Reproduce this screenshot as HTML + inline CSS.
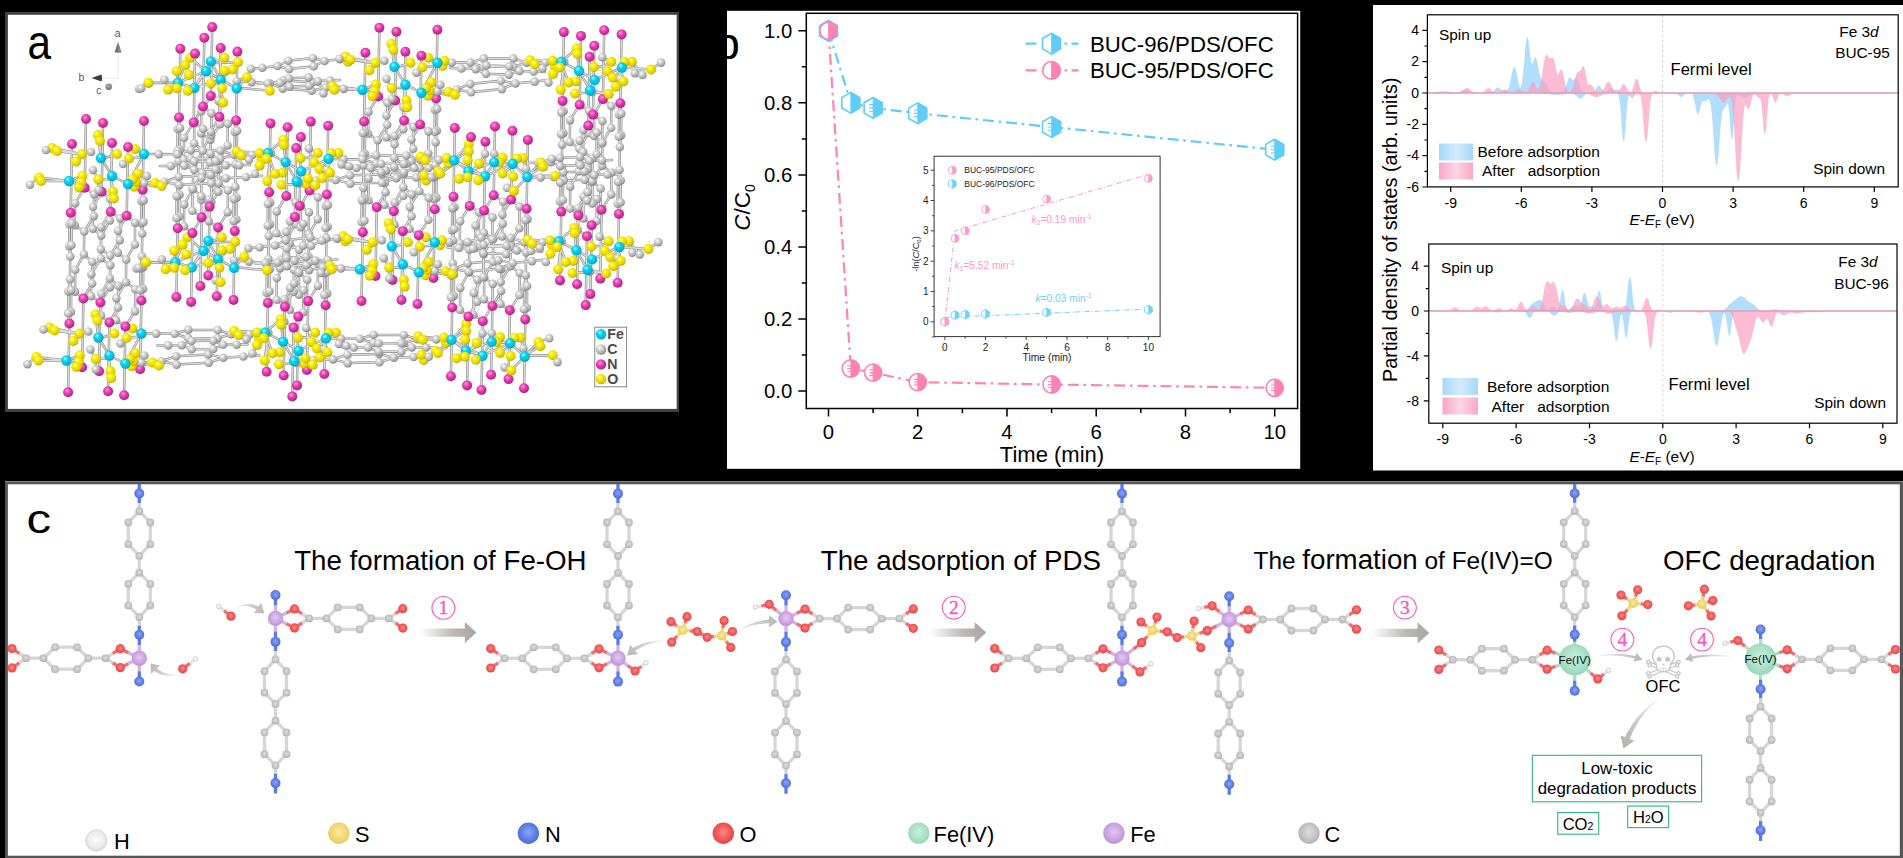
<!DOCTYPE html>
<html><head><meta charset="utf-8"><title>Figure</title>
<style>
html,body{margin:0;padding:0;background:#000;}
body{width:1903px;height:858px;overflow:hidden;position:relative;font-family:"Liberation Sans",sans-serif;}
svg text{font-family:"Liberation Sans",sans-serif;}
</style></head><body>
<svg width="1903" height="858" viewBox="0 0 1903 858" style="position:absolute;left:0;top:0;display:block" font-family="Liberation Sans, sans-serif">
<defs>
<radialGradient id="gC" cx="0.38" cy="0.33" r="0.72"><stop offset="0" stop-color="#ffffff"/><stop offset="0.35" stop-color="#d2d2d2"/><stop offset="0.75" stop-color="#a8a8a8"/><stop offset="1" stop-color="#787878"/></radialGradient>
<radialGradient id="gO" cx="0.38" cy="0.33" r="0.72"><stop offset="0" stop-color="#ffffa0"/><stop offset="0.35" stop-color="#f8ea00"/><stop offset="0.75" stop-color="#e0cf00"/><stop offset="1" stop-color="#a89a00"/></radialGradient>
<radialGradient id="gN" cx="0.4" cy="0.35" r="0.7"><stop offset="0" stop-color="#ff9be0"/><stop offset="0.4" stop-color="#ea3eb4"/><stop offset="1" stop-color="#a81c7c"/></radialGradient>
<radialGradient id="gF" cx="0.38" cy="0.33" r="0.72"><stop offset="0" stop-color="#aaf8ff"/><stop offset="0.35" stop-color="#08d2f0"/><stop offset="0.75" stop-color="#00bcdc"/><stop offset="1" stop-color="#0090ac"/></radialGradient>
<radialGradient id="mC" cx="0.5" cy="0.45" r="0.55"><stop offset="0" stop-color="#dedede"/><stop offset="0.7" stop-color="#c0c0c0"/><stop offset="1" stop-color="#b4b4b4"/></radialGradient>
<radialGradient id="mO" cx="0.5" cy="0.45" r="0.55"><stop offset="0" stop-color="#fa8888"/><stop offset="0.7" stop-color="#f05252"/><stop offset="1" stop-color="#e84646"/></radialGradient>
<radialGradient id="mN" cx="0.5" cy="0.45" r="0.55"><stop offset="0" stop-color="#8ca5f3"/><stop offset="0.7" stop-color="#5a7ae6"/><stop offset="1" stop-color="#4e6fdc"/></radialGradient>
<radialGradient id="mFe" cx="0.5" cy="0.45" r="0.55"><stop offset="0" stop-color="#e6c6f4"/><stop offset="0.7" stop-color="#c9a2e0"/><stop offset="1" stop-color="#bb93d4"/></radialGradient>
<radialGradient id="mS" cx="0.5" cy="0.45" r="0.55"><stop offset="0" stop-color="#f9e9a4"/><stop offset="0.7" stop-color="#f0d670"/><stop offset="1" stop-color="#e6c95c"/></radialGradient>
<radialGradient id="mH" cx="0.5" cy="0.45" r="0.55"><stop offset="0" stop-color="#fbfbfb"/><stop offset="0.7" stop-color="#ececec"/><stop offset="1" stop-color="#d6d6d6"/></radialGradient>
<radialGradient id="mF4" cx="0.5" cy="0.45" r="0.55"><stop offset="0" stop-color="#c9f0de"/><stop offset="0.7" stop-color="#a6dfc4"/><stop offset="1" stop-color="#98d6b8"/></radialGradient>
<linearGradient id="arr" x1="0" y1="0" x2="1" y2="0"><stop offset="0" stop-color="#aaa6a4" stop-opacity="0"/><stop offset="0.6" stop-color="#aaa6a4" stop-opacity="0.8"/><stop offset="1" stop-color="#a9a5a3" stop-opacity="1"/></linearGradient>
<linearGradient id="legB" x1="0" y1="0" x2="1" y2="0"><stop offset="0" stop-color="#a6d8f8"/><stop offset="0.5" stop-color="#d3ecfc"/><stop offset="1" stop-color="#a6d8f8"/></linearGradient>
<linearGradient id="legP" x1="0" y1="0" x2="1" y2="0"><stop offset="0" stop-color="#f9a6c6"/><stop offset="0.5" stop-color="#fdd6e5"/><stop offset="1" stop-color="#f9a6c6"/></linearGradient>
</defs>
<rect x="5" y="12" width="674" height="400" fill="#424242"/><rect x="7.900" y="14.800" width="668.800" height="394.100" fill="#fff"/><clipPath id="clipa"><rect x="7.900" y="14.800" width="668.800" height="394.100"/></clipPath><g clip-path="url(#clipa)"><path d="M86.0 119.0L84.7 187.8M84.7 187.8L94.1 194.2M84.7 187.8L75.1 203.2M94.1 194.2L93.8 216.1M75.1 203.2L74.8 225.1M93.8 216.1L84.2 231.5M74.8 225.1L84.2 231.5M84.2 231.5L83.9 254.3M83.9 254.3L75.2 269.8M83.9 254.3L92.3 261.7M75.2 269.8L75.0 291.6M92.3 261.7L92.1 283.5M75.0 291.6L83.4 298.5M92.1 283.5L83.4 298.5M103.0 123.0L101.7 191.8M101.7 191.8L110.1 198.7M101.7 191.8L93.0 206.8M110.1 198.7L109.9 220.5M93.0 206.8L92.8 228.6M109.9 220.5L101.2 235.5M92.8 228.6L101.2 235.5M101.2 235.5L100.9 258.3M100.9 258.3L110.3 265.2M100.9 258.3L91.3 274.2M110.3 265.2L110.0 287.1M91.3 274.2L91.0 296.1M110.0 287.1L100.4 302.5M91.0 296.1L100.4 302.5M144.0 121.0L142.7 189.8M142.7 189.8L143.7 200.2M142.7 189.8L141.4 201.3M143.7 200.2L143.5 222.0M141.4 201.3L141.2 223.1M143.5 222.0L142.2 233.5M141.2 223.1L142.2 233.5M142.2 233.5L141.9 256.3M141.9 256.3L143.2 267.1M141.9 256.3L140.4 268.4M143.2 267.1L143.0 288.9M140.4 268.4L140.1 290.3M143.0 288.9L141.4 300.5M140.1 290.3L141.4 300.5M72.0 144.0L70.7 212.8M70.7 212.8L71.7 223.2M70.7 212.8L69.4 224.3M71.7 223.2L71.5 245.0M69.4 224.3L69.2 246.1M71.5 245.0L70.2 256.5M69.2 246.1L70.2 256.5M70.2 256.5L69.9 279.3M69.9 279.3L71.2 290.1M69.9 279.3L68.4 291.4M71.2 290.1L71.0 311.9M68.4 291.4L68.1 313.3M71.0 311.9L69.4 323.5M68.1 313.3L69.4 323.5M112.0 143.0L110.7 211.8M110.7 211.8L120.1 218.2M110.7 211.8L101.1 227.2M120.1 218.2L119.8 240.1M101.1 227.2L100.8 249.1M119.8 240.1L110.2 255.5M100.8 249.1L110.2 255.5M110.2 255.5L109.9 278.3M109.9 278.3L101.2 293.8M109.9 278.3L118.3 285.7M101.2 293.8L101.0 315.6M118.3 285.7L118.1 307.5M101.0 315.6L109.4 322.5M118.1 307.5L109.4 322.5M128.0 147.0L126.7 215.8M126.7 215.8L135.1 222.7M126.7 215.8L118.0 230.8M135.1 222.7L134.9 244.5M118.0 230.8L117.8 252.6M134.9 244.5L126.2 259.5M117.8 252.6L126.2 259.5M126.2 259.5L125.9 282.3M125.9 282.3L135.3 289.2M125.9 282.3L116.3 298.2M135.3 289.2L135.0 311.1M116.3 298.2L116.0 320.1M135.0 311.1L125.4 326.5M116.0 320.1L125.4 326.5M52.0 148.0L85.4 155.0M57.0 151.0L85.4 155.0M98.0 135.0L101.0 158.0M100.0 141.0L101.0 158.0M82.0 154.0L85.4 155.0M76.0 161.5L85.4 155.0M117.0 154.0L102.4 159.0M135.0 149.0L144.0 154.0M129.0 158.5L143.4 157.0M138.0 173.7L127.4 183.0M39.0 177.4L69.0 181.0M41.0 181.0L69.0 181.0M82.4 175.7L71.4 180.0M81.2 182.5L71.4 180.0M79.0 187.4L71.4 180.0M98.3 179.4L111.4 179.0M113.0 191.6L111.4 179.0M113.8 198.4L111.4 179.0M155.0 183.0L128.0 184.0M161.5 186.0L128.0 184.0M132.6 179.4L127.4 183.0M46.0 150.0L52.0 148.0M30.0 184.7L39.0 177.4M98.3 190.0L98.3 179.4M91.0 152.0L82.0 154.0M123.0 164.0L129.0 158.5M93.0 170.0L98.3 179.4M147.0 176.0L138.0 173.7M128.0 184.0L144.0 154.0M128.0 184.0L112.0 176.0M101.0 158.0L112.0 176.0M379.4 27.7L378.1 96.5M378.1 96.5L387.5 102.9M378.1 96.5L368.5 111.9M387.5 102.9L387.2 124.8M368.5 111.9L368.2 133.8M387.2 124.8L377.6 140.2M368.2 133.8L377.6 140.2M377.6 140.2L377.3 163.0M377.3 163.0L368.6 178.5M377.3 163.0L385.7 170.4M368.6 178.5L368.4 200.3M385.7 170.4L385.5 192.2M368.4 200.3L376.8 207.2M385.5 192.2L376.8 207.2M396.4 31.7L395.1 100.5M395.1 100.5L403.5 107.4M395.1 100.5L386.4 115.5M403.5 107.4L403.3 129.2M386.4 115.5L386.2 137.3M403.3 129.2L394.6 144.2M386.2 137.3L394.6 144.2M394.6 144.2L394.3 167.0M394.3 167.0L403.7 173.9M394.3 167.0L384.7 182.9M403.7 173.9L403.4 195.8M384.7 182.9L384.4 204.8M403.4 195.8L393.8 211.2M384.4 204.8L393.8 211.2M437.4 29.7L436.1 98.5M436.1 98.5L437.1 108.9M436.1 98.5L434.8 110.0M437.1 108.9L436.9 130.7M434.8 110.0L434.6 131.8M436.9 130.7L435.6 142.2M434.6 131.8L435.6 142.2M435.6 142.2L435.3 165.0M435.3 165.0L436.6 175.8M435.3 165.0L433.8 177.1M436.6 175.8L436.4 197.6M433.8 177.1L433.5 199.0M436.4 197.6L434.8 209.2M433.5 199.0L434.8 209.2M365.4 52.7L364.1 121.5M364.1 121.5L365.1 131.9M364.1 121.5L362.8 133.0M365.1 131.9L364.9 153.7M362.8 133.0L362.6 154.8M364.9 153.7L363.6 165.2M362.6 154.8L363.6 165.2M363.6 165.2L363.3 188.0M363.3 188.0L364.6 198.8M363.3 188.0L361.8 200.1M364.6 198.8L364.4 220.6M361.8 200.1L361.5 222.0M364.4 220.6L362.8 232.2M361.5 222.0L362.8 232.2M405.4 51.7L404.1 120.5M404.1 120.5L413.5 126.9M404.1 120.5L394.5 135.9M413.5 126.9L413.2 148.8M394.5 135.9L394.2 157.8M413.2 148.8L403.6 164.2M394.2 157.8L403.6 164.2M403.6 164.2L403.3 187.0M403.3 187.0L394.6 202.5M403.3 187.0L411.7 194.4M394.6 202.5L394.4 224.3M411.7 194.4L411.5 216.2M394.4 224.3L402.8 231.2M411.5 216.2L402.8 231.2M421.4 55.7L420.1 124.5M420.1 124.5L428.5 131.4M420.1 124.5L411.4 139.5M428.5 131.4L428.3 153.2M411.4 139.5L411.2 161.3M428.3 153.2L419.6 168.2M411.2 161.3L419.6 168.2M419.6 168.2L419.3 191.0M419.3 191.0L428.7 197.9M419.3 191.0L409.7 206.9M428.7 197.9L428.4 219.8M409.7 206.9L409.4 228.8M428.4 219.8L418.8 235.2M409.4 228.8L418.8 235.2M345.4 56.7L378.8 63.7M350.4 59.7L378.8 63.7M391.4 43.7L394.4 66.7M393.4 49.7L394.4 66.7M375.4 62.7L378.8 63.7M369.4 70.2L378.8 63.7M410.4 62.7L395.8 67.7M428.4 57.7L437.4 62.7M422.4 67.2L436.8 65.7M431.4 82.4L420.8 91.7M332.4 86.1L362.4 89.7M334.4 89.7L362.4 89.7M375.8 84.4L364.8 88.7M374.6 91.2L364.8 88.7M372.4 96.1L364.8 88.7M391.7 88.1L404.8 87.7M406.4 100.3L404.8 87.7M407.2 107.1L404.8 87.7M448.4 91.7L421.4 92.7M454.9 94.7L421.4 92.7M426.0 88.1L420.8 91.7M339.4 58.7L345.4 56.7M323.4 93.4L332.4 86.1M391.7 98.7L391.7 88.1M384.4 60.7L375.4 62.7M416.4 72.7L422.4 67.2M386.4 78.7L391.7 88.1M440.4 84.7L431.4 82.4M421.4 92.7L437.4 62.7M421.4 92.7L405.4 84.7M394.4 66.7L405.4 84.7M83.4 298.5L82.1 367.3M100.4 302.5L99.1 371.3M141.4 300.5L140.1 369.3M69.4 323.5L68.1 392.3M109.4 322.5L108.1 391.3M125.4 326.5L124.1 395.3M49.4 327.5L82.8 334.5M54.4 330.5L82.8 334.5M95.4 314.5L98.4 337.5M97.4 320.5L98.4 337.5M79.4 333.5L82.8 334.5M73.4 341.0L82.8 334.5M114.4 333.5L99.8 338.5M132.4 328.5L141.4 333.5M126.4 338.0L140.8 336.5M135.4 353.2L124.8 362.5M36.4 356.9L66.4 360.5M38.4 360.5L66.4 360.5M79.8 355.2L68.8 359.5M78.6 362.0L68.8 359.5M76.4 366.9L68.8 359.5M95.7 358.9L108.8 358.5M110.4 371.1L108.8 358.5M111.2 377.9L108.8 358.5M152.4 362.5L125.4 363.5M158.9 365.5L125.4 363.5M130.0 358.9L124.8 362.5M43.4 329.5L49.4 327.5M27.4 364.2L36.4 356.9M95.7 369.5L95.7 358.9M88.4 331.5L79.4 333.5M120.4 343.5L126.4 338.0M90.4 349.5L95.7 358.9M144.4 355.5L135.4 353.2M125.4 363.5L141.4 333.5M125.4 363.5L109.4 355.5M98.4 337.5L109.4 355.5M376.8 207.2L375.5 276.0M393.8 211.2L392.5 280.0M434.8 209.2L433.5 278.0M362.8 232.2L361.5 301.0M402.8 231.2L401.5 300.0M418.8 235.2L417.5 304.0M342.8 236.2L376.2 243.2M347.8 239.2L376.2 243.2M388.8 223.2L391.8 246.2M390.8 229.2L391.8 246.2M372.8 242.2L376.2 243.2M366.8 249.7L376.2 243.2M407.8 242.2L393.2 247.2M425.8 237.2L434.8 242.2M419.8 246.7L434.2 245.2M428.8 261.9L418.2 271.2M329.8 265.6L359.8 269.2M331.8 269.2L359.8 269.2M373.2 263.9L362.2 268.2M372.0 270.7L362.2 268.2M369.8 275.6L362.2 268.2M389.1 267.6L402.2 267.2M403.8 279.8L402.2 267.2M404.6 286.6L402.2 267.2M445.8 271.2L418.8 272.2M452.3 274.2L418.8 272.2M423.4 267.6L418.2 271.2M336.8 238.2L342.8 236.2M320.8 272.9L329.8 265.6M389.1 278.2L389.1 267.6M381.8 240.2L372.8 242.2M413.8 252.2L419.8 246.7M383.8 258.2L389.1 267.6M437.8 264.2L428.8 261.9M418.8 272.2L434.8 242.2M418.8 272.2L402.8 264.2M391.8 246.2L402.8 264.2M270.5 123.4L269.2 192.2M269.2 192.2L270.2 202.6M269.2 192.2L267.9 203.7M270.2 202.6L270.0 224.4M267.9 203.7L267.7 225.5M270.0 224.4L268.7 235.9M267.7 225.5L268.7 235.9M268.7 235.9L268.4 258.7M268.4 258.7L269.7 269.5M268.4 258.7L266.9 270.8M269.7 269.5L269.5 291.3M266.9 270.8L266.6 292.7M269.5 291.3L267.9 302.9M266.6 292.7L267.9 302.9M287.6 127.2L286.3 196.0M286.3 196.0L295.7 202.4M286.3 196.0L276.7 211.4M295.7 202.4L295.4 224.3M276.7 211.4L276.4 233.3M295.4 224.3L285.8 239.7M276.4 233.3L285.8 239.7M285.8 239.7L285.5 262.5M285.5 262.5L276.8 278.0M285.5 262.5L293.9 269.9M276.8 278.0L276.6 299.8M293.9 269.9L293.7 291.7M276.6 299.8L285.0 306.7M293.7 291.7L285.0 306.7M310.8 121.6L309.5 190.4M309.5 190.4L317.9 197.3M309.5 190.4L300.8 205.4M317.9 197.3L317.7 219.1M300.8 205.4L300.6 227.2M317.7 219.1L309.0 234.1M300.6 227.2L309.0 234.1M309.0 234.1L308.7 256.9M308.7 256.9L318.1 263.8M308.7 256.9L299.1 272.8M318.1 263.8L317.8 285.7M299.1 272.8L298.8 294.7M317.8 285.7L308.2 301.1M298.8 294.7L308.2 301.1M328.2 125.7L326.9 194.5M326.9 194.5L327.9 204.9M326.9 194.5L325.6 206.0M327.9 204.9L327.7 226.7M325.6 206.0L325.4 227.8M327.7 226.7L326.4 238.2M325.4 227.8L326.4 238.2M326.4 238.2L326.1 261.0M326.1 261.0L327.4 271.8M326.1 261.0L324.6 273.1M327.4 271.8L327.2 293.6M324.6 273.1L324.3 295.0M327.2 293.6L325.6 305.2M324.3 295.0L325.6 305.2M300.9 137.1L299.6 205.9M299.6 205.9L309.0 212.3M299.6 205.9L290.0 221.3M309.0 212.3L308.7 234.2M290.0 221.3L289.7 243.2M308.7 234.2L299.1 249.6M289.7 243.2L299.1 249.6M299.1 249.6L298.8 272.4M298.8 272.4L290.1 287.9M298.8 272.4L307.2 279.8M290.1 287.9L289.9 309.7M307.2 279.8L307.0 301.6M289.9 309.7L298.3 316.6M307.0 301.6L298.3 316.6M296.2 148.1L294.9 216.9M294.9 216.9L303.3 223.8M294.9 216.9L286.2 231.9M303.3 223.8L303.1 245.6M286.2 231.9L286.0 253.7M303.1 245.6L294.4 260.6M286.0 253.7L294.4 260.6M294.4 260.6L294.1 283.4M294.1 283.4L303.5 290.3M294.1 283.4L284.5 299.3M303.5 290.3L303.2 312.2M284.5 299.3L284.2 321.2M303.2 312.2L293.6 327.6M284.2 321.2L293.6 327.6M241.4 155.6L267.9 153.0M236.8 151.5L267.9 153.0M283.4 139.7L267.9 153.0M283.8 145.1L285.6 162.1M266.4 158.8L269.9 159.4M259.6 165.6L269.9 159.4M275.0 173.8L269.9 159.4M282.3 172.7L287.0 163.2M267.4 181.0L269.9 159.4M281.5 184.8L295.6 184.1M300.5 158.3L310.2 157.6M314.1 162.5L310.2 157.6M317.9 153.0L310.2 157.6M331.2 153.3L328.5 158.8M338.4 153.0L328.5 158.8M322.4 178.0L327.6 161.7M315.3 185.3L296.7 181.5M330.0 172.7L327.6 161.7M319.4 168.9L327.6 161.7M270.9 153.0L266.4 158.8M255.0 173.8L259.6 165.6M299.0 183.3L315.3 185.3M327.0 170.0L330.0 172.7M249.0 159.8L241.4 155.6M308.8 148.4L317.9 153.0M349.0 166.2L338.4 153.0M341.4 164.4L338.4 153.0M285.6 162.1L301.2 171.2M285.6 162.1L296.7 181.5M285.6 162.1L267.9 153.0M328.5 158.8L301.2 171.2M301.2 171.2L296.7 181.5M563.9 32.1L562.6 100.9M562.6 100.9L563.6 111.3M562.6 100.9L561.3 112.4M563.6 111.3L563.4 133.1M561.3 112.4L561.1 134.2M563.4 133.1L562.1 144.6M561.1 134.2L562.1 144.6M562.1 144.6L561.8 167.4M561.8 167.4L563.1 178.2M561.8 167.4L560.3 179.5M563.1 178.2L562.9 200.0M560.3 179.5L560.0 201.4M562.9 200.0L561.3 211.6M560.0 201.4L561.3 211.6M581.0 35.9L579.7 104.7M579.7 104.7L589.1 111.1M579.7 104.7L570.1 120.1M589.1 111.1L588.8 133.0M570.1 120.1L569.8 142.0M588.8 133.0L579.2 148.4M569.8 142.0L579.2 148.4M579.2 148.4L578.9 171.2M578.9 171.2L570.2 186.7M578.9 171.2L587.3 178.6M570.2 186.7L570.0 208.5M587.3 178.6L587.1 200.4M570.0 208.5L578.4 215.4M587.1 200.4L578.4 215.4M604.2 30.3L602.9 99.1M602.9 99.1L611.3 106.0M602.9 99.1L594.2 114.1M611.3 106.0L611.1 127.8M594.2 114.1L594.0 135.9M611.1 127.8L602.4 142.8M594.0 135.9L602.4 142.8M602.4 142.8L602.1 165.6M602.1 165.6L611.5 172.5M602.1 165.6L592.5 181.5M611.5 172.5L611.2 194.4M592.5 181.5L592.2 203.4M611.2 194.4L601.6 209.8M592.2 203.4L601.6 209.8M621.6 34.4L620.3 103.2M620.3 103.2L621.3 113.6M620.3 103.2L619.0 114.7M621.3 113.6L621.1 135.4M619.0 114.7L618.8 136.5M621.1 135.4L619.8 146.9M618.8 136.5L619.8 146.9M619.8 146.9L619.5 169.7M619.5 169.7L620.8 180.5M619.5 169.7L618.0 181.8M620.8 180.5L620.6 202.3M618.0 181.8L617.7 203.7M620.6 202.3L619.0 213.9M617.7 203.7L619.0 213.9M594.3 45.8L593.0 114.6M593.0 114.6L602.4 121.0M593.0 114.6L583.4 130.0M602.4 121.0L602.1 142.9M583.4 130.0L583.1 151.9M602.1 142.9L592.5 158.3M583.1 151.9L592.5 158.3M592.5 158.3L592.2 181.1M592.2 181.1L583.5 196.6M592.2 181.1L600.6 188.5M583.5 196.6L583.3 218.4M600.6 188.5L600.4 210.3M583.3 218.4L591.7 225.3M600.4 210.3L591.7 225.3M589.6 56.8L588.3 125.6M588.3 125.6L596.7 132.5M588.3 125.6L579.6 140.6M596.7 132.5L596.5 154.3M579.6 140.6L579.4 162.4M596.5 154.3L587.8 169.3M579.4 162.4L587.8 169.3M587.8 169.3L587.5 192.1M587.5 192.1L596.9 199.0M587.5 192.1L577.9 208.0M596.9 199.0L596.6 220.9M577.9 208.0L577.6 229.9M596.6 220.9L587.0 236.3M577.6 229.9L587.0 236.3M534.8 64.3L561.3 61.7M530.2 60.2L561.3 61.7M576.8 48.4L561.3 61.7M577.2 53.8L579.0 70.8M559.8 67.5L563.3 68.1M553.0 74.3L563.3 68.1M568.4 82.5L563.3 68.1M575.7 81.4L580.4 71.9M560.8 89.7L563.3 68.1M574.9 93.5L589.0 92.8M593.9 67.0L603.6 66.3M607.5 71.2L603.6 66.3M611.3 61.7L603.6 66.3M624.6 62.0L621.9 67.5M631.8 61.7L621.9 67.5M615.8 86.7L621.0 70.4M608.7 94.0L590.1 90.2M623.4 81.4L621.0 70.4M612.8 77.6L621.0 70.4M564.3 61.7L559.8 67.5M548.4 82.5L553.0 74.3M592.4 92.0L608.7 94.0M620.4 78.7L623.4 81.4M542.4 68.5L534.8 64.3M602.2 57.1L611.3 61.7M642.4 74.9L631.8 61.7M634.8 73.1L631.8 61.7M579.0 70.8L594.6 79.9M579.0 70.8L590.1 90.2M579.0 70.8L561.3 61.7M621.9 67.5L594.6 79.9M594.6 79.9L590.1 90.2M267.9 302.9L266.6 371.7M285.0 306.7L283.7 375.5M308.2 301.1L306.9 369.9M325.6 305.2L324.3 374.0M298.3 316.6L297.0 385.4M293.6 327.6L292.3 396.4M238.8 335.1L265.3 332.5M234.2 331.0L265.3 332.5M280.8 319.2L265.3 332.5M281.2 324.6L283.0 341.6M263.8 338.3L267.3 338.9M257.0 345.1L267.3 338.9M272.4 353.3L267.3 338.9M279.7 352.2L284.4 342.7M264.8 360.5L267.3 338.9M278.9 364.3L293.0 363.6M297.9 337.8L307.6 337.1M311.5 342.0L307.6 337.1M315.3 332.5L307.6 337.1M328.6 332.8L325.9 338.3M335.8 332.5L325.9 338.3M319.8 357.5L325.0 341.2M312.7 364.8L294.1 361.0M327.4 352.2L325.0 341.2M316.8 348.4L325.0 341.2M268.3 332.5L263.8 338.3M252.4 353.3L257.0 345.1M296.4 362.8L312.7 364.8M324.4 349.5L327.4 352.2M246.4 339.3L238.8 335.1M306.2 327.9L315.3 332.5M346.4 345.7L335.8 332.5M338.8 343.9L335.8 332.5M283.0 341.6L298.6 350.7M283.0 341.6L294.1 361.0M283.0 341.6L265.3 332.5M325.9 338.3L298.6 350.7M298.6 350.7L294.1 361.0M561.3 211.6L560.0 280.4M578.4 215.4L577.1 284.2M601.6 209.8L600.3 278.6M619.0 213.9L617.7 282.7M591.7 225.3L590.4 294.1M587.0 236.3L585.7 305.1M532.2 243.8L558.7 241.2M527.6 239.7L558.7 241.2M574.2 227.9L558.7 241.2M574.6 233.3L576.4 250.3M557.2 247.0L560.7 247.6M550.4 253.8L560.7 247.6M565.8 262.0L560.7 247.6M573.1 260.9L577.8 251.4M558.2 269.2L560.7 247.6M572.3 273.0L586.4 272.3M591.3 246.5L601.0 245.8M604.9 250.7L601.0 245.8M608.7 241.2L601.0 245.8M622.0 241.5L619.3 247.0M629.2 241.2L619.3 247.0M613.2 266.2L618.4 249.9M606.1 273.5L587.5 269.7M620.8 260.9L618.4 249.9M610.2 257.1L618.4 249.9M561.7 241.2L557.2 247.0M545.8 262.0L550.4 253.8M589.8 271.5L606.1 273.5M617.8 258.2L620.8 260.9M539.8 248.0L532.2 243.8M599.6 236.6L608.7 241.2M639.8 254.4L629.2 241.2M632.2 252.6L629.2 241.2M576.4 250.3L592.0 259.4M576.4 250.3L587.5 269.7M576.4 250.3L558.7 241.2M619.3 247.0L592.0 259.4M592.0 259.4L587.5 269.7M212.2 27.1L210.9 95.9M210.9 95.9L220.3 102.3M210.9 95.9L201.3 111.3M220.3 102.3L220.0 124.2M201.3 111.3L201.0 133.2M220.0 124.2L210.4 139.6M201.0 133.2L210.4 139.6M210.4 139.6L210.1 162.4M210.1 162.4L201.4 177.9M210.1 162.4L218.5 169.8M201.4 177.9L201.2 199.7M218.5 169.8L218.3 191.6M201.2 199.7L209.6 206.6M218.3 191.6L209.6 206.6M204.3 37.7L203.0 106.5M203.0 106.5L211.4 113.4M203.0 106.5L194.3 121.5M211.4 113.4L211.2 135.2M194.3 121.5L194.1 143.3M211.2 135.2L202.5 150.2M194.1 143.3L202.5 150.2M202.5 150.2L202.2 173.0M202.2 173.0L211.6 179.9M202.2 173.0L192.6 188.9M211.6 179.9L211.3 201.8M192.6 188.9L192.3 210.8M211.3 201.8L201.7 217.2M192.3 210.8L201.7 217.2M180.3 48.7L179.0 117.5M179.0 117.5L180.0 127.9M179.0 117.5L177.7 129.0M180.0 127.9L179.8 149.7M177.7 129.0L177.5 150.8M179.8 149.7L178.5 161.2M177.5 150.8L178.5 161.2M178.5 161.2L178.2 184.0M178.2 184.0L179.5 194.8M178.2 184.0L176.7 196.1M179.5 194.8L179.3 216.6M176.7 196.1L176.4 218.0M179.3 216.6L177.7 228.2M176.4 218.0L177.7 228.2M195.0 53.6L193.7 122.4M193.7 122.4L203.1 128.8M193.7 122.4L184.1 137.8M203.1 128.8L202.8 150.7M184.1 137.8L183.8 159.7M202.8 150.7L193.2 166.1M183.8 159.7L193.2 166.1M193.2 166.1L192.9 188.9M192.9 188.9L184.2 204.4M192.9 188.9L201.3 196.3M184.2 204.4L184.0 226.2M201.3 196.3L201.1 218.1M184.0 226.2L192.4 233.1M201.1 218.1L192.4 233.1M220.7 48.0L219.4 116.8M219.4 116.8L227.8 123.7M219.4 116.8L210.7 131.8M227.8 123.7L227.6 145.5M210.7 131.8L210.5 153.6M227.6 145.5L218.9 160.5M210.5 153.6L218.9 160.5M218.9 160.5L218.6 183.3M218.6 183.3L228.0 190.2M218.6 183.3L209.0 199.2M228.0 190.2L227.7 212.1M209.0 199.2L208.7 221.1M227.7 212.1L218.1 227.5M208.7 221.1L218.1 227.5M237.4 51.6L236.1 120.4M236.1 120.4L237.1 130.8M236.1 120.4L234.8 131.9M237.1 130.8L236.9 152.6M234.8 131.9L234.6 153.7M236.9 152.6L235.6 164.1M234.6 153.7L235.6 164.1M235.6 164.1L235.3 186.9M235.3 186.9L236.6 197.7M235.3 186.9L233.8 199.0M236.6 197.7L236.4 219.5M233.8 199.0L233.5 220.9M236.4 219.5L234.8 231.1M233.5 220.9L234.8 231.1M148.5 83.0L177.9 82.7M168.1 89.6L177.9 82.7M176.7 71.2L177.9 82.7M185.2 65.1L177.9 82.7M188.9 74.9L179.7 84.7M190.1 57.7L206.1 71.2M224.4 57.7L211.6 63.1M237.9 62.2L211.6 63.1M224.4 70.7L220.7 79.8M232.5 69.5L220.7 79.8M246.9 77.3L236.8 87.6M210.9 83.4L220.1 84.0M222.0 88.3L220.1 84.0M223.2 102.5L220.1 84.0M176.7 88.3L179.7 84.7M187.7 90.8L194.4 89.6M269.7 90.8L236.8 87.6M164.4 79.8L168.1 89.6M250.9 68.8L246.9 77.3M236.7 81.0L246.9 77.3M218.3 100.6L223.2 102.5M141.2 88.3L148.5 83.0M194.3 87.9L206.1 71.2M194.3 87.9L210.9 61.4M194.3 87.9L177.9 82.7M194.3 87.9L220.7 79.8M236.7 88.3L206.1 71.2M236.7 88.3L220.7 79.8M206.1 71.2L210.9 61.4M206.1 71.2L177.9 82.7M206.1 71.2L220.7 79.8M210.9 61.4L220.7 79.8M209.6 206.6L208.3 275.4M201.7 217.2L200.4 286.0M177.7 228.2L176.4 297.0M192.4 233.1L191.1 301.9M218.1 227.5L216.8 296.3M234.8 231.1L233.5 299.9M145.9 262.5L175.3 262.2M165.5 269.1L175.3 262.2M174.1 250.7L175.3 262.2M182.6 244.6L175.3 262.2M186.3 254.4L177.1 264.2M187.5 237.2L203.5 250.7M221.8 237.2L209.0 242.6M235.3 241.7L209.0 242.6M221.8 250.2L218.1 259.3M229.9 249.0L218.1 259.3M244.3 256.8L234.2 267.1M208.3 262.9L217.5 263.5M219.4 267.8L217.5 263.5M220.6 282.0L217.5 263.5M174.1 267.8L177.1 264.2M185.1 270.3L191.8 269.1M267.1 270.3L234.2 267.1M161.8 259.3L165.5 269.1M248.3 248.3L244.3 256.8M234.1 260.5L244.3 256.8M215.7 280.1L220.6 282.0M138.6 267.8L145.9 262.5M191.7 267.4L203.5 250.7M191.7 267.4L208.3 240.9M191.7 267.4L175.3 262.2M191.7 267.4L218.1 259.3M234.1 267.8L203.5 250.7M234.1 267.8L218.1 259.3M203.5 250.7L208.3 240.9M203.5 250.7L175.3 262.2M203.5 250.7L218.1 259.3M208.3 240.9L218.1 259.3M454.8 128.0L453.5 196.8M453.5 196.8L454.5 207.2M453.5 196.8L452.2 208.3M454.5 207.2L454.3 229.0M452.2 208.3L452.0 230.1M454.3 229.0L453.0 240.5M452.0 230.1L453.0 240.5M453.0 240.5L452.7 263.3M452.7 263.3L454.0 274.1M452.7 263.3L451.2 275.4M454.0 274.1L453.8 295.9M451.2 275.4L450.9 297.3M453.8 295.9L452.2 307.5M450.9 297.3L452.2 307.5M471.0 137.1L469.7 205.9M469.7 205.9L479.1 212.3M469.7 205.9L460.1 221.3M479.1 212.3L478.8 234.2M460.1 221.3L459.8 243.2M478.8 234.2L469.2 249.6M459.8 243.2L469.2 249.6M469.2 249.6L468.9 272.4M468.9 272.4L460.2 287.9M468.9 272.4L477.3 279.8M460.2 287.9L460.0 309.7M477.3 279.8L477.1 301.6M460.0 309.7L468.4 316.6M477.1 301.6L468.4 316.6M485.4 141.7L484.1 210.5M484.1 210.5L492.5 217.4M484.1 210.5L475.4 225.5M492.5 217.4L492.3 239.2M475.4 225.5L475.2 247.3M492.3 239.2L483.6 254.2M475.2 247.3L483.6 254.2M483.6 254.2L483.3 277.0M483.3 277.0L492.7 283.9M483.3 277.0L473.7 292.9M492.7 283.9L492.4 305.8M473.7 292.9L473.4 314.8M492.4 305.8L482.8 321.2M473.4 314.8L482.8 321.2M495.0 126.5L493.7 195.3M493.7 195.3L503.1 201.7M493.7 195.3L484.1 210.7M503.1 201.7L502.8 223.6M484.1 210.7L483.8 232.6M502.8 223.6L493.2 239.0M483.8 232.6L493.2 239.0M493.2 239.0L492.9 261.8M492.9 261.8L484.2 277.3M492.9 261.8L501.3 269.2M484.2 277.3L484.0 299.1M501.3 269.2L501.1 291.0M484.0 299.1L492.4 306.0M501.1 291.0L492.4 306.0M512.4 130.8L511.1 199.6M511.1 199.6L519.5 206.5M511.1 199.6L502.4 214.6M519.5 206.5L519.3 228.3M502.4 214.6L502.2 236.4M519.3 228.3L510.6 243.3M502.2 236.4L510.6 243.3M510.6 243.3L510.3 266.1M510.3 266.1L519.7 273.0M510.3 266.1L500.7 282.0M519.7 273.0L519.4 294.9M500.7 282.0L500.4 303.9M519.4 294.9L509.8 310.3M500.4 303.9L509.8 310.3M527.9 139.9L526.6 208.7M526.6 208.7L527.6 219.1M526.6 208.7L525.3 220.2M527.6 219.1L527.4 240.9M525.3 220.2L525.1 242.0M527.4 240.9L526.1 252.4M525.1 242.0L526.1 252.4M526.1 252.4L525.8 275.2M525.8 275.2L527.1 286.0M525.8 275.2L524.3 287.3M527.1 286.0L526.9 307.8M524.3 287.3L524.0 309.2M526.9 307.8L525.3 319.4M524.0 309.2L525.3 319.4M425.3 160.3L454.1 160.3M420.7 156.8L454.1 160.3M438.2 171.2L454.2 164.0M440.4 173.5L454.2 164.0M468.8 144.0L454.1 160.3M468.8 151.2L454.1 160.3M467.7 160.3L468.5 171.2M479.1 163.4L470.4 173.1M502.6 157.6L494.2 162.1M499.2 162.6L494.4 162.5M517.0 158.4L512.7 163.7M523.0 158.0L512.7 163.7M541.2 162.6L527.3 175.9M543.0 166.7L527.3 175.9M459.1 178.8L468.5 171.2M467.4 177.3L470.4 173.1M478.3 180.3L484.8 177.7M502.6 173.5L511.8 166.8M513.2 176.5L511.8 166.8M513.9 190.9L527.3 177.0M555.3 175.8L527.3 175.9M485.1 153.8L479.1 163.4M494.2 153.8L502.6 157.6M551.8 158.8L541.2 162.6M526.0 169.0L523.0 158.0M507.1 187.9L513.9 190.9M431.4 177.3L438.2 171.2M560.1 182.6L555.3 175.8M454.1 160.3L485.1 176.2M454.1 160.3L468.5 171.2M512.7 163.7L485.1 176.2M512.7 163.7L527.3 177.0M512.7 163.7L494.2 162.1M485.1 176.2L468.5 171.2M485.1 176.2L494.2 162.1M468.5 171.2L494.2 162.1M452.2 307.5L450.9 376.3M468.4 316.6L467.1 385.4M482.8 321.2L481.5 390.0M492.4 306.0L491.1 374.8M509.8 310.3L508.5 379.1M525.3 319.4L524.0 388.2M422.7 339.8L451.5 339.8M418.1 336.3L451.5 339.8M435.6 350.7L451.6 343.5M437.8 353.0L451.6 343.5M466.2 323.5L451.5 339.8M466.2 330.7L451.5 339.8M465.1 339.8L465.9 350.7M476.5 342.9L467.8 352.6M500.0 337.1L491.6 341.6M496.6 342.1L491.8 342.0M514.4 337.9L510.1 343.2M520.4 337.5L510.1 343.2M538.6 342.1L524.7 355.4M540.4 346.2L524.7 355.4M456.5 358.3L465.9 350.7M464.8 356.8L467.8 352.6M475.7 359.8L482.2 357.2M500.0 353.0L509.2 346.3M510.6 356.0L509.2 346.3M511.3 370.4L524.7 356.5M552.7 355.3L524.7 355.4M482.5 333.3L476.5 342.9M491.6 333.3L500.0 337.1M549.2 338.3L538.6 342.1M523.4 348.5L520.4 337.5M504.5 367.4L511.3 370.4M428.8 356.8L435.6 350.7M557.5 362.1L552.7 355.3M451.5 339.8L482.5 355.7M451.5 339.8L465.9 350.7M510.1 343.2L482.5 355.7M510.1 343.2L524.7 356.5M510.1 343.2L491.6 341.6M482.5 355.7L465.9 350.7M482.5 355.7L491.6 341.6M465.9 350.7L491.6 341.6M250.0 69.0L262.2 67.7M262.2 67.7L277.5 66.0M277.5 66.0L289.2 69.0M277.5 66.0L288.3 60.7M289.2 69.0L313.7 66.3M288.3 60.7L312.8 58.0M313.7 66.3L324.5 61.0M312.8 58.0L324.5 61.0M324.5 61.0L339.8 59.3M339.8 59.3L352.0 58.0M247.4 248.5L259.6 247.2M259.6 247.2L274.9 245.5M274.9 245.5L286.6 248.5M274.9 245.5L285.7 240.2M286.6 248.5L311.1 245.8M285.7 240.2L310.2 237.5M311.1 245.8L321.9 240.5M310.2 237.5L321.9 240.5M321.9 240.5L337.2 238.8M337.2 238.8L349.4 237.5M237.0 81.0L251.5 82.1M251.5 82.1L269.7 83.4M269.7 83.4L282.7 88.6M269.7 83.4L283.3 80.3M282.7 88.6L311.7 90.7M283.3 80.3L312.3 82.4M311.7 90.7L325.3 87.6M312.3 82.4L325.3 87.6M325.3 87.6L343.5 88.9M343.5 88.9L358.0 90.0M234.4 260.5L248.9 261.6M248.9 261.6L267.1 262.9M267.1 262.9L280.1 268.1M267.1 262.9L280.7 259.8M280.1 268.1L309.1 270.2M280.7 259.8L309.7 261.9M309.1 270.2L322.7 267.1M309.7 261.9L322.7 267.1M322.7 267.1L340.9 268.4M340.9 268.4L355.4 269.5M258.0 84.0L267.8 83.5M267.8 83.5L280.1 82.9M280.1 82.9L289.4 86.6M280.1 82.9L289.0 78.3M289.4 86.6L309.0 85.7M289.0 78.3L308.6 77.4M309.0 85.7L317.9 81.1M308.6 77.4L317.9 81.1M317.9 81.1L330.2 80.5M330.2 80.5L340.0 80.0M255.4 263.5L265.2 263.0M265.2 263.0L277.5 262.4M277.5 262.4L286.8 266.1M277.5 262.4L286.4 257.8M286.8 266.1L306.4 265.2M286.4 257.8L306.0 256.9M306.4 265.2L315.3 260.6M306.0 256.9L315.3 260.6M315.3 260.6L327.6 260.0M327.6 260.0L337.4 259.5M437.0 62.6L451.8 62.6M451.8 62.6L470.2 62.6M470.2 62.6L483.7 66.8M470.2 62.6L483.7 58.4M483.7 66.8L513.3 66.8M483.7 58.4L513.3 58.4M513.3 66.8L526.8 62.6M513.3 58.4L526.8 62.6M526.8 62.6L545.2 62.6M545.2 62.6L560.0 62.6M434.4 242.1L449.2 242.1M449.2 242.1L467.6 242.1M467.6 242.1L481.1 246.3M467.6 242.1L481.1 237.9M481.1 246.3L510.7 246.3M481.1 237.9L510.7 237.9M510.7 246.3L524.2 242.1M510.7 237.9L524.2 242.1M524.2 242.1L542.6 242.1M542.6 242.1L557.4 242.1M422.0 93.0L437.4 91.4M437.4 91.4L456.6 89.5M456.6 89.5L471.1 92.2M456.6 89.5L470.2 83.9M471.1 92.2L501.8 89.1M470.2 83.9L500.9 80.8M501.8 89.1L515.4 83.5M500.9 80.8L515.4 83.5M515.4 83.5L534.6 81.6M534.6 81.6L550.0 80.0M419.4 272.5L434.8 270.9M434.8 270.9L454.0 269.0M454.0 269.0L468.5 271.7M454.0 269.0L467.6 263.4M468.5 271.7L499.2 268.6M467.6 263.4L498.3 260.3M499.2 268.6L512.8 263.0M498.3 260.3L512.8 263.0M512.8 263.0L532.0 261.1M532.0 261.1L547.4 259.5M450.0 68.0L461.4 68.5M461.4 68.5L475.6 69.1M475.6 69.1L485.9 73.7M475.6 69.1L486.3 65.4M485.9 73.7L508.7 74.6M486.3 65.4L509.1 66.3M508.7 74.6L519.4 70.9M509.1 66.3L519.4 70.9M519.4 70.9L533.6 71.5M533.6 71.5L545.0 72.0M447.4 247.5L458.8 248.0M458.8 248.0L473.0 248.6M473.0 248.6L483.3 253.2M473.0 248.6L483.7 244.9M483.3 253.2L506.1 254.1M483.7 244.9L506.5 245.8M506.1 254.1L516.8 250.4M506.5 245.8L516.8 250.4M516.8 250.4L531.0 251.0M531.0 251.0L542.4 251.5M144.0 154.0L158.8 154.1M158.8 154.1L177.2 154.3M177.2 154.3L190.7 158.5M177.2 154.3L190.8 150.2M190.7 158.5L220.2 158.8M190.8 150.2L220.3 150.5M220.2 158.8L233.8 154.7M220.3 150.5L233.8 154.7M233.8 154.7L252.2 154.9M252.2 154.9L267.0 155.0M141.4 333.5L156.2 333.6M156.2 333.6L174.6 333.8M174.6 333.8L188.1 338.0M174.6 333.8L188.2 329.7M188.1 338.0L217.6 338.3M188.2 329.7L217.7 330.0M217.6 338.3L231.2 334.2M217.7 330.0L231.2 334.2M231.2 334.2L249.6 334.4M249.6 334.4L264.4 334.5M128.0 184.0L144.1 183.0M144.1 183.0L164.2 181.8M164.2 181.8L179.2 185.1M164.2 181.8L178.7 176.8M179.2 185.1L211.3 183.2M178.7 176.8L210.8 174.9M211.3 183.2L225.8 178.2M210.8 174.9L225.8 178.2M225.8 178.2L245.9 177.0M245.9 177.0L262.0 176.0M125.4 363.5L141.5 362.5M141.5 362.5L161.6 361.3M161.6 361.3L176.6 364.6M161.6 361.3L176.1 356.3M176.6 364.6L208.7 362.7M176.1 356.3L208.2 354.4M208.7 362.7L223.2 357.7M208.2 354.4L223.2 357.7M223.2 357.7L243.3 356.5M243.3 356.5L259.4 355.5M160.0 166.0L170.8 165.9M170.8 165.9L184.3 165.7M184.3 165.7L194.2 169.8M184.3 165.7L194.2 161.5M194.2 169.8L215.8 169.5M194.2 161.5L215.8 161.2M215.8 169.5L225.7 165.3M215.8 161.2L225.7 165.3M225.7 165.3L239.2 165.1M239.2 165.1L250.0 165.0M157.4 345.5L168.2 345.4M168.2 345.4L181.7 345.2M181.7 345.2L191.6 349.3M181.7 345.2L191.6 341.0M191.6 349.3L213.2 349.0M191.6 341.0L213.2 340.7M213.2 349.0L223.1 344.8M213.2 340.7L223.1 344.8M223.1 344.8L236.6 344.6M236.6 344.6L247.4 344.5M328.5 159.0L343.6 159.1M343.6 159.1L362.4 159.3M362.4 159.3L376.2 163.5M362.4 159.3L376.2 155.2M376.2 163.5L406.3 163.8M376.2 155.2L406.3 155.5M406.3 163.8L420.1 159.7M406.3 155.5L420.1 159.7M420.1 159.7L438.9 159.9M438.9 159.9L454.0 160.0M325.9 338.5L341.0 338.6M341.0 338.6L359.8 338.8M359.8 338.8L373.6 343.0M359.8 338.8L373.6 334.7M373.6 343.0L403.7 343.3M373.6 334.7L403.7 335.0M403.7 343.3L417.5 339.2M403.7 335.0L417.5 339.2M417.5 339.2L436.3 339.4M436.3 339.4L451.4 339.5M300.0 181.0L315.8 180.5M315.8 180.5L335.6 179.9M335.6 179.9L350.3 183.6M335.6 179.9L350.0 175.3M350.3 183.6L382.0 182.7M350.0 175.3L381.7 174.4M382.0 182.7L396.4 178.1M381.7 174.4L396.4 178.1M396.4 178.1L416.2 177.5M416.2 177.5L432.0 177.0M297.4 360.5L313.2 360.0M313.2 360.0L333.0 359.4M333.0 359.4L347.7 363.1M333.0 359.4L347.4 354.8M347.7 363.1L379.4 362.2M347.4 354.8L379.1 353.9M379.4 362.2L393.8 357.6M379.1 353.9L393.8 357.6M393.8 357.6L413.6 357.0M413.6 357.0L429.4 356.5M345.0 168.0L356.4 168.0M356.4 168.0L370.6 168.0M370.6 168.0L381.1 172.2M370.6 168.0L381.1 163.8M381.1 172.2L403.9 172.2M381.1 163.8L403.9 163.8M403.9 172.2L414.4 168.0M403.9 163.8L414.4 168.0M414.4 168.0L428.6 168.0M428.6 168.0L440.0 168.0M342.4 347.5L353.8 347.5M353.8 347.5L368.0 347.5M368.0 347.5L378.5 351.7M368.0 347.5L378.5 343.3M378.5 351.7L401.3 351.7M378.5 343.3L401.3 343.3M401.3 351.7L411.8 347.5M401.3 343.3L411.8 347.5M411.8 347.5L426.0 347.5M426.0 347.5L437.4 347.5M530.0 178.0L540.6 177.5M540.6 177.5L553.8 176.9M553.8 176.9L563.6 180.6M553.8 176.9L563.3 172.3M563.6 180.6L584.7 179.7M563.3 172.3L584.4 171.4M584.7 179.7L594.2 175.1M584.4 171.4L594.2 175.1M594.2 175.1L607.4 174.5M607.4 174.5L618.0 174.0M528.0 163.0L538.1 162.6M538.1 162.6L550.7 162.2M550.7 162.2L560.1 166.0M550.7 162.2L559.8 157.7M560.1 166.0L580.2 165.3M559.8 157.7L579.9 157.0M580.2 165.3L589.3 160.8M579.9 157.0L589.3 160.8M589.3 160.8L601.9 160.4M601.9 160.4L612.0 160.0M622.0 67.5L651.0 69.5M651.0 69.5L661.0 62.6M178.0 82.7L148.4 82.8M148.4 82.8L139.0 89.0M619.4 247.0L648.4 249.0M648.4 249.0L658.4 242.1M175.4 262.2L145.8 262.3M145.8 262.3L136.4 268.5" stroke="#8a8a8a" stroke-width="2.5" fill="none" stroke-linecap="round"/><path d="M86.0 119.0L84.7 187.8M84.7 187.8L94.1 194.2M84.7 187.8L75.1 203.2M94.1 194.2L93.8 216.1M75.1 203.2L74.8 225.1M93.8 216.1L84.2 231.5M74.8 225.1L84.2 231.5M84.2 231.5L83.9 254.3M83.9 254.3L75.2 269.8M83.9 254.3L92.3 261.7M75.2 269.8L75.0 291.6M92.3 261.7L92.1 283.5M75.0 291.6L83.4 298.5M92.1 283.5L83.4 298.5M103.0 123.0L101.7 191.8M101.7 191.8L110.1 198.7M101.7 191.8L93.0 206.8M110.1 198.7L109.9 220.5M93.0 206.8L92.8 228.6M109.9 220.5L101.2 235.5M92.8 228.6L101.2 235.5M101.2 235.5L100.9 258.3M100.9 258.3L110.3 265.2M100.9 258.3L91.3 274.2M110.3 265.2L110.0 287.1M91.3 274.2L91.0 296.1M110.0 287.1L100.4 302.5M91.0 296.1L100.4 302.5M144.0 121.0L142.7 189.8M142.7 189.8L143.7 200.2M142.7 189.8L141.4 201.3M143.7 200.2L143.5 222.0M141.4 201.3L141.2 223.1M143.5 222.0L142.2 233.5M141.2 223.1L142.2 233.5M142.2 233.5L141.9 256.3M141.9 256.3L143.2 267.1M141.9 256.3L140.4 268.4M143.2 267.1L143.0 288.9M140.4 268.4L140.1 290.3M143.0 288.9L141.4 300.5M140.1 290.3L141.4 300.5M72.0 144.0L70.7 212.8M70.7 212.8L71.7 223.2M70.7 212.8L69.4 224.3M71.7 223.2L71.5 245.0M69.4 224.3L69.2 246.1M71.5 245.0L70.2 256.5M69.2 246.1L70.2 256.5M70.2 256.5L69.9 279.3M69.9 279.3L71.2 290.1M69.9 279.3L68.4 291.4M71.2 290.1L71.0 311.9M68.4 291.4L68.1 313.3M71.0 311.9L69.4 323.5M68.1 313.3L69.4 323.5M112.0 143.0L110.7 211.8M110.7 211.8L120.1 218.2M110.7 211.8L101.1 227.2M120.1 218.2L119.8 240.1M101.1 227.2L100.8 249.1M119.8 240.1L110.2 255.5M100.8 249.1L110.2 255.5M110.2 255.5L109.9 278.3M109.9 278.3L101.2 293.8M109.9 278.3L118.3 285.7M101.2 293.8L101.0 315.6M118.3 285.7L118.1 307.5M101.0 315.6L109.4 322.5M118.1 307.5L109.4 322.5M128.0 147.0L126.7 215.8M126.7 215.8L135.1 222.7M126.7 215.8L118.0 230.8M135.1 222.7L134.9 244.5M118.0 230.8L117.8 252.6M134.9 244.5L126.2 259.5M117.8 252.6L126.2 259.5M126.2 259.5L125.9 282.3M125.9 282.3L135.3 289.2M125.9 282.3L116.3 298.2M135.3 289.2L135.0 311.1M116.3 298.2L116.0 320.1M135.0 311.1L125.4 326.5M116.0 320.1L125.4 326.5M52.0 148.0L85.4 155.0M57.0 151.0L85.4 155.0M98.0 135.0L101.0 158.0M100.0 141.0L101.0 158.0M82.0 154.0L85.4 155.0M76.0 161.5L85.4 155.0M117.0 154.0L102.4 159.0M135.0 149.0L144.0 154.0M129.0 158.5L143.4 157.0M138.0 173.7L127.4 183.0M39.0 177.4L69.0 181.0M41.0 181.0L69.0 181.0M82.4 175.7L71.4 180.0M81.2 182.5L71.4 180.0M79.0 187.4L71.4 180.0M98.3 179.4L111.4 179.0M113.0 191.6L111.4 179.0M113.8 198.4L111.4 179.0M155.0 183.0L128.0 184.0M161.5 186.0L128.0 184.0M132.6 179.4L127.4 183.0M46.0 150.0L52.0 148.0M30.0 184.7L39.0 177.4M98.3 190.0L98.3 179.4M91.0 152.0L82.0 154.0M123.0 164.0L129.0 158.5M93.0 170.0L98.3 179.4M147.0 176.0L138.0 173.7M128.0 184.0L144.0 154.0M128.0 184.0L112.0 176.0M101.0 158.0L112.0 176.0M379.4 27.7L378.1 96.5M378.1 96.5L387.5 102.9M378.1 96.5L368.5 111.9M387.5 102.9L387.2 124.8M368.5 111.9L368.2 133.8M387.2 124.8L377.6 140.2M368.2 133.8L377.6 140.2M377.6 140.2L377.3 163.0M377.3 163.0L368.6 178.5M377.3 163.0L385.7 170.4M368.6 178.5L368.4 200.3M385.7 170.4L385.5 192.2M368.4 200.3L376.8 207.2M385.5 192.2L376.8 207.2M396.4 31.7L395.1 100.5M395.1 100.5L403.5 107.4M395.1 100.5L386.4 115.5M403.5 107.4L403.3 129.2M386.4 115.5L386.2 137.3M403.3 129.2L394.6 144.2M386.2 137.3L394.6 144.2M394.6 144.2L394.3 167.0M394.3 167.0L403.7 173.9M394.3 167.0L384.7 182.9M403.7 173.9L403.4 195.8M384.7 182.9L384.4 204.8M403.4 195.8L393.8 211.2M384.4 204.8L393.8 211.2M437.4 29.7L436.1 98.5M436.1 98.5L437.1 108.9M436.1 98.5L434.8 110.0M437.1 108.9L436.9 130.7M434.8 110.0L434.6 131.8M436.9 130.7L435.6 142.2M434.6 131.8L435.6 142.2M435.6 142.2L435.3 165.0M435.3 165.0L436.6 175.8M435.3 165.0L433.8 177.1M436.6 175.8L436.4 197.6M433.8 177.1L433.5 199.0M436.4 197.6L434.8 209.2M433.5 199.0L434.8 209.2M365.4 52.7L364.1 121.5M364.1 121.5L365.1 131.9M364.1 121.5L362.8 133.0M365.1 131.9L364.9 153.7M362.8 133.0L362.6 154.8M364.9 153.7L363.6 165.2M362.6 154.8L363.6 165.2M363.6 165.2L363.3 188.0M363.3 188.0L364.6 198.8M363.3 188.0L361.8 200.1M364.6 198.8L364.4 220.6M361.8 200.1L361.5 222.0M364.4 220.6L362.8 232.2M361.5 222.0L362.8 232.2M405.4 51.7L404.1 120.5M404.1 120.5L413.5 126.9M404.1 120.5L394.5 135.9M413.5 126.9L413.2 148.8M394.5 135.9L394.2 157.8M413.2 148.8L403.6 164.2M394.2 157.8L403.6 164.2M403.6 164.2L403.3 187.0M403.3 187.0L394.6 202.5M403.3 187.0L411.7 194.4M394.6 202.5L394.4 224.3M411.7 194.4L411.5 216.2M394.4 224.3L402.8 231.2M411.5 216.2L402.8 231.2M421.4 55.7L420.1 124.5M420.1 124.5L428.5 131.4M420.1 124.5L411.4 139.5M428.5 131.4L428.3 153.2M411.4 139.5L411.2 161.3M428.3 153.2L419.6 168.2M411.2 161.3L419.6 168.2M419.6 168.2L419.3 191.0M419.3 191.0L428.7 197.9M419.3 191.0L409.7 206.9M428.7 197.9L428.4 219.8M409.7 206.9L409.4 228.8M428.4 219.8L418.8 235.2M409.4 228.8L418.8 235.2M345.4 56.7L378.8 63.7M350.4 59.7L378.8 63.7M391.4 43.7L394.4 66.7M393.4 49.7L394.4 66.7M375.4 62.7L378.8 63.7M369.4 70.2L378.8 63.7M410.4 62.7L395.8 67.7M428.4 57.7L437.4 62.7M422.4 67.2L436.8 65.7M431.4 82.4L420.8 91.7M332.4 86.1L362.4 89.7M334.4 89.7L362.4 89.7M375.8 84.4L364.8 88.7M374.6 91.2L364.8 88.7M372.4 96.1L364.8 88.7M391.7 88.1L404.8 87.7M406.4 100.3L404.8 87.7M407.2 107.1L404.8 87.7M448.4 91.7L421.4 92.7M454.9 94.7L421.4 92.7M426.0 88.1L420.8 91.7M339.4 58.7L345.4 56.7M323.4 93.4L332.4 86.1M391.7 98.7L391.7 88.1M384.4 60.7L375.4 62.7M416.4 72.7L422.4 67.2M386.4 78.7L391.7 88.1M440.4 84.7L431.4 82.4M421.4 92.7L437.4 62.7M421.4 92.7L405.4 84.7M394.4 66.7L405.4 84.7M83.4 298.5L82.1 367.3M100.4 302.5L99.1 371.3M141.4 300.5L140.1 369.3M69.4 323.5L68.1 392.3M109.4 322.5L108.1 391.3M125.4 326.5L124.1 395.3M49.4 327.5L82.8 334.5M54.4 330.5L82.8 334.5M95.4 314.5L98.4 337.5M97.4 320.5L98.4 337.5M79.4 333.5L82.8 334.5M73.4 341.0L82.8 334.5M114.4 333.5L99.8 338.5M132.4 328.5L141.4 333.5M126.4 338.0L140.8 336.5M135.4 353.2L124.8 362.5M36.4 356.9L66.4 360.5M38.4 360.5L66.4 360.5M79.8 355.2L68.8 359.5M78.6 362.0L68.8 359.5M76.4 366.9L68.8 359.5M95.7 358.9L108.8 358.5M110.4 371.1L108.8 358.5M111.2 377.9L108.8 358.5M152.4 362.5L125.4 363.5M158.9 365.5L125.4 363.5M130.0 358.9L124.8 362.5M43.4 329.5L49.4 327.5M27.4 364.2L36.4 356.9M95.7 369.5L95.7 358.9M88.4 331.5L79.4 333.5M120.4 343.5L126.4 338.0M90.4 349.5L95.7 358.9M144.4 355.5L135.4 353.2M125.4 363.5L141.4 333.5M125.4 363.5L109.4 355.5M98.4 337.5L109.4 355.5M376.8 207.2L375.5 276.0M393.8 211.2L392.5 280.0M434.8 209.2L433.5 278.0M362.8 232.2L361.5 301.0M402.8 231.2L401.5 300.0M418.8 235.2L417.5 304.0M342.8 236.2L376.2 243.2M347.8 239.2L376.2 243.2M388.8 223.2L391.8 246.2M390.8 229.2L391.8 246.2M372.8 242.2L376.2 243.2M366.8 249.7L376.2 243.2M407.8 242.2L393.2 247.2M425.8 237.2L434.8 242.2M419.8 246.7L434.2 245.2M428.8 261.9L418.2 271.2M329.8 265.6L359.8 269.2M331.8 269.2L359.8 269.2M373.2 263.9L362.2 268.2M372.0 270.7L362.2 268.2M369.8 275.6L362.2 268.2M389.1 267.6L402.2 267.2M403.8 279.8L402.2 267.2M404.6 286.6L402.2 267.2M445.8 271.2L418.8 272.2M452.3 274.2L418.8 272.2M423.4 267.6L418.2 271.2M336.8 238.2L342.8 236.2M320.8 272.9L329.8 265.6M389.1 278.2L389.1 267.6M381.8 240.2L372.8 242.2M413.8 252.2L419.8 246.7M383.8 258.2L389.1 267.6M437.8 264.2L428.8 261.9M418.8 272.2L434.8 242.2M418.8 272.2L402.8 264.2M391.8 246.2L402.8 264.2M270.5 123.4L269.2 192.2M269.2 192.2L270.2 202.6M269.2 192.2L267.9 203.7M270.2 202.6L270.0 224.4M267.9 203.7L267.7 225.5M270.0 224.4L268.7 235.9M267.7 225.5L268.7 235.9M268.7 235.9L268.4 258.7M268.4 258.7L269.7 269.5M268.4 258.7L266.9 270.8M269.7 269.5L269.5 291.3M266.9 270.8L266.6 292.7M269.5 291.3L267.9 302.9M266.6 292.7L267.9 302.9M287.6 127.2L286.3 196.0M286.3 196.0L295.7 202.4M286.3 196.0L276.7 211.4M295.7 202.4L295.4 224.3M276.7 211.4L276.4 233.3M295.4 224.3L285.8 239.7M276.4 233.3L285.8 239.7M285.8 239.7L285.5 262.5M285.5 262.5L276.8 278.0M285.5 262.5L293.9 269.9M276.8 278.0L276.6 299.8M293.9 269.9L293.7 291.7M276.6 299.8L285.0 306.7M293.7 291.7L285.0 306.7M310.8 121.6L309.5 190.4M309.5 190.4L317.9 197.3M309.5 190.4L300.8 205.4M317.9 197.3L317.7 219.1M300.8 205.4L300.6 227.2M317.7 219.1L309.0 234.1M300.6 227.2L309.0 234.1M309.0 234.1L308.7 256.9M308.7 256.9L318.1 263.8M308.7 256.9L299.1 272.8M318.1 263.8L317.8 285.7M299.1 272.8L298.8 294.7M317.8 285.7L308.2 301.1M298.8 294.7L308.2 301.1M328.2 125.7L326.9 194.5M326.9 194.5L327.9 204.9M326.9 194.5L325.6 206.0M327.9 204.9L327.7 226.7M325.6 206.0L325.4 227.8M327.7 226.7L326.4 238.2M325.4 227.8L326.4 238.2M326.4 238.2L326.1 261.0M326.1 261.0L327.4 271.8M326.1 261.0L324.6 273.1M327.4 271.8L327.2 293.6M324.6 273.1L324.3 295.0M327.2 293.6L325.6 305.2M324.3 295.0L325.6 305.2M300.9 137.1L299.6 205.9M299.6 205.9L309.0 212.3M299.6 205.9L290.0 221.3M309.0 212.3L308.7 234.2M290.0 221.3L289.7 243.2M308.7 234.2L299.1 249.6M289.7 243.2L299.1 249.6M299.1 249.6L298.8 272.4M298.8 272.4L290.1 287.9M298.8 272.4L307.2 279.8M290.1 287.9L289.9 309.7M307.2 279.8L307.0 301.6M289.9 309.7L298.3 316.6M307.0 301.6L298.3 316.6M296.2 148.1L294.9 216.9M294.9 216.9L303.3 223.8M294.9 216.9L286.2 231.9M303.3 223.8L303.1 245.6M286.2 231.9L286.0 253.7M303.1 245.6L294.4 260.6M286.0 253.7L294.4 260.6M294.4 260.6L294.1 283.4M294.1 283.4L303.5 290.3M294.1 283.4L284.5 299.3M303.5 290.3L303.2 312.2M284.5 299.3L284.2 321.2M303.2 312.2L293.6 327.6M284.2 321.2L293.6 327.6M241.4 155.6L267.9 153.0M236.8 151.5L267.9 153.0M283.4 139.7L267.9 153.0M283.8 145.1L285.6 162.1M266.4 158.8L269.9 159.4M259.6 165.6L269.9 159.4M275.0 173.8L269.9 159.4M282.3 172.7L287.0 163.2M267.4 181.0L269.9 159.4M281.5 184.8L295.6 184.1M300.5 158.3L310.2 157.6M314.1 162.5L310.2 157.6M317.9 153.0L310.2 157.6M331.2 153.3L328.5 158.8M338.4 153.0L328.5 158.8M322.4 178.0L327.6 161.7M315.3 185.3L296.7 181.5M330.0 172.7L327.6 161.7M319.4 168.9L327.6 161.7M270.9 153.0L266.4 158.8M255.0 173.8L259.6 165.6M299.0 183.3L315.3 185.3M327.0 170.0L330.0 172.7M249.0 159.8L241.4 155.6M308.8 148.4L317.9 153.0M349.0 166.2L338.4 153.0M341.4 164.4L338.4 153.0M285.6 162.1L301.2 171.2M285.6 162.1L296.7 181.5M285.6 162.1L267.9 153.0M328.5 158.8L301.2 171.2M301.2 171.2L296.7 181.5M563.9 32.1L562.6 100.9M562.6 100.9L563.6 111.3M562.6 100.9L561.3 112.4M563.6 111.3L563.4 133.1M561.3 112.4L561.1 134.2M563.4 133.1L562.1 144.6M561.1 134.2L562.1 144.6M562.1 144.6L561.8 167.4M561.8 167.4L563.1 178.2M561.8 167.4L560.3 179.5M563.1 178.2L562.9 200.0M560.3 179.5L560.0 201.4M562.9 200.0L561.3 211.6M560.0 201.4L561.3 211.6M581.0 35.9L579.7 104.7M579.7 104.7L589.1 111.1M579.7 104.7L570.1 120.1M589.1 111.1L588.8 133.0M570.1 120.1L569.8 142.0M588.8 133.0L579.2 148.4M569.8 142.0L579.2 148.4M579.2 148.4L578.9 171.2M578.9 171.2L570.2 186.7M578.9 171.2L587.3 178.6M570.2 186.7L570.0 208.5M587.3 178.6L587.1 200.4M570.0 208.5L578.4 215.4M587.1 200.4L578.4 215.4M604.2 30.3L602.9 99.1M602.9 99.1L611.3 106.0M602.9 99.1L594.2 114.1M611.3 106.0L611.1 127.8M594.2 114.1L594.0 135.9M611.1 127.8L602.4 142.8M594.0 135.9L602.4 142.8M602.4 142.8L602.1 165.6M602.1 165.6L611.5 172.5M602.1 165.6L592.5 181.5M611.5 172.5L611.2 194.4M592.5 181.5L592.2 203.4M611.2 194.4L601.6 209.8M592.2 203.4L601.6 209.8M621.6 34.4L620.3 103.2M620.3 103.2L621.3 113.6M620.3 103.2L619.0 114.7M621.3 113.6L621.1 135.4M619.0 114.7L618.8 136.5M621.1 135.4L619.8 146.9M618.8 136.5L619.8 146.9M619.8 146.9L619.5 169.7M619.5 169.7L620.8 180.5M619.5 169.7L618.0 181.8M620.8 180.5L620.6 202.3M618.0 181.8L617.7 203.7M620.6 202.3L619.0 213.9M617.7 203.7L619.0 213.9M594.3 45.8L593.0 114.6M593.0 114.6L602.4 121.0M593.0 114.6L583.4 130.0M602.4 121.0L602.1 142.9M583.4 130.0L583.1 151.9M602.1 142.9L592.5 158.3M583.1 151.9L592.5 158.3M592.5 158.3L592.2 181.1M592.2 181.1L583.5 196.6M592.2 181.1L600.6 188.5M583.5 196.6L583.3 218.4M600.6 188.5L600.4 210.3M583.3 218.4L591.7 225.3M600.4 210.3L591.7 225.3M589.6 56.8L588.3 125.6M588.3 125.6L596.7 132.5M588.3 125.6L579.6 140.6M596.7 132.5L596.5 154.3M579.6 140.6L579.4 162.4M596.5 154.3L587.8 169.3M579.4 162.4L587.8 169.3M587.8 169.3L587.5 192.1M587.5 192.1L596.9 199.0M587.5 192.1L577.9 208.0M596.9 199.0L596.6 220.9M577.9 208.0L577.6 229.9M596.6 220.9L587.0 236.3M577.6 229.9L587.0 236.3M534.8 64.3L561.3 61.7M530.2 60.2L561.3 61.7M576.8 48.4L561.3 61.7M577.2 53.8L579.0 70.8M559.8 67.5L563.3 68.1M553.0 74.3L563.3 68.1M568.4 82.5L563.3 68.1M575.7 81.4L580.4 71.9M560.8 89.7L563.3 68.1M574.9 93.5L589.0 92.8M593.9 67.0L603.6 66.3M607.5 71.2L603.6 66.3M611.3 61.7L603.6 66.3M624.6 62.0L621.9 67.5M631.8 61.7L621.9 67.5M615.8 86.7L621.0 70.4M608.7 94.0L590.1 90.2M623.4 81.4L621.0 70.4M612.8 77.6L621.0 70.4M564.3 61.7L559.8 67.5M548.4 82.5L553.0 74.3M592.4 92.0L608.7 94.0M620.4 78.7L623.4 81.4M542.4 68.5L534.8 64.3M602.2 57.1L611.3 61.7M642.4 74.9L631.8 61.7M634.8 73.1L631.8 61.7M579.0 70.8L594.6 79.9M579.0 70.8L590.1 90.2M579.0 70.8L561.3 61.7M621.9 67.5L594.6 79.9M594.6 79.9L590.1 90.2M267.9 302.9L266.6 371.7M285.0 306.7L283.7 375.5M308.2 301.1L306.9 369.9M325.6 305.2L324.3 374.0M298.3 316.6L297.0 385.4M293.6 327.6L292.3 396.4M238.8 335.1L265.3 332.5M234.2 331.0L265.3 332.5M280.8 319.2L265.3 332.5M281.2 324.6L283.0 341.6M263.8 338.3L267.3 338.9M257.0 345.1L267.3 338.9M272.4 353.3L267.3 338.9M279.7 352.2L284.4 342.7M264.8 360.5L267.3 338.9M278.9 364.3L293.0 363.6M297.9 337.8L307.6 337.1M311.5 342.0L307.6 337.1M315.3 332.5L307.6 337.1M328.6 332.8L325.9 338.3M335.8 332.5L325.9 338.3M319.8 357.5L325.0 341.2M312.7 364.8L294.1 361.0M327.4 352.2L325.0 341.2M316.8 348.4L325.0 341.2M268.3 332.5L263.8 338.3M252.4 353.3L257.0 345.1M296.4 362.8L312.7 364.8M324.4 349.5L327.4 352.2M246.4 339.3L238.8 335.1M306.2 327.9L315.3 332.5M346.4 345.7L335.8 332.5M338.8 343.9L335.8 332.5M283.0 341.6L298.6 350.7M283.0 341.6L294.1 361.0M283.0 341.6L265.3 332.5M325.9 338.3L298.6 350.7M298.6 350.7L294.1 361.0M561.3 211.6L560.0 280.4M578.4 215.4L577.1 284.2M601.6 209.8L600.3 278.6M619.0 213.9L617.7 282.7M591.7 225.3L590.4 294.1M587.0 236.3L585.7 305.1M532.2 243.8L558.7 241.2M527.6 239.7L558.7 241.2M574.2 227.9L558.7 241.2M574.6 233.3L576.4 250.3M557.2 247.0L560.7 247.6M550.4 253.8L560.7 247.6M565.8 262.0L560.7 247.6M573.1 260.9L577.8 251.4M558.2 269.2L560.7 247.6M572.3 273.0L586.4 272.3M591.3 246.5L601.0 245.8M604.9 250.7L601.0 245.8M608.7 241.2L601.0 245.8M622.0 241.5L619.3 247.0M629.2 241.2L619.3 247.0M613.2 266.2L618.4 249.9M606.1 273.5L587.5 269.7M620.8 260.9L618.4 249.9M610.2 257.1L618.4 249.9M561.7 241.2L557.2 247.0M545.8 262.0L550.4 253.8M589.8 271.5L606.1 273.5M617.8 258.2L620.8 260.9M539.8 248.0L532.2 243.8M599.6 236.6L608.7 241.2M639.8 254.4L629.2 241.2M632.2 252.6L629.2 241.2M576.4 250.3L592.0 259.4M576.4 250.3L587.5 269.7M576.4 250.3L558.7 241.2M619.3 247.0L592.0 259.4M592.0 259.4L587.5 269.7M212.2 27.1L210.9 95.9M210.9 95.9L220.3 102.3M210.9 95.9L201.3 111.3M220.3 102.3L220.0 124.2M201.3 111.3L201.0 133.2M220.0 124.2L210.4 139.6M201.0 133.2L210.4 139.6M210.4 139.6L210.1 162.4M210.1 162.4L201.4 177.9M210.1 162.4L218.5 169.8M201.4 177.9L201.2 199.7M218.5 169.8L218.3 191.6M201.2 199.7L209.6 206.6M218.3 191.6L209.6 206.6M204.3 37.7L203.0 106.5M203.0 106.5L211.4 113.4M203.0 106.5L194.3 121.5M211.4 113.4L211.2 135.2M194.3 121.5L194.1 143.3M211.2 135.2L202.5 150.2M194.1 143.3L202.5 150.2M202.5 150.2L202.2 173.0M202.2 173.0L211.6 179.9M202.2 173.0L192.6 188.9M211.6 179.9L211.3 201.8M192.6 188.9L192.3 210.8M211.3 201.8L201.7 217.2M192.3 210.8L201.7 217.2M180.3 48.7L179.0 117.5M179.0 117.5L180.0 127.9M179.0 117.5L177.7 129.0M180.0 127.9L179.8 149.7M177.7 129.0L177.5 150.8M179.8 149.7L178.5 161.2M177.5 150.8L178.5 161.2M178.5 161.2L178.2 184.0M178.2 184.0L179.5 194.8M178.2 184.0L176.7 196.1M179.5 194.8L179.3 216.6M176.7 196.1L176.4 218.0M179.3 216.6L177.7 228.2M176.4 218.0L177.7 228.2M195.0 53.6L193.7 122.4M193.7 122.4L203.1 128.8M193.7 122.4L184.1 137.8M203.1 128.8L202.8 150.7M184.1 137.8L183.8 159.7M202.8 150.7L193.2 166.1M183.8 159.7L193.2 166.1M193.2 166.1L192.9 188.9M192.9 188.9L184.2 204.4M192.9 188.9L201.3 196.3M184.2 204.4L184.0 226.2M201.3 196.3L201.1 218.1M184.0 226.2L192.4 233.1M201.1 218.1L192.4 233.1M220.7 48.0L219.4 116.8M219.4 116.8L227.8 123.7M219.4 116.8L210.7 131.8M227.8 123.7L227.6 145.5M210.7 131.8L210.5 153.6M227.6 145.5L218.9 160.5M210.5 153.6L218.9 160.5M218.9 160.5L218.6 183.3M218.6 183.3L228.0 190.2M218.6 183.3L209.0 199.2M228.0 190.2L227.7 212.1M209.0 199.2L208.7 221.1M227.7 212.1L218.1 227.5M208.7 221.1L218.1 227.5M237.4 51.6L236.1 120.4M236.1 120.4L237.1 130.8M236.1 120.4L234.8 131.9M237.1 130.8L236.9 152.6M234.8 131.9L234.6 153.7M236.9 152.6L235.6 164.1M234.6 153.7L235.6 164.1M235.6 164.1L235.3 186.9M235.3 186.9L236.6 197.7M235.3 186.9L233.8 199.0M236.6 197.7L236.4 219.5M233.8 199.0L233.5 220.9M236.4 219.5L234.8 231.1M233.5 220.9L234.8 231.1M148.5 83.0L177.9 82.7M168.1 89.6L177.9 82.7M176.7 71.2L177.9 82.7M185.2 65.1L177.9 82.7M188.9 74.9L179.7 84.7M190.1 57.7L206.1 71.2M224.4 57.7L211.6 63.1M237.9 62.2L211.6 63.1M224.4 70.7L220.7 79.8M232.5 69.5L220.7 79.8M246.9 77.3L236.8 87.6M210.9 83.4L220.1 84.0M222.0 88.3L220.1 84.0M223.2 102.5L220.1 84.0M176.7 88.3L179.7 84.7M187.7 90.8L194.4 89.6M269.7 90.8L236.8 87.6M164.4 79.8L168.1 89.6M250.9 68.8L246.9 77.3M236.7 81.0L246.9 77.3M218.3 100.6L223.2 102.5M141.2 88.3L148.5 83.0M194.3 87.9L206.1 71.2M194.3 87.9L210.9 61.4M194.3 87.9L177.9 82.7M194.3 87.9L220.7 79.8M236.7 88.3L206.1 71.2M236.7 88.3L220.7 79.8M206.1 71.2L210.9 61.4M206.1 71.2L177.9 82.7M206.1 71.2L220.7 79.8M210.9 61.4L220.7 79.8M209.6 206.6L208.3 275.4M201.7 217.2L200.4 286.0M177.7 228.2L176.4 297.0M192.4 233.1L191.1 301.9M218.1 227.5L216.8 296.3M234.8 231.1L233.5 299.9M145.9 262.5L175.3 262.2M165.5 269.1L175.3 262.2M174.1 250.7L175.3 262.2M182.6 244.6L175.3 262.2M186.3 254.4L177.1 264.2M187.5 237.2L203.5 250.7M221.8 237.2L209.0 242.6M235.3 241.7L209.0 242.6M221.8 250.2L218.1 259.3M229.9 249.0L218.1 259.3M244.3 256.8L234.2 267.1M208.3 262.9L217.5 263.5M219.4 267.8L217.5 263.5M220.6 282.0L217.5 263.5M174.1 267.8L177.1 264.2M185.1 270.3L191.8 269.1M267.1 270.3L234.2 267.1M161.8 259.3L165.5 269.1M248.3 248.3L244.3 256.8M234.1 260.5L244.3 256.8M215.7 280.1L220.6 282.0M138.6 267.8L145.9 262.5M191.7 267.4L203.5 250.7M191.7 267.4L208.3 240.9M191.7 267.4L175.3 262.2M191.7 267.4L218.1 259.3M234.1 267.8L203.5 250.7M234.1 267.8L218.1 259.3M203.5 250.7L208.3 240.9M203.5 250.7L175.3 262.2M203.5 250.7L218.1 259.3M208.3 240.9L218.1 259.3M454.8 128.0L453.5 196.8M453.5 196.8L454.5 207.2M453.5 196.8L452.2 208.3M454.5 207.2L454.3 229.0M452.2 208.3L452.0 230.1M454.3 229.0L453.0 240.5M452.0 230.1L453.0 240.5M453.0 240.5L452.7 263.3M452.7 263.3L454.0 274.1M452.7 263.3L451.2 275.4M454.0 274.1L453.8 295.9M451.2 275.4L450.9 297.3M453.8 295.9L452.2 307.5M450.9 297.3L452.2 307.5M471.0 137.1L469.7 205.9M469.7 205.9L479.1 212.3M469.7 205.9L460.1 221.3M479.1 212.3L478.8 234.2M460.1 221.3L459.8 243.2M478.8 234.2L469.2 249.6M459.8 243.2L469.2 249.6M469.2 249.6L468.9 272.4M468.9 272.4L460.2 287.9M468.9 272.4L477.3 279.8M460.2 287.9L460.0 309.7M477.3 279.8L477.1 301.6M460.0 309.7L468.4 316.6M477.1 301.6L468.4 316.6M485.4 141.7L484.1 210.5M484.1 210.5L492.5 217.4M484.1 210.5L475.4 225.5M492.5 217.4L492.3 239.2M475.4 225.5L475.2 247.3M492.3 239.2L483.6 254.2M475.2 247.3L483.6 254.2M483.6 254.2L483.3 277.0M483.3 277.0L492.7 283.9M483.3 277.0L473.7 292.9M492.7 283.9L492.4 305.8M473.7 292.9L473.4 314.8M492.4 305.8L482.8 321.2M473.4 314.8L482.8 321.2M495.0 126.5L493.7 195.3M493.7 195.3L503.1 201.7M493.7 195.3L484.1 210.7M503.1 201.7L502.8 223.6M484.1 210.7L483.8 232.6M502.8 223.6L493.2 239.0M483.8 232.6L493.2 239.0M493.2 239.0L492.9 261.8M492.9 261.8L484.2 277.3M492.9 261.8L501.3 269.2M484.2 277.3L484.0 299.1M501.3 269.2L501.1 291.0M484.0 299.1L492.4 306.0M501.1 291.0L492.4 306.0M512.4 130.8L511.1 199.6M511.1 199.6L519.5 206.5M511.1 199.6L502.4 214.6M519.5 206.5L519.3 228.3M502.4 214.6L502.2 236.4M519.3 228.3L510.6 243.3M502.2 236.4L510.6 243.3M510.6 243.3L510.3 266.1M510.3 266.1L519.7 273.0M510.3 266.1L500.7 282.0M519.7 273.0L519.4 294.9M500.7 282.0L500.4 303.9M519.4 294.9L509.8 310.3M500.4 303.9L509.8 310.3M527.9 139.9L526.6 208.7M526.6 208.7L527.6 219.1M526.6 208.7L525.3 220.2M527.6 219.1L527.4 240.9M525.3 220.2L525.1 242.0M527.4 240.9L526.1 252.4M525.1 242.0L526.1 252.4M526.1 252.4L525.8 275.2M525.8 275.2L527.1 286.0M525.8 275.2L524.3 287.3M527.1 286.0L526.9 307.8M524.3 287.3L524.0 309.2M526.9 307.8L525.3 319.4M524.0 309.2L525.3 319.4M425.3 160.3L454.1 160.3M420.7 156.8L454.1 160.3M438.2 171.2L454.2 164.0M440.4 173.5L454.2 164.0M468.8 144.0L454.1 160.3M468.8 151.2L454.1 160.3M467.7 160.3L468.5 171.2M479.1 163.4L470.4 173.1M502.6 157.6L494.2 162.1M499.2 162.6L494.4 162.5M517.0 158.4L512.7 163.7M523.0 158.0L512.7 163.7M541.2 162.6L527.3 175.9M543.0 166.7L527.3 175.9M459.1 178.8L468.5 171.2M467.4 177.3L470.4 173.1M478.3 180.3L484.8 177.7M502.6 173.5L511.8 166.8M513.2 176.5L511.8 166.8M513.9 190.9L527.3 177.0M555.3 175.8L527.3 175.9M485.1 153.8L479.1 163.4M494.2 153.8L502.6 157.6M551.8 158.8L541.2 162.6M526.0 169.0L523.0 158.0M507.1 187.9L513.9 190.9M431.4 177.3L438.2 171.2M560.1 182.6L555.3 175.8M454.1 160.3L485.1 176.2M454.1 160.3L468.5 171.2M512.7 163.7L485.1 176.2M512.7 163.7L527.3 177.0M512.7 163.7L494.2 162.1M485.1 176.2L468.5 171.2M485.1 176.2L494.2 162.1M468.5 171.2L494.2 162.1M452.2 307.5L450.9 376.3M468.4 316.6L467.1 385.4M482.8 321.2L481.5 390.0M492.4 306.0L491.1 374.8M509.8 310.3L508.5 379.1M525.3 319.4L524.0 388.2M422.7 339.8L451.5 339.8M418.1 336.3L451.5 339.8M435.6 350.7L451.6 343.5M437.8 353.0L451.6 343.5M466.2 323.5L451.5 339.8M466.2 330.7L451.5 339.8M465.1 339.8L465.9 350.7M476.5 342.9L467.8 352.6M500.0 337.1L491.6 341.6M496.6 342.1L491.8 342.0M514.4 337.9L510.1 343.2M520.4 337.5L510.1 343.2M538.6 342.1L524.7 355.4M540.4 346.2L524.7 355.4M456.5 358.3L465.9 350.7M464.8 356.8L467.8 352.6M475.7 359.8L482.2 357.2M500.0 353.0L509.2 346.3M510.6 356.0L509.2 346.3M511.3 370.4L524.7 356.5M552.7 355.3L524.7 355.4M482.5 333.3L476.5 342.9M491.6 333.3L500.0 337.1M549.2 338.3L538.6 342.1M523.4 348.5L520.4 337.5M504.5 367.4L511.3 370.4M428.8 356.8L435.6 350.7M557.5 362.1L552.7 355.3M451.5 339.8L482.5 355.7M451.5 339.8L465.9 350.7M510.1 343.2L482.5 355.7M510.1 343.2L524.7 356.5M510.1 343.2L491.6 341.6M482.5 355.7L465.9 350.7M482.5 355.7L491.6 341.6M465.9 350.7L491.6 341.6M250.0 69.0L262.2 67.7M262.2 67.7L277.5 66.0M277.5 66.0L289.2 69.0M277.5 66.0L288.3 60.7M289.2 69.0L313.7 66.3M288.3 60.7L312.8 58.0M313.7 66.3L324.5 61.0M312.8 58.0L324.5 61.0M324.5 61.0L339.8 59.3M339.8 59.3L352.0 58.0M247.4 248.5L259.6 247.2M259.6 247.2L274.9 245.5M274.9 245.5L286.6 248.5M274.9 245.5L285.7 240.2M286.6 248.5L311.1 245.8M285.7 240.2L310.2 237.5M311.1 245.8L321.9 240.5M310.2 237.5L321.9 240.5M321.9 240.5L337.2 238.8M337.2 238.8L349.4 237.5M237.0 81.0L251.5 82.1M251.5 82.1L269.7 83.4M269.7 83.4L282.7 88.6M269.7 83.4L283.3 80.3M282.7 88.6L311.7 90.7M283.3 80.3L312.3 82.4M311.7 90.7L325.3 87.6M312.3 82.4L325.3 87.6M325.3 87.6L343.5 88.9M343.5 88.9L358.0 90.0M234.4 260.5L248.9 261.6M248.9 261.6L267.1 262.9M267.1 262.9L280.1 268.1M267.1 262.9L280.7 259.8M280.1 268.1L309.1 270.2M280.7 259.8L309.7 261.9M309.1 270.2L322.7 267.1M309.7 261.9L322.7 267.1M322.7 267.1L340.9 268.4M340.9 268.4L355.4 269.5M258.0 84.0L267.8 83.5M267.8 83.5L280.1 82.9M280.1 82.9L289.4 86.6M280.1 82.9L289.0 78.3M289.4 86.6L309.0 85.7M289.0 78.3L308.6 77.4M309.0 85.7L317.9 81.1M308.6 77.4L317.9 81.1M317.9 81.1L330.2 80.5M330.2 80.5L340.0 80.0M255.4 263.5L265.2 263.0M265.2 263.0L277.5 262.4M277.5 262.4L286.8 266.1M277.5 262.4L286.4 257.8M286.8 266.1L306.4 265.2M286.4 257.8L306.0 256.9M306.4 265.2L315.3 260.6M306.0 256.9L315.3 260.6M315.3 260.6L327.6 260.0M327.6 260.0L337.4 259.5M437.0 62.6L451.8 62.6M451.8 62.6L470.2 62.6M470.2 62.6L483.7 66.8M470.2 62.6L483.7 58.4M483.7 66.8L513.3 66.8M483.7 58.4L513.3 58.4M513.3 66.8L526.8 62.6M513.3 58.4L526.8 62.6M526.8 62.6L545.2 62.6M545.2 62.6L560.0 62.6M434.4 242.1L449.2 242.1M449.2 242.1L467.6 242.1M467.6 242.1L481.1 246.3M467.6 242.1L481.1 237.9M481.1 246.3L510.7 246.3M481.1 237.9L510.7 237.9M510.7 246.3L524.2 242.1M510.7 237.9L524.2 242.1M524.2 242.1L542.6 242.1M542.6 242.1L557.4 242.1M422.0 93.0L437.4 91.4M437.4 91.4L456.6 89.5M456.6 89.5L471.1 92.2M456.6 89.5L470.2 83.9M471.1 92.2L501.8 89.1M470.2 83.9L500.9 80.8M501.8 89.1L515.4 83.5M500.9 80.8L515.4 83.5M515.4 83.5L534.6 81.6M534.6 81.6L550.0 80.0M419.4 272.5L434.8 270.9M434.8 270.9L454.0 269.0M454.0 269.0L468.5 271.7M454.0 269.0L467.6 263.4M468.5 271.7L499.2 268.6M467.6 263.4L498.3 260.3M499.2 268.6L512.8 263.0M498.3 260.3L512.8 263.0M512.8 263.0L532.0 261.1M532.0 261.1L547.4 259.5M450.0 68.0L461.4 68.5M461.4 68.5L475.6 69.1M475.6 69.1L485.9 73.7M475.6 69.1L486.3 65.4M485.9 73.7L508.7 74.6M486.3 65.4L509.1 66.3M508.7 74.6L519.4 70.9M509.1 66.3L519.4 70.9M519.4 70.9L533.6 71.5M533.6 71.5L545.0 72.0M447.4 247.5L458.8 248.0M458.8 248.0L473.0 248.6M473.0 248.6L483.3 253.2M473.0 248.6L483.7 244.9M483.3 253.2L506.1 254.1M483.7 244.9L506.5 245.8M506.1 254.1L516.8 250.4M506.5 245.8L516.8 250.4M516.8 250.4L531.0 251.0M531.0 251.0L542.4 251.5M144.0 154.0L158.8 154.1M158.8 154.1L177.2 154.3M177.2 154.3L190.7 158.5M177.2 154.3L190.8 150.2M190.7 158.5L220.2 158.8M190.8 150.2L220.3 150.5M220.2 158.8L233.8 154.7M220.3 150.5L233.8 154.7M233.8 154.7L252.2 154.9M252.2 154.9L267.0 155.0M141.4 333.5L156.2 333.6M156.2 333.6L174.6 333.8M174.6 333.8L188.1 338.0M174.6 333.8L188.2 329.7M188.1 338.0L217.6 338.3M188.2 329.7L217.7 330.0M217.6 338.3L231.2 334.2M217.7 330.0L231.2 334.2M231.2 334.2L249.6 334.4M249.6 334.4L264.4 334.5M128.0 184.0L144.1 183.0M144.1 183.0L164.2 181.8M164.2 181.8L179.2 185.1M164.2 181.8L178.7 176.8M179.2 185.1L211.3 183.2M178.7 176.8L210.8 174.9M211.3 183.2L225.8 178.2M210.8 174.9L225.8 178.2M225.8 178.2L245.9 177.0M245.9 177.0L262.0 176.0M125.4 363.5L141.5 362.5M141.5 362.5L161.6 361.3M161.6 361.3L176.6 364.6M161.6 361.3L176.1 356.3M176.6 364.6L208.7 362.7M176.1 356.3L208.2 354.4M208.7 362.7L223.2 357.7M208.2 354.4L223.2 357.7M223.2 357.7L243.3 356.5M243.3 356.5L259.4 355.5M160.0 166.0L170.8 165.9M170.8 165.9L184.3 165.7M184.3 165.7L194.2 169.8M184.3 165.7L194.2 161.5M194.2 169.8L215.8 169.5M194.2 161.5L215.8 161.2M215.8 169.5L225.7 165.3M215.8 161.2L225.7 165.3M225.7 165.3L239.2 165.1M239.2 165.1L250.0 165.0M157.4 345.5L168.2 345.4M168.2 345.4L181.7 345.2M181.7 345.2L191.6 349.3M181.7 345.2L191.6 341.0M191.6 349.3L213.2 349.0M191.6 341.0L213.2 340.7M213.2 349.0L223.1 344.8M213.2 340.7L223.1 344.8M223.1 344.8L236.6 344.6M236.6 344.6L247.4 344.5M328.5 159.0L343.6 159.1M343.6 159.1L362.4 159.3M362.4 159.3L376.2 163.5M362.4 159.3L376.2 155.2M376.2 163.5L406.3 163.8M376.2 155.2L406.3 155.5M406.3 163.8L420.1 159.7M406.3 155.5L420.1 159.7M420.1 159.7L438.9 159.9M438.9 159.9L454.0 160.0M325.9 338.5L341.0 338.6M341.0 338.6L359.8 338.8M359.8 338.8L373.6 343.0M359.8 338.8L373.6 334.7M373.6 343.0L403.7 343.3M373.6 334.7L403.7 335.0M403.7 343.3L417.5 339.2M403.7 335.0L417.5 339.2M417.5 339.2L436.3 339.4M436.3 339.4L451.4 339.5M300.0 181.0L315.8 180.5M315.8 180.5L335.6 179.9M335.6 179.9L350.3 183.6M335.6 179.9L350.0 175.3M350.3 183.6L382.0 182.7M350.0 175.3L381.7 174.4M382.0 182.7L396.4 178.1M381.7 174.4L396.4 178.1M396.4 178.1L416.2 177.5M416.2 177.5L432.0 177.0M297.4 360.5L313.2 360.0M313.2 360.0L333.0 359.4M333.0 359.4L347.7 363.1M333.0 359.4L347.4 354.8M347.7 363.1L379.4 362.2M347.4 354.8L379.1 353.9M379.4 362.2L393.8 357.6M379.1 353.9L393.8 357.6M393.8 357.6L413.6 357.0M413.6 357.0L429.4 356.5M345.0 168.0L356.4 168.0M356.4 168.0L370.6 168.0M370.6 168.0L381.1 172.2M370.6 168.0L381.1 163.8M381.1 172.2L403.9 172.2M381.1 163.8L403.9 163.8M403.9 172.2L414.4 168.0M403.9 163.8L414.4 168.0M414.4 168.0L428.6 168.0M428.6 168.0L440.0 168.0M342.4 347.5L353.8 347.5M353.8 347.5L368.0 347.5M368.0 347.5L378.5 351.7M368.0 347.5L378.5 343.3M378.5 351.7L401.3 351.7M378.5 343.3L401.3 343.3M401.3 351.7L411.8 347.5M401.3 343.3L411.8 347.5M411.8 347.5L426.0 347.5M426.0 347.5L437.4 347.5M530.0 178.0L540.6 177.5M540.6 177.5L553.8 176.9M553.8 176.9L563.6 180.6M553.8 176.9L563.3 172.3M563.6 180.6L584.7 179.7M563.3 172.3L584.4 171.4M584.7 179.7L594.2 175.1M584.4 171.4L594.2 175.1M594.2 175.1L607.4 174.5M607.4 174.5L618.0 174.0M528.0 163.0L538.1 162.6M538.1 162.6L550.7 162.2M550.7 162.2L560.1 166.0M550.7 162.2L559.8 157.7M560.1 166.0L580.2 165.3M559.8 157.7L579.9 157.0M580.2 165.3L589.3 160.8M579.9 157.0L589.3 160.8M589.3 160.8L601.9 160.4M601.9 160.4L612.0 160.0M622.0 67.5L651.0 69.5M651.0 69.5L661.0 62.6M178.0 82.7L148.4 82.8M148.4 82.8L139.0 89.0M619.4 247.0L648.4 249.0M648.4 249.0L658.4 242.1M175.4 262.2L145.8 262.3M145.8 262.3L136.4 268.5" stroke="#dcdcdc" stroke-width="1.3" fill="none" stroke-linecap="round"/><circle cx="220.0" cy="124.2" r="4.3" fill="url(#gC)"/><circle cx="75.0" cy="291.6" r="4.3" fill="url(#gC)"/><circle cx="75.2" cy="269.8" r="4.3" fill="url(#gC)"/><circle cx="74.8" cy="225.1" r="4.3" fill="url(#gC)"/><circle cx="141.4" cy="201.3" r="4.3" fill="url(#gC)"/><circle cx="436.9" cy="130.7" r="4.3" fill="url(#gC)"/><circle cx="403.4" cy="195.8" r="4.3" fill="url(#gC)"/><circle cx="211.6" cy="179.9" r="4.3" fill="url(#gC)"/><circle cx="436.4" cy="197.6" r="4.3" fill="url(#gC)"/><circle cx="194.1" cy="143.3" r="4.3" fill="url(#gC)"/><circle cx="403.5" cy="107.4" r="4.3" fill="url(#gC)"/><circle cx="110.1" cy="198.7" r="4.3" fill="url(#gC)"/><circle cx="75.1" cy="203.2" r="4.3" fill="url(#gC)"/><circle cx="434.8" cy="110.0" r="4.3" fill="url(#gC)"/><circle cx="141.9" cy="256.3" r="4.3" fill="url(#gC)"/><circle cx="220.3" cy="102.3" r="4.3" fill="url(#gC)"/><circle cx="435.6" cy="142.2" r="4.3" fill="url(#gC)"/><circle cx="93.0" cy="206.8" r="4.3" fill="url(#gC)"/><circle cx="142.2" cy="233.5" r="4.3" fill="url(#gC)"/><circle cx="502.8" cy="223.6" r="4.3" fill="url(#gC)"/><circle cx="101.2" cy="235.5" r="4.3" fill="url(#gC)"/><circle cx="563.6" cy="111.3" r="4.3" fill="url(#gC)"/><circle cx="437.1" cy="108.9" r="4.3" fill="url(#gC)"/><circle cx="143.0" cy="288.9" r="4.3" fill="url(#gC)"/><circle cx="611.3" cy="106.0" r="4.3" fill="url(#gC)"/><circle cx="318.1" cy="263.8" r="4.3" fill="url(#gC)"/><circle cx="266.6" cy="292.7" r="4.3" fill="url(#gC)"/><circle cx="268.7" cy="235.9" r="4.3" fill="url(#gC)"/><circle cx="299.1" cy="272.8" r="4.3" fill="url(#gC)"/><circle cx="268.4" cy="258.7" r="4.3" fill="url(#gC)"/><circle cx="327.7" cy="226.7" r="4.3" fill="url(#gC)"/><circle cx="324.6" cy="273.1" r="4.3" fill="url(#gC)"/><circle cx="503.1" cy="201.7" r="4.3" fill="url(#gC)"/><circle cx="295.7" cy="202.4" r="4.3" fill="url(#gC)"/><circle cx="210.4" cy="139.6" r="4.3" fill="url(#gC)"/><circle cx="300.8" cy="205.4" r="4.3" fill="url(#gC)"/><circle cx="492.9" cy="261.8" r="4.3" fill="url(#gC)"/><circle cx="285.8" cy="239.7" r="4.3" fill="url(#gC)"/><circle cx="270.0" cy="224.4" r="4.3" fill="url(#gC)"/><circle cx="211.3" cy="201.8" r="4.3" fill="url(#gC)"/><circle cx="435.3" cy="165.0" r="4.3" fill="url(#gC)"/><circle cx="510.3" cy="266.1" r="4.3" fill="url(#gC)"/><circle cx="202.2" cy="173.0" r="4.3" fill="url(#gC)"/><circle cx="100.9" cy="258.3" r="4.3" fill="url(#gC)"/><circle cx="519.4" cy="294.9" r="4.3" fill="url(#gC)"/><circle cx="368.5" cy="111.9" r="4.3" fill="url(#gC)"/><circle cx="611.5" cy="172.5" r="4.3" fill="url(#gC)"/><circle cx="452.0" cy="230.1" r="4.3" fill="url(#gC)"/><circle cx="201.3" cy="111.3" r="4.3" fill="url(#gC)"/><circle cx="510.6" cy="243.3" r="4.3" fill="url(#gC)"/><circle cx="201.2" cy="199.7" r="4.3" fill="url(#gC)"/><circle cx="94.1" cy="194.2" r="4.3" fill="url(#gC)"/><circle cx="141.2" cy="223.1" r="4.3" fill="url(#gC)"/><circle cx="454.5" cy="207.2" r="4.3" fill="url(#gC)"/><circle cx="266.9" cy="270.8" r="4.3" fill="url(#gC)"/><circle cx="143.2" cy="267.1" r="4.3" fill="url(#gC)"/><circle cx="620.8" cy="180.5" r="4.3" fill="url(#gC)"/><circle cx="295.4" cy="224.3" r="4.3" fill="url(#gC)"/><circle cx="210.1" cy="162.4" r="4.3" fill="url(#gC)"/><circle cx="394.3" cy="167.0" r="4.3" fill="url(#gC)"/><circle cx="83.9" cy="254.3" r="4.3" fill="url(#gC)"/><circle cx="326.1" cy="261.0" r="4.3" fill="url(#gC)"/><circle cx="618.0" cy="181.8" r="4.3" fill="url(#gC)"/><circle cx="477.1" cy="301.6" r="4.3" fill="url(#gC)"/><circle cx="519.5" cy="206.5" r="4.3" fill="url(#gC)"/><circle cx="325.6" cy="206.0" r="4.3" fill="url(#gC)"/><circle cx="269.7" cy="269.5" r="4.3" fill="url(#gC)"/><circle cx="619.5" cy="169.7" r="4.3" fill="url(#gC)"/><circle cx="454.0" cy="274.1" r="4.3" fill="url(#gC)"/><circle cx="293.9" cy="269.9" r="4.3" fill="url(#gC)"/><circle cx="276.7" cy="211.4" r="4.3" fill="url(#gC)"/><circle cx="501.1" cy="291.0" r="4.3" fill="url(#gC)"/><circle cx="298.8" cy="294.7" r="4.3" fill="url(#gC)"/><circle cx="484.1" cy="210.7" r="4.3" fill="url(#gC)"/><circle cx="493.2" cy="239.0" r="4.3" fill="url(#gC)"/><circle cx="436.6" cy="175.8" r="4.3" fill="url(#gC)"/><circle cx="92.1" cy="283.5" r="4.3" fill="url(#gC)"/><circle cx="563.4" cy="133.1" r="4.3" fill="url(#gC)"/><circle cx="179.5" cy="194.8" r="4.3" fill="url(#gC)"/><circle cx="588.8" cy="133.0" r="4.3" fill="url(#gC)"/><circle cx="561.3" cy="112.4" r="4.3" fill="url(#gC)"/><circle cx="377.3" cy="163.0" r="4.3" fill="url(#gC)"/><circle cx="569.8" cy="142.0" r="4.3" fill="url(#gC)"/><circle cx="600.6" cy="188.5" r="4.3" fill="url(#gC)"/><circle cx="235.6" cy="164.1" r="4.3" fill="url(#gC)"/><circle cx="236.6" cy="197.7" r="4.3" fill="url(#gC)"/><circle cx="403.7" cy="173.9" r="4.3" fill="url(#gC)"/><circle cx="492.3" cy="239.2" r="4.3" fill="url(#gC)"/><circle cx="589.1" cy="111.1" r="4.3" fill="url(#gC)"/><circle cx="611.2" cy="194.4" r="4.3" fill="url(#gC)"/><circle cx="368.4" cy="200.3" r="4.3" fill="url(#gC)"/><circle cx="91.0" cy="296.1" r="4.3" fill="url(#gC)"/><circle cx="570.1" cy="120.1" r="4.3" fill="url(#gC)"/><circle cx="526.1" cy="252.4" r="4.3" fill="url(#gC)"/><circle cx="317.8" cy="285.7" r="4.3" fill="url(#gC)"/><circle cx="394.6" cy="202.5" r="4.3" fill="url(#gC)"/><circle cx="201.4" cy="177.9" r="4.3" fill="url(#gC)"/><circle cx="433.5" cy="199.0" r="4.3" fill="url(#gC)"/><circle cx="527.4" cy="240.9" r="4.3" fill="url(#gC)"/><circle cx="317.9" cy="197.3" r="4.3" fill="url(#gC)"/><circle cx="276.6" cy="299.8" r="4.3" fill="url(#gC)"/><circle cx="109.9" cy="220.5" r="4.3" fill="url(#gC)"/><circle cx="92.3" cy="261.7" r="4.3" fill="url(#gC)"/><circle cx="236.9" cy="152.6" r="4.3" fill="url(#gC)"/><circle cx="492.7" cy="283.9" r="4.3" fill="url(#gC)"/><circle cx="269.5" cy="291.3" r="4.3" fill="url(#gC)"/><circle cx="478.8" cy="234.2" r="4.3" fill="url(#gC)"/><circle cx="234.8" cy="131.9" r="4.3" fill="url(#gC)"/><circle cx="84.2" cy="231.5" r="4.3" fill="url(#gC)"/><circle cx="560.0" cy="201.4" r="4.3" fill="url(#gC)"/><circle cx="384.4" cy="204.8" r="4.3" fill="url(#gC)"/><circle cx="460.2" cy="287.9" r="4.3" fill="url(#gC)"/><circle cx="202.5" cy="150.2" r="4.3" fill="url(#gC)"/><circle cx="70.2" cy="256.5" r="4.3" fill="url(#gC)"/><circle cx="69.2" cy="246.1" r="4.3" fill="url(#gC)"/><circle cx="484.2" cy="277.3" r="4.3" fill="url(#gC)"/><circle cx="270.2" cy="202.6" r="4.3" fill="url(#gC)"/><circle cx="453.8" cy="295.9" r="4.3" fill="url(#gC)"/><circle cx="267.9" cy="203.7" r="4.3" fill="url(#gC)"/><circle cx="209.0" cy="199.2" r="4.3" fill="url(#gC)"/><circle cx="377.6" cy="140.2" r="4.3" fill="url(#gC)"/><circle cx="583.5" cy="196.6" r="4.3" fill="url(#gC)"/><circle cx="179.3" cy="216.6" r="4.3" fill="url(#gC)"/><circle cx="192.3" cy="210.8" r="4.3" fill="url(#gC)"/><circle cx="368.2" cy="133.8" r="4.3" fill="url(#gC)"/><circle cx="602.4" cy="121.0" r="4.3" fill="url(#gC)"/><circle cx="135.3" cy="289.2" r="4.3" fill="url(#gC)"/><circle cx="293.7" cy="291.7" r="4.3" fill="url(#gC)"/><circle cx="309.0" cy="234.1" r="4.3" fill="url(#gC)"/><circle cx="176.4" cy="218.0" r="4.3" fill="url(#gC)"/><circle cx="419.3" cy="191.0" r="4.3" fill="url(#gC)"/><circle cx="276.4" cy="233.3" r="4.3" fill="url(#gC)"/><circle cx="211.4" cy="113.4" r="4.3" fill="url(#gC)"/><circle cx="299.1" cy="249.6" r="4.3" fill="url(#gC)"/><circle cx="619.0" cy="114.7" r="4.3" fill="url(#gC)"/><circle cx="602.1" cy="165.6" r="4.3" fill="url(#gC)"/><circle cx="140.1" cy="290.3" r="4.3" fill="url(#gC)"/><circle cx="561.8" cy="167.4" r="4.3" fill="url(#gC)"/><circle cx="621.1" cy="135.4" r="4.3" fill="url(#gC)"/><circle cx="308.7" cy="256.9" r="4.3" fill="url(#gC)"/><circle cx="235.3" cy="186.9" r="4.3" fill="url(#gC)"/><circle cx="211.2" cy="135.2" r="4.3" fill="url(#gC)"/><circle cx="194.3" cy="121.5" r="4.3" fill="url(#gC)"/><circle cx="361.5" cy="222.0" r="4.3" fill="url(#gC)"/><circle cx="93.8" cy="216.1" r="4.3" fill="url(#gC)"/><circle cx="413.5" cy="126.9" r="4.3" fill="url(#gC)"/><circle cx="110.0" cy="287.1" r="4.3" fill="url(#gC)"/><circle cx="500.7" cy="282.0" r="4.3" fill="url(#gC)"/><circle cx="179.8" cy="149.7" r="4.3" fill="url(#gC)"/><circle cx="450.9" cy="297.3" r="4.3" fill="url(#gC)"/><circle cx="385.5" cy="192.2" r="4.3" fill="url(#gC)"/><circle cx="307.0" cy="301.6" r="4.3" fill="url(#gC)"/><circle cx="477.3" cy="279.8" r="4.3" fill="url(#gC)"/><circle cx="118.0" cy="230.8" r="4.3" fill="url(#gC)"/><circle cx="387.2" cy="124.8" r="4.3" fill="url(#gC)"/><circle cx="468.9" cy="272.4" r="4.3" fill="url(#gC)"/><circle cx="284.2" cy="321.2" r="4.3" fill="url(#gC)"/><circle cx="69.9" cy="279.3" r="4.3" fill="url(#gC)"/><circle cx="110.3" cy="265.2" r="4.3" fill="url(#gC)"/><circle cx="308.7" cy="234.2" r="4.3" fill="url(#gC)"/><circle cx="394.5" cy="135.9" r="4.3" fill="url(#gC)"/><circle cx="126.2" cy="259.5" r="4.3" fill="url(#gC)"/><circle cx="413.2" cy="148.8" r="4.3" fill="url(#gC)"/><circle cx="110.2" cy="255.5" r="4.3" fill="url(#gC)"/><circle cx="403.3" cy="129.2" r="4.3" fill="url(#gC)"/><circle cx="587.3" cy="178.6" r="4.3" fill="url(#gC)"/><circle cx="403.3" cy="187.0" r="4.3" fill="url(#gC)"/><circle cx="384.7" cy="182.9" r="4.3" fill="url(#gC)"/><circle cx="327.2" cy="293.6" r="4.3" fill="url(#gC)"/><circle cx="326.4" cy="238.2" r="4.3" fill="url(#gC)"/><circle cx="524.3" cy="287.3" r="4.3" fill="url(#gC)"/><circle cx="327.4" cy="271.8" r="4.3" fill="url(#gC)"/><circle cx="118.1" cy="307.5" r="4.3" fill="url(#gC)"/><circle cx="227.8" cy="123.7" r="4.3" fill="url(#gC)"/><circle cx="363.6" cy="165.2" r="4.3" fill="url(#gC)"/><circle cx="289.9" cy="309.7" r="4.3" fill="url(#gC)"/><circle cx="101.1" cy="227.2" r="4.3" fill="url(#gC)"/><circle cx="386.4" cy="115.5" r="4.3" fill="url(#gC)"/><circle cx="475.2" cy="247.3" r="4.3" fill="url(#gC)"/><circle cx="459.8" cy="243.2" r="4.3" fill="url(#gC)"/><circle cx="227.6" cy="145.5" r="4.3" fill="url(#gC)"/><circle cx="592.5" cy="158.3" r="4.3" fill="url(#gC)"/><circle cx="594.2" cy="114.1" r="4.3" fill="url(#gC)"/><circle cx="519.3" cy="228.3" r="4.3" fill="url(#gC)"/><circle cx="218.5" cy="169.8" r="4.3" fill="url(#gC)"/><circle cx="434.6" cy="131.8" r="4.3" fill="url(#gC)"/><circle cx="267.7" cy="225.5" r="4.3" fill="url(#gC)"/><circle cx="201.0" cy="133.2" r="4.3" fill="url(#gC)"/><circle cx="71.0" cy="311.9" r="4.3" fill="url(#gC)"/><circle cx="289.7" cy="243.2" r="4.3" fill="url(#gC)"/><circle cx="218.3" cy="191.6" r="4.3" fill="url(#gC)"/><circle cx="234.6" cy="153.7" r="4.3" fill="url(#gC)"/><circle cx="454.3" cy="229.0" r="4.3" fill="url(#gC)"/><circle cx="368.6" cy="178.5" r="4.3" fill="url(#gC)"/><circle cx="394.4" cy="224.3" r="4.3" fill="url(#gC)"/><circle cx="177.5" cy="150.8" r="4.3" fill="url(#gC)"/><circle cx="210.7" cy="131.8" r="4.3" fill="url(#gC)"/><circle cx="140.4" cy="268.4" r="4.3" fill="url(#gC)"/><circle cx="364.6" cy="198.8" r="4.3" fill="url(#gC)"/><circle cx="276.8" cy="278.0" r="4.3" fill="url(#gC)"/><circle cx="527.1" cy="286.0" r="4.3" fill="url(#gC)"/><circle cx="561.1" cy="134.2" r="4.3" fill="url(#gC)"/><circle cx="69.4" cy="224.3" r="4.3" fill="url(#gC)"/><circle cx="469.2" cy="249.6" r="4.3" fill="url(#gC)"/><circle cx="192.9" cy="188.9" r="4.3" fill="url(#gC)"/><circle cx="387.5" cy="102.9" r="4.3" fill="url(#gC)"/><circle cx="579.2" cy="148.4" r="4.3" fill="url(#gC)"/><circle cx="227.7" cy="212.1" r="4.3" fill="url(#gC)"/><circle cx="587.5" cy="192.1" r="4.3" fill="url(#gC)"/><circle cx="178.5" cy="161.2" r="4.3" fill="url(#gC)"/><circle cx="602.4" cy="142.8" r="4.3" fill="url(#gC)"/><circle cx="475.4" cy="225.5" r="4.3" fill="url(#gC)"/><circle cx="177.7" cy="129.0" r="4.3" fill="url(#gC)"/><circle cx="452.2" cy="208.3" r="4.3" fill="url(#gC)"/><circle cx="176.7" cy="196.1" r="4.3" fill="url(#gC)"/><circle cx="303.5" cy="290.3" r="4.3" fill="url(#gC)"/><circle cx="143.5" cy="222.0" r="4.3" fill="url(#gC)"/><circle cx="411.7" cy="194.4" r="4.3" fill="url(#gC)"/><circle cx="394.6" cy="144.2" r="4.3" fill="url(#gC)"/><circle cx="210.9" cy="95.9" r="5.0" fill="url(#gN)"/><circle cx="208.3" cy="275.4" r="5.0" fill="url(#gN)"/><circle cx="570.0" cy="208.5" r="4.3" fill="url(#gC)"/><circle cx="92.8" cy="228.6" r="4.3" fill="url(#gC)"/><circle cx="596.6" cy="220.9" r="4.3" fill="url(#gC)"/><circle cx="433.8" cy="177.1" r="4.3" fill="url(#gC)"/><circle cx="192.6" cy="188.9" r="4.3" fill="url(#gC)"/><circle cx="363.3" cy="188.0" r="4.3" fill="url(#gC)"/><circle cx="519.7" cy="273.0" r="4.3" fill="url(#gC)"/><circle cx="596.9" cy="199.0" r="4.3" fill="url(#gC)"/><circle cx="594.0" cy="135.9" r="4.3" fill="url(#gC)"/><circle cx="483.8" cy="232.6" r="4.3" fill="url(#gC)"/><circle cx="68.4" cy="291.4" r="4.3" fill="url(#gC)"/><circle cx="592.5" cy="181.5" r="4.3" fill="url(#gC)"/><circle cx="502.2" cy="236.4" r="4.3" fill="url(#gC)"/><circle cx="120.1" cy="218.2" r="4.3" fill="url(#gC)"/><circle cx="201.3" cy="196.3" r="4.3" fill="url(#gC)"/><circle cx="184.1" cy="137.8" r="4.3" fill="url(#gC)"/><circle cx="592.2" cy="203.4" r="4.3" fill="url(#gC)"/><circle cx="184.0" cy="226.2" r="4.3" fill="url(#gC)"/><circle cx="385.7" cy="170.4" r="4.3" fill="url(#gC)"/><circle cx="619.8" cy="146.9" r="4.3" fill="url(#gC)"/><circle cx="483.3" cy="277.0" r="4.3" fill="url(#gC)"/><circle cx="577.9" cy="208.0" r="4.3" fill="url(#gC)"/><circle cx="394.2" cy="157.8" r="4.3" fill="url(#gC)"/><circle cx="484.0" cy="299.1" r="4.3" fill="url(#gC)"/><circle cx="526.9" cy="307.8" r="4.3" fill="url(#gC)"/><circle cx="134.9" cy="244.5" r="4.3" fill="url(#gC)"/><circle cx="290.1" cy="287.9" r="4.3" fill="url(#gC)"/><circle cx="317.7" cy="219.1" r="4.3" fill="url(#gC)"/><circle cx="202.8" cy="150.7" r="4.3" fill="url(#gC)"/><circle cx="592.2" cy="181.1" r="4.3" fill="url(#gC)"/><circle cx="84.7" cy="187.8" r="5.0" fill="url(#gN)"/><circle cx="378.1" cy="96.5" r="5.0" fill="url(#gN)"/><circle cx="82.1" cy="367.3" r="5.0" fill="url(#gN)"/><circle cx="375.5" cy="276.0" r="5.0" fill="url(#gN)"/><circle cx="492.5" cy="217.4" r="4.3" fill="url(#gC)"/><circle cx="101.2" cy="293.8" r="4.3" fill="url(#gC)"/><circle cx="143.7" cy="200.2" r="4.3" fill="url(#gC)"/><circle cx="218.9" cy="160.5" r="4.3" fill="url(#gC)"/><circle cx="303.2" cy="312.2" r="4.3" fill="url(#gC)"/><circle cx="91.3" cy="274.2" r="4.3" fill="url(#gC)"/><circle cx="617.7" cy="203.7" r="4.3" fill="url(#gC)"/><circle cx="142.7" cy="189.8" r="5.0" fill="url(#gN)"/><circle cx="436.1" cy="98.5" r="5.0" fill="url(#gN)"/><circle cx="140.1" cy="369.3" r="5.0" fill="url(#gN)"/><circle cx="433.5" cy="278.0" r="5.0" fill="url(#gN)"/><circle cx="184.2" cy="204.4" r="4.3" fill="url(#gC)"/><circle cx="411.5" cy="216.2" r="4.3" fill="url(#gC)"/><circle cx="71.5" cy="245.0" r="4.3" fill="url(#gC)"/><circle cx="527.6" cy="219.1" r="4.3" fill="url(#gC)"/><circle cx="125.9" cy="282.3" r="4.3" fill="url(#gC)"/><circle cx="365.1" cy="131.9" r="4.3" fill="url(#gC)"/><circle cx="611.1" cy="127.8" r="4.3" fill="url(#gC)"/><circle cx="327.9" cy="204.9" r="4.3" fill="url(#gC)"/><circle cx="587.1" cy="200.4" r="4.3" fill="url(#gC)"/><circle cx="109.9" cy="278.3" r="4.3" fill="url(#gC)"/><circle cx="501.3" cy="269.2" r="4.3" fill="url(#gC)"/><circle cx="453.0" cy="240.5" r="4.3" fill="url(#gC)"/><circle cx="180.0" cy="127.9" r="4.3" fill="url(#gC)"/><circle cx="233.8" cy="199.0" r="4.3" fill="url(#gC)"/><circle cx="403.6" cy="164.2" r="4.3" fill="url(#gC)"/><circle cx="386.2" cy="137.3" r="4.3" fill="url(#gC)"/><circle cx="483.6" cy="254.2" r="4.3" fill="url(#gC)"/><circle cx="428.3" cy="153.2" r="4.3" fill="url(#gC)"/><circle cx="101.7" cy="191.8" r="5.0" fill="url(#gN)"/><circle cx="395.1" cy="100.5" r="5.0" fill="url(#gN)"/><circle cx="99.1" cy="371.3" r="5.0" fill="url(#gN)"/><circle cx="392.5" cy="280.0" r="5.0" fill="url(#gN)"/><circle cx="460.0" cy="309.7" r="4.3" fill="url(#gC)"/><circle cx="68.1" cy="313.3" r="4.3" fill="url(#gC)"/><circle cx="570.2" cy="186.7" r="4.3" fill="url(#gC)"/><circle cx="600.4" cy="210.3" r="4.3" fill="url(#gC)"/><circle cx="596.5" cy="154.3" r="4.3" fill="url(#gC)"/><circle cx="583.1" cy="151.9" r="4.3" fill="url(#gC)"/><circle cx="563.1" cy="178.2" r="4.3" fill="url(#gC)"/><circle cx="203.0" cy="106.5" r="5.0" fill="url(#gN)"/><circle cx="200.4" cy="286.0" r="5.0" fill="url(#gN)"/><circle cx="178.2" cy="184.0" r="4.3" fill="url(#gC)"/><circle cx="201.1" cy="218.1" r="4.3" fill="url(#gC)"/><circle cx="285.5" cy="262.5" r="4.3" fill="url(#gC)"/><circle cx="620.6" cy="202.3" r="4.3" fill="url(#gC)"/><circle cx="451.2" cy="275.4" r="4.3" fill="url(#gC)"/><circle cx="562.9" cy="200.0" r="4.3" fill="url(#gC)"/><circle cx="562.1" cy="144.6" r="4.3" fill="url(#gC)"/><circle cx="116.0" cy="320.1" r="4.3" fill="url(#gC)"/><circle cx="300.6" cy="227.2" r="4.3" fill="url(#gC)"/><circle cx="71.7" cy="223.2" r="4.3" fill="url(#gC)"/><circle cx="309.5" cy="190.4" r="5.0" fill="url(#gN)"/><circle cx="602.9" cy="99.1" r="5.0" fill="url(#gN)"/><circle cx="306.9" cy="369.9" r="5.0" fill="url(#gN)"/><circle cx="600.3" cy="278.6" r="5.0" fill="url(#gN)"/><circle cx="452.7" cy="263.3" r="4.3" fill="url(#gC)"/><circle cx="493.7" cy="195.3" r="5.0" fill="url(#gN)"/><circle cx="491.1" cy="374.8" r="5.0" fill="url(#gN)"/><circle cx="290.0" cy="221.3" r="4.3" fill="url(#gC)"/><circle cx="502.4" cy="214.6" r="4.3" fill="url(#gC)"/><circle cx="578.9" cy="171.2" r="4.3" fill="url(#gC)"/><circle cx="560.3" cy="179.5" r="4.3" fill="url(#gC)"/><circle cx="618.8" cy="136.5" r="4.3" fill="url(#gC)"/><circle cx="500.4" cy="303.9" r="4.3" fill="url(#gC)"/><circle cx="325.4" cy="227.8" r="4.3" fill="url(#gC)"/><circle cx="236.4" cy="219.5" r="4.3" fill="url(#gC)"/><circle cx="269.2" cy="192.2" r="5.0" fill="url(#gN)"/><circle cx="562.6" cy="100.9" r="5.0" fill="url(#gN)"/><circle cx="266.6" cy="371.7" r="5.0" fill="url(#gN)"/><circle cx="560.0" cy="280.4" r="5.0" fill="url(#gN)"/><circle cx="453.5" cy="196.8" r="5.0" fill="url(#gN)"/><circle cx="450.9" cy="376.3" r="5.0" fill="url(#gN)"/><circle cx="411.2" cy="161.3" r="4.3" fill="url(#gC)"/><circle cx="100.8" cy="249.1" r="4.3" fill="url(#gC)"/><circle cx="71.2" cy="290.1" r="4.3" fill="url(#gC)"/><circle cx="284.5" cy="299.3" r="4.3" fill="url(#gC)"/><circle cx="460.1" cy="221.3" r="4.3" fill="url(#gC)"/><circle cx="183.8" cy="159.7" r="4.3" fill="url(#gC)"/><circle cx="621.3" cy="113.6" r="4.3" fill="url(#gC)"/><circle cx="218.6" cy="183.3" r="4.3" fill="url(#gC)"/><circle cx="596.7" cy="132.5" r="4.3" fill="url(#gC)"/><circle cx="324.3" cy="295.0" r="4.3" fill="url(#gC)"/><circle cx="203.1" cy="128.8" r="4.3" fill="url(#gC)"/><circle cx="101.0" cy="315.6" r="4.3" fill="url(#gC)"/><circle cx="525.3" cy="220.2" r="4.3" fill="url(#gC)"/><circle cx="298.8" cy="272.4" r="4.3" fill="url(#gC)"/><circle cx="326.9" cy="194.5" r="5.0" fill="url(#gN)"/><circle cx="620.3" cy="103.2" r="5.0" fill="url(#gN)"/><circle cx="324.3" cy="374.0" r="5.0" fill="url(#gN)"/><circle cx="617.7" cy="282.7" r="5.0" fill="url(#gN)"/><circle cx="116.3" cy="298.2" r="4.3" fill="url(#gC)"/><circle cx="307.2" cy="279.8" r="4.3" fill="url(#gC)"/><circle cx="237.1" cy="130.8" r="4.3" fill="url(#gC)"/><circle cx="511.1" cy="199.6" r="5.0" fill="url(#gN)"/><circle cx="508.5" cy="379.1" r="5.0" fill="url(#gN)"/><circle cx="419.6" cy="168.2" r="4.3" fill="url(#gC)"/><circle cx="492.4" cy="305.8" r="4.3" fill="url(#gC)"/><circle cx="411.4" cy="139.5" r="4.3" fill="url(#gC)"/><circle cx="286.3" cy="196.0" r="5.0" fill="url(#gN)"/><circle cx="579.7" cy="104.7" r="5.0" fill="url(#gN)"/><circle cx="283.7" cy="375.5" r="5.0" fill="url(#gN)"/><circle cx="577.1" cy="284.2" r="5.0" fill="url(#gN)"/><circle cx="577.6" cy="229.9" r="4.3" fill="url(#gC)"/><circle cx="210.5" cy="153.6" r="4.3" fill="url(#gC)"/><circle cx="228.0" cy="190.2" r="4.3" fill="url(#gC)"/><circle cx="208.7" cy="221.1" r="4.3" fill="url(#gC)"/><circle cx="525.1" cy="242.0" r="4.3" fill="url(#gC)"/><circle cx="119.8" cy="240.1" r="4.3" fill="url(#gC)"/><circle cx="583.4" cy="130.0" r="4.3" fill="url(#gC)"/><circle cx="525.8" cy="275.2" r="4.3" fill="url(#gC)"/><circle cx="233.5" cy="220.9" r="4.3" fill="url(#gC)"/><circle cx="309.0" cy="212.3" r="4.3" fill="url(#gC)"/><circle cx="117.8" cy="252.6" r="4.3" fill="url(#gC)"/><circle cx="364.9" cy="153.7" r="4.3" fill="url(#gC)"/><circle cx="219.4" cy="116.8" r="5.0" fill="url(#gN)"/><circle cx="216.8" cy="296.3" r="5.0" fill="url(#gN)"/><circle cx="135.0" cy="311.1" r="4.3" fill="url(#gC)"/><circle cx="179.0" cy="117.5" r="5.0" fill="url(#gN)"/><circle cx="176.4" cy="297.0" r="5.0" fill="url(#gN)"/><circle cx="409.7" cy="206.9" r="4.3" fill="url(#gC)"/><circle cx="524.0" cy="309.2" r="4.3" fill="url(#gC)"/><circle cx="193.2" cy="166.1" r="4.3" fill="url(#gC)"/><circle cx="479.1" cy="212.3" r="4.3" fill="url(#gC)"/><circle cx="118.3" cy="285.7" r="4.3" fill="url(#gC)"/><circle cx="409.4" cy="228.8" r="4.3" fill="url(#gC)"/><circle cx="469.7" cy="205.9" r="5.0" fill="url(#gN)"/><circle cx="467.1" cy="385.4" r="5.0" fill="url(#gN)"/><circle cx="362.6" cy="154.8" r="4.3" fill="url(#gC)"/><circle cx="362.8" cy="133.0" r="4.3" fill="url(#gC)"/><circle cx="361.8" cy="200.1" r="4.3" fill="url(#gC)"/><circle cx="236.1" cy="120.4" r="5.0" fill="url(#gN)"/><circle cx="233.5" cy="299.9" r="5.0" fill="url(#gN)"/><circle cx="294.1" cy="283.4" r="4.3" fill="url(#gC)"/><circle cx="526.6" cy="208.7" r="5.0" fill="url(#gN)"/><circle cx="524.0" cy="388.2" r="5.0" fill="url(#gN)"/><circle cx="583.3" cy="218.4" r="4.3" fill="url(#gC)"/><circle cx="473.4" cy="314.8" r="4.3" fill="url(#gC)"/><circle cx="602.1" cy="142.9" r="4.3" fill="url(#gC)"/><circle cx="193.7" cy="122.4" r="5.0" fill="url(#gN)"/><circle cx="191.1" cy="301.9" r="5.0" fill="url(#gN)"/><circle cx="428.4" cy="219.8" r="4.3" fill="url(#gC)"/><circle cx="473.7" cy="292.9" r="4.3" fill="url(#gC)"/><circle cx="299.6" cy="205.9" r="5.0" fill="url(#gN)"/><circle cx="593.0" cy="114.6" r="5.0" fill="url(#gN)"/><circle cx="297.0" cy="385.4" r="5.0" fill="url(#gN)"/><circle cx="590.4" cy="294.1" r="5.0" fill="url(#gN)"/><circle cx="484.1" cy="210.5" r="5.0" fill="url(#gN)"/><circle cx="481.5" cy="390.0" r="5.0" fill="url(#gN)"/><circle cx="364.4" cy="220.6" r="4.3" fill="url(#gC)"/><circle cx="428.7" cy="197.9" r="4.3" fill="url(#gC)"/><circle cx="286.0" cy="253.7" r="4.3" fill="url(#gC)"/><circle cx="110.7" cy="211.8" r="5.0" fill="url(#gN)"/><circle cx="404.1" cy="120.5" r="5.0" fill="url(#gN)"/><circle cx="108.1" cy="391.3" r="5.0" fill="url(#gN)"/><circle cx="401.5" cy="300.0" r="5.0" fill="url(#gN)"/><circle cx="303.3" cy="223.8" r="4.3" fill="url(#gC)"/><circle cx="294.4" cy="260.6" r="4.3" fill="url(#gC)"/><circle cx="587.8" cy="169.3" r="4.3" fill="url(#gC)"/><circle cx="70.7" cy="212.8" r="5.0" fill="url(#gN)"/><circle cx="364.1" cy="121.5" r="5.0" fill="url(#gN)"/><circle cx="68.1" cy="392.3" r="5.0" fill="url(#gN)"/><circle cx="361.5" cy="301.0" r="5.0" fill="url(#gN)"/><circle cx="428.5" cy="131.4" r="4.3" fill="url(#gC)"/><circle cx="303.1" cy="245.6" r="4.3" fill="url(#gC)"/><circle cx="135.1" cy="222.7" r="4.3" fill="url(#gC)"/><circle cx="579.4" cy="162.4" r="4.3" fill="url(#gC)"/><circle cx="126.7" cy="215.8" r="5.0" fill="url(#gN)"/><circle cx="420.1" cy="124.5" r="5.0" fill="url(#gN)"/><circle cx="124.1" cy="395.3" r="5.0" fill="url(#gN)"/><circle cx="417.5" cy="304.0" r="5.0" fill="url(#gN)"/><circle cx="579.6" cy="140.6" r="4.3" fill="url(#gC)"/><circle cx="286.2" cy="231.9" r="4.3" fill="url(#gC)"/><circle cx="294.9" cy="216.9" r="5.0" fill="url(#gN)"/><circle cx="588.3" cy="125.6" r="5.0" fill="url(#gN)"/><circle cx="292.3" cy="396.4" r="5.0" fill="url(#gN)"/><circle cx="585.7" cy="305.1" r="5.0" fill="url(#gN)"/><circle cx="262.2" cy="67.7" r="4.3" fill="url(#gC)"/><circle cx="277.5" cy="66.0" r="4.3" fill="url(#gC)"/><circle cx="289.2" cy="69.0" r="4.3" fill="url(#gC)"/><circle cx="288.3" cy="60.7" r="4.3" fill="url(#gC)"/><circle cx="313.7" cy="66.3" r="4.3" fill="url(#gC)"/><circle cx="312.8" cy="58.0" r="4.3" fill="url(#gC)"/><circle cx="324.5" cy="61.0" r="4.3" fill="url(#gC)"/><circle cx="339.8" cy="59.3" r="4.3" fill="url(#gC)"/><circle cx="259.6" cy="247.2" r="4.3" fill="url(#gC)"/><circle cx="274.9" cy="245.5" r="4.3" fill="url(#gC)"/><circle cx="286.6" cy="248.5" r="4.3" fill="url(#gC)"/><circle cx="285.7" cy="240.2" r="4.3" fill="url(#gC)"/><circle cx="311.1" cy="245.8" r="4.3" fill="url(#gC)"/><circle cx="310.2" cy="237.5" r="4.3" fill="url(#gC)"/><circle cx="321.9" cy="240.5" r="4.3" fill="url(#gC)"/><circle cx="337.2" cy="238.8" r="4.3" fill="url(#gC)"/><circle cx="251.5" cy="82.1" r="4.3" fill="url(#gC)"/><circle cx="269.7" cy="83.4" r="4.3" fill="url(#gC)"/><circle cx="282.7" cy="88.6" r="4.3" fill="url(#gC)"/><circle cx="283.3" cy="80.3" r="4.3" fill="url(#gC)"/><circle cx="311.7" cy="90.7" r="4.3" fill="url(#gC)"/><circle cx="312.3" cy="82.4" r="4.3" fill="url(#gC)"/><circle cx="325.3" cy="87.6" r="4.3" fill="url(#gC)"/><circle cx="343.5" cy="88.9" r="4.3" fill="url(#gC)"/><circle cx="248.9" cy="261.6" r="4.3" fill="url(#gC)"/><circle cx="267.1" cy="262.9" r="4.3" fill="url(#gC)"/><circle cx="280.1" cy="268.1" r="4.3" fill="url(#gC)"/><circle cx="280.7" cy="259.8" r="4.3" fill="url(#gC)"/><circle cx="309.1" cy="270.2" r="4.3" fill="url(#gC)"/><circle cx="309.7" cy="261.9" r="4.3" fill="url(#gC)"/><circle cx="322.7" cy="267.1" r="4.3" fill="url(#gC)"/><circle cx="340.9" cy="268.4" r="4.3" fill="url(#gC)"/><circle cx="267.8" cy="83.5" r="4.3" fill="url(#gC)"/><circle cx="280.1" cy="82.9" r="4.3" fill="url(#gC)"/><circle cx="289.4" cy="86.6" r="4.3" fill="url(#gC)"/><circle cx="289.0" cy="78.3" r="4.3" fill="url(#gC)"/><circle cx="309.0" cy="85.7" r="4.3" fill="url(#gC)"/><circle cx="308.6" cy="77.4" r="4.3" fill="url(#gC)"/><circle cx="317.9" cy="81.1" r="4.3" fill="url(#gC)"/><circle cx="330.2" cy="80.5" r="4.3" fill="url(#gC)"/><circle cx="265.2" cy="263.0" r="4.3" fill="url(#gC)"/><circle cx="277.5" cy="262.4" r="4.3" fill="url(#gC)"/><circle cx="286.8" cy="266.1" r="4.3" fill="url(#gC)"/><circle cx="286.4" cy="257.8" r="4.3" fill="url(#gC)"/><circle cx="306.4" cy="265.2" r="4.3" fill="url(#gC)"/><circle cx="306.0" cy="256.9" r="4.3" fill="url(#gC)"/><circle cx="315.3" cy="260.6" r="4.3" fill="url(#gC)"/><circle cx="327.6" cy="260.0" r="4.3" fill="url(#gC)"/><circle cx="451.8" cy="62.6" r="4.3" fill="url(#gC)"/><circle cx="470.2" cy="62.6" r="4.3" fill="url(#gC)"/><circle cx="483.7" cy="66.8" r="4.3" fill="url(#gC)"/><circle cx="483.7" cy="58.4" r="4.3" fill="url(#gC)"/><circle cx="513.3" cy="66.8" r="4.3" fill="url(#gC)"/><circle cx="513.3" cy="58.4" r="4.3" fill="url(#gC)"/><circle cx="526.8" cy="62.6" r="4.3" fill="url(#gC)"/><circle cx="545.2" cy="62.6" r="4.3" fill="url(#gC)"/><circle cx="449.2" cy="242.1" r="4.3" fill="url(#gC)"/><circle cx="467.6" cy="242.1" r="4.3" fill="url(#gC)"/><circle cx="481.1" cy="246.3" r="4.3" fill="url(#gC)"/><circle cx="481.1" cy="237.9" r="4.3" fill="url(#gC)"/><circle cx="510.7" cy="246.3" r="4.3" fill="url(#gC)"/><circle cx="510.7" cy="237.9" r="4.3" fill="url(#gC)"/><circle cx="524.2" cy="242.1" r="4.3" fill="url(#gC)"/><circle cx="542.6" cy="242.1" r="4.3" fill="url(#gC)"/><circle cx="437.4" cy="91.4" r="4.3" fill="url(#gC)"/><circle cx="456.6" cy="89.5" r="4.3" fill="url(#gC)"/><circle cx="471.1" cy="92.2" r="4.3" fill="url(#gC)"/><circle cx="470.2" cy="83.9" r="4.3" fill="url(#gC)"/><circle cx="501.8" cy="89.1" r="4.3" fill="url(#gC)"/><circle cx="500.9" cy="80.8" r="4.3" fill="url(#gC)"/><circle cx="515.4" cy="83.5" r="4.3" fill="url(#gC)"/><circle cx="534.6" cy="81.6" r="4.3" fill="url(#gC)"/><circle cx="434.8" cy="270.9" r="4.3" fill="url(#gC)"/><circle cx="454.0" cy="269.0" r="4.3" fill="url(#gC)"/><circle cx="468.5" cy="271.7" r="4.3" fill="url(#gC)"/><circle cx="467.6" cy="263.4" r="4.3" fill="url(#gC)"/><circle cx="499.2" cy="268.6" r="4.3" fill="url(#gC)"/><circle cx="498.3" cy="260.3" r="4.3" fill="url(#gC)"/><circle cx="512.8" cy="263.0" r="4.3" fill="url(#gC)"/><circle cx="532.0" cy="261.1" r="4.3" fill="url(#gC)"/><circle cx="461.4" cy="68.5" r="4.3" fill="url(#gC)"/><circle cx="475.6" cy="69.1" r="4.3" fill="url(#gC)"/><circle cx="485.9" cy="73.7" r="4.3" fill="url(#gC)"/><circle cx="486.3" cy="65.4" r="4.3" fill="url(#gC)"/><circle cx="508.7" cy="74.6" r="4.3" fill="url(#gC)"/><circle cx="509.1" cy="66.3" r="4.3" fill="url(#gC)"/><circle cx="519.4" cy="70.9" r="4.3" fill="url(#gC)"/><circle cx="533.6" cy="71.5" r="4.3" fill="url(#gC)"/><circle cx="458.8" cy="248.0" r="4.3" fill="url(#gC)"/><circle cx="473.0" cy="248.6" r="4.3" fill="url(#gC)"/><circle cx="483.3" cy="253.2" r="4.3" fill="url(#gC)"/><circle cx="483.7" cy="244.9" r="4.3" fill="url(#gC)"/><circle cx="506.1" cy="254.1" r="4.3" fill="url(#gC)"/><circle cx="506.5" cy="245.8" r="4.3" fill="url(#gC)"/><circle cx="516.8" cy="250.4" r="4.3" fill="url(#gC)"/><circle cx="531.0" cy="251.0" r="4.3" fill="url(#gC)"/><circle cx="158.8" cy="154.1" r="4.3" fill="url(#gC)"/><circle cx="177.2" cy="154.3" r="4.3" fill="url(#gC)"/><circle cx="190.7" cy="158.5" r="4.3" fill="url(#gC)"/><circle cx="190.8" cy="150.2" r="4.3" fill="url(#gC)"/><circle cx="220.2" cy="158.8" r="4.3" fill="url(#gC)"/><circle cx="220.3" cy="150.5" r="4.3" fill="url(#gC)"/><circle cx="233.8" cy="154.7" r="4.3" fill="url(#gC)"/><circle cx="252.2" cy="154.9" r="4.3" fill="url(#gC)"/><circle cx="156.2" cy="333.6" r="4.3" fill="url(#gC)"/><circle cx="174.6" cy="333.8" r="4.3" fill="url(#gC)"/><circle cx="188.1" cy="338.0" r="4.3" fill="url(#gC)"/><circle cx="188.2" cy="329.7" r="4.3" fill="url(#gC)"/><circle cx="217.6" cy="338.3" r="4.3" fill="url(#gC)"/><circle cx="217.7" cy="330.0" r="4.3" fill="url(#gC)"/><circle cx="231.2" cy="334.2" r="4.3" fill="url(#gC)"/><circle cx="249.6" cy="334.4" r="4.3" fill="url(#gC)"/><circle cx="144.1" cy="183.0" r="4.3" fill="url(#gC)"/><circle cx="164.2" cy="181.8" r="4.3" fill="url(#gC)"/><circle cx="179.2" cy="185.1" r="4.3" fill="url(#gC)"/><circle cx="178.7" cy="176.8" r="4.3" fill="url(#gC)"/><circle cx="211.3" cy="183.2" r="4.3" fill="url(#gC)"/><circle cx="210.8" cy="174.9" r="4.3" fill="url(#gC)"/><circle cx="225.8" cy="178.2" r="4.3" fill="url(#gC)"/><circle cx="245.9" cy="177.0" r="4.3" fill="url(#gC)"/><circle cx="141.5" cy="362.5" r="4.3" fill="url(#gC)"/><circle cx="161.6" cy="361.3" r="4.3" fill="url(#gC)"/><circle cx="176.6" cy="364.6" r="4.3" fill="url(#gC)"/><circle cx="176.1" cy="356.3" r="4.3" fill="url(#gC)"/><circle cx="208.7" cy="362.7" r="4.3" fill="url(#gC)"/><circle cx="208.2" cy="354.4" r="4.3" fill="url(#gC)"/><circle cx="223.2" cy="357.7" r="4.3" fill="url(#gC)"/><circle cx="243.3" cy="356.5" r="4.3" fill="url(#gC)"/><circle cx="170.8" cy="165.9" r="4.3" fill="url(#gC)"/><circle cx="184.3" cy="165.7" r="4.3" fill="url(#gC)"/><circle cx="194.2" cy="169.8" r="4.3" fill="url(#gC)"/><circle cx="194.2" cy="161.5" r="4.3" fill="url(#gC)"/><circle cx="215.8" cy="169.5" r="4.3" fill="url(#gC)"/><circle cx="215.8" cy="161.2" r="4.3" fill="url(#gC)"/><circle cx="225.7" cy="165.3" r="4.3" fill="url(#gC)"/><circle cx="239.2" cy="165.1" r="4.3" fill="url(#gC)"/><circle cx="168.2" cy="345.4" r="4.3" fill="url(#gC)"/><circle cx="181.7" cy="345.2" r="4.3" fill="url(#gC)"/><circle cx="191.6" cy="349.3" r="4.3" fill="url(#gC)"/><circle cx="191.6" cy="341.0" r="4.3" fill="url(#gC)"/><circle cx="213.2" cy="349.0" r="4.3" fill="url(#gC)"/><circle cx="213.2" cy="340.7" r="4.3" fill="url(#gC)"/><circle cx="223.1" cy="344.8" r="4.3" fill="url(#gC)"/><circle cx="236.6" cy="344.6" r="4.3" fill="url(#gC)"/><circle cx="343.6" cy="159.1" r="4.3" fill="url(#gC)"/><circle cx="362.4" cy="159.3" r="4.3" fill="url(#gC)"/><circle cx="376.2" cy="163.5" r="4.3" fill="url(#gC)"/><circle cx="376.2" cy="155.2" r="4.3" fill="url(#gC)"/><circle cx="406.3" cy="163.8" r="4.3" fill="url(#gC)"/><circle cx="406.3" cy="155.5" r="4.3" fill="url(#gC)"/><circle cx="420.1" cy="159.7" r="4.3" fill="url(#gC)"/><circle cx="438.9" cy="159.9" r="4.3" fill="url(#gC)"/><circle cx="341.0" cy="338.6" r="4.3" fill="url(#gC)"/><circle cx="359.8" cy="338.8" r="4.3" fill="url(#gC)"/><circle cx="373.6" cy="343.0" r="4.3" fill="url(#gC)"/><circle cx="373.6" cy="334.7" r="4.3" fill="url(#gC)"/><circle cx="403.7" cy="343.3" r="4.3" fill="url(#gC)"/><circle cx="403.7" cy="335.0" r="4.3" fill="url(#gC)"/><circle cx="417.5" cy="339.2" r="4.3" fill="url(#gC)"/><circle cx="436.3" cy="339.4" r="4.3" fill="url(#gC)"/><circle cx="315.8" cy="180.5" r="4.3" fill="url(#gC)"/><circle cx="335.6" cy="179.9" r="4.3" fill="url(#gC)"/><circle cx="350.3" cy="183.6" r="4.3" fill="url(#gC)"/><circle cx="350.0" cy="175.3" r="4.3" fill="url(#gC)"/><circle cx="382.0" cy="182.7" r="4.3" fill="url(#gC)"/><circle cx="381.7" cy="174.4" r="4.3" fill="url(#gC)"/><circle cx="396.4" cy="178.1" r="4.3" fill="url(#gC)"/><circle cx="416.2" cy="177.5" r="4.3" fill="url(#gC)"/><circle cx="313.2" cy="360.0" r="4.3" fill="url(#gC)"/><circle cx="333.0" cy="359.4" r="4.3" fill="url(#gC)"/><circle cx="347.7" cy="363.1" r="4.3" fill="url(#gC)"/><circle cx="347.4" cy="354.8" r="4.3" fill="url(#gC)"/><circle cx="379.4" cy="362.2" r="4.3" fill="url(#gC)"/><circle cx="379.1" cy="353.9" r="4.3" fill="url(#gC)"/><circle cx="393.8" cy="357.6" r="4.3" fill="url(#gC)"/><circle cx="413.6" cy="357.0" r="4.3" fill="url(#gC)"/><circle cx="356.4" cy="168.0" r="4.3" fill="url(#gC)"/><circle cx="370.6" cy="168.0" r="4.3" fill="url(#gC)"/><circle cx="381.1" cy="172.2" r="4.3" fill="url(#gC)"/><circle cx="381.1" cy="163.8" r="4.3" fill="url(#gC)"/><circle cx="403.9" cy="172.2" r="4.3" fill="url(#gC)"/><circle cx="403.9" cy="163.8" r="4.3" fill="url(#gC)"/><circle cx="414.4" cy="168.0" r="4.3" fill="url(#gC)"/><circle cx="428.6" cy="168.0" r="4.3" fill="url(#gC)"/><circle cx="353.8" cy="347.5" r="4.3" fill="url(#gC)"/><circle cx="368.0" cy="347.5" r="4.3" fill="url(#gC)"/><circle cx="378.5" cy="351.7" r="4.3" fill="url(#gC)"/><circle cx="378.5" cy="343.3" r="4.3" fill="url(#gC)"/><circle cx="401.3" cy="351.7" r="4.3" fill="url(#gC)"/><circle cx="401.3" cy="343.3" r="4.3" fill="url(#gC)"/><circle cx="411.8" cy="347.5" r="4.3" fill="url(#gC)"/><circle cx="426.0" cy="347.5" r="4.3" fill="url(#gC)"/><circle cx="540.6" cy="177.5" r="4.3" fill="url(#gC)"/><circle cx="553.8" cy="176.9" r="4.3" fill="url(#gC)"/><circle cx="563.6" cy="180.6" r="4.3" fill="url(#gC)"/><circle cx="563.3" cy="172.3" r="4.3" fill="url(#gC)"/><circle cx="584.7" cy="179.7" r="4.3" fill="url(#gC)"/><circle cx="584.4" cy="171.4" r="4.3" fill="url(#gC)"/><circle cx="594.2" cy="175.1" r="4.3" fill="url(#gC)"/><circle cx="607.4" cy="174.5" r="4.3" fill="url(#gC)"/><circle cx="538.1" cy="162.6" r="4.3" fill="url(#gC)"/><circle cx="550.7" cy="162.2" r="4.3" fill="url(#gC)"/><circle cx="560.1" cy="166.0" r="4.3" fill="url(#gC)"/><circle cx="559.8" cy="157.7" r="4.3" fill="url(#gC)"/><circle cx="580.2" cy="165.3" r="4.3" fill="url(#gC)"/><circle cx="579.9" cy="157.0" r="4.3" fill="url(#gC)"/><circle cx="589.3" cy="160.8" r="4.3" fill="url(#gC)"/><circle cx="601.9" cy="160.4" r="4.3" fill="url(#gC)"/><circle cx="347.8" cy="61.7" r="5.0" fill="url(#gO)"/><circle cx="345.7" cy="56.8" r="5.0" fill="url(#gO)"/><circle cx="345.2" cy="241.2" r="5.0" fill="url(#gO)"/><circle cx="343.1" cy="236.3" r="5.0" fill="url(#gO)"/><circle cx="442.5" cy="65.8" r="5.0" fill="url(#gO)"/><circle cx="444.4" cy="60.7" r="5.0" fill="url(#gO)"/><circle cx="554.5" cy="65.8" r="5.0" fill="url(#gO)"/><circle cx="552.6" cy="60.7" r="5.0" fill="url(#gO)"/><circle cx="439.9" cy="245.3" r="5.0" fill="url(#gO)"/><circle cx="441.8" cy="240.2" r="5.0" fill="url(#gO)"/><circle cx="551.9" cy="245.3" r="5.0" fill="url(#gO)"/><circle cx="550.0" cy="240.2" r="5.0" fill="url(#gO)"/><circle cx="428.1" cy="95.6" r="5.0" fill="url(#gO)"/><circle cx="429.5" cy="90.3" r="5.0" fill="url(#gO)"/><circle cx="425.5" cy="275.1" r="5.0" fill="url(#gO)"/><circle cx="426.9" cy="269.8" r="5.0" fill="url(#gO)"/><circle cx="261.4" cy="158.2" r="5.0" fill="url(#gO)"/><circle cx="259.6" cy="153.0" r="5.0" fill="url(#gO)"/><circle cx="258.8" cy="337.7" r="5.0" fill="url(#gO)"/><circle cx="257.0" cy="332.5" r="5.0" fill="url(#gO)"/><circle cx="134.2" cy="186.8" r="5.0" fill="url(#gO)"/><circle cx="135.9" cy="181.6" r="5.0" fill="url(#gO)"/><circle cx="131.6" cy="366.3" r="5.0" fill="url(#gO)"/><circle cx="133.3" cy="361.1" r="5.0" fill="url(#gO)"/><circle cx="448.3" cy="163.2" r="5.0" fill="url(#gO)"/><circle cx="446.5" cy="158.0" r="5.0" fill="url(#gO)"/><circle cx="445.7" cy="342.7" r="5.0" fill="url(#gO)"/><circle cx="443.9" cy="337.5" r="5.0" fill="url(#gO)"/><circle cx="306.0" cy="184.0" r="5.0" fill="url(#gO)"/><circle cx="307.9" cy="178.8" r="5.0" fill="url(#gO)"/><circle cx="426.2" cy="180.4" r="5.0" fill="url(#gO)"/><circle cx="424.0" cy="175.3" r="5.0" fill="url(#gO)"/><circle cx="303.4" cy="363.5" r="5.0" fill="url(#gO)"/><circle cx="305.3" cy="358.3" r="5.0" fill="url(#gO)"/><circle cx="423.6" cy="359.9" r="5.0" fill="url(#gO)"/><circle cx="421.4" cy="354.8" r="5.0" fill="url(#gO)"/><circle cx="98.0" cy="135.0" r="5.0" fill="url(#gO)"/><circle cx="391.4" cy="43.7" r="5.0" fill="url(#gO)"/><circle cx="95.4" cy="314.5" r="5.0" fill="url(#gO)"/><circle cx="388.8" cy="223.2" r="5.0" fill="url(#gO)"/><circle cx="100.0" cy="141.0" r="5.0" fill="url(#gO)"/><circle cx="393.4" cy="49.7" r="5.0" fill="url(#gO)"/><circle cx="97.4" cy="320.5" r="5.0" fill="url(#gO)"/><circle cx="390.8" cy="229.2" r="5.0" fill="url(#gO)"/><circle cx="468.8" cy="144.0" r="5.0" fill="url(#gO)"/><circle cx="466.2" cy="323.5" r="5.0" fill="url(#gO)"/><circle cx="283.4" cy="139.7" r="5.0" fill="url(#gO)"/><circle cx="576.8" cy="48.4" r="5.0" fill="url(#gO)"/><circle cx="280.8" cy="319.2" r="5.0" fill="url(#gO)"/><circle cx="574.2" cy="227.9" r="5.0" fill="url(#gO)"/><circle cx="190.1" cy="57.7" r="5.0" fill="url(#gO)"/><circle cx="224.4" cy="57.7" r="5.0" fill="url(#gO)"/><circle cx="187.5" cy="237.2" r="5.0" fill="url(#gO)"/><circle cx="221.8" cy="237.2" r="5.0" fill="url(#gO)"/><circle cx="52.0" cy="148.0" r="5.0" fill="url(#gO)"/><circle cx="345.4" cy="56.7" r="5.0" fill="url(#gO)"/><circle cx="49.4" cy="327.5" r="5.0" fill="url(#gO)"/><circle cx="342.8" cy="236.2" r="5.0" fill="url(#gO)"/><circle cx="135.0" cy="149.0" r="5.0" fill="url(#gO)"/><circle cx="46.0" cy="150.0" r="4.3" fill="url(#gC)"/><circle cx="428.4" cy="57.7" r="5.0" fill="url(#gO)"/><circle cx="339.4" cy="58.7" r="4.3" fill="url(#gC)"/><circle cx="132.4" cy="328.5" r="5.0" fill="url(#gO)"/><circle cx="43.4" cy="329.5" r="4.3" fill="url(#gC)"/><circle cx="425.8" cy="237.2" r="5.0" fill="url(#gO)"/><circle cx="336.8" cy="238.2" r="4.3" fill="url(#gC)"/><circle cx="237.9" cy="62.2" r="5.0" fill="url(#gO)"/><circle cx="235.3" cy="241.7" r="5.0" fill="url(#gO)"/><circle cx="283.8" cy="145.1" r="5.0" fill="url(#gO)"/><circle cx="577.2" cy="53.8" r="5.0" fill="url(#gO)"/><circle cx="281.2" cy="324.6" r="5.0" fill="url(#gO)"/><circle cx="574.6" cy="233.3" r="5.0" fill="url(#gO)"/><circle cx="210.9" cy="61.4" r="5.2" fill="url(#gF)"/><circle cx="208.3" cy="240.9" r="5.2" fill="url(#gF)"/><circle cx="57.0" cy="151.0" r="5.0" fill="url(#gO)"/><circle cx="91.0" cy="152.0" r="4.3" fill="url(#gC)"/><circle cx="350.4" cy="59.7" r="5.0" fill="url(#gO)"/><circle cx="384.4" cy="60.7" r="4.3" fill="url(#gC)"/><circle cx="54.4" cy="330.5" r="5.0" fill="url(#gO)"/><circle cx="88.4" cy="331.5" r="4.3" fill="url(#gC)"/><circle cx="347.8" cy="239.2" r="5.0" fill="url(#gO)"/><circle cx="381.8" cy="240.2" r="4.3" fill="url(#gC)"/><circle cx="468.8" cy="151.2" r="5.0" fill="url(#gO)"/><circle cx="466.2" cy="330.7" r="5.0" fill="url(#gO)"/><circle cx="308.8" cy="148.4" r="4.3" fill="url(#gC)"/><circle cx="602.2" cy="57.1" r="4.3" fill="url(#gC)"/><circle cx="306.2" cy="327.9" r="4.3" fill="url(#gC)"/><circle cx="599.6" cy="236.6" r="4.3" fill="url(#gC)"/><circle cx="185.2" cy="65.1" r="5.0" fill="url(#gO)"/><circle cx="182.6" cy="244.6" r="5.0" fill="url(#gO)"/><circle cx="485.1" cy="153.8" r="4.3" fill="url(#gC)"/><circle cx="494.2" cy="153.8" r="4.3" fill="url(#gC)"/><circle cx="482.5" cy="333.3" r="4.3" fill="url(#gC)"/><circle cx="491.6" cy="333.3" r="4.3" fill="url(#gC)"/><circle cx="82.0" cy="154.0" r="5.0" fill="url(#gO)"/><circle cx="117.0" cy="154.0" r="5.0" fill="url(#gO)"/><circle cx="375.4" cy="62.7" r="5.0" fill="url(#gO)"/><circle cx="410.4" cy="62.7" r="5.0" fill="url(#gO)"/><circle cx="79.4" cy="333.5" r="5.0" fill="url(#gO)"/><circle cx="114.4" cy="333.5" r="5.0" fill="url(#gO)"/><circle cx="372.8" cy="242.2" r="5.0" fill="url(#gO)"/><circle cx="407.8" cy="242.2" r="5.0" fill="url(#gO)"/><circle cx="250.9" cy="68.8" r="4.3" fill="url(#gC)"/><circle cx="248.3" cy="248.3" r="4.3" fill="url(#gC)"/><circle cx="236.8" cy="151.5" r="5.0" fill="url(#gO)"/><circle cx="530.2" cy="60.2" r="5.0" fill="url(#gO)"/><circle cx="234.2" cy="331.0" r="5.0" fill="url(#gO)"/><circle cx="527.6" cy="239.7" r="5.0" fill="url(#gO)"/><circle cx="144.0" cy="154.0" r="5.2" fill="url(#gF)"/><circle cx="437.4" cy="62.7" r="5.2" fill="url(#gF)"/><circle cx="141.4" cy="333.5" r="5.2" fill="url(#gF)"/><circle cx="434.8" cy="242.2" r="5.2" fill="url(#gF)"/><circle cx="270.9" cy="153.0" r="4.3" fill="url(#gC)"/><circle cx="564.3" cy="61.7" r="4.3" fill="url(#gC)"/><circle cx="268.3" cy="332.5" r="4.3" fill="url(#gC)"/><circle cx="561.7" cy="241.2" r="4.3" fill="url(#gC)"/><circle cx="232.5" cy="69.5" r="5.0" fill="url(#gO)"/><circle cx="229.9" cy="249.0" r="5.0" fill="url(#gO)"/><circle cx="420.7" cy="156.8" r="5.0" fill="url(#gO)"/><circle cx="418.1" cy="336.3" r="5.0" fill="url(#gO)"/><circle cx="317.9" cy="153.0" r="5.0" fill="url(#gO)"/><circle cx="338.4" cy="153.0" r="5.0" fill="url(#gO)"/><circle cx="611.3" cy="61.7" r="5.0" fill="url(#gO)"/><circle cx="631.8" cy="61.7" r="5.0" fill="url(#gO)"/><circle cx="315.3" cy="332.5" r="5.0" fill="url(#gO)"/><circle cx="335.8" cy="332.5" r="5.0" fill="url(#gO)"/><circle cx="608.7" cy="241.2" r="5.0" fill="url(#gO)"/><circle cx="629.2" cy="241.2" r="5.0" fill="url(#gO)"/><circle cx="502.6" cy="157.6" r="5.0" fill="url(#gO)"/><circle cx="500.0" cy="337.1" r="5.0" fill="url(#gO)"/><circle cx="551.8" cy="158.8" r="4.3" fill="url(#gC)"/><circle cx="549.2" cy="338.3" r="4.3" fill="url(#gC)"/><circle cx="331.2" cy="153.3" r="5.0" fill="url(#gO)"/><circle cx="624.6" cy="62.0" r="5.0" fill="url(#gO)"/><circle cx="328.6" cy="332.8" r="5.0" fill="url(#gO)"/><circle cx="622.0" cy="241.5" r="5.0" fill="url(#gO)"/><circle cx="224.4" cy="70.7" r="5.0" fill="url(#gO)"/><circle cx="221.8" cy="250.2" r="5.0" fill="url(#gO)"/><circle cx="523.0" cy="158.0" r="5.0" fill="url(#gO)"/><circle cx="520.4" cy="337.5" r="5.0" fill="url(#gO)"/><circle cx="176.7" cy="71.2" r="5.0" fill="url(#gO)"/><circle cx="174.1" cy="250.7" r="5.0" fill="url(#gO)"/><circle cx="517.0" cy="158.4" r="5.0" fill="url(#gO)"/><circle cx="514.4" cy="337.9" r="5.0" fill="url(#gO)"/><circle cx="129.0" cy="158.5" r="5.0" fill="url(#gO)"/><circle cx="422.4" cy="67.2" r="5.0" fill="url(#gO)"/><circle cx="126.4" cy="338.0" r="5.0" fill="url(#gO)"/><circle cx="419.8" cy="246.7" r="5.0" fill="url(#gO)"/><circle cx="267.9" cy="153.0" r="5.2" fill="url(#gF)"/><circle cx="561.3" cy="61.7" r="5.2" fill="url(#gF)"/><circle cx="265.3" cy="332.5" r="5.2" fill="url(#gF)"/><circle cx="558.7" cy="241.2" r="5.2" fill="url(#gF)"/><circle cx="101.0" cy="158.0" r="5.2" fill="url(#gF)"/><circle cx="394.4" cy="66.7" r="5.2" fill="url(#gF)"/><circle cx="98.4" cy="337.5" r="5.2" fill="url(#gF)"/><circle cx="391.8" cy="246.2" r="5.2" fill="url(#gF)"/><circle cx="241.4" cy="155.6" r="5.0" fill="url(#gO)"/><circle cx="534.8" cy="64.3" r="5.0" fill="url(#gO)"/><circle cx="238.8" cy="335.1" r="5.0" fill="url(#gO)"/><circle cx="532.2" cy="243.8" r="5.0" fill="url(#gO)"/><circle cx="425.3" cy="160.3" r="5.0" fill="url(#gO)"/><circle cx="467.7" cy="160.3" r="5.0" fill="url(#gO)"/><circle cx="422.7" cy="339.8" r="5.0" fill="url(#gO)"/><circle cx="465.1" cy="339.8" r="5.0" fill="url(#gO)"/><circle cx="206.1" cy="71.2" r="5.2" fill="url(#gF)"/><circle cx="203.5" cy="250.7" r="5.2" fill="url(#gF)"/><circle cx="76.0" cy="161.5" r="5.0" fill="url(#gO)"/><circle cx="369.4" cy="70.2" r="5.0" fill="url(#gO)"/><circle cx="73.4" cy="341.0" r="5.0" fill="url(#gO)"/><circle cx="366.8" cy="249.7" r="5.0" fill="url(#gO)"/><circle cx="188.9" cy="74.9" r="5.0" fill="url(#gO)"/><circle cx="186.3" cy="254.4" r="5.0" fill="url(#gO)"/><circle cx="454.1" cy="160.3" r="5.2" fill="url(#gF)"/><circle cx="451.5" cy="339.8" r="5.2" fill="url(#gF)"/><circle cx="499.2" cy="162.6" r="5.0" fill="url(#gO)"/><circle cx="541.2" cy="162.6" r="5.0" fill="url(#gO)"/><circle cx="496.6" cy="342.1" r="5.0" fill="url(#gO)"/><circle cx="538.6" cy="342.1" r="5.0" fill="url(#gO)"/><circle cx="300.5" cy="158.3" r="5.0" fill="url(#gO)"/><circle cx="593.9" cy="67.0" r="5.0" fill="url(#gO)"/><circle cx="297.9" cy="337.8" r="5.0" fill="url(#gO)"/><circle cx="591.3" cy="246.5" r="5.0" fill="url(#gO)"/><circle cx="123.0" cy="164.0" r="4.3" fill="url(#gC)"/><circle cx="416.4" cy="72.7" r="4.3" fill="url(#gC)"/><circle cx="120.4" cy="343.5" r="4.3" fill="url(#gC)"/><circle cx="413.8" cy="252.2" r="4.3" fill="url(#gC)"/><circle cx="266.4" cy="158.8" r="5.0" fill="url(#gO)"/><circle cx="249.0" cy="159.8" r="4.3" fill="url(#gC)"/><circle cx="559.8" cy="67.5" r="5.0" fill="url(#gO)"/><circle cx="542.4" cy="68.5" r="4.3" fill="url(#gC)"/><circle cx="263.8" cy="338.3" r="5.0" fill="url(#gO)"/><circle cx="246.4" cy="339.3" r="4.3" fill="url(#gC)"/><circle cx="557.2" cy="247.0" r="5.0" fill="url(#gO)"/><circle cx="539.8" cy="248.0" r="4.3" fill="url(#gC)"/><circle cx="479.1" cy="163.4" r="5.0" fill="url(#gO)"/><circle cx="476.5" cy="342.9" r="5.0" fill="url(#gO)"/><circle cx="494.2" cy="162.1" r="5.2" fill="url(#gF)"/><circle cx="491.6" cy="341.6" r="5.2" fill="url(#gF)"/><circle cx="246.9" cy="77.3" r="5.0" fill="url(#gO)"/><circle cx="244.3" cy="256.8" r="5.0" fill="url(#gO)"/><circle cx="328.5" cy="158.8" r="5.2" fill="url(#gF)"/><circle cx="621.9" cy="67.5" r="5.2" fill="url(#gF)"/><circle cx="325.9" cy="338.3" r="5.2" fill="url(#gF)"/><circle cx="619.3" cy="247.0" r="5.2" fill="url(#gF)"/><circle cx="512.7" cy="163.7" r="5.2" fill="url(#gF)"/><circle cx="510.1" cy="343.2" r="5.2" fill="url(#gF)"/><circle cx="164.4" cy="79.8" r="4.3" fill="url(#gC)"/><circle cx="161.8" cy="259.3" r="4.3" fill="url(#gC)"/><circle cx="543.0" cy="166.7" r="5.0" fill="url(#gO)"/><circle cx="540.4" cy="346.2" r="5.0" fill="url(#gO)"/><circle cx="314.1" cy="162.5" r="5.0" fill="url(#gO)"/><circle cx="607.5" cy="71.2" r="5.0" fill="url(#gO)"/><circle cx="311.5" cy="342.0" r="5.0" fill="url(#gO)"/><circle cx="604.9" cy="250.7" r="5.0" fill="url(#gO)"/><circle cx="236.7" cy="81.0" r="4.3" fill="url(#gC)"/><circle cx="234.1" cy="260.5" r="4.3" fill="url(#gC)"/><circle cx="341.4" cy="164.4" r="4.3" fill="url(#gC)"/><circle cx="634.8" cy="73.1" r="4.3" fill="url(#gC)"/><circle cx="338.8" cy="343.9" r="4.3" fill="url(#gC)"/><circle cx="632.2" cy="252.6" r="4.3" fill="url(#gC)"/><circle cx="526.0" cy="169.0" r="4.3" fill="url(#gC)"/><circle cx="523.4" cy="348.5" r="4.3" fill="url(#gC)"/><circle cx="285.6" cy="162.1" r="5.2" fill="url(#gF)"/><circle cx="579.0" cy="70.8" r="5.2" fill="url(#gF)"/><circle cx="283.0" cy="341.6" r="5.2" fill="url(#gF)"/><circle cx="576.4" cy="250.3" r="5.2" fill="url(#gF)"/><circle cx="220.7" cy="79.8" r="5.2" fill="url(#gF)"/><circle cx="218.1" cy="259.3" r="5.2" fill="url(#gF)"/><circle cx="93.0" cy="170.0" r="4.3" fill="url(#gC)"/><circle cx="386.4" cy="78.7" r="4.3" fill="url(#gC)"/><circle cx="90.4" cy="349.5" r="4.3" fill="url(#gC)"/><circle cx="383.8" cy="258.2" r="4.3" fill="url(#gC)"/><circle cx="349.0" cy="166.2" r="4.3" fill="url(#gC)"/><circle cx="642.4" cy="74.9" r="4.3" fill="url(#gC)"/><circle cx="346.4" cy="345.7" r="4.3" fill="url(#gC)"/><circle cx="639.8" cy="254.4" r="4.3" fill="url(#gC)"/><circle cx="259.6" cy="165.6" r="5.0" fill="url(#gO)"/><circle cx="553.0" cy="74.3" r="5.0" fill="url(#gO)"/><circle cx="257.0" cy="345.1" r="5.0" fill="url(#gO)"/><circle cx="550.4" cy="253.8" r="5.0" fill="url(#gO)"/><circle cx="148.5" cy="83.0" r="5.0" fill="url(#gO)"/><circle cx="145.9" cy="262.5" r="5.0" fill="url(#gO)"/><circle cx="651.0" cy="69.5" r="5.0" fill="url(#gO)"/><circle cx="661.0" cy="62.6" r="4.3" fill="url(#gC)"/><circle cx="148.4" cy="82.8" r="5.0" fill="url(#gO)"/><circle cx="139.0" cy="89.0" r="4.3" fill="url(#gC)"/><circle cx="648.4" cy="249.0" r="5.0" fill="url(#gO)"/><circle cx="658.4" cy="242.1" r="4.3" fill="url(#gC)"/><circle cx="145.8" cy="262.3" r="5.0" fill="url(#gO)"/><circle cx="136.4" cy="268.5" r="4.3" fill="url(#gC)"/><circle cx="210.9" cy="83.4" r="5.0" fill="url(#gO)"/><circle cx="208.3" cy="262.9" r="5.0" fill="url(#gO)"/><circle cx="438.2" cy="171.2" r="5.0" fill="url(#gO)"/><circle cx="435.6" cy="350.7" r="5.0" fill="url(#gO)"/><circle cx="177.9" cy="82.7" r="5.2" fill="url(#gF)"/><circle cx="175.3" cy="262.2" r="5.2" fill="url(#gF)"/><circle cx="468.5" cy="171.2" r="5.2" fill="url(#gF)"/><circle cx="465.9" cy="350.7" r="5.2" fill="url(#gF)"/><circle cx="319.4" cy="168.9" r="5.0" fill="url(#gO)"/><circle cx="612.8" cy="77.6" r="5.0" fill="url(#gO)"/><circle cx="316.8" cy="348.4" r="5.0" fill="url(#gO)"/><circle cx="610.2" cy="257.1" r="5.0" fill="url(#gO)"/><circle cx="440.4" cy="173.5" r="5.0" fill="url(#gO)"/><circle cx="502.6" cy="173.5" r="5.0" fill="url(#gO)"/><circle cx="437.8" cy="353.0" r="5.0" fill="url(#gO)"/><circle cx="500.0" cy="353.0" r="5.0" fill="url(#gO)"/><circle cx="327.0" cy="170.0" r="4.3" fill="url(#gC)"/><circle cx="620.4" cy="78.7" r="4.3" fill="url(#gC)"/><circle cx="324.4" cy="349.5" r="4.3" fill="url(#gC)"/><circle cx="617.8" cy="258.2" r="4.3" fill="url(#gC)"/><circle cx="138.0" cy="173.7" r="5.0" fill="url(#gO)"/><circle cx="431.4" cy="82.4" r="5.0" fill="url(#gO)"/><circle cx="135.4" cy="353.2" r="5.0" fill="url(#gO)"/><circle cx="428.8" cy="261.9" r="5.0" fill="url(#gO)"/><circle cx="141.2" cy="88.3" r="4.3" fill="url(#gC)"/><circle cx="138.6" cy="267.8" r="4.3" fill="url(#gC)"/><circle cx="147.0" cy="176.0" r="4.3" fill="url(#gC)"/><circle cx="440.4" cy="84.7" r="4.3" fill="url(#gC)"/><circle cx="144.4" cy="355.5" r="4.3" fill="url(#gC)"/><circle cx="437.8" cy="264.2" r="4.3" fill="url(#gC)"/><circle cx="222.0" cy="88.3" r="5.0" fill="url(#gO)"/><circle cx="176.7" cy="88.3" r="5.0" fill="url(#gO)"/><circle cx="219.4" cy="267.8" r="5.0" fill="url(#gO)"/><circle cx="174.1" cy="267.8" r="5.0" fill="url(#gO)"/><circle cx="555.3" cy="175.8" r="5.0" fill="url(#gO)"/><circle cx="552.7" cy="355.3" r="5.0" fill="url(#gO)"/><circle cx="82.4" cy="175.7" r="5.0" fill="url(#gO)"/><circle cx="375.8" cy="84.4" r="5.0" fill="url(#gO)"/><circle cx="79.8" cy="355.2" r="5.0" fill="url(#gO)"/><circle cx="373.2" cy="263.9" r="5.0" fill="url(#gO)"/><circle cx="431.4" cy="177.3" r="4.3" fill="url(#gC)"/><circle cx="428.8" cy="356.8" r="4.3" fill="url(#gC)"/><circle cx="513.2" cy="176.5" r="5.0" fill="url(#gO)"/><circle cx="510.6" cy="356.0" r="5.0" fill="url(#gO)"/><circle cx="168.1" cy="89.6" r="5.0" fill="url(#gO)"/><circle cx="165.5" cy="269.1" r="5.0" fill="url(#gO)"/><circle cx="194.3" cy="87.9" r="5.2" fill="url(#gF)"/><circle cx="191.7" cy="267.4" r="5.2" fill="url(#gF)"/><circle cx="282.3" cy="172.7" r="5.0" fill="url(#gO)"/><circle cx="330.0" cy="172.7" r="5.0" fill="url(#gO)"/><circle cx="575.7" cy="81.4" r="5.0" fill="url(#gO)"/><circle cx="623.4" cy="81.4" r="5.0" fill="url(#gO)"/><circle cx="279.7" cy="352.2" r="5.0" fill="url(#gO)"/><circle cx="327.4" cy="352.2" r="5.0" fill="url(#gO)"/><circle cx="573.1" cy="260.9" r="5.0" fill="url(#gO)"/><circle cx="620.8" cy="260.9" r="5.0" fill="url(#gO)"/><circle cx="467.4" cy="177.3" r="5.0" fill="url(#gO)"/><circle cx="464.8" cy="356.8" r="5.0" fill="url(#gO)"/><circle cx="255.0" cy="173.8" r="4.3" fill="url(#gC)"/><circle cx="548.4" cy="82.5" r="4.3" fill="url(#gC)"/><circle cx="252.4" cy="353.3" r="4.3" fill="url(#gC)"/><circle cx="545.8" cy="262.0" r="4.3" fill="url(#gC)"/><circle cx="236.7" cy="88.3" r="5.2" fill="url(#gF)"/><circle cx="234.1" cy="267.8" r="5.2" fill="url(#gF)"/><circle cx="39.0" cy="177.4" r="5.0" fill="url(#gO)"/><circle cx="332.4" cy="86.1" r="5.0" fill="url(#gO)"/><circle cx="36.4" cy="356.9" r="5.0" fill="url(#gO)"/><circle cx="329.8" cy="265.6" r="5.0" fill="url(#gO)"/><circle cx="301.2" cy="171.2" r="5.2" fill="url(#gF)"/><circle cx="594.6" cy="79.9" r="5.2" fill="url(#gF)"/><circle cx="298.6" cy="350.7" r="5.2" fill="url(#gF)"/><circle cx="592.0" cy="259.4" r="5.2" fill="url(#gF)"/><circle cx="187.7" cy="90.8" r="5.0" fill="url(#gO)"/><circle cx="269.7" cy="90.8" r="5.0" fill="url(#gO)"/><circle cx="185.1" cy="270.3" r="5.0" fill="url(#gO)"/><circle cx="267.1" cy="270.3" r="5.0" fill="url(#gO)"/><circle cx="112.0" cy="176.0" r="5.2" fill="url(#gF)"/><circle cx="405.4" cy="84.7" r="5.2" fill="url(#gF)"/><circle cx="109.4" cy="355.5" r="5.2" fill="url(#gF)"/><circle cx="402.8" cy="264.2" r="5.2" fill="url(#gF)"/><circle cx="485.1" cy="176.2" r="5.2" fill="url(#gF)"/><circle cx="482.5" cy="355.7" r="5.2" fill="url(#gF)"/><circle cx="275.0" cy="173.8" r="5.0" fill="url(#gO)"/><circle cx="568.4" cy="82.5" r="5.0" fill="url(#gO)"/><circle cx="272.4" cy="353.3" r="5.0" fill="url(#gO)"/><circle cx="565.8" cy="262.0" r="5.0" fill="url(#gO)"/><circle cx="459.1" cy="178.8" r="5.0" fill="url(#gO)"/><circle cx="456.5" cy="358.3" r="5.0" fill="url(#gO)"/><circle cx="527.3" cy="177.0" r="5.2" fill="url(#gF)"/><circle cx="524.7" cy="356.5" r="5.2" fill="url(#gF)"/><circle cx="98.3" cy="179.4" r="5.0" fill="url(#gO)"/><circle cx="132.6" cy="179.4" r="5.0" fill="url(#gO)"/><circle cx="391.7" cy="88.1" r="5.0" fill="url(#gO)"/><circle cx="426.0" cy="88.1" r="5.0" fill="url(#gO)"/><circle cx="95.7" cy="358.9" r="5.0" fill="url(#gO)"/><circle cx="130.0" cy="358.9" r="5.0" fill="url(#gO)"/><circle cx="389.1" cy="267.6" r="5.0" fill="url(#gO)"/><circle cx="423.4" cy="267.6" r="5.0" fill="url(#gO)"/><circle cx="478.3" cy="180.3" r="5.0" fill="url(#gO)"/><circle cx="475.7" cy="359.8" r="5.0" fill="url(#gO)"/><circle cx="41.0" cy="181.0" r="5.0" fill="url(#gO)"/><circle cx="334.4" cy="89.7" r="5.0" fill="url(#gO)"/><circle cx="38.4" cy="360.5" r="5.0" fill="url(#gO)"/><circle cx="331.8" cy="269.2" r="5.0" fill="url(#gO)"/><circle cx="560.1" cy="182.6" r="4.3" fill="url(#gC)"/><circle cx="557.5" cy="362.1" r="4.3" fill="url(#gC)"/><circle cx="322.4" cy="178.0" r="5.0" fill="url(#gO)"/><circle cx="615.8" cy="86.7" r="5.0" fill="url(#gO)"/><circle cx="319.8" cy="357.5" r="5.0" fill="url(#gO)"/><circle cx="613.2" cy="266.2" r="5.0" fill="url(#gO)"/><circle cx="81.2" cy="182.5" r="5.0" fill="url(#gO)"/><circle cx="374.6" cy="91.2" r="5.0" fill="url(#gO)"/><circle cx="78.6" cy="362.0" r="5.0" fill="url(#gO)"/><circle cx="372.0" cy="270.7" r="5.0" fill="url(#gO)"/><circle cx="69.0" cy="181.0" r="5.2" fill="url(#gF)"/><circle cx="155.0" cy="183.0" r="5.0" fill="url(#gO)"/><circle cx="362.4" cy="89.7" r="5.2" fill="url(#gF)"/><circle cx="448.4" cy="91.7" r="5.0" fill="url(#gO)"/><circle cx="66.4" cy="360.5" r="5.2" fill="url(#gF)"/><circle cx="152.4" cy="362.5" r="5.0" fill="url(#gO)"/><circle cx="359.8" cy="269.2" r="5.2" fill="url(#gF)"/><circle cx="445.8" cy="271.2" r="5.0" fill="url(#gO)"/><circle cx="30.0" cy="184.7" r="4.3" fill="url(#gC)"/><circle cx="323.4" cy="93.4" r="4.3" fill="url(#gC)"/><circle cx="27.4" cy="364.2" r="4.3" fill="url(#gC)"/><circle cx="320.8" cy="272.9" r="4.3" fill="url(#gC)"/><circle cx="267.4" cy="181.0" r="5.0" fill="url(#gO)"/><circle cx="560.8" cy="89.7" r="5.0" fill="url(#gO)"/><circle cx="264.8" cy="360.5" r="5.0" fill="url(#gO)"/><circle cx="558.2" cy="269.2" r="5.0" fill="url(#gO)"/><circle cx="128.0" cy="184.0" r="5.2" fill="url(#gF)"/><circle cx="161.5" cy="186.0" r="5.0" fill="url(#gO)"/><circle cx="421.4" cy="92.7" r="5.2" fill="url(#gF)"/><circle cx="454.9" cy="94.7" r="5.0" fill="url(#gO)"/><circle cx="125.4" cy="363.5" r="5.2" fill="url(#gF)"/><circle cx="158.9" cy="365.5" r="5.0" fill="url(#gO)"/><circle cx="418.8" cy="272.2" r="5.2" fill="url(#gF)"/><circle cx="452.3" cy="274.2" r="5.0" fill="url(#gO)"/><circle cx="218.3" cy="100.6" r="4.3" fill="url(#gC)"/><circle cx="215.7" cy="280.1" r="4.3" fill="url(#gC)"/><circle cx="299.0" cy="183.3" r="4.3" fill="url(#gC)"/><circle cx="592.4" cy="92.0" r="4.3" fill="url(#gC)"/><circle cx="296.4" cy="362.8" r="4.3" fill="url(#gC)"/><circle cx="589.8" cy="271.5" r="4.3" fill="url(#gC)"/><circle cx="507.1" cy="187.9" r="4.3" fill="url(#gC)"/><circle cx="504.5" cy="367.4" r="4.3" fill="url(#gC)"/><circle cx="79.0" cy="187.4" r="5.0" fill="url(#gO)"/><circle cx="372.4" cy="96.1" r="5.0" fill="url(#gO)"/><circle cx="76.4" cy="366.9" r="5.0" fill="url(#gO)"/><circle cx="369.8" cy="275.6" r="5.0" fill="url(#gO)"/><circle cx="296.7" cy="181.5" r="5.2" fill="url(#gF)"/><circle cx="590.1" cy="90.2" r="5.2" fill="url(#gF)"/><circle cx="294.1" cy="361.0" r="5.2" fill="url(#gF)"/><circle cx="587.5" cy="269.7" r="5.2" fill="url(#gF)"/><circle cx="98.3" cy="190.0" r="4.3" fill="url(#gC)"/><circle cx="391.7" cy="98.7" r="4.3" fill="url(#gC)"/><circle cx="95.7" cy="369.5" r="4.3" fill="url(#gC)"/><circle cx="389.1" cy="278.2" r="4.3" fill="url(#gC)"/><circle cx="281.5" cy="184.8" r="5.0" fill="url(#gO)"/><circle cx="574.9" cy="93.5" r="5.0" fill="url(#gO)"/><circle cx="278.9" cy="364.3" r="5.0" fill="url(#gO)"/><circle cx="572.3" cy="273.0" r="5.0" fill="url(#gO)"/><circle cx="223.2" cy="102.5" r="5.0" fill="url(#gO)"/><circle cx="220.6" cy="282.0" r="5.0" fill="url(#gO)"/><circle cx="315.3" cy="185.3" r="5.0" fill="url(#gO)"/><circle cx="608.7" cy="94.0" r="5.0" fill="url(#gO)"/><circle cx="312.7" cy="364.8" r="5.0" fill="url(#gO)"/><circle cx="606.1" cy="273.5" r="5.0" fill="url(#gO)"/><circle cx="513.9" cy="190.9" r="5.0" fill="url(#gO)"/><circle cx="511.3" cy="370.4" r="5.0" fill="url(#gO)"/><circle cx="113.0" cy="191.6" r="5.0" fill="url(#gO)"/><circle cx="406.4" cy="100.3" r="5.0" fill="url(#gO)"/><circle cx="110.4" cy="371.1" r="5.0" fill="url(#gO)"/><circle cx="403.8" cy="279.8" r="5.0" fill="url(#gO)"/><circle cx="113.8" cy="198.4" r="5.0" fill="url(#gO)"/><circle cx="407.2" cy="107.1" r="5.0" fill="url(#gO)"/><circle cx="111.2" cy="377.9" r="5.0" fill="url(#gO)"/><circle cx="404.6" cy="286.6" r="5.0" fill="url(#gO)"/><circle cx="212.2" cy="27.1" r="5.0" fill="url(#gN)"/><circle cx="209.6" cy="206.6" r="5.0" fill="url(#gN)"/><circle cx="86.0" cy="119.0" r="5.0" fill="url(#gN)"/><circle cx="379.4" cy="27.7" r="5.0" fill="url(#gN)"/><circle cx="83.4" cy="298.5" r="5.0" fill="url(#gN)"/><circle cx="376.8" cy="207.2" r="5.0" fill="url(#gN)"/><circle cx="144.0" cy="121.0" r="5.0" fill="url(#gN)"/><circle cx="437.4" cy="29.7" r="5.0" fill="url(#gN)"/><circle cx="141.4" cy="300.5" r="5.0" fill="url(#gN)"/><circle cx="434.8" cy="209.2" r="5.0" fill="url(#gN)"/><circle cx="103.0" cy="123.0" r="5.0" fill="url(#gN)"/><circle cx="396.4" cy="31.7" r="5.0" fill="url(#gN)"/><circle cx="100.4" cy="302.5" r="5.0" fill="url(#gN)"/><circle cx="393.8" cy="211.2" r="5.0" fill="url(#gN)"/><circle cx="204.3" cy="37.7" r="5.0" fill="url(#gN)"/><circle cx="201.7" cy="217.2" r="5.0" fill="url(#gN)"/><circle cx="310.8" cy="121.6" r="5.0" fill="url(#gN)"/><circle cx="604.2" cy="30.3" r="5.0" fill="url(#gN)"/><circle cx="308.2" cy="301.1" r="5.0" fill="url(#gN)"/><circle cx="601.6" cy="209.8" r="5.0" fill="url(#gN)"/><circle cx="495.0" cy="126.5" r="5.0" fill="url(#gN)"/><circle cx="492.4" cy="306.0" r="5.0" fill="url(#gN)"/><circle cx="270.5" cy="123.4" r="5.0" fill="url(#gN)"/><circle cx="563.9" cy="32.1" r="5.0" fill="url(#gN)"/><circle cx="267.9" cy="302.9" r="5.0" fill="url(#gN)"/><circle cx="561.3" cy="211.6" r="5.0" fill="url(#gN)"/><circle cx="454.8" cy="128.0" r="5.0" fill="url(#gN)"/><circle cx="452.2" cy="307.5" r="5.0" fill="url(#gN)"/><circle cx="328.2" cy="125.7" r="5.0" fill="url(#gN)"/><circle cx="621.6" cy="34.4" r="5.0" fill="url(#gN)"/><circle cx="325.6" cy="305.2" r="5.0" fill="url(#gN)"/><circle cx="619.0" cy="213.9" r="5.0" fill="url(#gN)"/><circle cx="512.4" cy="130.8" r="5.0" fill="url(#gN)"/><circle cx="509.8" cy="310.3" r="5.0" fill="url(#gN)"/><circle cx="287.6" cy="127.2" r="5.0" fill="url(#gN)"/><circle cx="581.0" cy="35.9" r="5.0" fill="url(#gN)"/><circle cx="285.0" cy="306.7" r="5.0" fill="url(#gN)"/><circle cx="578.4" cy="215.4" r="5.0" fill="url(#gN)"/><circle cx="220.7" cy="48.0" r="5.0" fill="url(#gN)"/><circle cx="218.1" cy="227.5" r="5.0" fill="url(#gN)"/><circle cx="180.3" cy="48.7" r="5.0" fill="url(#gN)"/><circle cx="177.7" cy="228.2" r="5.0" fill="url(#gN)"/><circle cx="471.0" cy="137.1" r="5.0" fill="url(#gN)"/><circle cx="468.4" cy="316.6" r="5.0" fill="url(#gN)"/><circle cx="237.4" cy="51.6" r="5.0" fill="url(#gN)"/><circle cx="234.8" cy="231.1" r="5.0" fill="url(#gN)"/><circle cx="527.9" cy="139.9" r="5.0" fill="url(#gN)"/><circle cx="525.3" cy="319.4" r="5.0" fill="url(#gN)"/><circle cx="195.0" cy="53.6" r="5.0" fill="url(#gN)"/><circle cx="192.4" cy="233.1" r="5.0" fill="url(#gN)"/><circle cx="300.9" cy="137.1" r="5.0" fill="url(#gN)"/><circle cx="594.3" cy="45.8" r="5.0" fill="url(#gN)"/><circle cx="298.3" cy="316.6" r="5.0" fill="url(#gN)"/><circle cx="591.7" cy="225.3" r="5.0" fill="url(#gN)"/><circle cx="485.4" cy="141.7" r="5.0" fill="url(#gN)"/><circle cx="482.8" cy="321.2" r="5.0" fill="url(#gN)"/><circle cx="112.0" cy="143.0" r="5.0" fill="url(#gN)"/><circle cx="405.4" cy="51.7" r="5.0" fill="url(#gN)"/><circle cx="109.4" cy="322.5" r="5.0" fill="url(#gN)"/><circle cx="402.8" cy="231.2" r="5.0" fill="url(#gN)"/><circle cx="72.0" cy="144.0" r="5.0" fill="url(#gN)"/><circle cx="365.4" cy="52.7" r="5.0" fill="url(#gN)"/><circle cx="69.4" cy="323.5" r="5.0" fill="url(#gN)"/><circle cx="362.8" cy="232.2" r="5.0" fill="url(#gN)"/><circle cx="128.0" cy="147.0" r="5.0" fill="url(#gN)"/><circle cx="421.4" cy="55.7" r="5.0" fill="url(#gN)"/><circle cx="125.4" cy="326.5" r="5.0" fill="url(#gN)"/><circle cx="418.8" cy="235.2" r="5.0" fill="url(#gN)"/><circle cx="296.2" cy="148.1" r="5.0" fill="url(#gN)"/><circle cx="589.6" cy="56.8" r="5.0" fill="url(#gN)"/><circle cx="293.6" cy="327.6" r="5.0" fill="url(#gN)"/><circle cx="587.0" cy="236.3" r="5.0" fill="url(#gN)"/></g><text transform="translate(27.6,59.3) scale(0.89,1)" font-size="47.5" fill="#000">a</text><path d="M118 78V50" stroke="#e2e2e2" stroke-width="0.9"/><path d="M118 42l-3.400 10.500h6.800z" fill="#6a6a6a"/><path d="M118 42l0 10.500h3.400z" fill="#8a8a8a"/><path d="M118 78H101" stroke="#e8e8e8" stroke-width="0.9"/><path d="M91.500 78l10 -3.600q1.500 3.600 0 7.200z" fill="#3c3c3c"/><path d="M118 78l-7 7" stroke="#ececec" stroke-width="0.8"/><circle cx="108.600" cy="86.800" r="3.200" fill="url(#gC)"/><circle cx="108.600" cy="86.800" r="3.200" fill="#555" fill-opacity="0.45"/><text x="114.700" y="36.500" font-size="10.5" fill="#555">a</text><text x="78.500" y="81" font-size="10.5" fill="#555">b</text><text x="96.200" y="94" font-size="10.5" fill="#555">c</text><rect x="594.800" y="327.200" width="31.800" height="59.600" fill="#fff" stroke="#7a7a7a" stroke-width="0.9"/><circle cx="601" cy="334.3" r="5.200" fill="url(#gF)"/><text x="607.300" y="339.2" font-size="14.2" font-weight="bold" fill="#4a4a4a">Fe</text><circle cx="601" cy="349.5" r="5.200" fill="url(#gC)"/><text x="607.300" y="354.4" font-size="14.2" font-weight="bold" fill="#4a4a4a">C</text><circle cx="601" cy="364.4" r="5.200" fill="url(#gN)"/><text x="607.300" y="369.3" font-size="14.2" font-weight="bold" fill="#4a4a4a">N</text><circle cx="601" cy="379.0" r="5.200" fill="url(#gO)"/><text x="607.300" y="383.9" font-size="14.2" font-weight="bold" fill="#4a4a4a">O</text><rect x="727.0" y="10.8" width="573.2" height="458.0" fill="#fff"/><clipPath id="clipb"><rect x="727.0" y="10.8" width="573.2" height="458.0"/></clipPath><g clip-path="url(#clipb)"><text x="714.8" y="58.8" font-size="45" fill="#000">b</text></g><rect x="806.3" y="13.3" width="491.3" height="395.2" fill="none" stroke="#000" stroke-width="1.5"/><text x="792.3" y="398.2" font-size="20.3" text-anchor="end" fill="#000">0.0</text><text x="792.3" y="326.2" font-size="20.3" text-anchor="end" fill="#000">0.2</text><text x="792.3" y="254.1" font-size="20.3" text-anchor="end" fill="#000">0.4</text><text x="792.3" y="182.1" font-size="20.3" text-anchor="end" fill="#000">0.6</text><text x="792.3" y="110.0" font-size="20.3" text-anchor="end" fill="#000">0.8</text><text x="792.3" y="38.0" font-size="20.3" text-anchor="end" fill="#000">1.0</text><text x="828.5" y="438.5" font-size="20.3" text-anchor="middle" fill="#000">0</text><text x="917.7" y="438.5" font-size="20.3" text-anchor="middle" fill="#000">2</text><text x="1007.0" y="438.5" font-size="20.3" text-anchor="middle" fill="#000">4</text><text x="1096.2" y="438.5" font-size="20.3" text-anchor="middle" fill="#000">6</text><text x="1185.5" y="438.5" font-size="20.3" text-anchor="middle" fill="#000">8</text><text x="1274.7" y="438.5" font-size="20.3" text-anchor="middle" fill="#000">10</text><path d="M806.3 391.0h-8M806.3 319.0h-8M806.3 246.9h-8M806.3 174.9h-8M806.3 102.8h-8M806.3 30.8h-8M806.3 355.0h-4.5M806.3 282.9h-4.5M806.3 210.9h-4.5M806.3 138.9h-4.5M806.3 66.8h-4.5M828.5 408.5v8M917.7 408.5v8M1007.0 408.5v8M1096.2 408.5v8M1185.5 408.5v8M1274.7 408.5v8M873.1 408.5v4.5M962.4 408.5v4.5M1051.6 408.5v4.5M1140.8 408.5v4.5M1230.1 408.5v4.5" stroke="#000" stroke-width="1.5" fill="none"/><text x="1052" y="461.7" font-size="22" text-anchor="middle" fill="#000">Time (min)</text><text transform="translate(750.3,207.5) rotate(-90)" font-size="22.5" text-anchor="middle" fill="#000"><tspan font-style="italic">C</tspan>/C<tspan font-size="14" dy="5">0</tspan></text><polyline points="828.5,30.8 850.8,102.8 873.1,107.9 917.7,113.3 1051.6,127.0 1274.7,149.7" fill="none" stroke="#5fcdf8" stroke-width="2.2" stroke-dasharray="11 4.7 2.6 4.9"/><polyline points="828.5,30.8 850.8,368.5 873.1,372.6 917.7,382.1 1051.6,384.5 1274.7,387.8" fill="none" stroke="#ff82b4" stroke-width="2.2" stroke-dasharray="11 4.7 2.6 4.9"/><polygon points="1274.7,139.3 1265.7,144.5 1265.7,154.9 1274.7,160.1 1283.7,154.9 1283.7,144.5" fill="#fff" stroke="#5fcdf8" stroke-width="1.60"/><polygon points="1274.7,139.3 1283.7,144.5 1283.7,154.9 1274.7,160.1" fill="#5fcdf8" stroke="#5fcdf8" stroke-width="0.80"/><path d="M1270.7 146.3h4.0M1270.7 153.0h4.0M1270.7 149.7h4.0" stroke="#5fcdf8" stroke-width="1.12" fill="none"/><polygon points="1051.6,116.6 1042.6,121.8 1042.6,132.2 1051.6,137.4 1060.6,132.2 1060.6,121.8" fill="#fff" stroke="#5fcdf8" stroke-width="1.60"/><polygon points="1051.6,116.6 1060.6,121.8 1060.6,132.2 1051.6,137.4" fill="#5fcdf8" stroke="#5fcdf8" stroke-width="0.80"/><path d="M1047.6 123.6h4.0M1047.6 130.3h4.0M1047.6 127.0h4.0" stroke="#5fcdf8" stroke-width="1.12" fill="none"/><polygon points="917.7,102.9 908.7,108.1 908.7,118.5 917.7,123.7 926.7,118.5 926.7,108.1" fill="#fff" stroke="#5fcdf8" stroke-width="1.60"/><polygon points="917.7,102.9 926.7,108.1 926.7,118.5 917.7,123.7" fill="#5fcdf8" stroke="#5fcdf8" stroke-width="0.80"/><path d="M913.7 110.0h4.0M913.7 116.6h4.0M913.7 113.3h4.0" stroke="#5fcdf8" stroke-width="1.12" fill="none"/><polygon points="873.1,97.5 864.1,102.7 864.1,113.1 873.1,118.3 882.1,113.1 882.1,102.7" fill="#fff" stroke="#5fcdf8" stroke-width="1.60"/><polygon points="873.1,97.5 882.1,102.7 882.1,113.1 873.1,118.3" fill="#5fcdf8" stroke="#5fcdf8" stroke-width="0.80"/><path d="M869.1 104.6h4.0M869.1 111.2h4.0M869.1 107.9h4.0" stroke="#5fcdf8" stroke-width="1.12" fill="none"/><polygon points="850.8,92.4 841.8,97.6 841.8,108.0 850.8,113.2 859.8,108.0 859.8,97.6" fill="#fff" stroke="#5fcdf8" stroke-width="1.60"/><polygon points="850.8,92.4 859.8,97.6 859.8,108.0 850.8,113.2" fill="#5fcdf8" stroke="#5fcdf8" stroke-width="0.80"/><polygon points="828.5,20.4 819.5,25.6 819.5,36.0 828.5,41.2 837.5,36.0 837.5,25.6" fill="#fff" stroke="#5fcdf8" stroke-width="1.60"/><polygon points="828.5,20.4 837.5,25.6 837.5,36.0 828.5,41.2" fill="#5fcdf8" stroke="#5fcdf8" stroke-width="0.80"/><path d="M824.5 27.5h4.0M824.5 34.1h4.0M824.5 30.8h4.0" stroke="#5fcdf8" stroke-width="1.12" fill="none"/><circle cx="1274.7" cy="387.8" r="8.6" fill="#fff" stroke="#ff82b4" stroke-width="1.60"/><path d="M1274.7 379.2A8.6 8.6 0 0 1 1274.7 396.4Z" fill="#ff82b4" stroke="#ff82b4" stroke-width="0.80"/><path d="M1271.1 385.0h3.6M1271.1 390.5h3.6M1271.1 387.8h3.6" stroke="#ff82b4" stroke-width="1.12" fill="none"/><circle cx="1051.6" cy="384.5" r="8.6" fill="#fff" stroke="#ff82b4" stroke-width="1.60"/><path d="M1051.6 375.9A8.6 8.6 0 0 1 1051.6 393.1Z" fill="#ff82b4" stroke="#ff82b4" stroke-width="0.80"/><path d="M1048.0 381.8h3.6M1048.0 387.3h3.6M1048.0 384.5h3.6" stroke="#ff82b4" stroke-width="1.12" fill="none"/><circle cx="917.7" cy="382.1" r="8.6" fill="#fff" stroke="#ff82b4" stroke-width="1.60"/><path d="M917.7 373.5A8.6 8.6 0 0 1 917.7 390.7Z" fill="#ff82b4" stroke="#ff82b4" stroke-width="0.80"/><path d="M914.2 379.4h3.6M914.2 384.9h3.6M914.2 382.1h3.6" stroke="#ff82b4" stroke-width="1.12" fill="none"/><circle cx="873.1" cy="372.6" r="8.6" fill="#fff" stroke="#ff82b4" stroke-width="1.60"/><path d="M873.1 364.0A8.6 8.6 0 0 1 873.1 381.2Z" fill="#ff82b4" stroke="#ff82b4" stroke-width="0.80"/><path d="M869.5 369.9h3.6M869.5 375.4h3.6M869.5 372.6h3.6" stroke="#ff82b4" stroke-width="1.12" fill="none"/><circle cx="850.8" cy="368.5" r="8.6" fill="#fff" stroke="#ff82b4" stroke-width="1.60"/><path d="M850.8 359.9A8.6 8.6 0 0 1 850.8 377.1Z" fill="#ff82b4" stroke="#ff82b4" stroke-width="0.80"/><path d="M847.2 365.7h3.6M847.2 371.2h3.6M847.2 368.5h3.6" stroke="#ff82b4" stroke-width="1.12" fill="none"/><circle cx="828.5" cy="30.8" r="8.6" fill="#fff" stroke="#ff82b4" stroke-width="1.60"/><path d="M828.5 22.2A8.6 8.6 0 0 1 828.5 39.4Z" fill="#ff82b4" stroke="#ff82b4" stroke-width="0.80"/><path d="M1025.5 43.7h11M1064.5 43.7h2.5M1071.5 43.7h7" stroke="#5fcdf8" stroke-width="2.2" fill="none"/><polygon points="1051.5,33.3 1042.5,38.5 1042.5,48.9 1051.5,54.1 1060.5,48.9 1060.5,38.5" fill="#fff" stroke="#5fcdf8" stroke-width="1.60"/><polygon points="1051.5,33.3 1060.5,38.5 1060.5,48.9 1051.5,54.1" fill="#5fcdf8" stroke="#5fcdf8" stroke-width="0.80"/><text x="1090" y="51.7" font-size="22.2" fill="#000">BUC-96/PDS/OFC</text><path d="M1025.5 70.4h11M1064.5 70.4h2.5M1071.5 70.4h7" stroke="#ff82b4" stroke-width="2.2" fill="none"/><circle cx="1051.5" cy="70.4" r="8.8" fill="#fff" stroke="#ff82b4" stroke-width="1.60"/><path d="M1051.5 61.6A8.8 8.8 0 0 1 1051.5 79.2Z" fill="#ff82b4" stroke="#ff82b4" stroke-width="0.80"/><text x="1090" y="78.4" font-size="22.2" fill="#000">BUC-95/PDS/OFC</text><rect x="934.1" y="156.2" width="226.0" height="180.4" fill="#fff" stroke="#333" stroke-width="1"/><text x="928.5" y="325.4" font-size="10" text-anchor="end" fill="#222">0</text><text x="928.5" y="295.1" font-size="10" text-anchor="end" fill="#222">1</text><text x="928.5" y="264.8" font-size="10" text-anchor="end" fill="#222">2</text><text x="928.5" y="234.4" font-size="10" text-anchor="end" fill="#222">3</text><text x="928.5" y="204.1" font-size="10" text-anchor="end" fill="#222">4</text><text x="928.5" y="173.8" font-size="10" text-anchor="end" fill="#222">5</text><text x="944.8" y="351.3" font-size="10" text-anchor="middle" fill="#222">0</text><text x="985.5" y="351.3" font-size="10" text-anchor="middle" fill="#222">2</text><text x="1026.2" y="351.3" font-size="10" text-anchor="middle" fill="#222">4</text><text x="1067.0" y="351.3" font-size="10" text-anchor="middle" fill="#222">6</text><text x="1107.7" y="351.3" font-size="10" text-anchor="middle" fill="#222">8</text><text x="1148.4" y="351.3" font-size="10" text-anchor="middle" fill="#222">10</text><path d="M934.1 321.8h-3.5M934.1 291.5h-3.5M934.1 261.2h-3.5M934.1 230.8h-3.5M934.1 200.5h-3.5M934.1 170.2h-3.5M934.1 306.6h-2M934.1 276.3h-2M934.1 246.0h-2M934.1 215.7h-2M934.1 185.4h-2M934.1 337.0h-2M944.8 336.6v3.5M985.5 336.6v3.5M1026.2 336.6v3.5M1067.0 336.6v3.5M1107.7 336.6v3.5M1148.4 336.6v3.5M965.2 336.6v2M1005.9 336.6v2M1046.6 336.6v2M1087.3 336.6v2M1128.0 336.6v2" stroke="#333" stroke-width="0.9" fill="none"/><text x="1047" y="361.3" font-size="10.3" text-anchor="middle" fill="#222">Time (min)</text><text transform="translate(918.5,254) rotate(-90)" font-size="9.2" text-anchor="middle" fill="#222">-ln(<tspan font-style="italic">C</tspan>/C<tspan font-size="6" dy="2">0</tspan><tspan dy="-2">)</tspan></text><path d="M944.8 321.8L955.0 230.8L1148.4 174.4" stroke="#ff9ac6" stroke-width="1" fill="none" stroke-dasharray="5 2 1 2"/><path d="M944.8 317.3L1148.4 309.1" stroke="#6fd2f8" stroke-width="1" fill="none" stroke-dasharray="5 2 1 2"/><polygon points="944.8,317.4 941.0,319.6 941.0,324.0 944.8,326.2 948.6,324.0 948.6,319.6" fill="#fff" stroke="#6fd2f8" stroke-width="0.90"/><polygon points="944.8,317.4 948.6,319.6 948.6,324.0 944.8,326.2" fill="#6fd2f8" stroke="#6fd2f8" stroke-width="0.45"/><polygon points="955.0,310.7 951.2,312.9 951.2,317.3 955.0,319.5 958.8,317.3 958.8,312.9" fill="#fff" stroke="#6fd2f8" stroke-width="0.90"/><polygon points="955.0,310.7 958.8,312.9 958.8,317.3 955.0,319.5" fill="#6fd2f8" stroke="#6fd2f8" stroke-width="0.45"/><polygon points="965.2,310.1 961.3,312.3 961.3,316.7 965.2,318.9 969.0,316.7 969.0,312.3" fill="#fff" stroke="#6fd2f8" stroke-width="0.90"/><polygon points="965.2,310.1 969.0,312.3 969.0,316.7 965.2,318.9" fill="#6fd2f8" stroke="#6fd2f8" stroke-width="0.45"/><polygon points="985.5,309.5 981.7,311.7 981.7,316.1 985.5,318.3 989.3,316.1 989.3,311.7" fill="#fff" stroke="#6fd2f8" stroke-width="0.90"/><polygon points="985.5,309.5 989.3,311.7 989.3,316.1 985.5,318.3" fill="#6fd2f8" stroke="#6fd2f8" stroke-width="0.45"/><polygon points="1046.6,308.0 1042.8,310.2 1042.8,314.6 1046.6,316.8 1050.4,314.6 1050.4,310.2" fill="#fff" stroke="#6fd2f8" stroke-width="0.90"/><polygon points="1046.6,308.0 1050.4,310.2 1050.4,314.6 1046.6,316.8" fill="#6fd2f8" stroke="#6fd2f8" stroke-width="0.45"/><polygon points="1148.4,305.3 1144.6,307.5 1144.6,311.9 1148.4,314.1 1152.2,311.9 1152.2,307.5" fill="#fff" stroke="#6fd2f8" stroke-width="0.90"/><polygon points="1148.4,305.3 1152.2,307.5 1152.2,311.9 1148.4,314.1" fill="#6fd2f8" stroke="#6fd2f8" stroke-width="0.45"/><circle cx="944.8" cy="321.8" r="3.9" fill="#fff" stroke="#ff9ac6" stroke-width="0.90"/><path d="M944.8 317.9A3.9 3.9 0 0 1 944.8 325.7Z" fill="#ff9ac6" stroke="#ff9ac6" stroke-width="0.45"/><circle cx="955.0" cy="238.4" r="3.9" fill="#fff" stroke="#ff9ac6" stroke-width="0.90"/><path d="M955.0 234.5A3.9 3.9 0 0 1 955.0 242.3Z" fill="#ff9ac6" stroke="#ff9ac6" stroke-width="0.45"/><circle cx="965.2" cy="230.8" r="3.9" fill="#fff" stroke="#ff9ac6" stroke-width="0.90"/><path d="M965.2 226.9A3.9 3.9 0 0 1 965.2 234.7Z" fill="#ff9ac6" stroke="#ff9ac6" stroke-width="0.45"/><circle cx="985.5" cy="209.6" r="3.9" fill="#fff" stroke="#ff9ac6" stroke-width="0.90"/><path d="M985.5 205.7A3.9 3.9 0 0 1 985.5 213.5Z" fill="#ff9ac6" stroke="#ff9ac6" stroke-width="0.45"/><circle cx="1046.6" cy="199.0" r="3.9" fill="#fff" stroke="#ff9ac6" stroke-width="0.90"/><path d="M1046.6 195.1A3.9 3.9 0 0 1 1046.6 202.9Z" fill="#ff9ac6" stroke="#ff9ac6" stroke-width="0.45"/><circle cx="1148.4" cy="178.4" r="3.9" fill="#fff" stroke="#ff9ac6" stroke-width="0.90"/><path d="M1148.4 174.5A3.9 3.9 0 0 1 1148.4 182.3Z" fill="#ff9ac6" stroke="#ff9ac6" stroke-width="0.45"/><circle cx="952.3" cy="170.2" r="3.9" fill="#fff" stroke="#ff9ac6" stroke-width="0.90"/><path d="M952.3 166.3A3.9 3.9 0 0 1 952.3 174.1Z" fill="#ff9ac6" stroke="#ff9ac6" stroke-width="0.45"/><polygon points="952.3,179.5 948.5,181.7 948.5,186.1 952.3,188.3 956.1,186.1 956.1,181.7" fill="#fff" stroke="#6fd2f8" stroke-width="0.90"/><polygon points="952.3,179.5 956.1,181.7 956.1,186.1 952.3,188.3" fill="#6fd2f8" stroke="#6fd2f8" stroke-width="0.45"/><text x="964.3" y="173" font-size="8.5" fill="#222">BUC-95/PDS/OFC</text><text x="964.3" y="186.8" font-size="8.5" fill="#222">BUC-96/PDS/OFC</text><text x="1031.5" y="222.5" font-size="10.2" fill="#ff9ac6"><tspan font-style="italic">k</tspan><tspan font-size="6.8" dy="2">2</tspan><tspan dy="-2">=0.19 min</tspan><tspan font-size="6.8" dy="-4">-1</tspan></text><text x="954.5" y="268.5" font-size="10.2" fill="#ff9ac6"><tspan font-style="italic">k</tspan><tspan font-size="6.8" dy="2">1</tspan><tspan dy="-2">=5.52 min</tspan><tspan font-size="6.8" dy="-4">-1</tspan></text><text x="1035.5" y="301.5" font-size="10.2" fill="#6fd2f8"><tspan font-style="italic">k</tspan>=0.03 min<tspan font-size="6.8" dy="-4">-1</tspan></text><rect x="1373" y="5" width="530" height="465.5" fill="#fff"/><text transform="translate(1396.5,229.8) rotate(-90)" font-size="19.8" text-anchor="middle" fill="#000">Partial density of states (arb. units)</text><path d="M1427.2 93.0L1427.2 92.9L1428.0 92.9L1428.8 92.9L1429.6 92.8L1430.3 92.8L1431.1 92.7L1431.9 92.7L1432.7 92.6L1433.5 92.5L1434.3 92.4L1435.1 92.3L1435.8 92.2L1436.6 92.1L1437.4 92.0L1438.2 91.9L1439.0 91.8L1439.8 91.7L1440.6 91.6L1441.3 91.5L1442.1 91.5L1442.9 91.4L1443.7 91.4L1444.5 91.4L1445.3 91.5L1446.1 91.5L1446.8 91.6L1447.6 91.7L1448.4 91.8L1449.2 91.9L1450.0 92.0L1450.8 92.1L1451.6 92.2L1452.3 92.3L1453.1 92.4L1453.9 92.5L1454.7 92.6L1455.5 92.6L1456.3 92.6L1457.1 92.6L1457.8 92.5L1458.6 92.3L1459.4 92.0L1460.2 91.7L1461.0 91.3L1461.8 90.9L1462.6 90.5L1463.3 90.1L1464.1 89.9L1464.9 89.9L1465.7 90.0L1466.5 90.2L1467.3 90.6L1468.1 91.0L1468.8 91.4L1469.6 91.9L1470.4 92.2L1471.2 92.5L1472.0 92.7L1472.8 92.8L1473.6 92.9L1474.3 92.9L1475.1 93.0L1475.9 93.0L1476.7 93.0L1477.5 93.0L1478.3 93.0L1479.1 93.0L1479.8 93.0L1480.6 93.0L1481.4 93.0L1482.2 93.0L1483.0 93.0L1483.8 93.0L1484.6 93.0L1485.3 93.0L1486.1 93.0L1486.9 93.0L1487.7 93.0L1488.5 93.0L1489.3 93.0L1490.1 92.9L1490.8 92.8L1491.6 92.6L1492.4 92.3L1493.2 91.7L1494.0 91.0L1494.8 90.1L1495.6 89.1L1496.3 88.3L1497.1 87.7L1497.9 87.5L1498.7 87.8L1499.5 88.4L1500.3 89.1L1501.1 89.8L1501.8 90.3L1502.6 90.5L1503.4 90.4L1504.2 90.4L1505.0 90.3L1505.8 90.4L1506.5 90.4L1507.3 90.2L1508.1 89.3L1508.9 87.7L1509.7 85.2L1510.5 81.7L1511.3 77.7L1512.0 73.6L1512.8 70.0L1513.6 67.8L1514.4 67.2L1515.2 68.4L1516.0 71.2L1516.8 75.1L1517.5 79.2L1518.3 83.0L1519.1 85.9L1519.9 87.6L1520.7 87.7L1521.5 86.0L1522.3 82.2L1523.0 76.0L1523.8 67.7L1524.6 58.3L1525.4 49.0L1526.2 41.6L1527.0 37.8L1527.8 38.2L1528.5 42.4L1529.3 49.0L1530.1 55.9L1530.9 61.3L1531.7 64.1L1532.5 64.3L1533.3 62.4L1534.0 59.9L1534.8 57.9L1535.6 57.5L1536.4 59.1L1537.2 62.4L1538.0 66.7L1538.8 71.2L1539.5 75.0L1540.3 77.8L1541.1 79.6L1541.9 80.5L1542.7 80.9L1543.5 81.3L1544.3 81.8L1545.0 82.8L1545.8 84.0L1546.6 85.5L1547.4 87.0L1548.2 88.5L1549.0 89.8L1549.8 90.9L1550.5 91.6L1551.3 92.2L1552.1 92.5L1552.9 92.7L1553.7 92.9L1554.5 92.9L1555.3 93.0L1556.0 93.0L1556.8 93.0L1557.6 93.0L1558.4 93.0L1559.2 93.0L1560.0 93.0L1560.8 92.9L1561.5 92.8L1562.3 92.6L1563.1 92.1L1563.9 91.4L1564.7 90.1L1565.5 88.3L1566.3 85.9L1567.0 83.3L1567.8 80.8L1568.6 78.8L1569.4 77.7L1570.2 77.6L1571.0 78.4L1571.8 79.4L1572.5 80.2L1573.3 80.3L1574.1 79.8L1574.9 78.8L1575.7 77.9L1576.5 77.6L1577.3 78.3L1578.0 80.0L1578.8 82.3L1579.6 85.0L1580.4 87.4L1581.2 89.5L1582.0 90.9L1582.8 91.9L1583.5 92.5L1584.3 92.8L1585.1 92.9L1585.9 93.0L1586.7 93.0L1587.5 93.0L1588.3 93.0L1589.0 93.0L1589.8 93.0L1590.6 92.9L1591.4 92.9L1592.2 92.7L1593.0 92.4L1593.8 91.9L1594.5 91.2L1595.3 90.2L1596.1 89.0L1596.9 87.7L1597.7 86.7L1598.5 86.1L1599.3 86.0L1600.0 86.5L1600.8 87.4L1601.6 88.6L1602.4 89.8L1603.2 90.8L1604.0 91.5L1604.8 91.9L1605.5 91.9L1606.3 91.6L1607.1 91.0L1607.9 90.3L1608.7 89.5L1609.5 88.8L1610.3 88.4L1611.0 88.3L1611.8 88.6L1612.6 89.1L1613.4 89.7L1614.2 90.1L1615.0 90.2L1615.8 90.1L1616.5 89.9L1617.3 89.7L1618.1 89.8L1618.9 90.2L1619.7 90.8L1620.5 91.5L1621.3 92.0L1622.0 92.5L1622.8 92.7L1623.6 92.9L1624.4 93.0L1625.2 93.0L1626.0 93.0L1626.8 93.0L1627.5 93.0L1628.3 93.0L1629.1 93.0L1629.9 93.0L1630.7 93.0L1631.5 93.0L1632.3 93.0L1633.0 93.0L1633.8 93.0L1634.6 93.0L1635.4 93.0L1636.2 93.0L1637.0 93.0L1637.8 93.0L1638.5 93.0L1639.3 93.0L1640.1 93.0L1640.9 93.0L1641.7 93.0L1642.5 93.0L1643.3 93.0L1644.0 93.0L1644.8 93.0L1645.6 93.0L1646.4 93.0L1647.2 93.0L1648.0 93.0L1648.8 93.0L1649.5 93.0L1650.3 93.0L1651.1 93.0L1651.9 93.0L1652.7 93.0L1653.5 93.0L1654.3 93.0L1655.0 93.0L1655.8 93.0L1656.6 93.0L1657.4 93.0L1658.2 93.0L1659.0 93.0L1659.8 93.0L1660.5 93.0L1661.3 93.0L1662.1 93.0L1662.9 93.0L1663.7 93.0L1664.5 93.0L1665.2 93.0L1666.0 93.0L1666.8 93.0L1667.6 93.0L1668.4 93.0L1669.2 93.0L1670.0 93.0L1670.7 93.0L1671.5 93.0L1672.3 93.0L1673.1 93.0L1673.9 93.0L1674.7 93.0L1675.5 93.0L1676.2 93.0L1677.0 93.0L1677.8 93.0L1678.6 93.0L1679.4 93.0L1680.2 93.0L1681.0 93.0L1681.7 93.0L1682.5 93.0L1683.3 93.0L1684.1 93.0L1684.9 93.0L1685.7 93.0L1686.5 93.0L1687.2 93.0L1688.0 93.0L1688.8 93.0L1689.6 93.0L1690.4 93.0L1691.2 93.0L1692.0 93.0L1692.7 93.0L1693.5 93.0L1694.3 93.0L1695.1 93.0L1695.9 93.0L1696.7 93.0L1697.5 93.0L1698.2 93.0L1699.0 93.0L1699.8 93.0L1700.6 93.0L1701.4 93.0L1702.2 93.0L1703.0 93.0L1703.7 93.0L1704.5 93.0L1705.3 93.0L1706.1 93.0L1706.9 93.0L1707.7 93.0L1708.5 93.0L1709.2 93.0L1710.0 93.0L1710.8 93.0L1711.6 93.0L1712.4 93.0L1713.2 93.0L1714.0 93.0L1714.7 93.0L1715.5 93.0L1716.3 93.0L1717.1 93.0L1717.9 93.0L1718.7 93.0L1719.5 93.0L1720.2 93.0L1721.0 93.0L1721.8 93.0L1722.6 93.0L1723.4 93.0L1724.2 93.0L1725.0 93.0L1725.7 93.0L1726.5 93.0L1727.3 93.0L1728.1 93.0L1728.9 93.0L1729.7 93.0L1730.5 93.0L1731.2 93.0L1732.0 93.0L1732.8 93.0L1733.6 93.0L1734.4 93.0L1735.2 93.0L1736.0 93.0L1736.7 93.0L1737.5 93.0L1738.3 93.0L1739.1 93.0L1739.9 93.0L1740.7 93.0L1741.5 93.0L1742.2 93.0L1743.0 93.0L1743.8 93.0L1744.6 93.0L1745.4 93.0L1746.2 93.0L1747.0 93.0L1747.7 93.0L1748.5 93.0L1749.3 93.0L1750.1 93.0L1750.9 93.0L1751.7 93.0L1752.5 93.0L1753.2 93.0L1754.0 93.0L1754.8 93.0L1755.6 93.0L1756.4 93.0L1757.2 93.0L1758.0 93.0L1758.7 93.0L1759.5 93.0L1760.3 93.0L1761.1 93.0L1761.9 93.0L1762.7 93.0L1763.5 93.0L1764.2 93.0L1765.0 93.0L1765.8 93.0L1766.6 93.0L1767.4 93.0L1768.2 93.0L1769.0 93.0L1769.7 93.0L1770.5 93.0L1771.3 93.0L1772.1 93.0L1772.9 93.0L1773.7 93.0L1774.5 93.0L1775.2 93.0L1776.0 93.0L1776.8 93.0L1777.6 93.0L1778.4 93.0L1779.2 93.0L1780.0 93.0L1780.7 93.0L1781.5 93.0L1782.3 93.0L1783.1 93.0L1783.9 93.0L1784.7 93.0L1785.5 93.0L1786.2 93.0L1787.0 93.0L1787.8 93.0L1788.6 93.0L1789.4 93.0L1790.2 93.0L1791.0 93.0L1791.7 93.0L1792.5 93.0L1793.3 93.0L1794.1 93.0L1794.9 93.0L1795.7 93.0L1796.5 93.0L1797.2 93.0L1798.0 93.0L1798.8 93.0L1799.6 93.0L1800.4 93.0L1801.2 93.0L1802.0 93.0L1802.7 93.0L1803.5 93.0L1804.3 93.0L1805.1 93.0L1805.9 93.0L1806.7 93.0L1807.5 93.0L1808.2 93.0L1809.0 93.0L1809.8 93.0L1810.6 93.0L1811.4 93.0L1812.2 93.0L1813.0 93.0L1813.7 93.0L1814.5 93.0L1815.3 93.0L1816.1 93.0L1816.9 93.0L1817.7 93.0L1818.5 93.0L1819.2 93.0L1820.0 93.0L1820.8 93.0L1821.6 93.0L1822.4 93.0L1823.2 93.0L1823.9 93.0L1824.7 93.0L1825.5 93.0L1826.3 93.0L1827.1 93.0L1827.9 93.0L1828.7 93.0L1829.4 93.0L1830.2 93.0L1831.0 93.0L1831.8 93.0L1832.6 93.0L1833.4 93.0L1834.2 93.0L1834.9 93.0L1835.7 93.0L1836.5 93.0L1837.3 93.0L1838.1 93.0L1838.9 93.0L1839.7 93.0L1840.4 93.0L1841.2 93.0L1842.0 93.0L1842.8 93.0L1843.6 93.0L1844.4 93.0L1845.2 93.0L1845.9 93.0L1846.7 93.0L1847.5 93.0L1848.3 93.0L1849.1 93.0L1849.9 93.0L1850.7 93.0L1851.4 93.0L1852.2 93.0L1853.0 93.0L1853.8 93.0L1854.6 93.0L1855.4 93.0L1856.2 93.0L1856.9 93.0L1857.7 93.0L1858.5 93.0L1859.3 93.0L1860.1 93.0L1860.9 93.0L1861.7 93.0L1862.4 93.0L1863.2 93.0L1864.0 93.0L1864.8 93.0L1865.6 93.0L1866.4 93.0L1867.2 93.0L1867.9 93.0L1868.7 93.0L1869.5 93.0L1870.3 93.0L1871.1 93.0L1871.9 93.0L1872.7 93.0L1873.4 93.0L1874.2 93.0L1875.0 93.0L1875.8 93.0L1876.6 93.0L1877.4 93.0L1878.2 93.0L1878.9 93.0L1879.7 93.0L1880.5 93.0L1881.3 93.0L1882.1 93.0L1882.9 93.0L1883.7 93.0L1884.4 93.0L1885.2 93.0L1886.0 93.0L1886.8 93.0L1887.6 93.0L1888.4 93.0L1889.2 93.0L1889.9 93.0L1890.7 93.0L1891.5 93.0L1892.3 93.0L1893.1 93.0L1893.9 93.0L1894.7 93.0L1895.4 93.0L1896.2 93.0L1897.0 93.0L1897.8 93.0L1897.8 93.0Z" fill="#9fd6fa" fill-opacity="0.80" stroke="#9fd6fa" stroke-opacity="0.5" stroke-width="0.6"/><path d="M1427.2 93.0L1427.2 93.0L1428.0 93.0L1428.8 93.0L1429.6 93.0L1430.3 93.0L1431.1 93.0L1431.9 93.0L1432.7 93.0L1433.5 93.0L1434.3 93.0L1435.1 93.0L1435.8 93.0L1436.6 93.0L1437.4 93.0L1438.2 93.0L1439.0 93.0L1439.8 93.0L1440.6 93.0L1441.3 93.0L1442.1 93.0L1442.9 93.0L1443.7 93.0L1444.5 93.0L1445.3 93.0L1446.1 93.0L1446.8 93.0L1447.6 93.0L1448.4 93.0L1449.2 93.0L1450.0 93.0L1450.8 93.0L1451.6 93.0L1452.3 93.0L1453.1 93.0L1453.9 93.0L1454.7 93.0L1455.5 93.0L1456.3 93.0L1457.1 93.0L1457.8 93.0L1458.6 93.0L1459.4 93.0L1460.2 93.0L1461.0 93.0L1461.8 93.0L1462.6 93.0L1463.3 93.0L1464.1 93.0L1464.9 93.0L1465.7 93.0L1466.5 93.0L1467.3 93.0L1468.1 93.0L1468.8 93.0L1469.6 93.0L1470.4 93.0L1471.2 93.0L1472.0 93.0L1472.8 93.0L1473.6 93.0L1474.3 93.0L1475.1 93.0L1475.9 93.0L1476.7 93.0L1477.5 93.0L1478.3 93.0L1479.1 93.0L1479.8 93.0L1480.6 93.0L1481.4 93.0L1482.2 93.0L1483.0 93.0L1483.8 93.0L1484.6 93.0L1485.3 93.0L1486.1 93.0L1486.9 93.0L1487.7 93.0L1488.5 93.0L1489.3 93.0L1490.1 93.0L1490.8 93.0L1491.6 93.0L1492.4 93.0L1493.2 93.0L1494.0 93.0L1494.8 93.0L1495.6 93.0L1496.3 93.0L1497.1 93.0L1497.9 93.0L1498.7 93.0L1499.5 93.0L1500.3 93.0L1501.1 93.0L1501.8 93.0L1502.6 93.0L1503.4 93.0L1504.2 93.0L1505.0 93.0L1505.8 93.0L1506.5 93.0L1507.3 93.0L1508.1 93.0L1508.9 93.0L1509.7 93.0L1510.5 93.0L1511.3 93.0L1512.0 93.0L1512.8 93.0L1513.6 93.0L1514.4 93.0L1515.2 93.0L1516.0 93.0L1516.8 93.0L1517.5 93.0L1518.3 93.0L1519.1 93.0L1519.9 93.0L1520.7 93.0L1521.5 93.0L1522.3 93.0L1523.0 93.0L1523.8 93.0L1524.6 93.0L1525.4 93.0L1526.2 93.0L1527.0 93.0L1527.8 93.0L1528.5 93.0L1529.3 93.0L1530.1 93.0L1530.9 93.0L1531.7 93.0L1532.5 93.0L1533.3 93.0L1534.0 93.0L1534.8 93.0L1535.6 93.0L1536.4 93.0L1537.2 93.0L1538.0 93.0L1538.8 93.1L1539.5 93.1L1540.3 93.1L1541.1 93.1L1541.9 93.2L1542.7 93.2L1543.5 93.3L1544.3 93.4L1545.0 93.4L1545.8 93.5L1546.6 93.6L1547.4 93.7L1548.2 93.9L1549.0 94.0L1549.8 94.1L1550.5 94.3L1551.3 94.4L1552.1 94.5L1552.9 94.6L1553.7 94.7L1554.5 94.8L1555.3 94.8L1556.0 94.9L1556.8 94.9L1557.6 94.9L1558.4 94.8L1559.2 94.7L1560.0 94.7L1560.8 94.6L1561.5 94.4L1562.3 94.3L1563.1 94.2L1563.9 94.0L1564.7 93.9L1565.5 93.8L1566.3 93.7L1567.0 93.6L1567.8 93.5L1568.6 93.4L1569.4 93.3L1570.2 93.3L1571.0 93.3L1571.8 93.4L1572.5 93.5L1573.3 93.8L1574.1 94.2L1574.9 94.7L1575.7 95.3L1576.5 96.1L1577.3 96.8L1578.0 97.5L1578.8 98.1L1579.6 98.4L1580.4 98.5L1581.2 98.2L1582.0 97.7L1582.8 97.1L1583.5 96.3L1584.3 95.5L1585.1 94.8L1585.9 94.3L1586.7 93.8L1587.5 93.5L1588.3 93.3L1589.0 93.2L1589.8 93.1L1590.6 93.0L1591.4 93.0L1592.2 93.0L1593.0 93.0L1593.8 93.0L1594.5 93.0L1595.3 93.0L1596.1 93.0L1596.9 93.0L1597.7 93.0L1598.5 93.0L1599.3 93.0L1600.0 93.0L1600.8 93.0L1601.6 93.0L1602.4 93.0L1603.2 93.0L1604.0 93.0L1604.8 93.0L1605.5 93.0L1606.3 93.0L1607.1 93.0L1607.9 93.0L1608.7 93.0L1609.5 93.0L1610.3 93.0L1611.0 93.0L1611.8 93.0L1612.6 93.0L1613.4 93.0L1614.2 93.0L1615.0 93.0L1615.8 93.0L1616.5 93.1L1617.3 93.3L1618.1 94.1L1618.9 96.0L1619.7 99.9L1620.5 106.8L1621.3 116.7L1622.0 128.0L1622.8 137.5L1623.6 141.6L1624.4 138.6L1625.2 129.8L1626.0 118.5L1626.8 108.2L1627.5 100.8L1628.3 96.5L1629.1 94.3L1629.9 93.4L1630.7 93.1L1631.5 93.0L1632.3 93.0L1633.0 93.0L1633.8 93.0L1634.6 93.0L1635.4 93.0L1636.2 93.0L1637.0 93.0L1637.8 93.0L1638.5 93.0L1639.3 93.0L1640.1 93.0L1640.9 93.0L1641.7 93.0L1642.5 93.0L1643.3 93.0L1644.0 93.0L1644.8 93.0L1645.6 93.0L1646.4 93.0L1647.2 93.0L1648.0 93.0L1648.8 93.0L1649.5 93.0L1650.3 93.0L1651.1 93.0L1651.9 93.0L1652.7 93.0L1653.5 93.0L1654.3 93.0L1655.0 93.0L1655.8 93.0L1656.6 93.0L1657.4 93.0L1658.2 93.0L1659.0 93.0L1659.8 93.0L1660.5 93.0L1661.3 93.0L1662.1 93.0L1662.9 93.0L1663.7 93.0L1664.5 93.0L1665.2 93.0L1666.0 93.0L1666.8 93.0L1667.6 93.0L1668.4 93.0L1669.2 93.0L1670.0 93.0L1670.7 93.0L1671.5 93.0L1672.3 93.0L1673.1 93.0L1673.9 93.0L1674.7 93.0L1675.5 93.1L1676.2 93.3L1677.0 93.6L1677.8 94.2L1678.6 94.9L1679.4 95.7L1680.2 96.4L1681.0 96.9L1681.7 96.8L1682.5 96.4L1683.3 95.6L1684.1 94.8L1684.9 94.1L1685.7 93.6L1686.5 93.3L1687.2 93.1L1688.0 93.0L1688.8 93.0L1689.6 93.0L1690.4 93.1L1691.2 93.3L1692.0 93.7L1692.7 94.6L1693.5 96.4L1694.3 99.2L1695.1 103.1L1695.9 107.4L1696.7 111.4L1697.5 113.9L1698.2 114.1L1699.0 112.3L1699.8 109.1L1700.6 105.9L1701.4 103.3L1702.2 101.8L1703.0 101.1L1703.7 101.0L1704.5 101.0L1705.3 100.9L1706.1 100.4L1706.9 99.8L1707.7 99.2L1708.5 98.9L1709.2 99.3L1710.0 101.1L1710.8 104.6L1711.6 110.5L1712.4 118.9L1713.2 129.3L1714.0 140.8L1714.7 151.8L1715.5 160.3L1716.3 164.8L1717.1 164.3L1717.9 159.0L1718.7 150.2L1719.5 139.6L1720.2 129.2L1721.0 120.6L1721.8 114.4L1722.6 110.7L1723.4 108.7L1724.2 107.7L1725.0 106.8L1725.7 105.5L1726.5 104.1L1727.3 103.1L1728.1 103.9L1728.9 108.1L1729.7 116.4L1730.5 127.2L1731.2 136.2L1732.0 138.8L1732.8 133.4L1733.6 122.5L1734.4 111.0L1735.2 102.2L1736.0 97.3L1736.7 95.1L1737.5 94.6L1738.3 94.7L1739.1 95.1L1739.9 95.6L1740.7 96.0L1741.5 96.5L1742.2 97.0L1743.0 97.3L1743.8 97.6L1744.6 97.7L1745.4 97.7L1746.2 97.5L1747.0 97.2L1747.7 96.8L1748.5 96.4L1749.3 95.9L1750.1 95.4L1750.9 94.9L1751.7 94.5L1752.5 94.1L1753.2 93.8L1754.0 93.6L1754.8 93.4L1755.6 93.3L1756.4 93.2L1757.2 93.1L1758.0 93.1L1758.7 93.0L1759.5 93.0L1760.3 93.0L1761.1 93.0L1761.9 93.0L1762.7 93.0L1763.5 93.0L1764.2 93.0L1765.0 93.0L1765.8 93.0L1766.6 93.0L1767.4 93.0L1768.2 93.0L1769.0 93.0L1769.7 93.0L1770.5 93.0L1771.3 93.0L1772.1 93.0L1772.9 93.0L1773.7 93.0L1774.5 93.0L1775.2 93.0L1776.0 93.0L1776.8 93.0L1777.6 93.0L1778.4 93.0L1779.2 93.0L1780.0 93.0L1780.7 93.0L1781.5 93.0L1782.3 93.0L1783.1 93.0L1783.9 93.0L1784.7 93.0L1785.5 93.0L1786.2 93.0L1787.0 93.0L1787.8 93.0L1788.6 93.0L1789.4 93.0L1790.2 93.0L1791.0 93.0L1791.7 93.0L1792.5 93.0L1793.3 93.0L1794.1 93.0L1794.9 93.0L1795.7 93.0L1796.5 93.0L1797.2 93.0L1798.0 93.0L1798.8 93.0L1799.6 93.0L1800.4 93.0L1801.2 93.0L1802.0 93.0L1802.7 93.0L1803.5 93.0L1804.3 93.0L1805.1 93.0L1805.9 93.0L1806.7 93.0L1807.5 93.0L1808.2 93.0L1809.0 93.0L1809.8 93.0L1810.6 93.0L1811.4 93.0L1812.2 93.0L1813.0 93.0L1813.7 93.0L1814.5 93.0L1815.3 93.0L1816.1 93.0L1816.9 93.0L1817.7 93.0L1818.5 93.0L1819.2 93.0L1820.0 93.0L1820.8 93.0L1821.6 93.0L1822.4 93.0L1823.2 93.0L1823.9 93.0L1824.7 93.0L1825.5 93.0L1826.3 93.0L1827.1 93.0L1827.9 93.0L1828.7 93.0L1829.4 93.0L1830.2 93.0L1831.0 93.0L1831.8 93.0L1832.6 93.0L1833.4 93.0L1834.2 93.0L1834.9 93.0L1835.7 93.0L1836.5 93.0L1837.3 93.0L1838.1 93.0L1838.9 93.0L1839.7 93.0L1840.4 93.0L1841.2 93.0L1842.0 93.0L1842.8 93.0L1843.6 93.0L1844.4 93.0L1845.2 93.0L1845.9 93.0L1846.7 93.0L1847.5 93.0L1848.3 93.0L1849.1 93.0L1849.9 93.0L1850.7 93.0L1851.4 93.0L1852.2 93.0L1853.0 93.0L1853.8 93.0L1854.6 93.0L1855.4 93.0L1856.2 93.0L1856.9 93.0L1857.7 93.0L1858.5 93.0L1859.3 93.0L1860.1 93.0L1860.9 93.0L1861.7 93.0L1862.4 93.0L1863.2 93.0L1864.0 93.0L1864.8 93.0L1865.6 93.0L1866.4 93.0L1867.2 93.0L1867.9 93.0L1868.7 93.0L1869.5 93.0L1870.3 93.0L1871.1 93.0L1871.9 93.0L1872.7 93.0L1873.4 93.0L1874.2 93.0L1875.0 93.0L1875.8 93.0L1876.6 93.0L1877.4 93.0L1878.2 93.0L1878.9 93.0L1879.7 93.0L1880.5 93.0L1881.3 93.0L1882.1 93.0L1882.9 93.0L1883.7 93.0L1884.4 93.0L1885.2 93.0L1886.0 93.0L1886.8 93.0L1887.6 93.0L1888.4 93.0L1889.2 93.0L1889.9 93.0L1890.7 93.0L1891.5 93.0L1892.3 93.0L1893.1 93.0L1893.9 93.0L1894.7 93.0L1895.4 93.0L1896.2 93.0L1897.0 93.0L1897.8 93.0L1897.8 93.0Z" fill="#9fd6fa" fill-opacity="0.80" stroke="#9fd6fa" stroke-opacity="0.5" stroke-width="0.6"/><path d="M1427.2 93.0L1427.2 93.0L1428.0 93.0L1428.8 93.0L1429.6 93.0L1430.3 93.0L1431.1 93.0L1431.9 93.0L1432.7 93.0L1433.5 93.0L1434.3 93.0L1435.1 93.0L1435.8 93.0L1436.6 93.0L1437.4 93.0L1438.2 93.0L1439.0 93.0L1439.8 93.0L1440.6 93.0L1441.3 93.0L1442.1 93.0L1442.9 93.0L1443.7 93.0L1444.5 93.0L1445.3 93.0L1446.1 93.0L1446.8 93.0L1447.6 93.0L1448.4 93.0L1449.2 93.0L1450.0 93.0L1450.8 93.0L1451.6 93.0L1452.3 93.0L1453.1 93.0L1453.9 93.0L1454.7 93.0L1455.5 93.0L1456.3 93.0L1457.1 92.9L1457.8 92.9L1458.6 92.8L1459.4 92.7L1460.2 92.5L1461.0 92.1L1461.8 91.7L1462.6 91.2L1463.3 90.6L1464.1 89.9L1464.9 89.3L1465.7 88.7L1466.5 88.4L1467.3 88.3L1468.1 88.4L1468.8 88.8L1469.6 89.4L1470.4 90.0L1471.2 90.7L1472.0 91.3L1472.8 91.8L1473.6 92.2L1474.3 92.5L1475.1 92.7L1475.9 92.8L1476.7 92.9L1477.5 93.0L1478.3 93.0L1479.1 93.0L1479.8 92.9L1480.6 92.9L1481.4 92.7L1482.2 92.5L1483.0 92.1L1483.8 91.6L1484.6 91.0L1485.3 90.3L1486.1 89.5L1486.9 88.9L1487.7 88.4L1488.5 88.3L1489.3 88.5L1490.1 89.0L1490.8 89.7L1491.6 90.5L1492.4 91.2L1493.2 91.8L1494.0 92.3L1494.8 92.6L1495.6 92.8L1496.3 92.9L1497.1 92.9L1497.9 92.9L1498.7 92.8L1499.5 92.6L1500.3 92.3L1501.1 91.8L1501.8 91.3L1502.6 90.8L1503.4 90.3L1504.2 90.0L1505.0 89.9L1505.8 90.0L1506.5 90.4L1507.3 91.0L1508.1 91.5L1508.9 92.0L1509.7 92.4L1510.5 92.6L1511.3 92.8L1512.0 92.9L1512.8 92.9L1513.6 92.8L1514.4 92.5L1515.2 92.0L1516.0 91.4L1516.8 90.6L1517.5 89.8L1518.3 89.2L1519.1 89.1L1519.9 89.4L1520.7 90.1L1521.5 90.9L1522.3 91.7L1523.0 92.2L1523.8 92.6L1524.6 92.8L1525.4 92.7L1526.2 92.6L1527.0 92.2L1527.8 91.4L1528.5 90.3L1529.3 88.8L1530.1 87.0L1530.9 85.1L1531.7 83.4L1532.5 82.3L1533.3 82.0L1534.0 82.7L1534.8 84.0L1535.6 85.8L1536.4 87.5L1537.2 88.9L1538.0 89.5L1538.8 89.3L1539.5 88.1L1540.3 85.7L1541.1 82.2L1541.9 77.7L1542.7 72.4L1543.5 66.9L1544.3 61.9L1545.0 58.0L1545.8 55.6L1546.6 54.9L1547.4 55.5L1548.2 56.9L1549.0 58.1L1549.8 58.8L1550.5 58.7L1551.3 58.1L1552.1 57.7L1552.9 58.2L1553.7 60.1L1554.5 63.1L1555.3 67.0L1556.0 70.7L1556.8 73.5L1557.6 74.7L1558.4 74.4L1559.2 72.9L1560.0 71.0L1560.8 69.8L1561.5 69.9L1562.3 71.6L1563.1 74.7L1563.9 78.6L1564.7 82.6L1565.5 86.1L1566.3 88.7L1567.0 90.6L1567.8 91.7L1568.6 92.3L1569.4 92.4L1570.2 92.2L1571.0 91.6L1571.8 90.6L1572.5 88.9L1573.3 86.7L1574.1 83.8L1574.9 80.5L1575.7 77.3L1576.5 74.5L1577.3 72.6L1578.0 71.7L1578.8 71.6L1579.6 71.6L1580.4 71.2L1581.2 69.9L1582.0 68.0L1582.8 66.5L1583.5 66.4L1584.3 68.3L1585.1 72.1L1585.9 76.6L1586.7 80.7L1587.5 83.5L1588.3 84.9L1589.0 85.2L1589.8 85.0L1590.6 85.0L1591.4 85.3L1592.2 86.2L1593.0 87.4L1593.8 88.8L1594.5 90.1L1595.3 91.2L1596.1 91.9L1596.9 92.4L1597.7 92.7L1598.5 92.8L1599.3 92.8L1600.0 92.7L1600.8 92.4L1601.6 91.9L1602.4 91.2L1603.2 90.2L1604.0 88.9L1604.8 87.4L1605.5 85.7L1606.3 84.1L1607.1 82.9L1607.9 82.2L1608.7 82.1L1609.5 82.7L1610.3 83.8L1611.0 85.3L1611.8 87.0L1612.6 88.6L1613.4 89.9L1614.2 91.0L1615.0 91.7L1615.8 92.2L1616.5 92.4L1617.3 92.3L1618.1 91.9L1618.9 91.2L1619.7 90.1L1620.5 88.7L1621.3 87.2L1622.0 85.8L1622.8 84.8L1623.6 84.4L1624.4 84.7L1625.2 85.6L1626.0 87.0L1626.8 88.5L1627.5 89.9L1628.3 91.0L1629.1 91.8L1629.9 92.2L1630.7 92.3L1631.5 91.8L1632.3 90.8L1633.0 89.0L1633.8 86.5L1634.6 83.5L1635.4 80.8L1636.2 79.2L1637.0 79.1L1637.8 80.6L1638.5 83.2L1639.3 86.2L1640.1 88.8L1640.9 90.7L1641.7 91.9L1642.5 92.5L1643.3 92.8L1644.0 92.9L1644.8 93.0L1645.6 93.0L1646.4 93.0L1647.2 93.0L1648.0 93.0L1648.8 93.0L1649.5 93.0L1650.3 93.0L1651.1 92.9L1651.9 92.7L1652.7 92.4L1653.5 92.0L1654.3 91.5L1655.0 91.2L1655.8 91.2L1656.6 91.5L1657.4 92.0L1658.2 92.4L1659.0 92.7L1659.8 92.9L1660.5 93.0L1661.3 93.0L1662.1 93.0L1662.9 93.0L1663.7 93.0L1664.5 93.0L1665.2 93.0L1666.0 93.0L1666.8 93.0L1667.6 93.0L1668.4 93.0L1669.2 93.0L1670.0 93.0L1670.7 93.0L1671.5 93.0L1672.3 93.0L1673.1 93.0L1673.9 93.0L1674.7 93.0L1675.5 93.0L1676.2 93.0L1677.0 93.0L1677.8 93.0L1678.6 93.0L1679.4 93.0L1680.2 93.0L1681.0 93.0L1681.7 93.0L1682.5 93.0L1683.3 93.0L1684.1 93.0L1684.9 93.0L1685.7 93.0L1686.5 93.0L1687.2 93.0L1688.0 93.0L1688.8 93.0L1689.6 93.0L1690.4 93.0L1691.2 93.0L1692.0 93.0L1692.7 93.0L1693.5 93.0L1694.3 93.0L1695.1 93.0L1695.9 93.0L1696.7 93.0L1697.5 93.0L1698.2 93.0L1699.0 93.0L1699.8 93.0L1700.6 93.0L1701.4 93.0L1702.2 93.0L1703.0 93.0L1703.7 93.0L1704.5 93.0L1705.3 93.0L1706.1 93.0L1706.9 93.0L1707.7 93.0L1708.5 93.0L1709.2 93.0L1710.0 93.0L1710.8 93.0L1711.6 93.0L1712.4 93.0L1713.2 93.0L1714.0 93.0L1714.7 93.0L1715.5 93.0L1716.3 93.0L1717.1 93.0L1717.9 93.0L1718.7 93.0L1719.5 93.0L1720.2 93.0L1721.0 93.0L1721.8 93.0L1722.6 93.0L1723.4 93.0L1724.2 93.0L1725.0 93.0L1725.7 93.0L1726.5 93.0L1727.3 93.0L1728.1 93.0L1728.9 93.0L1729.7 93.0L1730.5 93.0L1731.2 93.0L1732.0 93.0L1732.8 93.0L1733.6 93.0L1734.4 93.0L1735.2 93.0L1736.0 93.0L1736.7 93.0L1737.5 93.0L1738.3 93.0L1739.1 93.0L1739.9 93.0L1740.7 93.0L1741.5 93.0L1742.2 93.0L1743.0 93.0L1743.8 93.0L1744.6 93.0L1745.4 93.0L1746.2 93.0L1747.0 93.0L1747.7 93.0L1748.5 93.0L1749.3 93.0L1750.1 93.0L1750.9 93.0L1751.7 93.0L1752.5 93.0L1753.2 93.0L1754.0 93.0L1754.8 93.0L1755.6 93.0L1756.4 93.0L1757.2 93.0L1758.0 93.0L1758.7 93.0L1759.5 93.0L1760.3 93.0L1761.1 93.0L1761.9 93.0L1762.7 93.0L1763.5 93.0L1764.2 93.0L1765.0 93.0L1765.8 93.0L1766.6 93.0L1767.4 93.0L1768.2 93.0L1769.0 93.0L1769.7 93.0L1770.5 93.0L1771.3 93.0L1772.1 93.0L1772.9 93.0L1773.7 93.0L1774.5 93.0L1775.2 93.0L1776.0 93.0L1776.8 93.0L1777.6 93.0L1778.4 93.0L1779.2 93.0L1780.0 93.0L1780.7 93.0L1781.5 93.0L1782.3 93.0L1783.1 93.0L1783.9 93.0L1784.7 93.0L1785.5 93.0L1786.2 93.0L1787.0 93.0L1787.8 93.0L1788.6 93.0L1789.4 93.0L1790.2 93.0L1791.0 93.0L1791.7 93.0L1792.5 93.0L1793.3 93.0L1794.1 93.0L1794.9 93.0L1795.7 93.0L1796.5 93.0L1797.2 93.0L1798.0 93.0L1798.8 93.0L1799.6 93.0L1800.4 93.0L1801.2 93.0L1802.0 93.0L1802.7 93.0L1803.5 93.0L1804.3 93.0L1805.1 93.0L1805.9 93.0L1806.7 93.0L1807.5 93.0L1808.2 93.0L1809.0 93.0L1809.8 93.0L1810.6 93.0L1811.4 93.0L1812.2 93.0L1813.0 93.0L1813.7 93.0L1814.5 93.0L1815.3 93.0L1816.1 93.0L1816.9 93.0L1817.7 93.0L1818.5 93.0L1819.2 93.0L1820.0 93.0L1820.8 93.0L1821.6 93.0L1822.4 93.0L1823.2 93.0L1823.9 93.0L1824.7 93.0L1825.5 93.0L1826.3 93.0L1827.1 93.0L1827.9 93.0L1828.7 93.0L1829.4 93.0L1830.2 93.0L1831.0 93.0L1831.8 93.0L1832.6 93.0L1833.4 93.0L1834.2 93.0L1834.9 93.0L1835.7 93.0L1836.5 93.0L1837.3 93.0L1838.1 93.0L1838.9 93.0L1839.7 93.0L1840.4 93.0L1841.2 93.0L1842.0 93.0L1842.8 93.0L1843.6 93.0L1844.4 93.0L1845.2 93.0L1845.9 93.0L1846.7 93.0L1847.5 93.0L1848.3 93.0L1849.1 93.0L1849.9 93.0L1850.7 93.0L1851.4 93.0L1852.2 93.0L1853.0 93.0L1853.8 93.0L1854.6 93.0L1855.4 93.0L1856.2 93.0L1856.9 93.0L1857.7 93.0L1858.5 93.0L1859.3 93.0L1860.1 93.0L1860.9 93.0L1861.7 93.0L1862.4 93.0L1863.2 93.0L1864.0 93.0L1864.8 93.0L1865.6 93.0L1866.4 93.0L1867.2 93.0L1867.9 93.0L1868.7 93.0L1869.5 93.0L1870.3 93.0L1871.1 93.0L1871.9 93.0L1872.7 93.0L1873.4 93.0L1874.2 93.0L1875.0 93.0L1875.8 93.0L1876.6 93.0L1877.4 93.0L1878.2 93.0L1878.9 93.0L1879.7 93.0L1880.5 93.0L1881.3 93.0L1882.1 93.0L1882.9 93.0L1883.7 93.0L1884.4 93.0L1885.2 93.0L1886.0 93.0L1886.8 93.0L1887.6 93.0L1888.4 93.0L1889.2 93.0L1889.9 93.0L1890.7 93.0L1891.5 93.0L1892.3 93.0L1893.1 93.0L1893.9 93.0L1894.7 93.0L1895.4 93.0L1896.2 93.0L1897.0 93.0L1897.8 93.0L1897.8 93.0Z" fill="#f99cc0" fill-opacity="0.68" stroke="#f99cc0" stroke-opacity="0.5" stroke-width="0.6"/><path d="M1427.2 93.0L1427.2 93.0L1428.0 93.0L1428.8 93.0L1429.6 93.0L1430.3 93.0L1431.1 93.0L1431.9 93.0L1432.7 93.0L1433.5 93.0L1434.3 93.0L1435.1 93.0L1435.8 93.0L1436.6 93.0L1437.4 93.0L1438.2 93.0L1439.0 93.0L1439.8 93.0L1440.6 93.0L1441.3 93.0L1442.1 93.0L1442.9 93.0L1443.7 93.0L1444.5 93.0L1445.3 93.0L1446.1 93.0L1446.8 93.0L1447.6 93.0L1448.4 93.0L1449.2 93.0L1450.0 93.0L1450.8 93.0L1451.6 93.0L1452.3 93.0L1453.1 93.0L1453.9 93.0L1454.7 93.0L1455.5 93.0L1456.3 93.0L1457.1 93.0L1457.8 93.0L1458.6 93.0L1459.4 93.0L1460.2 93.0L1461.0 93.0L1461.8 93.0L1462.6 93.0L1463.3 93.0L1464.1 93.0L1464.9 93.0L1465.7 93.0L1466.5 93.0L1467.3 93.0L1468.1 93.0L1468.8 93.0L1469.6 93.0L1470.4 93.0L1471.2 93.0L1472.0 93.0L1472.8 93.0L1473.6 93.0L1474.3 93.0L1475.1 93.0L1475.9 93.0L1476.7 93.0L1477.5 93.0L1478.3 93.0L1479.1 93.0L1479.8 93.0L1480.6 93.0L1481.4 93.0L1482.2 93.0L1483.0 93.0L1483.8 93.0L1484.6 93.0L1485.3 93.0L1486.1 93.0L1486.9 93.0L1487.7 93.0L1488.5 93.0L1489.3 93.0L1490.1 93.0L1490.8 93.0L1491.6 93.0L1492.4 93.0L1493.2 93.0L1494.0 93.0L1494.8 93.0L1495.6 93.0L1496.3 93.0L1497.1 93.0L1497.9 93.0L1498.7 93.0L1499.5 93.0L1500.3 93.0L1501.1 93.0L1501.8 93.0L1502.6 93.0L1503.4 93.0L1504.2 93.0L1505.0 93.0L1505.8 93.0L1506.5 93.0L1507.3 93.0L1508.1 93.0L1508.9 93.0L1509.7 93.0L1510.5 93.0L1511.3 93.0L1512.0 93.0L1512.8 93.0L1513.6 93.0L1514.4 93.0L1515.2 93.0L1516.0 93.0L1516.8 93.0L1517.5 93.0L1518.3 93.0L1519.1 93.0L1519.9 93.0L1520.7 93.0L1521.5 93.0L1522.3 93.0L1523.0 93.0L1523.8 93.0L1524.6 93.0L1525.4 93.0L1526.2 93.0L1527.0 93.0L1527.8 93.0L1528.5 93.0L1529.3 93.0L1530.1 93.0L1530.9 93.0L1531.7 93.0L1532.5 93.0L1533.3 93.0L1534.0 93.0L1534.8 93.0L1535.6 93.0L1536.4 93.0L1537.2 93.0L1538.0 93.0L1538.8 93.0L1539.5 93.0L1540.3 93.0L1541.1 93.0L1541.9 93.0L1542.7 93.0L1543.5 93.0L1544.3 93.0L1545.0 93.0L1545.8 93.0L1546.6 93.0L1547.4 93.0L1548.2 93.0L1549.0 93.0L1549.8 93.0L1550.5 93.0L1551.3 93.0L1552.1 93.0L1552.9 93.0L1553.7 93.0L1554.5 93.0L1555.3 93.0L1556.0 93.0L1556.8 93.0L1557.6 93.0L1558.4 93.0L1559.2 93.0L1560.0 93.0L1560.8 93.0L1561.5 93.0L1562.3 93.0L1563.1 93.0L1563.9 93.0L1564.7 93.0L1565.5 93.0L1566.3 93.0L1567.0 93.0L1567.8 93.0L1568.6 93.0L1569.4 93.0L1570.2 93.0L1571.0 93.0L1571.8 93.0L1572.5 93.0L1573.3 93.0L1574.1 93.0L1574.9 93.0L1575.7 93.0L1576.5 93.0L1577.3 93.0L1578.0 93.0L1578.8 93.0L1579.6 93.0L1580.4 93.0L1581.2 93.0L1582.0 93.0L1582.8 93.0L1583.5 93.1L1584.3 93.1L1585.1 93.1L1585.9 93.2L1586.7 93.3L1587.5 93.5L1588.3 93.7L1589.0 93.9L1589.8 94.3L1590.6 94.6L1591.4 95.0L1592.2 95.4L1593.0 95.8L1593.8 96.2L1594.5 96.5L1595.3 96.8L1596.1 96.9L1596.9 96.9L1597.7 96.8L1598.5 96.6L1599.3 96.3L1600.0 95.9L1600.8 95.5L1601.6 95.1L1602.4 94.7L1603.2 94.3L1604.0 94.0L1604.8 93.8L1605.5 93.5L1606.3 93.4L1607.1 93.3L1607.9 93.2L1608.7 93.1L1609.5 93.1L1610.3 93.0L1611.0 93.0L1611.8 93.0L1612.6 93.0L1613.4 93.0L1614.2 93.0L1615.0 93.0L1615.8 93.0L1616.5 93.0L1617.3 93.0L1618.1 93.0L1618.9 93.0L1619.7 93.0L1620.5 93.0L1621.3 93.0L1622.0 93.0L1622.8 93.0L1623.6 93.0L1624.4 93.0L1625.2 93.1L1626.0 93.1L1626.8 93.3L1627.5 93.7L1628.3 94.3L1629.1 95.2L1629.9 96.1L1630.7 97.0L1631.5 97.6L1632.3 97.6L1633.0 97.1L1633.8 96.3L1634.6 95.3L1635.4 94.4L1636.2 93.8L1637.0 93.4L1637.8 93.2L1638.5 93.2L1639.3 93.6L1640.1 94.5L1640.9 96.6L1641.7 100.5L1642.5 106.8L1643.3 115.6L1644.0 125.8L1644.8 135.1L1645.6 140.7L1646.4 140.9L1647.2 135.6L1648.0 126.5L1648.8 116.3L1649.5 107.3L1650.3 100.8L1651.1 96.8L1651.9 94.6L1652.7 93.6L1653.5 93.2L1654.3 93.1L1655.0 93.0L1655.8 93.0L1656.6 93.0L1657.4 93.0L1658.2 93.0L1659.0 93.0L1659.8 93.0L1660.5 93.0L1661.3 93.0L1662.1 93.0L1662.9 93.0L1663.7 93.0L1664.5 93.0L1665.2 93.0L1666.0 93.0L1666.8 93.0L1667.6 93.0L1668.4 93.0L1669.2 93.0L1670.0 93.0L1670.7 93.0L1671.5 93.0L1672.3 93.0L1673.1 93.0L1673.9 93.0L1674.7 93.0L1675.5 93.0L1676.2 93.0L1677.0 93.0L1677.8 93.0L1678.6 93.0L1679.4 93.0L1680.2 93.0L1681.0 93.0L1681.7 93.0L1682.5 93.0L1683.3 93.0L1684.1 93.0L1684.9 93.0L1685.7 93.0L1686.5 93.0L1687.2 93.0L1688.0 93.0L1688.8 93.0L1689.6 93.0L1690.4 93.0L1691.2 93.0L1692.0 93.0L1692.7 93.0L1693.5 93.0L1694.3 93.0L1695.1 93.0L1695.9 93.0L1696.7 93.0L1697.5 93.0L1698.2 93.0L1699.0 93.0L1699.8 93.0L1700.6 93.0L1701.4 93.0L1702.2 93.0L1703.0 93.0L1703.7 93.0L1704.5 93.0L1705.3 93.0L1706.1 93.0L1706.9 93.0L1707.7 93.0L1708.5 93.0L1709.2 93.0L1710.0 93.0L1710.8 93.0L1711.6 93.0L1712.4 93.0L1713.2 93.1L1714.0 93.1L1714.7 93.3L1715.5 93.5L1716.3 93.9L1717.1 94.4L1717.9 95.1L1718.7 96.1L1719.5 97.3L1720.2 98.6L1721.0 99.9L1721.8 101.1L1722.6 101.9L1723.4 102.4L1724.2 102.3L1725.0 101.7L1725.7 100.8L1726.5 99.6L1727.3 98.3L1728.1 97.2L1728.9 96.4L1729.7 96.1L1730.5 96.7L1731.2 98.6L1732.0 102.4L1732.8 108.6L1733.6 117.6L1734.4 129.4L1735.2 143.1L1736.0 157.2L1736.7 169.6L1737.5 178.0L1738.3 180.7L1739.1 177.3L1739.9 168.3L1740.7 155.6L1741.5 141.4L1742.2 128.1L1743.0 117.1L1743.8 109.4L1744.6 105.1L1745.4 103.9L1746.2 104.9L1747.0 106.9L1747.7 108.5L1748.5 108.8L1749.3 107.5L1750.1 104.7L1750.9 101.4L1751.7 98.4L1752.5 96.1L1753.2 94.7L1754.0 94.1L1754.8 94.1L1755.6 94.6L1756.4 95.4L1757.2 96.4L1758.0 97.3L1758.7 97.8L1759.5 98.1L1760.3 98.6L1761.1 100.6L1761.9 105.4L1762.7 113.7L1763.5 123.7L1764.2 131.7L1765.0 133.7L1765.8 128.4L1766.6 118.5L1767.4 108.2L1768.2 100.4L1769.0 96.0L1769.7 94.1L1770.5 93.5L1771.3 93.7L1772.1 94.7L1772.9 96.4L1773.7 98.8L1774.5 101.1L1775.2 102.3L1776.0 101.9L1776.8 100.0L1777.6 97.6L1778.4 95.5L1779.2 94.1L1780.0 93.5L1780.7 93.3L1781.5 93.4L1782.3 93.6L1783.1 94.0L1783.9 94.5L1784.7 95.0L1785.5 95.5L1786.2 95.9L1787.0 96.1L1787.8 96.1L1788.6 95.7L1789.4 95.3L1790.2 94.7L1791.0 94.2L1791.7 93.8L1792.5 93.4L1793.3 93.2L1794.1 93.1L1794.9 93.1L1795.7 93.0L1796.5 93.0L1797.2 93.0L1798.0 93.0L1798.8 93.0L1799.6 93.0L1800.4 93.0L1801.2 93.0L1802.0 93.0L1802.7 93.0L1803.5 93.0L1804.3 93.0L1805.1 93.0L1805.9 93.0L1806.7 93.0L1807.5 93.0L1808.2 93.0L1809.0 93.0L1809.8 93.0L1810.6 93.0L1811.4 93.0L1812.2 93.0L1813.0 93.0L1813.7 93.0L1814.5 93.0L1815.3 93.0L1816.1 93.0L1816.9 93.0L1817.7 93.0L1818.5 93.0L1819.2 93.0L1820.0 93.0L1820.8 93.0L1821.6 93.0L1822.4 93.0L1823.2 93.0L1823.9 93.0L1824.7 93.0L1825.5 93.0L1826.3 93.0L1827.1 93.0L1827.9 93.0L1828.7 93.0L1829.4 93.0L1830.2 93.0L1831.0 93.0L1831.8 93.0L1832.6 93.0L1833.4 93.0L1834.2 93.0L1834.9 93.0L1835.7 93.0L1836.5 93.0L1837.3 93.0L1838.1 93.0L1838.9 93.0L1839.7 93.0L1840.4 93.0L1841.2 93.0L1842.0 93.0L1842.8 93.0L1843.6 93.0L1844.4 93.0L1845.2 93.0L1845.9 93.0L1846.7 93.0L1847.5 93.0L1848.3 93.0L1849.1 93.0L1849.9 93.0L1850.7 93.0L1851.4 93.0L1852.2 93.0L1853.0 93.0L1853.8 93.0L1854.6 93.0L1855.4 93.0L1856.2 93.0L1856.9 93.0L1857.7 93.0L1858.5 93.0L1859.3 93.0L1860.1 93.0L1860.9 93.0L1861.7 93.0L1862.4 93.0L1863.2 93.0L1864.0 93.0L1864.8 93.0L1865.6 93.0L1866.4 93.0L1867.2 93.0L1867.9 93.0L1868.7 93.0L1869.5 93.0L1870.3 93.0L1871.1 93.0L1871.9 93.0L1872.7 93.0L1873.4 93.0L1874.2 93.0L1875.0 93.0L1875.8 93.0L1876.6 93.0L1877.4 93.0L1878.2 93.0L1878.9 93.0L1879.7 93.0L1880.5 93.0L1881.3 93.0L1882.1 93.0L1882.9 93.0L1883.7 93.0L1884.4 93.0L1885.2 93.0L1886.0 93.0L1886.8 93.0L1887.6 93.0L1888.4 93.0L1889.2 93.0L1889.9 93.0L1890.7 93.0L1891.5 93.0L1892.3 93.0L1893.1 93.0L1893.9 93.0L1894.7 93.0L1895.4 93.0L1896.2 93.0L1897.0 93.0L1897.8 93.0L1897.8 93.0Z" fill="#f99cc0" fill-opacity="0.68" stroke="#f99cc0" stroke-opacity="0.5" stroke-width="0.6"/><path d="M1427.4 93.0H1898.2" stroke="#f4909f" stroke-width="0.75"/><path d="M1662.5 14.8V186.9" stroke="#c8c8c8" stroke-width="0.8" stroke-dasharray="2.5 2.5"/><rect x="1427.4" y="14.8" width="470.8" height="172.1" fill="none" stroke="#000" stroke-width="1.2"/><text x="1419" y="35.0" font-size="14" text-anchor="end" fill="#000">4</text><text x="1419" y="66.4" font-size="14" text-anchor="end" fill="#000">2</text><text x="1419" y="97.7" font-size="14" text-anchor="end" fill="#000">0</text><text x="1419" y="129.0" font-size="14" text-anchor="end" fill="#000">-2</text><text x="1419" y="160.4" font-size="14" text-anchor="end" fill="#000">-4</text><text x="1419" y="191.7" font-size="14" text-anchor="end" fill="#000">-6</text><text x="1450.7" y="207.5" font-size="14" text-anchor="middle" fill="#000">-9</text><text x="1521.3" y="207.5" font-size="14" text-anchor="middle" fill="#000">-6</text><text x="1591.9" y="207.5" font-size="14" text-anchor="middle" fill="#000">-3</text><text x="1662.5" y="207.5" font-size="14" text-anchor="middle" fill="#000">0</text><text x="1733.1" y="207.5" font-size="14" text-anchor="middle" fill="#000">3</text><text x="1803.7" y="207.5" font-size="14" text-anchor="middle" fill="#000">6</text><text x="1874.3" y="207.5" font-size="14" text-anchor="middle" fill="#000">9</text><path d="M1427.4 30.3h-5M1427.4 61.7h-5M1427.4 93.0h-5M1427.4 124.3h-5M1427.4 155.7h-5M1427.4 187.0h-5M1427.4 46.0h-3M1427.4 77.3h-3M1427.4 108.7h-3M1427.4 140.0h-3M1427.4 171.3h-3M1450.7 186.9v5M1521.3 186.9v5M1591.9 186.9v5M1662.5 186.9v5M1733.1 186.9v5M1803.7 186.9v5M1874.3 186.9v5" stroke="#000" stroke-width="1.2" fill="none"/><text x="1662" y="225" font-size="15.4" text-anchor="middle" fill="#000"><tspan font-style="italic">E</tspan>-<tspan font-style="italic">E</tspan><tspan font-size="10" dy="3">F</tspan><tspan dy="-3"> (eV)</tspan></text><text x="1439" y="39.5" font-size="15.4" fill="#000">Spin up</text><text x="1670.5" y="75" font-size="16.6" fill="#000">Fermi level</text><text x="1859" y="37" font-size="15.4" text-anchor="middle" fill="#000">Fe 3<tspan font-style="italic">d</tspan></text><text x="1862.5" y="57.5" font-size="15.4" text-anchor="middle" fill="#000">BUC-95</text><text x="1885" y="173.5" font-size="15.4" text-anchor="end" fill="#000">Spin down</text><rect x="1439" y="143.5" width="34" height="17" fill="url(#legB)"/><rect x="1439" y="162.5" width="34" height="17" fill="url(#legP)"/><text x="1477.5" y="157" font-size="15.5" fill="#000">Before adsorption</text><text x="1482" y="176" font-size="15.5" fill="#000" xml:space="preserve">After   adsorption</text><path d="M1428.8 311.0L1428.8 311.0L1429.6 311.0L1430.4 311.0L1431.2 311.0L1431.9 311.0L1432.7 311.0L1433.5 311.0L1434.3 311.0L1435.1 311.0L1435.8 311.0L1436.6 311.0L1437.4 311.0L1438.2 311.0L1439.0 311.0L1439.8 311.0L1440.5 311.0L1441.3 311.0L1442.1 311.0L1442.9 311.0L1443.7 311.0L1444.4 311.0L1445.2 311.0L1446.0 311.0L1446.8 311.0L1447.6 311.0L1448.3 311.0L1449.1 311.0L1449.9 311.0L1450.7 311.0L1451.5 311.0L1452.3 311.0L1453.0 311.0L1453.8 311.0L1454.6 311.0L1455.4 311.0L1456.2 311.0L1456.9 311.0L1457.7 311.0L1458.5 311.0L1459.3 311.0L1460.1 311.0L1460.8 311.0L1461.6 311.0L1462.4 311.0L1463.2 311.0L1464.0 311.0L1464.8 311.0L1465.5 311.0L1466.3 311.0L1467.1 311.0L1467.9 311.0L1468.7 311.0L1469.4 311.0L1470.2 311.0L1471.0 311.0L1471.8 311.0L1472.6 311.0L1473.3 311.0L1474.1 311.0L1474.9 311.0L1475.7 311.0L1476.5 311.0L1477.3 311.0L1478.0 311.0L1478.8 311.0L1479.6 311.0L1480.4 311.0L1481.2 311.0L1481.9 311.0L1482.7 311.0L1483.5 311.0L1484.3 311.0L1485.1 311.0L1485.8 311.0L1486.6 311.0L1487.4 311.0L1488.2 311.0L1489.0 311.0L1489.8 311.0L1490.5 311.0L1491.3 311.0L1492.1 311.0L1492.9 311.0L1493.7 311.0L1494.4 311.0L1495.2 311.0L1496.0 311.0L1496.8 311.0L1497.6 311.0L1498.3 311.0L1499.1 311.0L1499.9 311.0L1500.7 311.0L1501.5 311.0L1502.3 311.0L1503.0 311.0L1503.8 311.0L1504.6 311.0L1505.4 311.0L1506.2 311.0L1506.9 311.0L1507.7 311.0L1508.5 311.0L1509.3 311.0L1510.1 311.0L1510.8 311.0L1511.6 311.0L1512.4 311.0L1513.2 311.0L1514.0 311.0L1514.8 311.0L1515.5 311.0L1516.3 311.0L1517.1 311.0L1517.9 311.0L1518.7 311.0L1519.4 311.0L1520.2 311.0L1521.0 311.0L1521.8 311.0L1522.6 310.9L1523.3 310.9L1524.1 310.8L1524.9 310.6L1525.7 310.3L1526.5 309.9L1527.3 309.4L1528.0 308.7L1528.8 307.9L1529.6 307.0L1530.4 306.0L1531.2 305.1L1531.9 304.2L1532.7 303.5L1533.5 303.0L1534.3 302.5L1535.1 302.2L1535.8 301.8L1536.6 301.4L1537.4 301.0L1538.2 300.5L1539.0 300.1L1539.8 300.0L1540.5 300.1L1541.3 300.7L1542.1 301.6L1542.9 302.8L1543.7 304.1L1544.4 305.5L1545.2 306.8L1546.0 307.9L1546.8 308.8L1547.6 309.3L1548.3 309.4L1549.1 309.2L1549.9 308.6L1550.7 307.8L1551.5 307.1L1552.3 306.6L1553.0 306.5L1553.8 306.9L1554.6 307.7L1555.4 308.6L1556.2 309.4L1556.9 309.9L1557.7 309.8L1558.5 308.8L1559.3 306.3L1560.1 302.2L1560.8 297.0L1561.6 292.1L1562.4 289.7L1563.2 290.9L1564.0 295.0L1564.8 300.2L1565.5 304.9L1566.3 307.9L1567.1 309.4L1567.9 309.8L1568.7 309.7L1569.4 309.2L1570.2 308.6L1571.0 307.9L1571.8 307.1L1572.6 306.4L1573.3 305.8L1574.1 305.5L1574.9 305.4L1575.7 305.6L1576.5 306.0L1577.3 306.5L1578.0 307.0L1578.8 307.2L1579.6 307.0L1580.4 305.8L1581.2 303.7L1581.9 300.7L1582.7 297.4L1583.5 294.5L1584.3 293.0L1585.1 293.3L1585.8 295.4L1586.6 298.5L1587.4 301.8L1588.2 304.4L1589.0 305.9L1589.8 306.5L1590.5 306.5L1591.3 306.4L1592.1 306.4L1592.9 306.8L1593.7 307.4L1594.4 307.8L1595.2 307.4L1596.0 305.5L1596.8 301.9L1597.6 297.2L1598.3 292.8L1599.1 290.8L1599.9 292.1L1600.7 296.1L1601.5 301.2L1602.3 305.6L1603.0 308.5L1603.8 310.0L1604.6 310.7L1605.4 310.9L1606.2 311.0L1606.9 311.0L1607.7 311.0L1608.5 311.0L1609.3 311.0L1610.1 311.0L1610.8 311.0L1611.6 311.0L1612.4 311.0L1613.2 311.0L1614.0 311.0L1614.8 311.0L1615.5 311.0L1616.3 311.0L1617.1 311.0L1617.9 311.0L1618.7 311.0L1619.4 311.0L1620.2 311.0L1621.0 311.0L1621.8 311.0L1622.6 310.9L1623.3 310.7L1624.1 310.1L1624.9 308.7L1625.7 306.0L1626.5 301.4L1627.3 294.8L1628.0 287.3L1628.8 280.8L1629.6 277.5L1630.4 278.6L1631.2 283.8L1631.9 291.0L1632.7 298.3L1633.5 303.9L1634.3 307.6L1635.1 309.6L1635.8 310.5L1636.6 310.8L1637.4 311.0L1638.2 311.0L1639.0 311.0L1639.8 311.0L1640.5 311.0L1641.3 311.0L1642.1 311.0L1642.9 311.0L1643.7 311.0L1644.4 311.0L1645.2 311.0L1646.0 311.0L1646.8 311.0L1647.6 311.0L1648.3 311.0L1649.1 311.0L1649.9 311.0L1650.7 311.0L1651.5 311.0L1652.3 311.0L1653.0 311.0L1653.8 311.0L1654.6 311.0L1655.4 311.0L1656.2 311.0L1656.9 311.0L1657.7 311.0L1658.5 311.0L1659.3 311.0L1660.1 311.0L1660.8 311.0L1661.6 311.0L1662.4 311.0L1663.2 311.0L1664.0 311.0L1664.8 311.0L1665.5 311.0L1666.3 311.0L1667.1 311.0L1667.9 311.0L1668.7 311.0L1669.4 311.0L1670.2 311.0L1671.0 311.0L1671.8 311.0L1672.6 311.0L1673.3 311.0L1674.1 311.0L1674.9 311.0L1675.7 311.0L1676.5 311.0L1677.3 311.0L1678.0 311.0L1678.8 311.0L1679.6 311.0L1680.4 311.0L1681.2 311.0L1681.9 311.0L1682.7 311.0L1683.5 311.0L1684.3 311.0L1685.1 311.0L1685.8 311.0L1686.6 311.0L1687.4 311.0L1688.2 311.0L1689.0 311.0L1689.8 311.0L1690.5 311.0L1691.3 311.0L1692.1 311.0L1692.9 311.0L1693.7 311.0L1694.4 311.0L1695.2 311.0L1696.0 311.0L1696.8 311.0L1697.6 311.0L1698.3 311.0L1699.1 311.0L1699.9 311.0L1700.7 311.0L1701.5 311.0L1702.3 311.0L1703.0 311.0L1703.8 311.0L1704.6 311.0L1705.4 311.0L1706.2 311.0L1706.9 311.0L1707.7 311.0L1708.5 311.0L1709.3 311.0L1710.1 311.0L1710.8 311.0L1711.6 311.0L1712.4 311.0L1713.2 311.0L1714.0 311.0L1714.8 311.0L1715.5 311.0L1716.3 311.0L1717.1 311.0L1717.9 311.0L1718.7 310.9L1719.4 310.9L1720.2 310.8L1721.0 310.7L1721.8 310.6L1722.6 310.4L1723.3 310.1L1724.1 309.7L1724.9 309.2L1725.7 308.5L1726.5 307.8L1727.3 307.0L1728.0 306.1L1728.8 305.3L1729.6 304.5L1730.4 303.8L1731.2 303.2L1731.9 302.6L1732.7 302.0L1733.5 301.4L1734.3 300.8L1735.1 300.2L1735.8 299.5L1736.6 298.8L1737.4 298.1L1738.2 297.5L1739.0 297.0L1739.8 296.6L1740.5 296.4L1741.3 296.4L1742.1 296.6L1742.9 296.9L1743.7 297.4L1744.4 298.1L1745.2 298.8L1746.0 299.6L1746.8 300.4L1747.6 301.1L1748.3 301.7L1749.1 302.3L1749.9 302.7L1750.7 303.1L1751.5 303.5L1752.3 303.9L1753.0 304.4L1753.8 305.0L1754.6 305.7L1755.4 306.4L1756.2 307.2L1756.9 308.0L1757.7 308.7L1758.5 309.3L1759.3 309.8L1760.1 310.2L1760.8 310.5L1761.6 310.7L1762.4 310.8L1763.2 310.9L1764.0 310.9L1764.8 310.9L1765.5 310.9L1766.3 310.9L1767.1 310.9L1767.9 310.8L1768.7 310.7L1769.4 310.6L1770.2 310.4L1771.0 310.2L1771.8 310.0L1772.6 309.8L1773.3 309.6L1774.1 309.4L1774.9 309.3L1775.7 309.3L1776.5 309.4L1777.3 309.6L1778.0 309.8L1778.8 310.0L1779.6 310.2L1780.4 310.4L1781.2 310.6L1781.9 310.7L1782.7 310.8L1783.5 310.9L1784.3 310.9L1785.1 311.0L1785.8 311.0L1786.6 311.0L1787.4 311.0L1788.2 311.0L1789.0 311.0L1789.8 311.0L1790.5 311.0L1791.3 311.0L1792.1 311.0L1792.9 311.0L1793.7 311.0L1794.4 311.0L1795.2 311.0L1796.0 311.0L1796.8 311.0L1797.6 311.0L1798.3 311.0L1799.1 311.0L1799.9 311.0L1800.7 311.0L1801.5 311.0L1802.3 311.0L1803.0 311.0L1803.8 311.0L1804.6 311.0L1805.4 311.0L1806.2 311.0L1806.9 311.0L1807.7 311.0L1808.5 311.0L1809.3 311.0L1810.1 311.0L1810.8 311.0L1811.6 311.0L1812.4 311.0L1813.2 311.0L1814.0 311.0L1814.8 311.0L1815.5 311.0L1816.3 311.0L1817.1 311.0L1817.9 311.0L1818.7 311.0L1819.4 311.0L1820.2 311.0L1821.0 311.0L1821.8 311.0L1822.6 311.0L1823.3 311.0L1824.1 311.0L1824.9 311.0L1825.7 311.0L1826.5 311.0L1827.3 311.0L1828.0 311.0L1828.8 311.0L1829.6 311.0L1830.4 311.0L1831.2 311.0L1831.9 311.0L1832.7 311.0L1833.5 311.0L1834.3 311.0L1835.1 311.0L1835.8 311.0L1836.6 311.0L1837.4 311.0L1838.2 311.0L1839.0 311.0L1839.8 311.0L1840.5 311.0L1841.3 311.0L1842.1 311.0L1842.9 311.0L1843.7 311.0L1844.4 311.0L1845.2 311.0L1846.0 311.0L1846.8 311.0L1847.6 311.0L1848.3 311.0L1849.1 311.0L1849.9 311.0L1850.7 311.0L1851.5 311.0L1852.3 311.0L1853.0 311.0L1853.8 311.0L1854.6 311.0L1855.4 311.0L1856.2 311.0L1856.9 311.0L1857.7 311.0L1858.5 311.0L1859.3 311.0L1860.1 311.0L1860.8 311.0L1861.6 311.0L1862.4 311.0L1863.2 311.0L1864.0 311.0L1864.8 311.0L1865.5 311.0L1866.3 311.0L1867.1 311.0L1867.9 311.0L1868.7 311.0L1869.4 311.0L1870.2 311.0L1871.0 311.0L1871.8 311.0L1872.6 311.0L1873.3 311.0L1874.1 311.0L1874.9 311.0L1875.7 311.0L1876.5 311.0L1877.3 311.0L1878.0 311.0L1878.8 311.0L1879.6 311.0L1880.4 311.0L1881.2 311.0L1881.9 311.0L1882.7 311.0L1883.5 311.0L1884.3 311.0L1885.1 311.0L1885.8 311.0L1886.6 311.0L1887.4 311.0L1888.2 311.0L1889.0 311.0L1889.8 311.0L1890.5 311.0L1891.3 311.0L1892.1 311.0L1892.9 311.0L1893.7 311.0L1894.4 311.0L1895.2 311.0L1896.0 311.0L1896.8 311.0L1896.8 311.0Z" fill="#9fd6fa" fill-opacity="0.80" stroke="#9fd6fa" stroke-opacity="0.5" stroke-width="0.6"/><path d="M1428.8 311.0L1428.8 311.0L1429.6 311.0L1430.4 311.0L1431.2 311.0L1431.9 311.0L1432.7 311.0L1433.5 311.0L1434.3 311.0L1435.1 311.0L1435.8 311.0L1436.6 311.0L1437.4 311.0L1438.2 311.0L1439.0 311.0L1439.8 311.0L1440.5 311.0L1441.3 311.0L1442.1 311.0L1442.9 311.0L1443.7 311.0L1444.4 311.0L1445.2 311.0L1446.0 311.0L1446.8 311.0L1447.6 311.0L1448.3 311.0L1449.1 311.0L1449.9 311.0L1450.7 311.0L1451.5 311.0L1452.3 311.0L1453.0 311.0L1453.8 311.0L1454.6 311.0L1455.4 311.0L1456.2 311.0L1456.9 311.0L1457.7 311.0L1458.5 311.0L1459.3 311.0L1460.1 311.0L1460.8 311.0L1461.6 311.0L1462.4 311.0L1463.2 311.0L1464.0 311.0L1464.8 311.0L1465.5 311.0L1466.3 311.0L1467.1 311.0L1467.9 311.0L1468.7 311.0L1469.4 311.0L1470.2 311.0L1471.0 311.0L1471.8 311.0L1472.6 311.0L1473.3 311.0L1474.1 311.0L1474.9 311.0L1475.7 311.0L1476.5 311.0L1477.3 311.0L1478.0 311.0L1478.8 311.0L1479.6 311.0L1480.4 311.0L1481.2 311.0L1481.9 311.0L1482.7 311.0L1483.5 311.0L1484.3 311.0L1485.1 311.0L1485.8 311.0L1486.6 311.0L1487.4 311.0L1488.2 311.0L1489.0 311.0L1489.8 311.0L1490.5 311.0L1491.3 311.1L1492.1 311.2L1492.9 311.4L1493.7 311.6L1494.4 311.9L1495.2 312.1L1496.0 312.3L1496.8 312.3L1497.6 312.2L1498.3 312.0L1499.1 311.7L1499.9 311.5L1500.7 311.3L1501.5 311.1L1502.3 311.1L1503.0 311.0L1503.8 311.0L1504.6 311.0L1505.4 311.0L1506.2 311.0L1506.9 311.0L1507.7 311.0L1508.5 311.0L1509.3 311.0L1510.1 311.0L1510.8 311.0L1511.6 311.0L1512.4 311.0L1513.2 311.0L1514.0 311.0L1514.8 311.0L1515.5 311.0L1516.3 311.0L1517.1 311.0L1517.9 311.0L1518.7 311.0L1519.4 311.0L1520.2 311.0L1521.0 311.0L1521.8 311.0L1522.6 311.1L1523.3 311.2L1524.1 311.5L1524.9 311.9L1525.7 312.7L1526.5 313.8L1527.3 315.2L1528.0 316.5L1528.8 317.4L1529.6 317.7L1530.4 317.3L1531.2 316.3L1531.9 315.0L1532.7 313.7L1533.5 312.6L1534.3 311.9L1535.1 311.4L1535.8 311.2L1536.6 311.1L1537.4 311.0L1538.2 311.0L1539.0 311.0L1539.8 311.0L1540.5 311.0L1541.3 311.0L1542.1 311.0L1542.9 311.0L1543.7 311.0L1544.4 311.0L1545.2 311.0L1546.0 311.1L1546.8 311.2L1547.6 311.3L1548.3 311.6L1549.1 312.0L1549.9 312.5L1550.7 313.2L1551.5 314.0L1552.3 314.7L1553.0 315.2L1553.8 315.5L1554.6 315.4L1555.4 315.0L1556.2 314.4L1556.9 313.6L1557.7 312.9L1558.5 312.3L1559.3 311.9L1560.1 311.6L1560.8 311.5L1561.6 311.5L1562.4 311.5L1563.2 311.6L1564.0 311.8L1564.8 311.9L1565.5 312.1L1566.3 312.3L1567.1 312.4L1567.9 312.5L1568.7 312.6L1569.4 312.7L1570.2 312.7L1571.0 312.6L1571.8 312.6L1572.6 312.4L1573.3 312.3L1574.1 312.1L1574.9 311.9L1575.7 311.8L1576.5 311.6L1577.3 311.5L1578.0 311.4L1578.8 311.3L1579.6 311.2L1580.4 311.1L1581.2 311.1L1581.9 311.1L1582.7 311.0L1583.5 311.0L1584.3 311.0L1585.1 311.0L1585.8 311.0L1586.6 311.0L1587.4 311.0L1588.2 311.0L1589.0 311.0L1589.8 311.0L1590.5 311.0L1591.3 311.0L1592.1 311.0L1592.9 311.0L1593.7 311.0L1594.4 311.0L1595.2 311.0L1596.0 311.0L1596.8 311.0L1597.6 311.0L1598.3 311.0L1599.1 311.0L1599.9 311.0L1600.7 311.0L1601.5 311.0L1602.3 311.0L1603.0 311.0L1603.8 311.0L1604.6 311.0L1605.4 311.0L1606.2 311.0L1606.9 311.0L1607.7 311.0L1608.5 311.0L1609.3 311.1L1610.1 311.3L1610.8 312.0L1611.6 313.4L1612.4 316.2L1613.2 320.8L1614.0 327.0L1614.8 333.7L1615.5 339.1L1616.3 341.3L1617.1 339.4L1617.9 334.2L1618.7 327.5L1619.4 321.3L1620.2 316.7L1621.0 314.2L1621.8 313.9L1622.6 315.8L1623.3 320.0L1624.1 326.2L1624.9 332.8L1625.7 337.2L1626.5 337.5L1627.3 333.4L1628.0 327.0L1628.8 320.5L1629.6 315.8L1630.4 313.0L1631.2 311.7L1631.9 311.2L1632.7 311.1L1633.5 311.0L1634.3 311.0L1635.1 311.0L1635.8 311.0L1636.6 311.0L1637.4 311.0L1638.2 311.0L1639.0 311.0L1639.8 311.0L1640.5 311.0L1641.3 311.0L1642.1 311.0L1642.9 311.0L1643.7 311.0L1644.4 311.0L1645.2 311.0L1646.0 311.0L1646.8 311.0L1647.6 311.0L1648.3 311.0L1649.1 311.0L1649.9 311.0L1650.7 311.0L1651.5 311.0L1652.3 311.0L1653.0 311.0L1653.8 311.0L1654.6 311.0L1655.4 311.0L1656.2 311.0L1656.9 311.0L1657.7 311.0L1658.5 311.0L1659.3 311.0L1660.1 311.0L1660.8 311.0L1661.6 311.0L1662.4 311.0L1663.2 311.0L1664.0 311.1L1664.8 311.1L1665.5 311.2L1666.3 311.4L1667.1 311.7L1667.9 312.1L1668.7 312.4L1669.4 312.6L1670.2 312.7L1671.0 312.6L1671.8 312.3L1672.6 312.0L1673.3 311.7L1674.1 311.4L1674.9 311.2L1675.7 311.1L1676.5 311.0L1677.3 311.0L1678.0 311.0L1678.8 311.0L1679.6 311.0L1680.4 311.0L1681.2 311.0L1681.9 311.0L1682.7 311.0L1683.5 311.0L1684.3 311.0L1685.1 311.0L1685.8 311.0L1686.6 311.0L1687.4 311.0L1688.2 311.0L1689.0 311.0L1689.8 311.0L1690.5 311.0L1691.3 311.0L1692.1 311.0L1692.9 311.0L1693.7 311.0L1694.4 311.0L1695.2 311.0L1696.0 311.0L1696.8 311.0L1697.6 311.0L1698.3 311.0L1699.1 311.0L1699.9 311.0L1700.7 311.0L1701.5 311.0L1702.3 311.0L1703.0 311.0L1703.8 311.0L1704.6 311.0L1705.4 311.0L1706.2 311.1L1706.9 311.2L1707.7 311.5L1708.5 312.0L1709.3 312.9L1710.1 314.4L1710.8 316.8L1711.6 320.1L1712.4 324.5L1713.2 329.6L1714.0 335.0L1714.8 340.0L1715.5 343.7L1716.3 345.6L1717.1 345.3L1717.9 342.8L1718.7 338.6L1719.4 333.4L1720.2 328.0L1721.0 323.1L1721.8 319.0L1722.6 316.0L1723.3 314.1L1724.1 313.1L1724.9 313.4L1725.7 315.2L1726.5 319.0L1727.3 324.6L1728.0 330.6L1728.8 334.9L1729.6 335.4L1730.4 331.9L1731.2 326.1L1731.9 320.1L1732.7 315.6L1733.5 313.0L1734.3 311.7L1735.1 311.2L1735.8 311.1L1736.6 311.0L1737.4 311.0L1738.2 311.0L1739.0 311.0L1739.8 311.0L1740.5 311.0L1741.3 311.0L1742.1 311.0L1742.9 311.0L1743.7 311.0L1744.4 311.0L1745.2 311.0L1746.0 311.0L1746.8 311.0L1747.6 311.0L1748.3 311.0L1749.1 311.0L1749.9 311.0L1750.7 311.0L1751.5 311.0L1752.3 311.0L1753.0 311.0L1753.8 311.0L1754.6 311.0L1755.4 311.0L1756.2 311.0L1756.9 311.0L1757.7 311.0L1758.5 311.0L1759.3 311.0L1760.1 311.0L1760.8 311.0L1761.6 311.0L1762.4 311.0L1763.2 311.0L1764.0 311.0L1764.8 311.0L1765.5 311.0L1766.3 311.0L1767.1 311.0L1767.9 311.0L1768.7 311.0L1769.4 311.0L1770.2 311.0L1771.0 311.0L1771.8 311.0L1772.6 311.0L1773.3 311.0L1774.1 311.0L1774.9 311.0L1775.7 311.0L1776.5 311.0L1777.3 311.0L1778.0 311.0L1778.8 311.0L1779.6 311.0L1780.4 311.0L1781.2 311.0L1781.9 311.0L1782.7 311.0L1783.5 311.0L1784.3 311.0L1785.1 311.0L1785.8 311.0L1786.6 311.0L1787.4 311.0L1788.2 311.0L1789.0 311.0L1789.8 311.0L1790.5 311.0L1791.3 311.0L1792.1 311.0L1792.9 311.0L1793.7 311.0L1794.4 311.0L1795.2 311.0L1796.0 311.0L1796.8 311.0L1797.6 311.0L1798.3 311.0L1799.1 311.0L1799.9 311.0L1800.7 311.0L1801.5 311.0L1802.3 311.0L1803.0 311.0L1803.8 311.0L1804.6 311.0L1805.4 311.0L1806.2 311.0L1806.9 311.0L1807.7 311.0L1808.5 311.0L1809.3 311.0L1810.1 311.0L1810.8 311.0L1811.6 311.0L1812.4 311.0L1813.2 311.0L1814.0 311.0L1814.8 311.0L1815.5 311.0L1816.3 311.0L1817.1 311.0L1817.9 311.0L1818.7 311.0L1819.4 311.0L1820.2 311.0L1821.0 311.0L1821.8 311.0L1822.6 311.0L1823.3 311.0L1824.1 311.0L1824.9 311.0L1825.7 311.0L1826.5 311.0L1827.3 311.0L1828.0 311.0L1828.8 311.0L1829.6 311.0L1830.4 311.0L1831.2 311.0L1831.9 311.0L1832.7 311.0L1833.5 311.0L1834.3 311.0L1835.1 311.0L1835.8 311.0L1836.6 311.0L1837.4 311.0L1838.2 311.0L1839.0 311.0L1839.8 311.0L1840.5 311.0L1841.3 311.0L1842.1 311.0L1842.9 311.0L1843.7 311.0L1844.4 311.0L1845.2 311.0L1846.0 311.0L1846.8 311.0L1847.6 311.0L1848.3 311.0L1849.1 311.0L1849.9 311.0L1850.7 311.0L1851.5 311.0L1852.3 311.0L1853.0 311.0L1853.8 311.0L1854.6 311.0L1855.4 311.0L1856.2 311.0L1856.9 311.0L1857.7 311.0L1858.5 311.0L1859.3 311.0L1860.1 311.0L1860.8 311.0L1861.6 311.0L1862.4 311.0L1863.2 311.0L1864.0 311.0L1864.8 311.0L1865.5 311.0L1866.3 311.0L1867.1 311.0L1867.9 311.0L1868.7 311.0L1869.4 311.0L1870.2 311.0L1871.0 311.0L1871.8 311.0L1872.6 311.0L1873.3 311.0L1874.1 311.0L1874.9 311.0L1875.7 311.0L1876.5 311.0L1877.3 311.0L1878.0 311.0L1878.8 311.0L1879.6 311.0L1880.4 311.0L1881.2 311.0L1881.9 311.0L1882.7 311.0L1883.5 311.0L1884.3 311.0L1885.1 311.0L1885.8 311.0L1886.6 311.0L1887.4 311.0L1888.2 311.0L1889.0 311.0L1889.8 311.0L1890.5 311.0L1891.3 311.0L1892.1 311.0L1892.9 311.0L1893.7 311.0L1894.4 311.0L1895.2 311.0L1896.0 311.0L1896.8 311.0L1896.8 311.0Z" fill="#9fd6fa" fill-opacity="0.80" stroke="#9fd6fa" stroke-opacity="0.5" stroke-width="0.6"/><path d="M1428.8 311.0L1428.8 311.0L1429.6 311.0L1430.4 311.0L1431.2 311.0L1431.9 311.0L1432.7 311.0L1433.5 311.0L1434.3 311.0L1435.1 311.0L1435.8 311.0L1436.6 311.0L1437.4 311.0L1438.2 311.0L1439.0 311.0L1439.8 311.0L1440.5 311.0L1441.3 311.0L1442.1 311.0L1442.9 311.0L1443.7 311.0L1444.4 311.0L1445.2 311.0L1446.0 311.0L1446.8 311.0L1447.6 310.9L1448.3 310.8L1449.1 310.6L1449.9 310.3L1450.7 310.0L1451.5 309.5L1452.3 308.9L1453.0 308.4L1453.8 307.9L1454.6 307.7L1455.4 307.7L1456.2 307.9L1456.9 308.4L1457.7 308.9L1458.5 309.5L1459.3 310.0L1460.1 310.4L1460.8 310.6L1461.6 310.8L1462.4 310.9L1463.2 311.0L1464.0 311.0L1464.8 311.0L1465.5 311.0L1466.3 311.0L1467.1 311.0L1467.9 311.0L1468.7 311.0L1469.4 310.9L1470.2 310.8L1471.0 310.6L1471.8 310.3L1472.6 309.9L1473.3 309.3L1474.1 308.7L1474.9 308.0L1475.7 307.5L1476.5 307.1L1477.3 307.0L1478.0 307.2L1478.8 307.6L1479.6 308.0L1480.4 308.3L1481.2 308.4L1481.9 308.2L1482.7 307.8L1483.5 307.3L1484.3 306.8L1485.1 306.5L1485.8 306.5L1486.6 306.8L1487.4 307.4L1488.2 308.1L1489.0 308.9L1489.8 309.6L1490.5 310.1L1491.3 310.5L1492.1 310.7L1492.9 310.8L1493.7 310.7L1494.4 310.6L1495.2 310.2L1496.0 309.8L1496.8 309.2L1497.6 308.7L1498.3 308.3L1499.1 308.2L1499.9 308.4L1500.7 308.9L1501.5 309.4L1502.3 309.9L1503.0 310.4L1503.8 310.7L1504.6 310.8L1505.4 310.8L1506.2 310.8L1506.9 310.6L1507.7 310.3L1508.5 309.9L1509.3 309.4L1510.1 309.0L1510.8 308.8L1511.6 308.8L1512.4 309.0L1513.2 309.4L1514.0 309.8L1514.8 310.0L1515.5 310.0L1516.3 309.6L1517.1 308.7L1517.9 307.3L1518.7 305.5L1519.4 303.8L1520.2 302.5L1521.0 302.0L1521.8 302.5L1522.6 303.8L1523.3 305.6L1524.1 307.3L1524.9 308.8L1525.7 309.7L1526.5 310.2L1527.3 310.3L1528.0 310.1L1528.8 309.7L1529.6 309.0L1530.4 308.3L1531.2 307.6L1531.9 307.0L1532.7 306.6L1533.5 306.5L1534.3 306.8L1535.1 307.4L1535.8 308.1L1536.6 308.7L1537.4 309.3L1538.2 309.5L1539.0 309.4L1539.8 308.7L1540.5 307.3L1541.3 305.2L1542.1 302.3L1542.9 298.5L1543.7 294.3L1544.4 290.0L1545.2 286.2L1546.0 283.4L1546.8 281.7L1547.6 281.4L1548.3 281.9L1549.1 282.8L1549.9 283.5L1550.7 283.7L1551.5 283.4L1552.3 282.7L1553.0 282.2L1553.8 282.4L1554.6 283.6L1555.4 285.9L1556.2 289.0L1556.9 292.7L1557.7 296.5L1558.5 299.8L1559.3 302.5L1560.1 304.3L1560.8 305.4L1561.6 305.9L1562.4 306.0L1563.2 306.1L1564.0 306.3L1564.8 306.7L1565.5 307.3L1566.3 308.0L1567.1 308.7L1567.9 309.4L1568.7 309.8L1569.4 310.0L1570.2 309.8L1571.0 309.3L1571.8 308.5L1572.6 307.2L1573.3 305.5L1574.1 303.7L1574.9 301.8L1575.7 300.1L1576.5 298.9L1577.3 298.5L1578.0 298.7L1578.8 299.6L1579.6 300.7L1580.4 302.0L1581.2 303.0L1581.9 303.7L1582.7 304.1L1583.5 304.3L1584.3 304.6L1585.1 305.0L1585.8 305.7L1586.6 306.6L1587.4 307.6L1588.2 308.4L1589.0 309.1L1589.8 309.4L1590.5 309.2L1591.3 308.5L1592.1 307.3L1592.9 305.4L1593.7 303.1L1594.4 300.7L1595.2 298.5L1596.0 297.0L1596.8 296.4L1597.6 296.9L1598.3 298.4L1599.1 300.5L1599.9 302.8L1600.7 304.7L1601.5 306.1L1602.3 306.8L1603.0 306.7L1603.8 306.2L1604.6 305.4L1605.4 304.7L1606.2 304.3L1606.9 304.3L1607.7 304.8L1608.5 305.6L1609.3 306.6L1610.1 307.6L1610.8 308.3L1611.6 308.7L1612.4 308.8L1613.2 308.5L1614.0 308.1L1614.8 307.6L1615.5 307.2L1616.3 307.0L1617.1 307.1L1617.9 307.4L1618.7 307.8L1619.4 308.1L1620.2 308.2L1621.0 308.1L1621.8 307.7L1622.6 307.1L1623.3 306.5L1624.1 306.1L1624.9 305.9L1625.7 306.1L1626.5 306.7L1627.3 307.4L1628.0 308.3L1628.8 309.1L1629.6 309.8L1630.4 310.3L1631.2 310.6L1631.9 310.8L1632.7 310.9L1633.5 311.0L1634.3 311.0L1635.1 311.0L1635.8 311.0L1636.6 311.0L1637.4 311.0L1638.2 311.0L1639.0 311.0L1639.8 310.9L1640.5 310.7L1641.3 310.3L1642.1 309.5L1642.9 308.1L1643.7 306.1L1644.4 303.6L1645.2 301.1L1646.0 299.0L1646.8 298.1L1647.6 298.6L1648.3 300.3L1649.1 302.8L1649.9 305.4L1650.7 307.5L1651.5 309.1L1652.3 310.1L1653.0 310.6L1653.8 310.8L1654.6 310.9L1655.4 310.8L1656.2 310.6L1656.9 310.3L1657.7 310.0L1658.5 309.7L1659.3 309.7L1660.1 309.8L1660.8 310.1L1661.6 310.4L1662.4 310.7L1663.2 310.9L1664.0 311.0L1664.8 311.0L1665.5 311.0L1666.3 311.0L1667.1 311.0L1667.9 311.0L1668.7 311.0L1669.4 311.0L1670.2 311.0L1671.0 311.0L1671.8 311.0L1672.6 311.0L1673.3 311.0L1674.1 311.0L1674.9 311.0L1675.7 311.0L1676.5 311.0L1677.3 311.0L1678.0 311.0L1678.8 311.0L1679.6 311.0L1680.4 311.0L1681.2 311.0L1681.9 311.0L1682.7 311.0L1683.5 311.0L1684.3 311.0L1685.1 311.0L1685.8 311.0L1686.6 311.0L1687.4 311.0L1688.2 311.0L1689.0 311.0L1689.8 311.0L1690.5 311.0L1691.3 311.0L1692.1 311.0L1692.9 311.0L1693.7 311.0L1694.4 311.0L1695.2 311.0L1696.0 311.0L1696.8 311.0L1697.6 311.0L1698.3 311.0L1699.1 311.0L1699.9 311.0L1700.7 311.0L1701.5 311.0L1702.3 311.0L1703.0 311.0L1703.8 311.0L1704.6 311.0L1705.4 311.0L1706.2 311.0L1706.9 311.0L1707.7 311.0L1708.5 311.0L1709.3 311.0L1710.1 311.0L1710.8 311.0L1711.6 311.0L1712.4 311.0L1713.2 311.0L1714.0 311.0L1714.8 311.0L1715.5 311.0L1716.3 311.0L1717.1 311.0L1717.9 311.0L1718.7 311.0L1719.4 311.0L1720.2 311.0L1721.0 311.0L1721.8 311.0L1722.6 311.0L1723.3 311.0L1724.1 311.0L1724.9 311.0L1725.7 311.0L1726.5 311.0L1727.3 311.0L1728.0 311.0L1728.8 311.0L1729.6 311.0L1730.4 311.0L1731.2 311.0L1731.9 311.0L1732.7 311.0L1733.5 311.0L1734.3 311.0L1735.1 311.0L1735.8 311.0L1736.6 311.0L1737.4 311.0L1738.2 311.0L1739.0 311.0L1739.8 311.0L1740.5 311.0L1741.3 311.0L1742.1 311.0L1742.9 311.0L1743.7 311.0L1744.4 311.0L1745.2 311.0L1746.0 311.0L1746.8 311.0L1747.6 311.0L1748.3 311.0L1749.1 311.0L1749.9 311.0L1750.7 311.0L1751.5 311.0L1752.3 311.0L1753.0 311.0L1753.8 311.0L1754.6 311.0L1755.4 311.0L1756.2 311.0L1756.9 311.0L1757.7 311.0L1758.5 311.0L1759.3 311.0L1760.1 311.0L1760.8 311.0L1761.6 311.0L1762.4 311.0L1763.2 311.0L1764.0 311.0L1764.8 311.0L1765.5 311.0L1766.3 311.0L1767.1 311.0L1767.9 311.0L1768.7 311.0L1769.4 311.0L1770.2 311.0L1771.0 311.0L1771.8 311.0L1772.6 311.0L1773.3 311.0L1774.1 311.0L1774.9 311.0L1775.7 311.0L1776.5 311.0L1777.3 311.0L1778.0 311.0L1778.8 311.0L1779.6 311.0L1780.4 311.0L1781.2 311.0L1781.9 311.0L1782.7 311.0L1783.5 311.0L1784.3 311.0L1785.1 311.0L1785.8 311.0L1786.6 311.0L1787.4 311.0L1788.2 311.0L1789.0 311.0L1789.8 311.0L1790.5 311.0L1791.3 311.0L1792.1 311.0L1792.9 311.0L1793.7 311.0L1794.4 311.0L1795.2 311.0L1796.0 311.0L1796.8 311.0L1797.6 311.0L1798.3 311.0L1799.1 311.0L1799.9 311.0L1800.7 311.0L1801.5 311.0L1802.3 311.0L1803.0 311.0L1803.8 311.0L1804.6 311.0L1805.4 311.0L1806.2 311.0L1806.9 311.0L1807.7 311.0L1808.5 311.0L1809.3 311.0L1810.1 311.0L1810.8 311.0L1811.6 311.0L1812.4 311.0L1813.2 311.0L1814.0 311.0L1814.8 311.0L1815.5 311.0L1816.3 311.0L1817.1 311.0L1817.9 311.0L1818.7 311.0L1819.4 311.0L1820.2 311.0L1821.0 311.0L1821.8 311.0L1822.6 311.0L1823.3 311.0L1824.1 311.0L1824.9 311.0L1825.7 311.0L1826.5 311.0L1827.3 311.0L1828.0 311.0L1828.8 311.0L1829.6 311.0L1830.4 311.0L1831.2 311.0L1831.9 311.0L1832.7 311.0L1833.5 311.0L1834.3 311.0L1835.1 311.0L1835.8 311.0L1836.6 311.0L1837.4 311.0L1838.2 311.0L1839.0 311.0L1839.8 311.0L1840.5 311.0L1841.3 311.0L1842.1 311.0L1842.9 311.0L1843.7 311.0L1844.4 311.0L1845.2 311.0L1846.0 311.0L1846.8 311.0L1847.6 311.0L1848.3 311.0L1849.1 311.0L1849.9 311.0L1850.7 311.0L1851.5 311.0L1852.3 311.0L1853.0 311.0L1853.8 311.0L1854.6 311.0L1855.4 311.0L1856.2 311.0L1856.9 311.0L1857.7 311.0L1858.5 311.0L1859.3 311.0L1860.1 311.0L1860.8 311.0L1861.6 311.0L1862.4 311.0L1863.2 311.0L1864.0 311.0L1864.8 311.0L1865.5 311.0L1866.3 311.0L1867.1 311.0L1867.9 311.0L1868.7 311.0L1869.4 311.0L1870.2 311.0L1871.0 311.0L1871.8 311.0L1872.6 311.0L1873.3 311.0L1874.1 311.0L1874.9 311.0L1875.7 311.0L1876.5 311.0L1877.3 311.0L1878.0 311.0L1878.8 311.0L1879.6 311.0L1880.4 311.0L1881.2 311.0L1881.9 311.0L1882.7 311.0L1883.5 311.0L1884.3 311.0L1885.1 311.0L1885.8 311.0L1886.6 311.0L1887.4 311.0L1888.2 311.0L1889.0 311.0L1889.8 311.0L1890.5 311.0L1891.3 311.0L1892.1 311.0L1892.9 311.0L1893.7 311.0L1894.4 311.0L1895.2 311.0L1896.0 311.0L1896.8 311.0L1896.8 311.0Z" fill="#f99cc0" fill-opacity="0.68" stroke="#f99cc0" stroke-opacity="0.5" stroke-width="0.6"/><path d="M1428.8 311.0L1428.8 311.0L1429.6 311.0L1430.4 311.0L1431.2 311.0L1431.9 311.0L1432.7 311.0L1433.5 311.0L1434.3 311.0L1435.1 311.0L1435.8 311.0L1436.6 311.0L1437.4 311.0L1438.2 311.0L1439.0 311.0L1439.8 311.0L1440.5 311.0L1441.3 311.0L1442.1 311.0L1442.9 311.0L1443.7 311.0L1444.4 311.0L1445.2 311.0L1446.0 311.0L1446.8 311.0L1447.6 311.0L1448.3 311.0L1449.1 311.0L1449.9 311.0L1450.7 311.0L1451.5 311.0L1452.3 311.0L1453.0 311.0L1453.8 311.0L1454.6 311.0L1455.4 311.0L1456.2 311.0L1456.9 311.0L1457.7 311.0L1458.5 311.0L1459.3 311.0L1460.1 311.0L1460.8 311.0L1461.6 311.0L1462.4 311.0L1463.2 311.0L1464.0 311.0L1464.8 311.0L1465.5 311.0L1466.3 311.0L1467.1 311.0L1467.9 311.0L1468.7 311.0L1469.4 311.0L1470.2 311.0L1471.0 311.0L1471.8 311.0L1472.6 311.0L1473.3 311.0L1474.1 311.0L1474.9 311.0L1475.7 311.0L1476.5 311.0L1477.3 311.0L1478.0 311.0L1478.8 311.0L1479.6 311.0L1480.4 311.0L1481.2 311.0L1481.9 311.0L1482.7 311.0L1483.5 311.0L1484.3 311.0L1485.1 311.0L1485.8 311.0L1486.6 311.0L1487.4 311.0L1488.2 311.0L1489.0 311.0L1489.8 311.0L1490.5 311.0L1491.3 311.0L1492.1 311.0L1492.9 311.0L1493.7 311.0L1494.4 311.0L1495.2 311.0L1496.0 311.0L1496.8 311.0L1497.6 311.0L1498.3 311.0L1499.1 311.0L1499.9 311.0L1500.7 311.0L1501.5 311.0L1502.3 311.0L1503.0 311.0L1503.8 311.0L1504.6 311.0L1505.4 311.0L1506.2 311.0L1506.9 311.0L1507.7 311.0L1508.5 311.0L1509.3 311.0L1510.1 311.0L1510.8 311.0L1511.6 311.0L1512.4 311.0L1513.2 311.0L1514.0 311.0L1514.8 311.0L1515.5 311.0L1516.3 311.0L1517.1 311.0L1517.9 311.0L1518.7 311.0L1519.4 311.0L1520.2 311.0L1521.0 311.0L1521.8 311.0L1522.6 311.0L1523.3 311.0L1524.1 311.0L1524.9 311.0L1525.7 311.0L1526.5 311.0L1527.3 311.0L1528.0 311.0L1528.8 311.0L1529.6 311.0L1530.4 311.0L1531.2 311.0L1531.9 311.0L1532.7 311.0L1533.5 311.0L1534.3 311.0L1535.1 311.0L1535.8 311.0L1536.6 311.0L1537.4 311.0L1538.2 311.0L1539.0 311.0L1539.8 311.0L1540.5 311.0L1541.3 311.0L1542.1 311.0L1542.9 311.0L1543.7 311.0L1544.4 311.0L1545.2 311.0L1546.0 311.0L1546.8 311.0L1547.6 311.0L1548.3 311.0L1549.1 311.0L1549.9 311.0L1550.7 311.0L1551.5 311.0L1552.3 311.0L1553.0 311.0L1553.8 311.0L1554.6 311.0L1555.4 311.0L1556.2 311.0L1556.9 311.0L1557.7 311.0L1558.5 311.0L1559.3 311.0L1560.1 311.0L1560.8 311.0L1561.6 311.0L1562.4 311.0L1563.2 311.0L1564.0 311.0L1564.8 311.0L1565.5 311.0L1566.3 311.0L1567.1 311.0L1567.9 311.0L1568.7 311.0L1569.4 311.0L1570.2 311.0L1571.0 311.0L1571.8 311.0L1572.6 311.0L1573.3 311.0L1574.1 311.0L1574.9 311.0L1575.7 311.0L1576.5 311.0L1577.3 311.1L1578.0 311.1L1578.8 311.2L1579.6 311.2L1580.4 311.3L1581.2 311.5L1581.9 311.6L1582.7 311.8L1583.5 312.0L1584.3 312.2L1585.1 312.4L1585.8 312.7L1586.6 312.9L1587.4 313.0L1588.2 313.2L1589.0 313.2L1589.8 313.2L1590.5 313.2L1591.3 313.1L1592.1 312.9L1592.9 312.7L1593.7 312.5L1594.4 312.3L1595.2 312.0L1596.0 311.8L1596.8 311.7L1597.6 311.5L1598.3 311.4L1599.1 311.3L1599.9 311.3L1600.7 311.3L1601.5 311.4L1602.3 311.5L1603.0 311.7L1603.8 312.0L1604.6 312.3L1605.4 312.6L1606.2 313.0L1606.9 313.4L1607.7 313.6L1608.5 313.8L1609.3 313.8L1610.1 313.7L1610.8 313.4L1611.6 313.1L1612.4 312.8L1613.2 312.4L1614.0 312.0L1614.8 311.7L1615.5 311.5L1616.3 311.3L1617.1 311.2L1617.9 311.1L1618.7 311.1L1619.4 311.0L1620.2 311.0L1621.0 311.0L1621.8 311.0L1622.6 311.0L1623.3 311.0L1624.1 311.0L1624.9 311.0L1625.7 311.0L1626.5 311.0L1627.3 311.0L1628.0 311.0L1628.8 311.0L1629.6 311.0L1630.4 311.0L1631.2 311.0L1631.9 311.0L1632.7 311.0L1633.5 311.0L1634.3 311.0L1635.1 311.0L1635.8 311.0L1636.6 311.0L1637.4 311.0L1638.2 311.0L1639.0 311.0L1639.8 311.0L1640.5 311.0L1641.3 311.0L1642.1 311.1L1642.9 311.2L1643.7 311.5L1644.4 312.2L1645.2 313.7L1646.0 316.4L1646.8 320.9L1647.6 327.1L1648.3 334.5L1649.1 341.6L1649.9 346.5L1650.7 348.0L1651.5 345.4L1652.3 339.6L1653.0 332.3L1653.8 325.1L1654.6 319.4L1655.4 315.5L1656.2 313.1L1656.9 311.9L1657.7 311.3L1658.5 311.1L1659.3 311.0L1660.1 311.0L1660.8 311.0L1661.6 311.0L1662.4 311.0L1663.2 311.0L1664.0 311.0L1664.8 311.0L1665.5 311.0L1666.3 311.0L1667.1 311.0L1667.9 311.0L1668.7 311.0L1669.4 311.0L1670.2 311.0L1671.0 311.0L1671.8 311.0L1672.6 311.0L1673.3 311.0L1674.1 311.0L1674.9 311.0L1675.7 311.0L1676.5 311.0L1677.3 311.0L1678.0 311.0L1678.8 311.0L1679.6 311.0L1680.4 311.0L1681.2 311.0L1681.9 311.0L1682.7 311.0L1683.5 311.0L1684.3 311.0L1685.1 311.0L1685.8 311.0L1686.6 311.0L1687.4 311.0L1688.2 311.1L1689.0 311.1L1689.8 311.2L1690.5 311.2L1691.3 311.3L1692.1 311.4L1692.9 311.5L1693.7 311.6L1694.4 311.8L1695.2 311.9L1696.0 312.0L1696.8 312.1L1697.6 312.2L1698.3 312.3L1699.1 312.3L1699.9 312.3L1700.7 312.3L1701.5 312.2L1702.3 312.1L1703.0 312.0L1703.8 311.9L1704.6 311.7L1705.4 311.6L1706.2 311.5L1706.9 311.4L1707.7 311.3L1708.5 311.2L1709.3 311.1L1710.1 311.1L1710.8 311.1L1711.6 311.0L1712.4 311.0L1713.2 311.0L1714.0 311.0L1714.8 311.0L1715.5 311.0L1716.3 311.0L1717.1 311.0L1717.9 311.0L1718.7 311.0L1719.4 311.0L1720.2 311.0L1721.0 311.0L1721.8 311.0L1722.6 311.0L1723.3 311.0L1724.1 311.0L1724.9 311.0L1725.7 311.0L1726.5 311.0L1727.3 311.1L1728.0 311.2L1728.8 311.4L1729.6 311.8L1730.4 312.4L1731.2 313.5L1731.9 315.0L1732.7 316.9L1733.5 319.3L1734.3 321.9L1735.1 324.6L1735.8 327.1L1736.6 329.5L1737.4 331.9L1738.2 334.4L1739.0 337.2L1739.8 340.5L1740.5 344.0L1741.3 347.5L1742.1 350.5L1742.9 352.7L1743.7 353.7L1744.4 353.6L1745.2 352.5L1746.0 350.8L1746.8 348.8L1747.6 346.9L1748.3 345.2L1749.1 343.5L1749.9 341.8L1750.7 339.7L1751.5 337.1L1752.3 334.0L1753.0 330.5L1753.8 326.8L1754.6 323.4L1755.4 320.4L1756.2 318.2L1756.9 316.9L1757.7 316.4L1758.5 316.7L1759.3 317.6L1760.1 318.8L1760.8 320.2L1761.6 321.3L1762.4 322.1L1763.2 322.2L1764.0 321.9L1764.8 321.0L1765.5 319.9L1766.3 319.0L1767.1 318.6L1767.9 319.0L1768.7 320.4L1769.4 322.5L1770.2 324.7L1771.0 326.2L1771.8 326.4L1772.6 325.1L1773.3 322.6L1774.1 319.6L1774.9 316.7L1775.7 314.5L1776.5 313.2L1777.3 312.5L1778.0 312.3L1778.8 312.5L1779.6 312.9L1780.4 313.4L1781.2 313.9L1781.9 314.4L1782.7 314.8L1783.5 314.9L1784.3 314.9L1785.1 314.8L1785.8 314.4L1786.6 314.0L1787.4 313.6L1788.2 313.1L1789.0 312.8L1789.8 312.6L1790.5 312.4L1791.3 312.4L1792.1 312.5L1792.9 312.6L1793.7 312.8L1794.4 312.9L1795.2 313.1L1796.0 313.2L1796.8 313.3L1797.6 313.3L1798.3 313.3L1799.1 313.2L1799.9 313.0L1800.7 312.9L1801.5 312.7L1802.3 312.5L1803.0 312.3L1803.8 312.2L1804.6 312.1L1805.4 312.0L1806.2 311.9L1806.9 311.9L1807.7 311.9L1808.5 311.9L1809.3 311.9L1810.1 312.0L1810.8 312.0L1811.6 312.1L1812.4 312.1L1813.2 312.1L1814.0 312.1L1814.8 312.1L1815.5 312.1L1816.3 312.1L1817.1 312.0L1817.9 312.0L1818.7 311.9L1819.4 311.9L1820.2 311.8L1821.0 311.7L1821.8 311.6L1822.6 311.6L1823.3 311.5L1824.1 311.4L1824.9 311.4L1825.7 311.3L1826.5 311.3L1827.3 311.2L1828.0 311.2L1828.8 311.1L1829.6 311.1L1830.4 311.1L1831.2 311.1L1831.9 311.0L1832.7 311.0L1833.5 311.0L1834.3 311.0L1835.1 311.0L1835.8 311.0L1836.6 311.0L1837.4 311.0L1838.2 311.0L1839.0 311.0L1839.8 311.0L1840.5 311.0L1841.3 311.0L1842.1 311.0L1842.9 311.0L1843.7 311.0L1844.4 311.0L1845.2 311.0L1846.0 311.0L1846.8 311.0L1847.6 311.0L1848.3 311.0L1849.1 311.0L1849.9 311.0L1850.7 311.0L1851.5 311.0L1852.3 311.0L1853.0 311.0L1853.8 311.0L1854.6 311.0L1855.4 311.0L1856.2 311.0L1856.9 311.0L1857.7 311.0L1858.5 311.0L1859.3 311.0L1860.1 311.0L1860.8 311.0L1861.6 311.0L1862.4 311.0L1863.2 311.0L1864.0 311.0L1864.8 311.0L1865.5 311.0L1866.3 311.0L1867.1 311.0L1867.9 311.0L1868.7 311.0L1869.4 311.0L1870.2 311.0L1871.0 311.0L1871.8 311.0L1872.6 311.0L1873.3 311.0L1874.1 311.0L1874.9 311.0L1875.7 311.0L1876.5 311.0L1877.3 311.0L1878.0 311.0L1878.8 311.0L1879.6 311.0L1880.4 311.0L1881.2 311.0L1881.9 311.0L1882.7 311.0L1883.5 311.0L1884.3 311.0L1885.1 311.0L1885.8 311.0L1886.6 311.0L1887.4 311.0L1888.2 311.0L1889.0 311.0L1889.8 311.0L1890.5 311.0L1891.3 311.0L1892.1 311.0L1892.9 311.0L1893.7 311.0L1894.4 311.0L1895.2 311.0L1896.0 311.0L1896.8 311.0L1896.8 311.0Z" fill="#f99cc0" fill-opacity="0.68" stroke="#f99cc0" stroke-opacity="0.5" stroke-width="0.6"/><path d="M1428.8 311.0H1897.0" stroke="#f4909f" stroke-width="0.75"/><path d="M1662.8 244.0V423.2" stroke="#c8c8c8" stroke-width="0.8" stroke-dasharray="2.5 2.5"/><rect x="1428.8" y="244.0" width="468.2" height="179.2" fill="none" stroke="#000" stroke-width="1.2"/><text x="1419" y="270.8" font-size="14" text-anchor="end" fill="#000">4</text><text x="1419" y="315.7" font-size="14" text-anchor="end" fill="#000">0</text><text x="1419" y="360.6" font-size="14" text-anchor="end" fill="#000">-4</text><text x="1419" y="405.5" font-size="14" text-anchor="end" fill="#000">-8</text><text x="1442.8" y="444" font-size="14" text-anchor="middle" fill="#000">-9</text><text x="1516.1" y="444" font-size="14" text-anchor="middle" fill="#000">-6</text><text x="1589.5" y="444" font-size="14" text-anchor="middle" fill="#000">-3</text><text x="1662.8" y="444" font-size="14" text-anchor="middle" fill="#000">0</text><text x="1736.1" y="444" font-size="14" text-anchor="middle" fill="#000">3</text><text x="1809.5" y="444" font-size="14" text-anchor="middle" fill="#000">6</text><text x="1882.8" y="444" font-size="14" text-anchor="middle" fill="#000">9</text><path d="M1428.8 266.1h-5M1428.8 311.0h-5M1428.8 355.9h-5M1428.8 400.8h-5M1428.8 288.6h-3M1428.8 333.4h-3M1428.8 378.3h-3M1442.8 423.2v5M1516.1 423.2v5M1589.5 423.2v5M1662.8 423.2v5M1736.1 423.2v5M1809.5 423.2v5M1882.8 423.2v5" stroke="#000" stroke-width="1.2" fill="none"/><text x="1662" y="461.5" font-size="15.4" text-anchor="middle" fill="#000"><tspan font-style="italic">E</tspan>-<tspan font-style="italic">E</tspan><tspan font-size="10" dy="3">F</tspan><tspan dy="-3"> (eV)</tspan></text><text x="1441" y="272.5" font-size="15.4" fill="#000">Spin up</text><text x="1668.5" y="390" font-size="16.6" fill="#000">Fermi level</text><text x="1858" y="267" font-size="15.4" text-anchor="middle" fill="#000">Fe 3<tspan font-style="italic">d</tspan></text><text x="1861.5" y="288.5" font-size="15.4" text-anchor="middle" fill="#000">BUC-96</text><text x="1886" y="407.5" font-size="15.4" text-anchor="end" fill="#000">Spin down</text><rect x="1442.5" y="378" width="35.5" height="17" fill="url(#legB)"/><rect x="1442.5" y="397.5" width="35.5" height="17" fill="url(#legP)"/><text x="1487" y="391.5" font-size="15.5" fill="#000">Before adsorption</text><text x="1491.5" y="411.5" font-size="15.5" fill="#000" xml:space="preserve">After   adsorption</text><rect x="5" y="481" width="1898" height="377" fill="#565656"/><rect x="5" y="481" width="1898" height="1.1" fill="#808080"/><rect x="7.9" y="484.3" width="1891.9" height="371.4" fill="#fff"/><clipPath id="clipc"><rect x="7.9" y="484" width="1891.9" height="371.7"/></clipPath><g clip-path="url(#clipc)" fill="none" stroke-linecap="butt"><path d="M139.3 493.5L139.3 483.0" stroke="#5a7ce6" stroke-width="3.3"/><path d="M139.3 634.7L139.3 625.4" stroke="#5a7ce6" stroke-width="3.3"/><path d="M139.3 625.4L139.3 617.2" stroke="#d6d6d6" stroke-width="3.3"/><path d="M139.3 617.2L128.3 605.4" stroke="#d6d6d6" stroke-width="3.3"/><path d="M139.3 617.2L150.3 605.4" stroke="#d6d6d6" stroke-width="3.3"/><path d="M128.3 605.4L128.3 583.9" stroke="#d6d6d6" stroke-width="3.3"/><path d="M150.3 605.4L150.3 583.9" stroke="#d6d6d6" stroke-width="3.3"/><path d="M128.3 583.9L139.3 572.7" stroke="#d6d6d6" stroke-width="3.3"/><path d="M150.3 583.9L139.3 572.7" stroke="#d6d6d6" stroke-width="3.3"/><path d="M139.3 572.7L139.3 555.9" stroke="#d6d6d6" stroke-width="3.3"/><path d="M139.3 555.9L128.3 544.2" stroke="#d6d6d6" stroke-width="3.3"/><path d="M139.3 555.9L150.3 544.2" stroke="#d6d6d6" stroke-width="3.3"/><path d="M128.3 544.2L128.3 522.4" stroke="#d6d6d6" stroke-width="3.3"/><path d="M150.3 544.2L150.3 522.4" stroke="#d6d6d6" stroke-width="3.3"/><path d="M128.3 522.4L139.3 511.2" stroke="#d6d6d6" stroke-width="3.3"/><path d="M150.3 522.4L139.3 511.2" stroke="#d6d6d6" stroke-width="3.3"/><path d="M139.3 511.2L139.3 502.9" stroke="#d6d6d6" stroke-width="3.3"/><path d="M139.3 502.9L139.3 493.5" stroke="#5a7ce6" stroke-width="3.3"/><path d="M120.3 648.7L112.7 653.6" stroke="#f46c6c" stroke-width="3.3"/><path d="M112.7 653.6L105.6 658.2" stroke="#d6d6d6" stroke-width="3.3"/><path d="M120.3 667.7L112.7 662.8" stroke="#f46c6c" stroke-width="3.3"/><path d="M112.7 662.8L105.6 658.2" stroke="#d6d6d6" stroke-width="3.3"/><path d="M105.6 658.2L88.3 658.2" stroke="#d6d6d6" stroke-width="3.3"/><path d="M88.3 658.2L77.1 647.2" stroke="#d6d6d6" stroke-width="3.3"/><path d="M88.3 658.2L77.1 669.2" stroke="#d6d6d6" stroke-width="3.3"/><path d="M77.1 647.2L55.1 647.2" stroke="#d6d6d6" stroke-width="3.3"/><path d="M77.1 669.2L55.1 669.2" stroke="#d6d6d6" stroke-width="3.3"/><path d="M55.1 647.2L43.5 658.2" stroke="#d6d6d6" stroke-width="3.3"/><path d="M55.1 669.2L43.5 658.2" stroke="#d6d6d6" stroke-width="3.3"/><path d="M43.5 658.2L26.0 658.2" stroke="#d6d6d6" stroke-width="3.3"/><path d="M26.0 658.2L19.3 653.5" stroke="#d6d6d6" stroke-width="3.3"/><path d="M19.3 653.5L12.0 648.5" stroke="#f46c6c" stroke-width="3.3"/><path d="M26.0 658.2L19.3 662.9" stroke="#d6d6d6" stroke-width="3.3"/><path d="M19.3 662.9L12.0 667.9" stroke="#f46c6c" stroke-width="3.3"/><path d="M139.3 658.2L139.3 645.1" stroke="#d3b2e6" stroke-width="3.3"/><path d="M139.3 645.1L139.3 634.7" stroke="#5a7ce6" stroke-width="3.3"/><path d="M139.3 658.2L139.3 671.2" stroke="#d3b2e6" stroke-width="3.3"/><path d="M139.3 671.2L139.3 681.5" stroke="#5a7ce6" stroke-width="3.3"/><path d="M139.3 658.2L128.4 652.8" stroke="#d3b2e6" stroke-width="3.3"/><path d="M128.4 652.8L120.3 648.7" stroke="#f46c6c" stroke-width="3.3"/><path d="M139.3 658.2L128.4 663.6" stroke="#d3b2e6" stroke-width="3.3"/><path d="M128.4 663.6L120.3 667.7" stroke="#f46c6c" stroke-width="3.3"/><circle cx="139.3" cy="634.7" r="5.0" fill="url(#mN)"/><circle cx="139.3" cy="617.2" r="3.9" fill="url(#mC)"/><circle cx="128.3" cy="605.4" r="3.9" fill="url(#mC)"/><circle cx="150.3" cy="605.4" r="3.9" fill="url(#mC)"/><circle cx="128.3" cy="583.9" r="3.9" fill="url(#mC)"/><circle cx="150.3" cy="583.9" r="3.9" fill="url(#mC)"/><circle cx="139.3" cy="572.7" r="3.9" fill="url(#mC)"/><circle cx="139.3" cy="555.9" r="3.9" fill="url(#mC)"/><circle cx="128.3" cy="544.2" r="3.9" fill="url(#mC)"/><circle cx="150.3" cy="544.2" r="3.9" fill="url(#mC)"/><circle cx="128.3" cy="522.4" r="3.9" fill="url(#mC)"/><circle cx="150.3" cy="522.4" r="3.9" fill="url(#mC)"/><circle cx="139.3" cy="511.2" r="3.9" fill="url(#mC)"/><circle cx="139.3" cy="493.5" r="5.0" fill="url(#mN)"/><circle cx="120.3" cy="648.7" r="4.6" fill="url(#mO)"/><circle cx="120.3" cy="667.7" r="4.6" fill="url(#mO)"/><circle cx="105.6" cy="658.2" r="3.9" fill="url(#mC)"/><circle cx="88.3" cy="658.2" r="3.9" fill="url(#mC)"/><circle cx="77.1" cy="647.2" r="3.9" fill="url(#mC)"/><circle cx="77.1" cy="669.2" r="3.9" fill="url(#mC)"/><circle cx="55.1" cy="647.2" r="3.9" fill="url(#mC)"/><circle cx="55.1" cy="669.2" r="3.9" fill="url(#mC)"/><circle cx="43.5" cy="658.2" r="3.9" fill="url(#mC)"/><circle cx="26.0" cy="658.2" r="3.9" fill="url(#mC)"/><circle cx="12.0" cy="648.5" r="4.6" fill="url(#mO)"/><circle cx="12.0" cy="667.9" r="4.6" fill="url(#mO)"/><circle cx="139.3" cy="681.5" r="5.0" fill="url(#mN)"/><circle cx="139.3" cy="658.2" r="7.7" fill="url(#mFe)"/><path d="M182.7 668.8L190.0 663.2" stroke="#f46c6c" stroke-width="3.3"/><path d="M190.0 663.2L195.5 659.0" stroke="#e2e2e2" stroke-width="3.3"/><circle cx="182.7" cy="668.8" r="4.6" fill="url(#mO)"/><circle cx="195.5" cy="659.0" r="2.3" fill="url(#mH)" stroke="#cfcfcf" stroke-width="0.8"/><linearGradient id="ca1" gradientUnits="userSpaceOnUse" x1="178.0" y1="674.0" x2="150.5" y2="663.5"><stop offset="0" stop-color="#bab7b5" stop-opacity="0.05"/><stop offset="0.55" stop-color="#bab7b5" stop-opacity="0.7"/><stop offset="1" stop-color="#bab7b5" stop-opacity="1"/></linearGradient><polygon points="177.9,673.6 176.4,673.8 175.0,674.0 173.6,674.0 172.2,674.1 170.9,674.0 169.6,673.9 168.3,673.7 167.1,673.5 165.9,673.2 164.8,672.9 163.7,672.5 162.6,672.0 161.6,671.5 160.6,671.0 159.7,670.4 158.7,669.7 157.9,668.9 157.0,668.2 160.5,665.5 150.5,663.5 151.1,673.7 154.6,671.0 155.7,671.8 156.8,672.5 158.0,673.2 159.2,673.8 160.4,674.3 161.6,674.7 162.9,675.1 164.2,675.3 165.5,675.6 166.8,675.7 168.1,675.8 169.5,675.8 170.9,675.7 172.3,675.6 173.7,675.4 175.1,675.1 176.6,674.8 178.1,674.4" fill="url(#ca1)"/><path d="M275.5 783.1L275.5 793.6" stroke="#5a7ce6" stroke-width="3.3"/><path d="M275.5 641.9L275.5 651.2" stroke="#5a7ce6" stroke-width="3.3"/><path d="M275.5 651.2L275.5 659.4" stroke="#d6d6d6" stroke-width="3.3"/><path d="M275.5 659.4L264.5 671.2" stroke="#d6d6d6" stroke-width="3.3"/><path d="M275.5 659.4L286.5 671.2" stroke="#d6d6d6" stroke-width="3.3"/><path d="M264.5 671.2L264.5 692.7" stroke="#d6d6d6" stroke-width="3.3"/><path d="M286.5 671.2L286.5 692.7" stroke="#d6d6d6" stroke-width="3.3"/><path d="M264.5 692.7L275.5 703.9" stroke="#d6d6d6" stroke-width="3.3"/><path d="M286.5 692.7L275.5 703.9" stroke="#d6d6d6" stroke-width="3.3"/><path d="M275.5 703.9L275.5 720.7" stroke="#d6d6d6" stroke-width="3.3"/><path d="M275.5 720.7L264.5 732.4" stroke="#d6d6d6" stroke-width="3.3"/><path d="M275.5 720.7L286.5 732.4" stroke="#d6d6d6" stroke-width="3.3"/><path d="M264.5 732.4L264.5 754.2" stroke="#d6d6d6" stroke-width="3.3"/><path d="M286.5 732.4L286.5 754.2" stroke="#d6d6d6" stroke-width="3.3"/><path d="M264.5 754.2L275.5 765.4" stroke="#d6d6d6" stroke-width="3.3"/><path d="M286.5 754.2L275.5 765.4" stroke="#d6d6d6" stroke-width="3.3"/><path d="M275.5 765.4L275.5 773.7" stroke="#d6d6d6" stroke-width="3.3"/><path d="M275.5 773.7L275.5 783.1" stroke="#5a7ce6" stroke-width="3.3"/><path d="M294.5 608.9L302.1 613.8" stroke="#f46c6c" stroke-width="3.3"/><path d="M302.1 613.8L309.2 618.4" stroke="#d6d6d6" stroke-width="3.3"/><path d="M294.5 627.9L302.1 623.0" stroke="#f46c6c" stroke-width="3.3"/><path d="M302.1 623.0L309.2 618.4" stroke="#d6d6d6" stroke-width="3.3"/><path d="M309.2 618.4L326.5 618.4" stroke="#d6d6d6" stroke-width="3.3"/><path d="M326.5 618.4L337.7 607.4" stroke="#d6d6d6" stroke-width="3.3"/><path d="M326.5 618.4L337.7 629.4" stroke="#d6d6d6" stroke-width="3.3"/><path d="M337.7 607.4L359.7 607.4" stroke="#d6d6d6" stroke-width="3.3"/><path d="M337.7 629.4L359.7 629.4" stroke="#d6d6d6" stroke-width="3.3"/><path d="M359.7 607.4L371.3 618.4" stroke="#d6d6d6" stroke-width="3.3"/><path d="M359.7 629.4L371.3 618.4" stroke="#d6d6d6" stroke-width="3.3"/><path d="M371.3 618.4L388.8 618.4" stroke="#d6d6d6" stroke-width="3.3"/><path d="M388.8 618.4L395.5 613.7" stroke="#d6d6d6" stroke-width="3.3"/><path d="M395.5 613.7L402.8 608.7" stroke="#f46c6c" stroke-width="3.3"/><path d="M388.8 618.4L395.5 623.1" stroke="#d6d6d6" stroke-width="3.3"/><path d="M395.5 623.1L402.8 628.1" stroke="#f46c6c" stroke-width="3.3"/><path d="M275.5 618.4L275.5 631.5" stroke="#d3b2e6" stroke-width="3.3"/><path d="M275.5 631.5L275.5 641.9" stroke="#5a7ce6" stroke-width="3.3"/><path d="M275.5 618.4L275.5 605.4" stroke="#d3b2e6" stroke-width="3.3"/><path d="M275.5 605.4L275.5 595.1" stroke="#5a7ce6" stroke-width="3.3"/><path d="M275.5 618.4L286.4 613.0" stroke="#d3b2e6" stroke-width="3.3"/><path d="M286.4 613.0L294.5 608.9" stroke="#f46c6c" stroke-width="3.3"/><path d="M275.5 618.4L286.4 623.8" stroke="#d3b2e6" stroke-width="3.3"/><path d="M286.4 623.8L294.5 627.9" stroke="#f46c6c" stroke-width="3.3"/><circle cx="275.5" cy="641.9" r="5.0" fill="url(#mN)"/><circle cx="275.5" cy="659.4" r="3.9" fill="url(#mC)"/><circle cx="264.5" cy="671.2" r="3.9" fill="url(#mC)"/><circle cx="286.5" cy="671.2" r="3.9" fill="url(#mC)"/><circle cx="264.5" cy="692.7" r="3.9" fill="url(#mC)"/><circle cx="286.5" cy="692.7" r="3.9" fill="url(#mC)"/><circle cx="275.5" cy="703.9" r="3.9" fill="url(#mC)"/><circle cx="275.5" cy="720.7" r="3.9" fill="url(#mC)"/><circle cx="264.5" cy="732.4" r="3.9" fill="url(#mC)"/><circle cx="286.5" cy="732.4" r="3.9" fill="url(#mC)"/><circle cx="264.5" cy="754.2" r="3.9" fill="url(#mC)"/><circle cx="286.5" cy="754.2" r="3.9" fill="url(#mC)"/><circle cx="275.5" cy="765.4" r="3.9" fill="url(#mC)"/><circle cx="275.5" cy="783.1" r="5.0" fill="url(#mN)"/><circle cx="294.5" cy="608.9" r="4.6" fill="url(#mO)"/><circle cx="294.5" cy="627.9" r="4.6" fill="url(#mO)"/><circle cx="309.2" cy="618.4" r="3.9" fill="url(#mC)"/><circle cx="326.5" cy="618.4" r="3.9" fill="url(#mC)"/><circle cx="337.7" cy="607.4" r="3.9" fill="url(#mC)"/><circle cx="337.7" cy="629.4" r="3.9" fill="url(#mC)"/><circle cx="359.7" cy="607.4" r="3.9" fill="url(#mC)"/><circle cx="359.7" cy="629.4" r="3.9" fill="url(#mC)"/><circle cx="371.3" cy="618.4" r="3.9" fill="url(#mC)"/><circle cx="388.8" cy="618.4" r="3.9" fill="url(#mC)"/><circle cx="402.8" cy="608.7" r="4.6" fill="url(#mO)"/><circle cx="402.8" cy="628.1" r="4.6" fill="url(#mO)"/><circle cx="275.5" cy="595.1" r="5.0" fill="url(#mN)"/><circle cx="275.5" cy="618.4" r="7.7" fill="url(#mFe)"/><path d="M231.0 616.2L224.0 610.6" stroke="#f46c6c" stroke-width="3.3"/><path d="M224.0 610.6L218.7 606.4" stroke="#e2e2e2" stroke-width="3.3"/><circle cx="231.0" cy="616.2" r="4.6" fill="url(#mO)"/><circle cx="218.7" cy="606.4" r="2.3" fill="url(#mH)" stroke="#cfcfcf" stroke-width="0.8"/><linearGradient id="ca2" gradientUnits="userSpaceOnUse" x1="236.0" y1="608.0" x2="264.5" y2="613.5"><stop offset="0" stop-color="#bab7b5" stop-opacity="0.05"/><stop offset="0.55" stop-color="#bab7b5" stop-opacity="0.7"/><stop offset="1" stop-color="#bab7b5" stop-opacity="1"/></linearGradient><polygon points="236.2,608.3 237.4,607.8 238.6,607.3 239.7,606.9 240.9,606.6 242.1,606.4 243.2,606.2 244.3,606.1 245.4,606.1 246.6,606.1 247.7,606.3 248.8,606.4 249.9,606.7 251.0,607.0 252.0,607.4 253.1,607.9 254.2,608.4 255.3,609.0 256.4,609.7 253.6,613.1 264.5,613.5 261.0,603.1 258.2,606.5 256.9,605.9 255.6,605.4 254.3,604.9 253.0,604.6 251.7,604.3 250.4,604.1 249.1,603.9 247.8,603.9 246.6,603.9 245.3,604.0 244.1,604.2 242.9,604.5 241.7,604.8 240.5,605.2 239.3,605.7 238.1,606.3 236.9,606.9 235.8,607.7" fill="url(#ca2)"/><path d="M618.0 493.6L618.0 483.1" stroke="#5a7ce6" stroke-width="3.3"/><path d="M618.0 634.8L618.0 625.5" stroke="#5a7ce6" stroke-width="3.3"/><path d="M618.0 625.5L618.0 617.3" stroke="#d6d6d6" stroke-width="3.3"/><path d="M618.0 617.3L607.0 605.5" stroke="#d6d6d6" stroke-width="3.3"/><path d="M618.0 617.3L629.0 605.5" stroke="#d6d6d6" stroke-width="3.3"/><path d="M607.0 605.5L607.0 584.0" stroke="#d6d6d6" stroke-width="3.3"/><path d="M629.0 605.5L629.0 584.0" stroke="#d6d6d6" stroke-width="3.3"/><path d="M607.0 584.0L618.0 572.8" stroke="#d6d6d6" stroke-width="3.3"/><path d="M629.0 584.0L618.0 572.8" stroke="#d6d6d6" stroke-width="3.3"/><path d="M618.0 572.8L618.0 556.0" stroke="#d6d6d6" stroke-width="3.3"/><path d="M618.0 556.0L607.0 544.3" stroke="#d6d6d6" stroke-width="3.3"/><path d="M618.0 556.0L629.0 544.3" stroke="#d6d6d6" stroke-width="3.3"/><path d="M607.0 544.3L607.0 522.5" stroke="#d6d6d6" stroke-width="3.3"/><path d="M629.0 544.3L629.0 522.5" stroke="#d6d6d6" stroke-width="3.3"/><path d="M607.0 522.5L618.0 511.3" stroke="#d6d6d6" stroke-width="3.3"/><path d="M629.0 522.5L618.0 511.3" stroke="#d6d6d6" stroke-width="3.3"/><path d="M618.0 511.3L618.0 503.0" stroke="#d6d6d6" stroke-width="3.3"/><path d="M618.0 503.0L618.0 493.6" stroke="#5a7ce6" stroke-width="3.3"/><path d="M599.0 648.8L591.4 653.7" stroke="#f46c6c" stroke-width="3.3"/><path d="M591.4 653.7L584.3 658.3" stroke="#d6d6d6" stroke-width="3.3"/><path d="M599.0 667.8L591.4 662.9" stroke="#f46c6c" stroke-width="3.3"/><path d="M591.4 662.9L584.3 658.3" stroke="#d6d6d6" stroke-width="3.3"/><path d="M584.3 658.3L567.0 658.3" stroke="#d6d6d6" stroke-width="3.3"/><path d="M567.0 658.3L555.8 647.3" stroke="#d6d6d6" stroke-width="3.3"/><path d="M567.0 658.3L555.8 669.3" stroke="#d6d6d6" stroke-width="3.3"/><path d="M555.8 647.3L533.8 647.3" stroke="#d6d6d6" stroke-width="3.3"/><path d="M555.8 669.3L533.8 669.3" stroke="#d6d6d6" stroke-width="3.3"/><path d="M533.8 647.3L522.2 658.3" stroke="#d6d6d6" stroke-width="3.3"/><path d="M533.8 669.3L522.2 658.3" stroke="#d6d6d6" stroke-width="3.3"/><path d="M522.2 658.3L504.7 658.3" stroke="#d6d6d6" stroke-width="3.3"/><path d="M504.7 658.3L498.0 653.6" stroke="#d6d6d6" stroke-width="3.3"/><path d="M498.0 653.6L490.7 648.6" stroke="#f46c6c" stroke-width="3.3"/><path d="M504.7 658.3L498.0 663.0" stroke="#d6d6d6" stroke-width="3.3"/><path d="M498.0 663.0L490.7 668.0" stroke="#f46c6c" stroke-width="3.3"/><path d="M618.0 658.3L618.0 645.2" stroke="#d3b2e6" stroke-width="3.3"/><path d="M618.0 645.2L618.0 634.8" stroke="#5a7ce6" stroke-width="3.3"/><path d="M618.0 658.3L618.0 671.3" stroke="#d3b2e6" stroke-width="3.3"/><path d="M618.0 671.3L618.0 681.6" stroke="#5a7ce6" stroke-width="3.3"/><path d="M618.0 658.3L607.1 652.9" stroke="#d3b2e6" stroke-width="3.3"/><path d="M607.1 652.9L599.0 648.8" stroke="#f46c6c" stroke-width="3.3"/><path d="M618.0 658.3L607.1 663.7" stroke="#d3b2e6" stroke-width="3.3"/><path d="M607.1 663.7L599.0 667.8" stroke="#f46c6c" stroke-width="3.3"/><path d="M618.0 658.3L627.8 665.6" stroke="#d3b2e6" stroke-width="3.3"/><path d="M627.8 665.6L635.1 671.0" stroke="#f46c6c" stroke-width="3.3"/><path d="M635.1 671.0L641.5 666.2" stroke="#f46c6c" stroke-width="3.3"/><path d="M641.5 666.2L646.0 662.7" stroke="#e2e2e2" stroke-width="3.3"/><circle cx="618.0" cy="634.8" r="5.0" fill="url(#mN)"/><circle cx="618.0" cy="617.3" r="3.9" fill="url(#mC)"/><circle cx="607.0" cy="605.5" r="3.9" fill="url(#mC)"/><circle cx="629.0" cy="605.5" r="3.9" fill="url(#mC)"/><circle cx="607.0" cy="584.0" r="3.9" fill="url(#mC)"/><circle cx="629.0" cy="584.0" r="3.9" fill="url(#mC)"/><circle cx="618.0" cy="572.8" r="3.9" fill="url(#mC)"/><circle cx="618.0" cy="556.0" r="3.9" fill="url(#mC)"/><circle cx="607.0" cy="544.3" r="3.9" fill="url(#mC)"/><circle cx="629.0" cy="544.3" r="3.9" fill="url(#mC)"/><circle cx="607.0" cy="522.5" r="3.9" fill="url(#mC)"/><circle cx="629.0" cy="522.5" r="3.9" fill="url(#mC)"/><circle cx="618.0" cy="511.3" r="3.9" fill="url(#mC)"/><circle cx="618.0" cy="493.6" r="5.0" fill="url(#mN)"/><circle cx="599.0" cy="648.8" r="4.6" fill="url(#mO)"/><circle cx="599.0" cy="667.8" r="4.6" fill="url(#mO)"/><circle cx="584.3" cy="658.3" r="3.9" fill="url(#mC)"/><circle cx="567.0" cy="658.3" r="3.9" fill="url(#mC)"/><circle cx="555.8" cy="647.3" r="3.9" fill="url(#mC)"/><circle cx="555.8" cy="669.3" r="3.9" fill="url(#mC)"/><circle cx="533.8" cy="647.3" r="3.9" fill="url(#mC)"/><circle cx="533.8" cy="669.3" r="3.9" fill="url(#mC)"/><circle cx="522.2" cy="658.3" r="3.9" fill="url(#mC)"/><circle cx="504.7" cy="658.3" r="3.9" fill="url(#mC)"/><circle cx="490.7" cy="648.6" r="4.6" fill="url(#mO)"/><circle cx="490.7" cy="668.0" r="4.6" fill="url(#mO)"/><circle cx="618.0" cy="681.6" r="5.0" fill="url(#mN)"/><circle cx="618.0" cy="658.3" r="7.7" fill="url(#mFe)"/><circle cx="635.1" cy="671.0" r="4.6" fill="url(#mO)"/><circle cx="646.0" cy="662.7" r="2.3" fill="url(#mH)" stroke="#cfcfcf" stroke-width="0.8"/><linearGradient id="ca3" gradientUnits="userSpaceOnUse" x1="664.0" y1="640.5" x2="627.0" y2="655.5"><stop offset="0" stop-color="#bab7b5" stop-opacity="0.05"/><stop offset="0.55" stop-color="#bab7b5" stop-opacity="0.7"/><stop offset="1" stop-color="#bab7b5" stop-opacity="1"/></linearGradient><polygon points="664.0,640.1 662.0,640.2 660.0,640.3 658.1,640.4 656.2,640.6 654.3,640.8 652.5,641.1 650.7,641.4 648.9,641.8 647.2,642.2 645.5,642.7 643.9,643.2 642.2,643.7 640.6,644.3 639.1,644.9 637.5,645.6 636.1,646.4 634.6,647.1 633.2,648.0 630.2,644.7 627.0,655.5 638.2,654.3 635.2,651.0 636.4,650.1 637.7,649.3 639.1,648.5 640.4,647.7 641.8,647.0 643.3,646.3 644.8,645.6 646.3,645.0 647.9,644.4 649.5,643.9 651.2,643.4 652.9,642.9 654.6,642.5 656.4,642.1 658.3,641.7 660.1,641.4 662.1,641.1 664.0,640.9" fill="url(#ca3)"/><path d="M682.7 630.0L676.8 625.8" stroke="#f1da7c" stroke-width="3.3"/><path d="M676.8 625.8L671.0 621.7" stroke="#f46c6c" stroke-width="3.3"/><path d="M682.7 630.0L684.9 623.3" stroke="#f1da7c" stroke-width="3.3"/><path d="M684.9 623.3L687.0 616.7" stroke="#f46c6c" stroke-width="3.3"/><path d="M682.7 630.0L677.1 636.2" stroke="#f1da7c" stroke-width="3.3"/><path d="M677.1 636.2L671.7 642.2" stroke="#f46c6c" stroke-width="3.3"/><path d="M682.7 630.0L690.0 630.8" stroke="#f1da7c" stroke-width="3.3"/><path d="M690.0 630.8L697.2 631.5" stroke="#f46c6c" stroke-width="3.3"/><path d="M697.2 631.5L707.2 637.3" stroke="#f46c6c" stroke-width="3.3"/><path d="M707.2 637.3L714.4 636.5" stroke="#f46c6c" stroke-width="3.3"/><path d="M714.4 636.5L721.7 635.6" stroke="#f1da7c" stroke-width="3.3"/><path d="M721.7 635.6L722.9 628.1" stroke="#f1da7c" stroke-width="3.3"/><path d="M722.9 628.1L724.1 620.7" stroke="#f46c6c" stroke-width="3.3"/><path d="M721.7 635.6L727.2 633.5" stroke="#f1da7c" stroke-width="3.3"/><path d="M727.2 633.5L732.5 631.5" stroke="#f46c6c" stroke-width="3.3"/><path d="M721.7 635.6L726.3 641.6" stroke="#f1da7c" stroke-width="3.3"/><path d="M726.3 641.6L730.8 647.4" stroke="#f46c6c" stroke-width="3.3"/><circle cx="682.7" cy="630.0" r="4.8" fill="url(#mS)"/><circle cx="671.0" cy="621.7" r="4.6" fill="url(#mO)"/><circle cx="687.0" cy="616.7" r="4.6" fill="url(#mO)"/><circle cx="671.7" cy="642.2" r="4.6" fill="url(#mO)"/><circle cx="697.2" cy="631.5" r="4.6" fill="url(#mO)"/><circle cx="707.2" cy="637.3" r="4.6" fill="url(#mO)"/><circle cx="721.7" cy="635.6" r="4.8" fill="url(#mS)"/><circle cx="724.1" cy="620.7" r="4.6" fill="url(#mO)"/><circle cx="732.5" cy="631.5" r="4.6" fill="url(#mO)"/><circle cx="730.8" cy="647.4" r="4.6" fill="url(#mO)"/><linearGradient id="ca4" gradientUnits="userSpaceOnUse" x1="737.0" y1="631.0" x2="777.5" y2="621.5"><stop offset="0" stop-color="#bab7b5" stop-opacity="0.05"/><stop offset="0.55" stop-color="#bab7b5" stop-opacity="0.7"/><stop offset="1" stop-color="#bab7b5" stop-opacity="1"/></linearGradient><polygon points="737.2,631.4 738.9,630.5 740.6,629.8 742.3,629.0 744.0,628.3 745.7,627.7 747.4,627.1 749.0,626.6 750.7,626.0 752.4,625.6 754.1,625.2 755.8,624.8 757.4,624.4 759.1,624.1 760.8,623.9 762.4,623.7 764.1,623.5 765.8,623.4 767.4,623.3 769.1,623.3 768.9,627.6 777.5,621.5 769.0,615.2 768.9,619.5 767.1,619.7 765.4,620.0 763.7,620.3 762.0,620.6 760.2,620.9 758.5,621.4 756.8,621.8 755.1,622.3 753.4,622.9 751.7,623.4 750.1,624.1 748.4,624.7 746.7,625.5 745.0,626.2 743.4,627.0 741.7,627.9 740.1,628.7 738.4,629.7 736.8,630.6" fill="url(#ca4)"/><path d="M786.0 783.3L786.0 793.8" stroke="#5a7ce6" stroke-width="3.3"/><path d="M786.0 642.1L786.0 651.4" stroke="#5a7ce6" stroke-width="3.3"/><path d="M786.0 651.4L786.0 659.6" stroke="#d6d6d6" stroke-width="3.3"/><path d="M786.0 659.6L775.0 671.4" stroke="#d6d6d6" stroke-width="3.3"/><path d="M786.0 659.6L797.0 671.4" stroke="#d6d6d6" stroke-width="3.3"/><path d="M775.0 671.4L775.0 692.9" stroke="#d6d6d6" stroke-width="3.3"/><path d="M797.0 671.4L797.0 692.9" stroke="#d6d6d6" stroke-width="3.3"/><path d="M775.0 692.9L786.0 704.1" stroke="#d6d6d6" stroke-width="3.3"/><path d="M797.0 692.9L786.0 704.1" stroke="#d6d6d6" stroke-width="3.3"/><path d="M786.0 704.1L786.0 720.9" stroke="#d6d6d6" stroke-width="3.3"/><path d="M786.0 720.9L775.0 732.6" stroke="#d6d6d6" stroke-width="3.3"/><path d="M786.0 720.9L797.0 732.6" stroke="#d6d6d6" stroke-width="3.3"/><path d="M775.0 732.6L775.0 754.4" stroke="#d6d6d6" stroke-width="3.3"/><path d="M797.0 732.6L797.0 754.4" stroke="#d6d6d6" stroke-width="3.3"/><path d="M775.0 754.4L786.0 765.6" stroke="#d6d6d6" stroke-width="3.3"/><path d="M797.0 754.4L786.0 765.6" stroke="#d6d6d6" stroke-width="3.3"/><path d="M786.0 765.6L786.0 773.9" stroke="#d6d6d6" stroke-width="3.3"/><path d="M786.0 773.9L786.0 783.3" stroke="#5a7ce6" stroke-width="3.3"/><path d="M805.0 609.1L812.6 614.0" stroke="#f46c6c" stroke-width="3.3"/><path d="M812.6 614.0L819.7 618.6" stroke="#d6d6d6" stroke-width="3.3"/><path d="M805.0 628.1L812.6 623.2" stroke="#f46c6c" stroke-width="3.3"/><path d="M812.6 623.2L819.7 618.6" stroke="#d6d6d6" stroke-width="3.3"/><path d="M819.7 618.6L837.0 618.6" stroke="#d6d6d6" stroke-width="3.3"/><path d="M837.0 618.6L848.2 607.6" stroke="#d6d6d6" stroke-width="3.3"/><path d="M837.0 618.6L848.2 629.6" stroke="#d6d6d6" stroke-width="3.3"/><path d="M848.2 607.6L870.2 607.6" stroke="#d6d6d6" stroke-width="3.3"/><path d="M848.2 629.6L870.2 629.6" stroke="#d6d6d6" stroke-width="3.3"/><path d="M870.2 607.6L881.8 618.6" stroke="#d6d6d6" stroke-width="3.3"/><path d="M870.2 629.6L881.8 618.6" stroke="#d6d6d6" stroke-width="3.3"/><path d="M881.8 618.6L899.3 618.6" stroke="#d6d6d6" stroke-width="3.3"/><path d="M899.3 618.6L906.0 613.9" stroke="#d6d6d6" stroke-width="3.3"/><path d="M906.0 613.9L913.3 608.9" stroke="#f46c6c" stroke-width="3.3"/><path d="M899.3 618.6L906.0 623.3" stroke="#d6d6d6" stroke-width="3.3"/><path d="M906.0 623.3L913.3 628.3" stroke="#f46c6c" stroke-width="3.3"/><path d="M786.0 618.6L786.0 631.7" stroke="#d3b2e6" stroke-width="3.3"/><path d="M786.0 631.7L786.0 642.1" stroke="#5a7ce6" stroke-width="3.3"/><path d="M786.0 618.6L786.0 605.6" stroke="#d3b2e6" stroke-width="3.3"/><path d="M786.0 605.6L786.0 595.3" stroke="#5a7ce6" stroke-width="3.3"/><path d="M786.0 618.6L796.9 613.2" stroke="#d3b2e6" stroke-width="3.3"/><path d="M796.9 613.2L805.0 609.1" stroke="#f46c6c" stroke-width="3.3"/><path d="M786.0 618.6L796.9 624.0" stroke="#d3b2e6" stroke-width="3.3"/><path d="M796.9 624.0L805.0 628.1" stroke="#f46c6c" stroke-width="3.3"/><path d="M786.0 618.6L776.4 610.4" stroke="#d3b2e6" stroke-width="3.3"/><path d="M776.4 610.4L769.2 604.3" stroke="#f46c6c" stroke-width="3.3"/><path d="M769.2 604.3L761.2 606.0" stroke="#f46c6c" stroke-width="3.3"/><path d="M761.2 606.0L755.4 607.2" stroke="#e2e2e2" stroke-width="3.3"/><circle cx="786.0" cy="642.1" r="5.0" fill="url(#mN)"/><circle cx="786.0" cy="659.6" r="3.9" fill="url(#mC)"/><circle cx="775.0" cy="671.4" r="3.9" fill="url(#mC)"/><circle cx="797.0" cy="671.4" r="3.9" fill="url(#mC)"/><circle cx="775.0" cy="692.9" r="3.9" fill="url(#mC)"/><circle cx="797.0" cy="692.9" r="3.9" fill="url(#mC)"/><circle cx="786.0" cy="704.1" r="3.9" fill="url(#mC)"/><circle cx="786.0" cy="720.9" r="3.9" fill="url(#mC)"/><circle cx="775.0" cy="732.6" r="3.9" fill="url(#mC)"/><circle cx="797.0" cy="732.6" r="3.9" fill="url(#mC)"/><circle cx="775.0" cy="754.4" r="3.9" fill="url(#mC)"/><circle cx="797.0" cy="754.4" r="3.9" fill="url(#mC)"/><circle cx="786.0" cy="765.6" r="3.9" fill="url(#mC)"/><circle cx="786.0" cy="783.3" r="5.0" fill="url(#mN)"/><circle cx="805.0" cy="609.1" r="4.6" fill="url(#mO)"/><circle cx="805.0" cy="628.1" r="4.6" fill="url(#mO)"/><circle cx="819.7" cy="618.6" r="3.9" fill="url(#mC)"/><circle cx="837.0" cy="618.6" r="3.9" fill="url(#mC)"/><circle cx="848.2" cy="607.6" r="3.9" fill="url(#mC)"/><circle cx="848.2" cy="629.6" r="3.9" fill="url(#mC)"/><circle cx="870.2" cy="607.6" r="3.9" fill="url(#mC)"/><circle cx="870.2" cy="629.6" r="3.9" fill="url(#mC)"/><circle cx="881.8" cy="618.6" r="3.9" fill="url(#mC)"/><circle cx="899.3" cy="618.6" r="3.9" fill="url(#mC)"/><circle cx="913.3" cy="608.9" r="4.6" fill="url(#mO)"/><circle cx="913.3" cy="628.3" r="4.6" fill="url(#mO)"/><circle cx="786.0" cy="595.3" r="5.0" fill="url(#mN)"/><circle cx="786.0" cy="618.6" r="7.7" fill="url(#mFe)"/><circle cx="769.2" cy="604.3" r="4.6" fill="url(#mO)"/><circle cx="755.4" cy="607.2" r="2.3" fill="url(#mH)" stroke="#cfcfcf" stroke-width="0.8"/><path d="M1152.7 630.3L1146.8 626.1" stroke="#f1da7c" stroke-width="3.3"/><path d="M1146.8 626.1L1141.0 622.0" stroke="#f46c6c" stroke-width="3.3"/><path d="M1152.7 630.3L1154.9 623.6" stroke="#f1da7c" stroke-width="3.3"/><path d="M1154.9 623.6L1157.0 617.0" stroke="#f46c6c" stroke-width="3.3"/><path d="M1152.7 630.3L1147.1 636.5" stroke="#f1da7c" stroke-width="3.3"/><path d="M1147.1 636.5L1141.7 642.5" stroke="#f46c6c" stroke-width="3.3"/><path d="M1152.7 630.3L1160.0 631.1" stroke="#f1da7c" stroke-width="3.3"/><path d="M1160.0 631.1L1167.2 631.8" stroke="#f46c6c" stroke-width="3.3"/><path d="M1167.2 631.8L1177.2 637.6" stroke="#f46c6c" stroke-width="3.3"/><path d="M1177.2 637.6L1184.4 636.8" stroke="#f46c6c" stroke-width="3.3"/><path d="M1184.4 636.8L1191.7 635.9" stroke="#f1da7c" stroke-width="3.3"/><path d="M1191.7 635.9L1192.9 628.4" stroke="#f1da7c" stroke-width="3.3"/><path d="M1192.9 628.4L1194.1 621.0" stroke="#f46c6c" stroke-width="3.3"/><path d="M1191.7 635.9L1199.5 633.3" stroke="#f1da7c" stroke-width="3.3"/><path d="M1199.5 633.3L1207.2 630.7" stroke="#f46c6c" stroke-width="3.3"/><path d="M1191.7 635.9L1196.3 641.9" stroke="#f1da7c" stroke-width="3.3"/><path d="M1196.3 641.9L1200.8 647.7" stroke="#f46c6c" stroke-width="3.3"/><circle cx="1152.7" cy="630.3" r="4.8" fill="url(#mS)"/><circle cx="1141.0" cy="622.0" r="4.6" fill="url(#mO)"/><circle cx="1157.0" cy="617.0" r="4.6" fill="url(#mO)"/><circle cx="1141.7" cy="642.5" r="4.6" fill="url(#mO)"/><circle cx="1167.2" cy="631.8" r="4.6" fill="url(#mO)"/><circle cx="1177.2" cy="637.6" r="4.6" fill="url(#mO)"/><circle cx="1191.7" cy="635.9" r="4.8" fill="url(#mS)"/><circle cx="1194.1" cy="621.0" r="4.6" fill="url(#mO)"/><circle cx="1207.2" cy="630.7" r="4.6" fill="url(#mO)"/><circle cx="1200.8" cy="647.7" r="4.6" fill="url(#mO)"/><path d="M1122 658.300L1133.500 649.100" stroke="#d3b2e6" stroke-width="3.3"/><path d="M1133.500 649.100L1141.600 642.700" stroke="#f46c6c" stroke-width="3.3"/><path d="M1229.200 619.500L1216.500 626" stroke="#d3b2e6" stroke-width="3.3"/><path d="M1216.500 626L1207.200 630.700" stroke="#f46c6c" stroke-width="3.3"/><circle cx="1141.600" cy="642.700" r="4.500" fill="url(#mO)"/><circle cx="1207.200" cy="630.700" r="4.500" fill="url(#mO)"/><path d="M1122.0 493.6L1122.0 483.1" stroke="#5a7ce6" stroke-width="3.3"/><path d="M1122.0 634.8L1122.0 625.5" stroke="#5a7ce6" stroke-width="3.3"/><path d="M1122.0 625.5L1122.0 617.3" stroke="#d6d6d6" stroke-width="3.3"/><path d="M1122.0 617.3L1111.0 605.5" stroke="#d6d6d6" stroke-width="3.3"/><path d="M1122.0 617.3L1133.0 605.5" stroke="#d6d6d6" stroke-width="3.3"/><path d="M1111.0 605.5L1111.0 584.0" stroke="#d6d6d6" stroke-width="3.3"/><path d="M1133.0 605.5L1133.0 584.0" stroke="#d6d6d6" stroke-width="3.3"/><path d="M1111.0 584.0L1122.0 572.8" stroke="#d6d6d6" stroke-width="3.3"/><path d="M1133.0 584.0L1122.0 572.8" stroke="#d6d6d6" stroke-width="3.3"/><path d="M1122.0 572.8L1122.0 556.0" stroke="#d6d6d6" stroke-width="3.3"/><path d="M1122.0 556.0L1111.0 544.3" stroke="#d6d6d6" stroke-width="3.3"/><path d="M1122.0 556.0L1133.0 544.3" stroke="#d6d6d6" stroke-width="3.3"/><path d="M1111.0 544.3L1111.0 522.5" stroke="#d6d6d6" stroke-width="3.3"/><path d="M1133.0 544.3L1133.0 522.5" stroke="#d6d6d6" stroke-width="3.3"/><path d="M1111.0 522.5L1122.0 511.3" stroke="#d6d6d6" stroke-width="3.3"/><path d="M1133.0 522.5L1122.0 511.3" stroke="#d6d6d6" stroke-width="3.3"/><path d="M1122.0 511.3L1122.0 503.0" stroke="#d6d6d6" stroke-width="3.3"/><path d="M1122.0 503.0L1122.0 493.6" stroke="#5a7ce6" stroke-width="3.3"/><path d="M1103.0 648.8L1095.4 653.7" stroke="#f46c6c" stroke-width="3.3"/><path d="M1095.4 653.7L1088.3 658.3" stroke="#d6d6d6" stroke-width="3.3"/><path d="M1103.0 667.8L1095.4 662.9" stroke="#f46c6c" stroke-width="3.3"/><path d="M1095.4 662.9L1088.3 658.3" stroke="#d6d6d6" stroke-width="3.3"/><path d="M1088.3 658.3L1071.0 658.3" stroke="#d6d6d6" stroke-width="3.3"/><path d="M1071.0 658.3L1059.8 647.3" stroke="#d6d6d6" stroke-width="3.3"/><path d="M1071.0 658.3L1059.8 669.3" stroke="#d6d6d6" stroke-width="3.3"/><path d="M1059.8 647.3L1037.8 647.3" stroke="#d6d6d6" stroke-width="3.3"/><path d="M1059.8 669.3L1037.8 669.3" stroke="#d6d6d6" stroke-width="3.3"/><path d="M1037.8 647.3L1026.2 658.3" stroke="#d6d6d6" stroke-width="3.3"/><path d="M1037.8 669.3L1026.2 658.3" stroke="#d6d6d6" stroke-width="3.3"/><path d="M1026.2 658.3L1008.7 658.3" stroke="#d6d6d6" stroke-width="3.3"/><path d="M1008.7 658.3L1002.0 653.6" stroke="#d6d6d6" stroke-width="3.3"/><path d="M1002.0 653.6L994.7 648.6" stroke="#f46c6c" stroke-width="3.3"/><path d="M1008.7 658.3L1002.0 663.0" stroke="#d6d6d6" stroke-width="3.3"/><path d="M1002.0 663.0L994.7 668.0" stroke="#f46c6c" stroke-width="3.3"/><path d="M1122.0 658.3L1122.0 645.2" stroke="#d3b2e6" stroke-width="3.3"/><path d="M1122.0 645.2L1122.0 634.8" stroke="#5a7ce6" stroke-width="3.3"/><path d="M1122.0 658.3L1122.0 671.3" stroke="#d3b2e6" stroke-width="3.3"/><path d="M1122.0 671.3L1122.0 681.6" stroke="#5a7ce6" stroke-width="3.3"/><path d="M1122.0 658.3L1111.1 652.9" stroke="#d3b2e6" stroke-width="3.3"/><path d="M1111.1 652.9L1103.0 648.8" stroke="#f46c6c" stroke-width="3.3"/><path d="M1122.0 658.3L1111.1 663.7" stroke="#d3b2e6" stroke-width="3.3"/><path d="M1111.1 663.7L1103.0 667.8" stroke="#f46c6c" stroke-width="3.3"/><path d="M1122.0 658.3L1132.2 666.0" stroke="#d3b2e6" stroke-width="3.3"/><path d="M1132.2 666.0L1140.0 671.9" stroke="#f46c6c" stroke-width="3.3"/><path d="M1140.0 671.9L1146.4 667.1" stroke="#f46c6c" stroke-width="3.3"/><path d="M1146.4 667.1L1150.9 663.7" stroke="#e2e2e2" stroke-width="3.3"/><circle cx="1122.0" cy="634.8" r="5.0" fill="url(#mN)"/><circle cx="1122.0" cy="617.3" r="3.9" fill="url(#mC)"/><circle cx="1111.0" cy="605.5" r="3.9" fill="url(#mC)"/><circle cx="1133.0" cy="605.5" r="3.9" fill="url(#mC)"/><circle cx="1111.0" cy="584.0" r="3.9" fill="url(#mC)"/><circle cx="1133.0" cy="584.0" r="3.9" fill="url(#mC)"/><circle cx="1122.0" cy="572.8" r="3.9" fill="url(#mC)"/><circle cx="1122.0" cy="556.0" r="3.9" fill="url(#mC)"/><circle cx="1111.0" cy="544.3" r="3.9" fill="url(#mC)"/><circle cx="1133.0" cy="544.3" r="3.9" fill="url(#mC)"/><circle cx="1111.0" cy="522.5" r="3.9" fill="url(#mC)"/><circle cx="1133.0" cy="522.5" r="3.9" fill="url(#mC)"/><circle cx="1122.0" cy="511.3" r="3.9" fill="url(#mC)"/><circle cx="1122.0" cy="493.6" r="5.0" fill="url(#mN)"/><circle cx="1103.0" cy="648.8" r="4.6" fill="url(#mO)"/><circle cx="1103.0" cy="667.8" r="4.6" fill="url(#mO)"/><circle cx="1088.3" cy="658.3" r="3.9" fill="url(#mC)"/><circle cx="1071.0" cy="658.3" r="3.9" fill="url(#mC)"/><circle cx="1059.8" cy="647.3" r="3.9" fill="url(#mC)"/><circle cx="1059.8" cy="669.3" r="3.9" fill="url(#mC)"/><circle cx="1037.8" cy="647.3" r="3.9" fill="url(#mC)"/><circle cx="1037.8" cy="669.3" r="3.9" fill="url(#mC)"/><circle cx="1026.2" cy="658.3" r="3.9" fill="url(#mC)"/><circle cx="1008.7" cy="658.3" r="3.9" fill="url(#mC)"/><circle cx="994.7" cy="648.6" r="4.6" fill="url(#mO)"/><circle cx="994.7" cy="668.0" r="4.6" fill="url(#mO)"/><circle cx="1122.0" cy="681.6" r="5.0" fill="url(#mN)"/><circle cx="1122.0" cy="658.3" r="7.7" fill="url(#mFe)"/><circle cx="1140.0" cy="671.9" r="4.6" fill="url(#mO)"/><circle cx="1150.9" cy="663.7" r="2.3" fill="url(#mH)" stroke="#cfcfcf" stroke-width="0.8"/><path d="M1229.2 784.2L1229.2 794.7" stroke="#5a7ce6" stroke-width="3.3"/><path d="M1229.2 643.0L1229.2 652.3" stroke="#5a7ce6" stroke-width="3.3"/><path d="M1229.2 652.3L1229.2 660.5" stroke="#d6d6d6" stroke-width="3.3"/><path d="M1229.2 660.5L1218.2 672.3" stroke="#d6d6d6" stroke-width="3.3"/><path d="M1229.2 660.5L1240.2 672.3" stroke="#d6d6d6" stroke-width="3.3"/><path d="M1218.2 672.3L1218.2 693.8" stroke="#d6d6d6" stroke-width="3.3"/><path d="M1240.2 672.3L1240.2 693.8" stroke="#d6d6d6" stroke-width="3.3"/><path d="M1218.2 693.8L1229.2 705.0" stroke="#d6d6d6" stroke-width="3.3"/><path d="M1240.2 693.8L1229.2 705.0" stroke="#d6d6d6" stroke-width="3.3"/><path d="M1229.2 705.0L1229.2 721.8" stroke="#d6d6d6" stroke-width="3.3"/><path d="M1229.2 721.8L1218.2 733.5" stroke="#d6d6d6" stroke-width="3.3"/><path d="M1229.2 721.8L1240.2 733.5" stroke="#d6d6d6" stroke-width="3.3"/><path d="M1218.2 733.5L1218.2 755.3" stroke="#d6d6d6" stroke-width="3.3"/><path d="M1240.2 733.5L1240.2 755.3" stroke="#d6d6d6" stroke-width="3.3"/><path d="M1218.2 755.3L1229.2 766.5" stroke="#d6d6d6" stroke-width="3.3"/><path d="M1240.2 755.3L1229.2 766.5" stroke="#d6d6d6" stroke-width="3.3"/><path d="M1229.2 766.5L1229.2 774.8" stroke="#d6d6d6" stroke-width="3.3"/><path d="M1229.2 774.8L1229.2 784.2" stroke="#5a7ce6" stroke-width="3.3"/><path d="M1248.2 610.0L1255.8 614.9" stroke="#f46c6c" stroke-width="3.3"/><path d="M1255.8 614.9L1262.9 619.5" stroke="#d6d6d6" stroke-width="3.3"/><path d="M1248.2 629.0L1255.8 624.1" stroke="#f46c6c" stroke-width="3.3"/><path d="M1255.8 624.1L1262.9 619.5" stroke="#d6d6d6" stroke-width="3.3"/><path d="M1262.9 619.5L1280.2 619.5" stroke="#d6d6d6" stroke-width="3.3"/><path d="M1280.2 619.5L1291.4 608.5" stroke="#d6d6d6" stroke-width="3.3"/><path d="M1280.2 619.5L1291.4 630.5" stroke="#d6d6d6" stroke-width="3.3"/><path d="M1291.4 608.5L1313.4 608.5" stroke="#d6d6d6" stroke-width="3.3"/><path d="M1291.4 630.5L1313.4 630.5" stroke="#d6d6d6" stroke-width="3.3"/><path d="M1313.4 608.5L1325.0 619.5" stroke="#d6d6d6" stroke-width="3.3"/><path d="M1313.4 630.5L1325.0 619.5" stroke="#d6d6d6" stroke-width="3.3"/><path d="M1325.0 619.5L1342.5 619.5" stroke="#d6d6d6" stroke-width="3.3"/><path d="M1342.5 619.5L1349.2 614.8" stroke="#d6d6d6" stroke-width="3.3"/><path d="M1349.2 614.8L1356.5 609.8" stroke="#f46c6c" stroke-width="3.3"/><path d="M1342.5 619.5L1349.2 624.2" stroke="#d6d6d6" stroke-width="3.3"/><path d="M1349.2 624.2L1356.5 629.2" stroke="#f46c6c" stroke-width="3.3"/><path d="M1229.2 619.5L1229.2 632.6" stroke="#d3b2e6" stroke-width="3.3"/><path d="M1229.2 632.6L1229.2 643.0" stroke="#5a7ce6" stroke-width="3.3"/><path d="M1229.2 619.5L1229.2 606.5" stroke="#d3b2e6" stroke-width="3.3"/><path d="M1229.2 606.5L1229.2 596.2" stroke="#5a7ce6" stroke-width="3.3"/><path d="M1229.2 619.5L1240.1 614.1" stroke="#d3b2e6" stroke-width="3.3"/><path d="M1240.1 614.1L1248.2 610.0" stroke="#f46c6c" stroke-width="3.3"/><path d="M1229.2 619.5L1240.1 624.9" stroke="#d3b2e6" stroke-width="3.3"/><path d="M1240.1 624.9L1248.2 629.0" stroke="#f46c6c" stroke-width="3.3"/><path d="M1229.2 619.5L1219.4 611.7" stroke="#d3b2e6" stroke-width="3.3"/><path d="M1219.4 611.7L1212.1 605.8" stroke="#f46c6c" stroke-width="3.3"/><path d="M1212.1 605.8L1204.1 607.4" stroke="#f46c6c" stroke-width="3.3"/><path d="M1204.1 607.4L1198.4 608.5" stroke="#e2e2e2" stroke-width="3.3"/><circle cx="1229.2" cy="643.0" r="5.0" fill="url(#mN)"/><circle cx="1229.2" cy="660.5" r="3.9" fill="url(#mC)"/><circle cx="1218.2" cy="672.3" r="3.9" fill="url(#mC)"/><circle cx="1240.2" cy="672.3" r="3.9" fill="url(#mC)"/><circle cx="1218.2" cy="693.8" r="3.9" fill="url(#mC)"/><circle cx="1240.2" cy="693.8" r="3.9" fill="url(#mC)"/><circle cx="1229.2" cy="705.0" r="3.9" fill="url(#mC)"/><circle cx="1229.2" cy="721.8" r="3.9" fill="url(#mC)"/><circle cx="1218.2" cy="733.5" r="3.9" fill="url(#mC)"/><circle cx="1240.2" cy="733.5" r="3.9" fill="url(#mC)"/><circle cx="1218.2" cy="755.3" r="3.9" fill="url(#mC)"/><circle cx="1240.2" cy="755.3" r="3.9" fill="url(#mC)"/><circle cx="1229.2" cy="766.5" r="3.9" fill="url(#mC)"/><circle cx="1229.2" cy="784.2" r="5.0" fill="url(#mN)"/><circle cx="1248.2" cy="610.0" r="4.6" fill="url(#mO)"/><circle cx="1248.2" cy="629.0" r="4.6" fill="url(#mO)"/><circle cx="1262.9" cy="619.5" r="3.9" fill="url(#mC)"/><circle cx="1280.2" cy="619.5" r="3.9" fill="url(#mC)"/><circle cx="1291.4" cy="608.5" r="3.9" fill="url(#mC)"/><circle cx="1291.4" cy="630.5" r="3.9" fill="url(#mC)"/><circle cx="1313.4" cy="608.5" r="3.9" fill="url(#mC)"/><circle cx="1313.4" cy="630.5" r="3.9" fill="url(#mC)"/><circle cx="1325.0" cy="619.5" r="3.9" fill="url(#mC)"/><circle cx="1342.5" cy="619.5" r="3.9" fill="url(#mC)"/><circle cx="1356.5" cy="609.8" r="4.6" fill="url(#mO)"/><circle cx="1356.5" cy="629.2" r="4.6" fill="url(#mO)"/><circle cx="1229.2" cy="596.2" r="5.0" fill="url(#mN)"/><circle cx="1229.2" cy="619.5" r="7.7" fill="url(#mFe)"/><circle cx="1212.1" cy="605.8" r="4.6" fill="url(#mO)"/><circle cx="1198.4" cy="608.5" r="2.3" fill="url(#mH)" stroke="#cfcfcf" stroke-width="0.8"/><path d="M1574.7 493.4L1574.7 482.9" stroke="#5a7ce6" stroke-width="3.3"/><path d="M1574.7 634.6L1574.7 625.3" stroke="#5a7ce6" stroke-width="3.3"/><path d="M1574.7 625.3L1574.7 617.1" stroke="#d6d6d6" stroke-width="3.3"/><path d="M1574.7 617.1L1563.7 605.3" stroke="#d6d6d6" stroke-width="3.3"/><path d="M1574.7 617.1L1585.7 605.3" stroke="#d6d6d6" stroke-width="3.3"/><path d="M1563.7 605.3L1563.7 583.8" stroke="#d6d6d6" stroke-width="3.3"/><path d="M1585.7 605.3L1585.7 583.8" stroke="#d6d6d6" stroke-width="3.3"/><path d="M1563.7 583.8L1574.7 572.6" stroke="#d6d6d6" stroke-width="3.3"/><path d="M1585.7 583.8L1574.7 572.6" stroke="#d6d6d6" stroke-width="3.3"/><path d="M1574.7 572.6L1574.7 555.8" stroke="#d6d6d6" stroke-width="3.3"/><path d="M1574.7 555.8L1563.7 544.1" stroke="#d6d6d6" stroke-width="3.3"/><path d="M1574.7 555.8L1585.7 544.1" stroke="#d6d6d6" stroke-width="3.3"/><path d="M1563.7 544.1L1563.7 522.3" stroke="#d6d6d6" stroke-width="3.3"/><path d="M1585.7 544.1L1585.7 522.3" stroke="#d6d6d6" stroke-width="3.3"/><path d="M1563.7 522.3L1574.7 511.1" stroke="#d6d6d6" stroke-width="3.3"/><path d="M1585.7 522.3L1574.7 511.1" stroke="#d6d6d6" stroke-width="3.3"/><path d="M1574.7 511.1L1574.7 502.8" stroke="#d6d6d6" stroke-width="3.3"/><path d="M1574.7 502.8L1574.7 493.4" stroke="#5a7ce6" stroke-width="3.3"/><path d="M1547.1 650.2L1539.5 655.1" stroke="#f46c6c" stroke-width="3.3"/><path d="M1539.5 655.1L1532.4 659.7" stroke="#d6d6d6" stroke-width="3.3"/><path d="M1547.1 669.2L1539.5 664.3" stroke="#f46c6c" stroke-width="3.3"/><path d="M1539.5 664.3L1532.4 659.7" stroke="#d6d6d6" stroke-width="3.3"/><path d="M1532.4 659.7L1515.1 659.7" stroke="#d6d6d6" stroke-width="3.3"/><path d="M1515.1 659.7L1503.9 648.7" stroke="#d6d6d6" stroke-width="3.3"/><path d="M1515.1 659.7L1503.9 670.7" stroke="#d6d6d6" stroke-width="3.3"/><path d="M1503.9 648.7L1481.9 648.7" stroke="#d6d6d6" stroke-width="3.3"/><path d="M1503.9 670.7L1481.9 670.7" stroke="#d6d6d6" stroke-width="3.3"/><path d="M1481.9 648.7L1470.3 659.7" stroke="#d6d6d6" stroke-width="3.3"/><path d="M1481.9 670.7L1470.3 659.7" stroke="#d6d6d6" stroke-width="3.3"/><path d="M1470.3 659.7L1452.8 659.7" stroke="#d6d6d6" stroke-width="3.3"/><path d="M1452.8 659.7L1446.1 655.0" stroke="#d6d6d6" stroke-width="3.3"/><path d="M1446.1 655.0L1438.8 650.0" stroke="#f46c6c" stroke-width="3.3"/><path d="M1452.8 659.7L1446.1 664.4" stroke="#d6d6d6" stroke-width="3.3"/><path d="M1446.1 664.4L1438.8 669.4" stroke="#f46c6c" stroke-width="3.3"/><path d="M1574.7 659.7L1574.7 641.8" stroke="#a9e0c6" stroke-width="3.3"/><path d="M1574.7 641.8L1574.7 634.6" stroke="#5a7ce6" stroke-width="3.3"/><path d="M1574.7 659.7L1574.7 680.6" stroke="#a9e0c6" stroke-width="3.3"/><path d="M1574.7 680.6L1574.7 690.7" stroke="#5a7ce6" stroke-width="3.3"/><path d="M1574.7 659.7L1555.6 653.1" stroke="#a9e0c6" stroke-width="3.3"/><path d="M1555.6 653.1L1547.1 650.2" stroke="#f46c6c" stroke-width="3.3"/><path d="M1574.7 659.7L1555.6 666.3" stroke="#a9e0c6" stroke-width="3.3"/><path d="M1555.6 666.3L1547.1 669.2" stroke="#f46c6c" stroke-width="3.3"/><path d="M1574.7 659.7L1590.6 672.9" stroke="#a9e0c6" stroke-width="3.3"/><path d="M1590.6 672.9L1597.8 678.9" stroke="#f46c6c" stroke-width="3.3"/><path d="M1597.8 678.9L1604.1 674.0" stroke="#f46c6c" stroke-width="3.3"/><path d="M1604.1 674.0L1608.5 670.5" stroke="#e2e2e2" stroke-width="3.3"/><circle cx="1574.7" cy="634.6" r="5.0" fill="url(#mN)"/><circle cx="1574.7" cy="617.1" r="3.9" fill="url(#mC)"/><circle cx="1563.7" cy="605.3" r="3.9" fill="url(#mC)"/><circle cx="1585.7" cy="605.3" r="3.9" fill="url(#mC)"/><circle cx="1563.7" cy="583.8" r="3.9" fill="url(#mC)"/><circle cx="1585.7" cy="583.8" r="3.9" fill="url(#mC)"/><circle cx="1574.7" cy="572.6" r="3.9" fill="url(#mC)"/><circle cx="1574.7" cy="555.8" r="3.9" fill="url(#mC)"/><circle cx="1563.7" cy="544.1" r="3.9" fill="url(#mC)"/><circle cx="1585.7" cy="544.1" r="3.9" fill="url(#mC)"/><circle cx="1563.7" cy="522.3" r="3.9" fill="url(#mC)"/><circle cx="1585.7" cy="522.3" r="3.9" fill="url(#mC)"/><circle cx="1574.7" cy="511.1" r="3.9" fill="url(#mC)"/><circle cx="1574.7" cy="493.4" r="5.0" fill="url(#mN)"/><circle cx="1547.1" cy="650.2" r="4.6" fill="url(#mO)"/><circle cx="1547.1" cy="669.2" r="4.6" fill="url(#mO)"/><circle cx="1532.4" cy="659.7" r="3.9" fill="url(#mC)"/><circle cx="1515.1" cy="659.7" r="3.9" fill="url(#mC)"/><circle cx="1503.9" cy="648.7" r="3.9" fill="url(#mC)"/><circle cx="1503.9" cy="670.7" r="3.9" fill="url(#mC)"/><circle cx="1481.9" cy="648.7" r="3.9" fill="url(#mC)"/><circle cx="1481.9" cy="670.7" r="3.9" fill="url(#mC)"/><circle cx="1470.3" cy="659.7" r="3.9" fill="url(#mC)"/><circle cx="1452.8" cy="659.7" r="3.9" fill="url(#mC)"/><circle cx="1438.8" cy="650.0" r="4.6" fill="url(#mO)"/><circle cx="1438.8" cy="669.4" r="4.6" fill="url(#mO)"/><circle cx="1574.7" cy="690.7" r="5.0" fill="url(#mN)"/><circle cx="1574.7" cy="659.7" r="15.8" fill="url(#mF4)"/><circle cx="1597.8" cy="678.9" r="4.6" fill="url(#mO)"/><circle cx="1608.5" cy="670.5" r="2.3" fill="url(#mH)" stroke="#cfcfcf" stroke-width="0.8"/><path d="M1760.6 830.4L1760.6 840.9" stroke="#5a7ce6" stroke-width="3.3"/><path d="M1760.6 689.2L1760.6 698.5" stroke="#5a7ce6" stroke-width="3.3"/><path d="M1760.6 698.5L1760.6 706.7" stroke="#d6d6d6" stroke-width="3.3"/><path d="M1760.6 706.7L1749.6 718.5" stroke="#d6d6d6" stroke-width="3.3"/><path d="M1760.6 706.7L1771.6 718.5" stroke="#d6d6d6" stroke-width="3.3"/><path d="M1749.6 718.5L1749.6 740.0" stroke="#d6d6d6" stroke-width="3.3"/><path d="M1771.6 718.5L1771.6 740.0" stroke="#d6d6d6" stroke-width="3.3"/><path d="M1749.6 740.0L1760.6 751.2" stroke="#d6d6d6" stroke-width="3.3"/><path d="M1771.6 740.0L1760.6 751.2" stroke="#d6d6d6" stroke-width="3.3"/><path d="M1760.6 751.2L1760.6 768.0" stroke="#d6d6d6" stroke-width="3.3"/><path d="M1760.6 768.0L1749.6 779.7" stroke="#d6d6d6" stroke-width="3.3"/><path d="M1760.6 768.0L1771.6 779.7" stroke="#d6d6d6" stroke-width="3.3"/><path d="M1749.6 779.7L1749.6 801.5" stroke="#d6d6d6" stroke-width="3.3"/><path d="M1771.6 779.7L1771.6 801.5" stroke="#d6d6d6" stroke-width="3.3"/><path d="M1749.6 801.5L1760.6 812.7" stroke="#d6d6d6" stroke-width="3.3"/><path d="M1771.6 801.5L1760.6 812.7" stroke="#d6d6d6" stroke-width="3.3"/><path d="M1760.6 812.7L1760.6 821.0" stroke="#d6d6d6" stroke-width="3.3"/><path d="M1760.6 821.0L1760.6 830.4" stroke="#5a7ce6" stroke-width="3.3"/><path d="M1787.2 649.8L1794.8 654.7" stroke="#f46c6c" stroke-width="3.3"/><path d="M1794.8 654.7L1801.9 659.3" stroke="#d6d6d6" stroke-width="3.3"/><path d="M1787.2 668.8L1794.8 663.9" stroke="#f46c6c" stroke-width="3.3"/><path d="M1794.8 663.9L1801.9 659.3" stroke="#d6d6d6" stroke-width="3.3"/><path d="M1801.9 659.3L1819.2 659.3" stroke="#d6d6d6" stroke-width="3.3"/><path d="M1819.2 659.3L1830.4 648.3" stroke="#d6d6d6" stroke-width="3.3"/><path d="M1819.2 659.3L1830.4 670.3" stroke="#d6d6d6" stroke-width="3.3"/><path d="M1830.4 648.3L1852.4 648.3" stroke="#d6d6d6" stroke-width="3.3"/><path d="M1830.4 670.3L1852.4 670.3" stroke="#d6d6d6" stroke-width="3.3"/><path d="M1852.4 648.3L1864.0 659.3" stroke="#d6d6d6" stroke-width="3.3"/><path d="M1852.4 670.3L1864.0 659.3" stroke="#d6d6d6" stroke-width="3.3"/><path d="M1864.0 659.3L1881.5 659.3" stroke="#d6d6d6" stroke-width="3.3"/><path d="M1881.5 659.3L1888.2 654.6" stroke="#d6d6d6" stroke-width="3.3"/><path d="M1888.2 654.6L1895.5 649.6" stroke="#f46c6c" stroke-width="3.3"/><path d="M1881.5 659.3L1888.2 664.0" stroke="#d6d6d6" stroke-width="3.3"/><path d="M1888.2 664.0L1895.5 669.0" stroke="#f46c6c" stroke-width="3.3"/><path d="M1760.6 659.3L1760.6 679.6" stroke="#a9e0c6" stroke-width="3.3"/><path d="M1760.6 679.6L1760.6 689.2" stroke="#5a7ce6" stroke-width="3.3"/><path d="M1760.6 659.3L1760.6 639.0" stroke="#a9e0c6" stroke-width="3.3"/><path d="M1760.6 639.0L1760.6 629.5" stroke="#5a7ce6" stroke-width="3.3"/><path d="M1760.6 659.3L1779.2 652.7" stroke="#a9e0c6" stroke-width="3.3"/><path d="M1779.2 652.7L1787.2 649.8" stroke="#f46c6c" stroke-width="3.3"/><path d="M1760.6 659.3L1779.2 665.9" stroke="#a9e0c6" stroke-width="3.3"/><path d="M1779.2 665.9L1787.2 668.8" stroke="#f46c6c" stroke-width="3.3"/><path d="M1760.6 659.3L1744.9 646.3" stroke="#a9e0c6" stroke-width="3.3"/><path d="M1744.9 646.3L1737.9 640.5" stroke="#f46c6c" stroke-width="3.3"/><path d="M1737.9 640.5L1730.2 642.2" stroke="#f46c6c" stroke-width="3.3"/><path d="M1730.2 642.2L1724.8 643.4" stroke="#e2e2e2" stroke-width="3.3"/><circle cx="1760.6" cy="689.2" r="5.0" fill="url(#mN)"/><circle cx="1760.6" cy="706.7" r="3.9" fill="url(#mC)"/><circle cx="1749.6" cy="718.5" r="3.9" fill="url(#mC)"/><circle cx="1771.6" cy="718.5" r="3.9" fill="url(#mC)"/><circle cx="1749.6" cy="740.0" r="3.9" fill="url(#mC)"/><circle cx="1771.6" cy="740.0" r="3.9" fill="url(#mC)"/><circle cx="1760.6" cy="751.2" r="3.9" fill="url(#mC)"/><circle cx="1760.6" cy="768.0" r="3.9" fill="url(#mC)"/><circle cx="1749.6" cy="779.7" r="3.9" fill="url(#mC)"/><circle cx="1771.6" cy="779.7" r="3.9" fill="url(#mC)"/><circle cx="1749.6" cy="801.5" r="3.9" fill="url(#mC)"/><circle cx="1771.6" cy="801.5" r="3.9" fill="url(#mC)"/><circle cx="1760.6" cy="812.7" r="3.9" fill="url(#mC)"/><circle cx="1760.6" cy="830.4" r="5.0" fill="url(#mN)"/><circle cx="1787.2" cy="649.8" r="4.6" fill="url(#mO)"/><circle cx="1787.2" cy="668.8" r="4.6" fill="url(#mO)"/><circle cx="1801.9" cy="659.3" r="3.9" fill="url(#mC)"/><circle cx="1819.2" cy="659.3" r="3.9" fill="url(#mC)"/><circle cx="1830.4" cy="648.3" r="3.9" fill="url(#mC)"/><circle cx="1830.4" cy="670.3" r="3.9" fill="url(#mC)"/><circle cx="1852.4" cy="648.3" r="3.9" fill="url(#mC)"/><circle cx="1852.4" cy="670.3" r="3.9" fill="url(#mC)"/><circle cx="1864.0" cy="659.3" r="3.9" fill="url(#mC)"/><circle cx="1881.5" cy="659.3" r="3.9" fill="url(#mC)"/><circle cx="1895.5" cy="649.6" r="4.6" fill="url(#mO)"/><circle cx="1895.5" cy="669.0" r="4.6" fill="url(#mO)"/><circle cx="1760.6" cy="629.5" r="5.0" fill="url(#mN)"/><circle cx="1760.6" cy="659.3" r="15.8" fill="url(#mF4)"/><circle cx="1737.9" cy="640.5" r="4.6" fill="url(#mO)"/><circle cx="1724.8" cy="643.4" r="2.3" fill="url(#mH)" stroke="#cfcfcf" stroke-width="0.8"/><path d="M1633.3 603.2L1627.1 599.0" stroke="#f1da7c" stroke-width="3.3"/><path d="M1627.1 599.0L1621.0 595.0" stroke="#f46c6c" stroke-width="3.3"/><path d="M1633.3 603.2L1635.5 596.4" stroke="#f1da7c" stroke-width="3.3"/><path d="M1635.5 596.4L1637.7 589.8" stroke="#f46c6c" stroke-width="3.3"/><path d="M1633.3 603.2L1640.6 603.9" stroke="#f1da7c" stroke-width="3.3"/><path d="M1640.6 603.9L1647.8 604.6" stroke="#f46c6c" stroke-width="3.3"/><path d="M1633.3 603.2L1627.5 609.6" stroke="#f1da7c" stroke-width="3.3"/><path d="M1627.5 609.6L1621.9 615.8" stroke="#f46c6c" stroke-width="3.3"/><circle cx="1633.3" cy="603.2" r="4.8" fill="url(#mS)"/><circle cx="1621.0" cy="595.0" r="4.6" fill="url(#mO)"/><circle cx="1637.7" cy="589.8" r="4.6" fill="url(#mO)"/><circle cx="1647.8" cy="604.6" r="4.6" fill="url(#mO)"/><circle cx="1621.9" cy="615.8" r="4.6" fill="url(#mO)"/><path d="M1701.8 604.1L1703.1 596.6" stroke="#f1da7c" stroke-width="3.3"/><path d="M1703.1 596.6L1704.4 589.2" stroke="#f46c6c" stroke-width="3.3"/><path d="M1701.8 604.1L1707.4 602.3" stroke="#f1da7c" stroke-width="3.3"/><path d="M1707.4 602.3L1712.8 600.6" stroke="#f46c6c" stroke-width="3.3"/><path d="M1701.8 604.1L1695.0 605.0" stroke="#f1da7c" stroke-width="3.3"/><path d="M1695.0 605.0L1688.4 605.8" stroke="#f46c6c" stroke-width="3.3"/><path d="M1701.8 604.1L1706.5 610.1" stroke="#f1da7c" stroke-width="3.3"/><path d="M1706.5 610.1L1711.1 616.0" stroke="#f46c6c" stroke-width="3.3"/><circle cx="1701.8" cy="604.1" r="4.8" fill="url(#mS)"/><circle cx="1704.4" cy="589.2" r="4.6" fill="url(#mO)"/><circle cx="1712.8" cy="600.6" r="4.6" fill="url(#mO)"/><circle cx="1688.4" cy="605.8" r="4.6" fill="url(#mO)"/><circle cx="1711.1" cy="616.0" r="4.6" fill="url(#mO)"/></g><text x="1574.700" y="663.800" font-size="11.6" text-anchor="middle" fill="#111">Fe(IV)</text><text x="1760.600" y="663.400" font-size="11.6" text-anchor="middle" fill="#111">Fe(IV)</text><polygon points="420.0,628.5 464.8,628.5 464.8,621.9 476.4,632.6 464.8,643.3 464.8,636.7 420.0,636.7" fill="url(#arr)"/><polygon points="929.7,628.5 974.6,628.5 974.6,621.9 986.2,632.6 974.6,643.3 974.6,636.7 929.7,636.7" fill="url(#arr)"/><polygon points="1372.0,628.8 1417.6,628.8 1417.6,622.2 1429.2,632.9 1417.6,643.6 1417.6,637.0 1372.0,637.0" fill="url(#arr)"/><circle cx="443.4" cy="607.9" r="11.4" fill="none" stroke="#ff52c4" stroke-width="1.1"/><text x="443.4" y="614.3" font-family="Liberation Serif, serif" font-size="19.5" text-anchor="middle" fill="#ff52c4" stroke="#ff52c4" stroke-width="0.35" style="font-family:'Liberation Serif',serif">1</text><circle cx="953.8" cy="607.6" r="11.4" fill="none" stroke="#ff52c4" stroke-width="1.1"/><text x="953.8" y="614.0" font-family="Liberation Serif, serif" font-size="19.5" text-anchor="middle" fill="#ff52c4" stroke="#ff52c4" stroke-width="0.35" style="font-family:'Liberation Serif',serif">2</text><circle cx="1404.9" cy="607.6" r="11.4" fill="none" stroke="#ff52c4" stroke-width="1.1"/><text x="1404.9" y="614.0" font-family="Liberation Serif, serif" font-size="19.5" text-anchor="middle" fill="#ff52c4" stroke="#ff52c4" stroke-width="0.35" style="font-family:'Liberation Serif',serif">3</text><circle cx="1622.4" cy="639.6" r="11.4" fill="none" stroke="#ff52c4" stroke-width="1.1"/><text x="1622.4" y="646.0" font-family="Liberation Serif, serif" font-size="19.5" text-anchor="middle" fill="#ff52c4" stroke="#ff52c4" stroke-width="0.35" style="font-family:'Liberation Serif',serif">4</text><circle cx="1702.0" cy="639.6" r="11.4" fill="none" stroke="#ff52c4" stroke-width="1.1"/><text x="1702.0" y="646.0" font-family="Liberation Serif, serif" font-size="19.5" text-anchor="middle" fill="#ff52c4" stroke="#ff52c4" stroke-width="0.35" style="font-family:'Liberation Serif',serif">4</text><linearGradient id="ca5" gradientUnits="userSpaceOnUse" x1="1595.0" y1="656.5" x2="1642.5" y2="659.5"><stop offset="0" stop-color="#bab7b5" stop-opacity="0.05"/><stop offset="0.55" stop-color="#bab7b5" stop-opacity="0.7"/><stop offset="1" stop-color="#bab7b5" stop-opacity="1"/></linearGradient><polygon points="1595.1,656.9 1597.1,656.6 1599.2,656.3 1601.3,656.1 1603.3,655.9 1605.4,655.8 1607.4,655.7 1609.4,655.6 1611.4,655.6 1613.4,655.6 1615.4,655.7 1617.4,655.8 1619.3,655.9 1621.3,656.1 1623.2,656.3 1625.1,656.6 1627.1,656.9 1629.0,657.3 1630.9,657.7 1632.8,658.1 1634.6,658.6 1633.7,661.8 1642.5,659.5 1636.2,652.9 1635.2,656.1 1633.3,655.7 1631.3,655.3 1629.4,655.0 1627.4,654.8 1625.4,654.5 1623.4,654.3 1621.4,654.2 1619.4,654.1 1617.4,654.0 1615.4,654.0 1613.4,654.0 1611.4,654.1 1609.3,654.2 1607.3,654.3 1605.3,654.5 1603.2,654.8 1601.1,655.0 1599.1,655.3 1597.0,655.7 1594.9,656.1" fill="url(#ca5)"/><linearGradient id="ca6" gradientUnits="userSpaceOnUse" x1="1733.0" y1="656.8" x2="1685.0" y2="659.6"><stop offset="0" stop-color="#bab7b5" stop-opacity="0.05"/><stop offset="0.55" stop-color="#bab7b5" stop-opacity="0.7"/><stop offset="1" stop-color="#bab7b5" stop-opacity="1"/></linearGradient><polygon points="1733.1,656.4 1730.8,656.1 1728.6,655.7 1726.4,655.5 1724.2,655.2 1722.1,655.0 1719.9,654.9 1717.8,654.7 1715.7,654.7 1713.6,654.6 1711.5,654.6 1709.5,654.6 1707.4,654.7 1705.4,654.8 1703.4,654.9 1701.5,655.1 1699.5,655.3 1697.6,655.5 1695.7,655.8 1693.8,656.1 1691.9,656.4 1691.0,653.2 1685.0,659.6 1693.4,662.1 1692.4,658.9 1694.3,658.5 1696.1,658.1 1697.9,657.8 1699.8,657.5 1701.7,657.2 1703.6,656.9 1705.6,656.7 1707.6,656.5 1709.5,656.4 1711.6,656.3 1713.6,656.2 1715.7,656.2 1717.7,656.2 1719.8,656.2 1722.0,656.3 1724.1,656.4 1726.3,656.6 1728.5,656.7 1730.7,656.9 1732.9,657.2" fill="url(#ca6)"/><g fill="none" stroke="#c4c4c4" stroke-width="1.25" stroke-linecap="round" stroke-linejoin="round"><path d="M1649.8 663.6L1677.0 674.8" stroke-width="4.3"/><path d="M1649.8 663.6L1677.0 674.8" stroke="#fff" stroke-width="2.1"/><circle cx="1648.3" cy="662.1" r="1.700" fill="#fff"/><circle cx="1649.6" cy="665.2" r="1.700" fill="#fff"/><circle cx="1678.5" cy="673.3" r="1.700" fill="#fff"/><circle cx="1677.2" cy="676.4" r="1.700" fill="#fff"/><path d="M1677.0 663.6L1649.8 674.8" stroke-width="4.3"/><path d="M1677.0 663.6L1649.8 674.8" stroke="#fff" stroke-width="2.1"/><circle cx="1678.5" cy="662.1" r="1.700" fill="#fff"/><circle cx="1677.2" cy="665.2" r="1.700" fill="#fff"/><circle cx="1648.3" cy="673.3" r="1.700" fill="#fff"/><circle cx="1649.6" cy="676.4" r="1.700" fill="#fff"/><path d="M1663.4 646.0c-6.200 0 -10.800 4.200 -10.800 10.200c0 3.600 1.500 5.700 3.600 7.100l0.300 3.800c0.400 2.600 2.200 4 4.400 4.400q2.500 0.500 5 0q2.200 -0.400 4.400 -4.400l0.300 -3.800c2.100 -1.400 3.600 -3.500 3.600 -7.100c0 -6 -4.600 -10.200 -10.800 -10.200z" fill="#fff"/><circle cx="1659.2" cy="659.4" r="2.450" fill="#c4c4c4" stroke="none"/><circle cx="1667.6" cy="659.4" r="2.450" fill="#c4c4c4" stroke="none"/><path d="M1663.4 662.8l-1.200 2.800h2.400z" fill="#c4c4c4" stroke="none"/><path d="M1661.1 667.8v2.400M1663.4 668.0v2.600M1665.7 667.8v2.400" stroke-width="0.8"/></g><text x="1663" y="692.200" font-size="16.5" text-anchor="middle" fill="#000">OFC</text><linearGradient id="ca7" gradientUnits="userSpaceOnUse" x1="1660.0" y1="698.0" x2="1623.5" y2="748.5"><stop offset="0" stop-color="#b4b1af" stop-opacity="0.05"/><stop offset="0.55" stop-color="#b4b1af" stop-opacity="0.7"/><stop offset="1" stop-color="#b4b1af" stop-opacity="1"/></linearGradient><polygon points="1659.8,697.7 1657.6,699.1 1655.4,700.6 1653.3,702.2 1651.2,703.8 1649.2,705.4 1647.2,707.2 1645.3,708.9 1643.5,710.8 1641.6,712.6 1639.9,714.6 1638.2,716.6 1636.5,718.6 1634.9,720.7 1633.3,722.9 1631.8,725.1 1630.4,727.4 1629.0,729.7 1627.6,732.1 1626.3,734.5 1625.1,737.0 1620.4,735.4 1623.5,748.5 1634.4,740.7 1629.8,739.1 1630.8,736.6 1631.8,734.2 1632.9,731.8 1634.1,729.5 1635.3,727.2 1636.6,725.0 1637.9,722.8 1639.3,720.6 1640.7,718.5 1642.2,716.5 1643.7,714.4 1645.3,712.5 1647.0,710.5 1648.7,708.7 1650.5,706.8 1652.3,705.0 1654.2,703.3 1656.2,701.6 1658.2,699.9 1660.2,698.3" fill="url(#ca7)"/><rect x="1532.300" y="755.300" width="169.300" height="46.500" fill="#fff" stroke="#2fb878" stroke-width="1.1"/><text x="1617" y="773.800" font-size="16.9" text-anchor="middle" fill="#000">Low-toxic</text><text x="1617" y="793.800" font-size="16.9" text-anchor="middle" fill="#000">degradation products</text><rect x="1557.800" y="812.500" width="40.900" height="21.700" fill="#fff" stroke="#2fb878" stroke-width="1.1"/><text x="1578" y="829.800" font-size="16.6" text-anchor="middle" fill="#000">CO<tspan font-size="10.5">2</tspan></text><rect x="1627.700" y="806.100" width="40.900" height="21.500" fill="#fff" stroke="#2fb878" stroke-width="1.1"/><text x="1648.400" y="823.200" font-size="16.6" text-anchor="middle" fill="#000">H<tspan font-size="10.5">2</tspan>O</text><text transform="translate(26.6,533) scale(1.2,1)" font-size="41" fill="#000">c</text><text x="294.200" y="569.600" font-size="27.7" fill="#000">The formation of Fe-OH</text><text x="820.800" y="569.600" font-size="27.7" fill="#000">The adsorption of PDS</text><text x="1253.500" y="569.300" font-size="24.4" fill="#000">The <tspan font-size="27.7">formation</tspan> of Fe(IV)=O</text><text x="1663" y="569.600" font-size="27.7" fill="#000">OFC degradation</text><circle cx="96.3" cy="840.5" r="10.7" fill="url(#mH)" stroke="#d6d6d6" stroke-width="0.8"/><text x="114.0" y="849.2" font-size="21.8" fill="#000">H</text><circle cx="338.9" cy="833.3" r="10.7" fill="url(#mS)"/><text x="355.0" y="841.6" font-size="21.8" fill="#000">S</text><circle cx="528.4" cy="833.3" r="10.7" fill="url(#mN)"/><text x="545.0" y="841.6" font-size="21.8" fill="#000">N</text><circle cx="723.3" cy="833.3" r="10.7" fill="url(#mO)"/><text x="739.5" y="841.6" font-size="21.8" fill="#000">O</text><circle cx="918.8" cy="833.1" r="10.7" fill="url(#mF4)"/><text x="933.6" y="841.5" font-size="21.8" fill="#000">Fe(IV)</text><circle cx="1113.9" cy="833.1" r="10.7" fill="url(#mFe)"/><text x="1130.3" y="841.5" font-size="21.8" fill="#000">Fe</text><circle cx="1309.0" cy="833.1" r="10.7" fill="url(#mC)"/><text x="1324.6" y="841.5" font-size="21.8" fill="#000">C</text></svg>
</body></html>
